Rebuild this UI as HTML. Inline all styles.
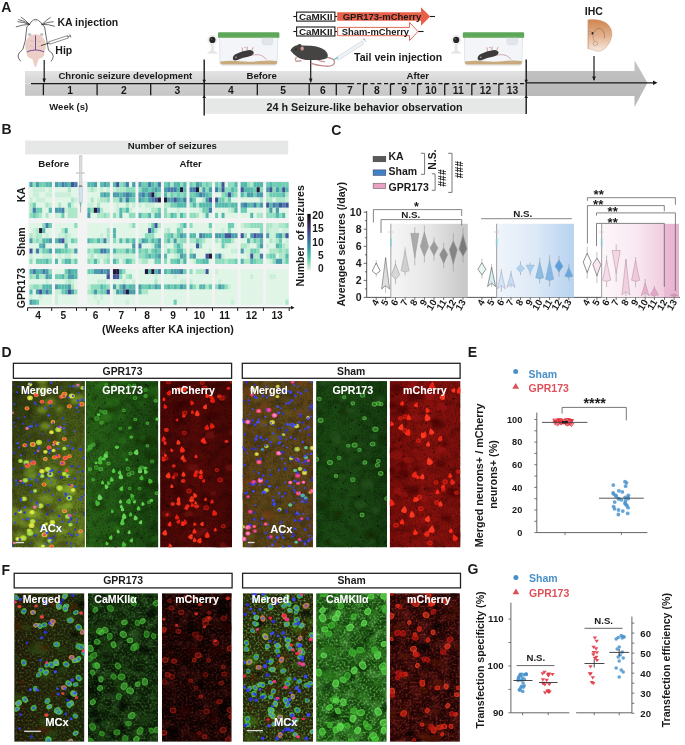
<!DOCTYPE html>
<html><head><meta charset="utf-8"><style>
html,body{margin:0;padding:0;background:#fff;width:685px;height:745px;overflow:hidden}
svg{display:block;will-change:transform}
text{font-family:"Liberation Sans",sans-serif;font-weight:bold}
</style></head><body>
<svg width="685" height="745" viewBox="0 0 685 745">
<rect width="685" height="745" fill="#fff"/>
<defs>
<filter id="bl0" x="-50%" y="-50%" width="200%" height="200%"><feGaussianBlur stdDeviation="0.3"/></filter>
<filter id="bl1" x="-50%" y="-50%" width="200%" height="200%"><feGaussianBlur stdDeviation="0.55"/></filter>
<filter id="bl15" x="-50%" y="-50%" width="200%" height="200%"><feGaussianBlur stdDeviation="0.7"/></filter>
<filter id="bl2" x="-50%" y="-50%" width="200%" height="200%"><feGaussianBlur stdDeviation="1.6"/></filter>
<filter id="tsh" x="-20%" y="-30%" width="140%" height="160%"><feGaussianBlur in="SourceAlpha" stdDeviation="0.6" result="b"/><feOffset dx="0.3" dy="0.4"/><feComponentTransfer><feFuncA type="linear" slope="0.6"/></feComponentTransfer><feMerge><feMergeNode/><feMergeNode in="SourceGraphic"/></feMerge></filter>
<filter id="nzk" x="0" y="0" width="100%" height="100%"><feTurbulence type="fractalNoise" baseFrequency="0.6" numOctaves="2" seed="3"/><feColorMatrix type="matrix" values="0 0 0 0 0  0 0 0 0 0  0 0 0 0 0  2.2 0 0 0 -1.0"/></filter><filter id="nzkb" x="0" y="0" width="100%" height="100%"><feTurbulence type="fractalNoise" baseFrequency="0.12" numOctaves="2" seed="5"/><feColorMatrix type="matrix" values="0 0 0 0 0  0 0 0 0 0  0 0 0 0 0  2.5 0 0 0 -1.1"/></filter><filter id="nzg" x="0" y="0" width="100%" height="100%"><feTurbulence type="fractalNoise" baseFrequency="0.5" numOctaves="2" seed="7"/><feColorMatrix type="matrix" values="0 0 0 0 0.2  0 0 0 0 0.8  0 0 0 0 0.15  2.6 0 0 0 -1.15"/></filter><filter id="nzgb" x="0" y="0" width="100%" height="100%"><feTurbulence type="fractalNoise" baseFrequency="0.1" numOctaves="2" seed="13"/><feColorMatrix type="matrix" values="0 0 0 0 0.2  0 0 0 0 0.75  0 0 0 0 0.15  2.4 0 0 0 -1.0"/></filter><filter id="nzr" x="0" y="0" width="100%" height="100%"><feTurbulence type="fractalNoise" baseFrequency="0.5" numOctaves="2" seed="11"/><feColorMatrix type="matrix" values="0 0 0 0 0.9  0 0 0 0 0.08  0 0 0 0 0.05  2.6 0 0 0 -1.15"/></filter><filter id="nzrb" x="0" y="0" width="100%" height="100%"><feTurbulence type="fractalNoise" baseFrequency="0.1" numOctaves="2" seed="17"/><feColorMatrix type="matrix" values="0 0 0 0 0.85  0 0 0 0 0.07  0 0 0 0 0.05  2.4 0 0 0 -1.0"/></filter></defs>
<text x="1.2" y="11.8" font-size="14" text-anchor="start" fill="#1a1a1a" >A</text>
<defs>
<linearGradient id="barTop" x1="0" y1="0" x2="0" y2="1"><stop offset="0" stop-color="#e4e4e4"/><stop offset="1" stop-color="#d2d2d2"/></linearGradient>
<linearGradient id="barBot" x1="0" y1="0" x2="0" y2="1"><stop offset="0" stop-color="#cfcfcf"/><stop offset="1" stop-color="#c6c6c6"/></linearGradient>
<linearGradient id="barR" x1="0" y1="0" x2="0" y2="1"><stop offset="0" stop-color="#c4c4c4"/><stop offset="1" stop-color="#b6b6b6"/></linearGradient>
<linearGradient id="brainG" x1="0" y1="0" x2="0" y2="1"><stop offset="0" stop-color="#cf8650"/><stop offset="0.5" stop-color="#e2b08c"/><stop offset="1" stop-color="#f8ebe2"/></linearGradient>
</defs>
<rect x="25" y="71" width="501" height="12.6" fill="url(#barTop)"/>
<rect x="25" y="83.6" width="501" height="12.2" fill="url(#barBot)"/>
<path d="M526,71 L634.5,71 L634.5,60.2 L647.5,82.8 L634.5,107 L634.5,96 L526,96 Z" fill="url(#barR)"/>
<rect x="205.4" y="98.4" width="320.6" height="15.4" fill="#e6e7e7"/>
<line x1="31" y1="83.6" x2="350" y2="83.6" stroke="#1a1a1a" stroke-width="1.4"/>
<line x1="350" y1="83.6" x2="526" y2="83.6" stroke="#1a1a1a" stroke-width="1.3" stroke-dasharray="4.2,2.6"/>
<line x1="526" y1="82.8" x2="654" y2="82.8" stroke="#1a1a1a" stroke-width="1.2"/>
<path d="M653,80.6 L657.5,82.8 L653,85 Z" fill="#1a1a1a"/>
<line x1="43.4" y1="83.6" x2="43.4" y2="95.2" stroke="#1a1a1a" stroke-width="1.3"/>
<line x1="97.1" y1="83.6" x2="97.1" y2="95.2" stroke="#1a1a1a" stroke-width="1.3"/>
<line x1="150.7" y1="83.6" x2="150.7" y2="95.2" stroke="#1a1a1a" stroke-width="1.3"/>
<line x1="257.3" y1="83.6" x2="257.3" y2="95.2" stroke="#1a1a1a" stroke-width="1.3"/>
<line x1="309.2" y1="83.6" x2="309.2" y2="95.2" stroke="#1a1a1a" stroke-width="1.3"/>
<line x1="336.3" y1="83.6" x2="336.3" y2="95.2" stroke="#1a1a1a" stroke-width="1.3"/>
<line x1="363.4" y1="83.6" x2="363.4" y2="95.2" stroke="#1a1a1a" stroke-width="1.3"/>
<line x1="363.4" y1="84" x2="366.9" y2="84" stroke="#1a1a1a" stroke-width="1.2"/>
<line x1="390.5" y1="83.6" x2="390.5" y2="95.2" stroke="#1a1a1a" stroke-width="1.3"/>
<line x1="390.5" y1="84" x2="394.0" y2="84" stroke="#1a1a1a" stroke-width="1.2"/>
<line x1="417.6" y1="83.6" x2="417.6" y2="95.2" stroke="#1a1a1a" stroke-width="1.3"/>
<line x1="417.6" y1="84" x2="421.1" y2="84" stroke="#1a1a1a" stroke-width="1.2"/>
<line x1="444.7" y1="83.6" x2="444.7" y2="95.2" stroke="#1a1a1a" stroke-width="1.3"/>
<line x1="444.7" y1="84" x2="448.2" y2="84" stroke="#1a1a1a" stroke-width="1.2"/>
<line x1="471.8" y1="83.6" x2="471.8" y2="95.2" stroke="#1a1a1a" stroke-width="1.3"/>
<line x1="471.8" y1="84" x2="475.3" y2="84" stroke="#1a1a1a" stroke-width="1.2"/>
<line x1="498.9" y1="83.6" x2="498.9" y2="95.2" stroke="#1a1a1a" stroke-width="1.3"/>
<line x1="498.9" y1="84" x2="502.4" y2="84" stroke="#1a1a1a" stroke-width="1.2"/>
<text x="70.2" y="93.9" font-size="10.3" text-anchor="middle" fill="#1a1a1a" >1</text>
<text x="123.9" y="93.9" font-size="10.3" text-anchor="middle" fill="#1a1a1a" >2</text>
<text x="177.4" y="93.9" font-size="10.3" text-anchor="middle" fill="#1a1a1a" >3</text>
<text x="230.8" y="93.9" font-size="10.3" text-anchor="middle" fill="#1a1a1a" >4</text>
<text x="283.2" y="93.9" font-size="10.3" text-anchor="middle" fill="#1a1a1a" >5</text>
<text x="322.8" y="93.9" font-size="10.3" text-anchor="middle" fill="#1a1a1a" >6</text>
<text x="349.9" y="93.9" font-size="10.3" text-anchor="middle" fill="#1a1a1a" >7</text>
<text x="376.9" y="93.9" font-size="10.3" text-anchor="middle" fill="#1a1a1a" >8</text>
<text x="404.1" y="93.9" font-size="10.3" text-anchor="middle" fill="#1a1a1a" >9</text>
<text x="431.1" y="93.9" font-size="10.3" text-anchor="middle" fill="#1a1a1a" >10</text>
<text x="458.2" y="93.9" font-size="10.3" text-anchor="middle" fill="#1a1a1a" >11</text>
<text x="485.4" y="93.9" font-size="10.3" text-anchor="middle" fill="#1a1a1a" >12</text>
<text x="512.5" y="93.9" font-size="10.3" text-anchor="middle" fill="#1a1a1a" >13</text>
<line x1="204.2" y1="59.5" x2="204.2" y2="115.5" stroke="#1a1a1a" stroke-width="1.4"/>
<line x1="526.2" y1="59.5" x2="526.2" y2="114" stroke="#1a1a1a" stroke-width="1.4"/>
<path d="M202.39999999999998,79.8 L206.0,79.8 L204.2,83 Z" fill="#1a1a1a"/>
<path d="M202.39999999999998,98 L206.0,98 L204.2,95 Z" fill="#1a1a1a"/>
<path d="M524.4000000000001,79.8 L528.0,79.8 L526.2,83 Z" fill="#1a1a1a"/>
<path d="M524.4000000000001,98 L528.0,98 L526.2,95 Z" fill="#1a1a1a"/>
<text x="125.3" y="79.3" font-size="9.6" text-anchor="middle" fill="#1a1a1a" >Chronic seizure development</text>
<text x="261.7" y="79.3" font-size="9.6" text-anchor="middle" fill="#1a1a1a" >Before</text>
<text x="417.8" y="79.3" font-size="9.6" text-anchor="middle" fill="#1a1a1a" >After</text>
<text x="364.6" y="110.9" font-size="10.75" text-anchor="middle" fill="#1a1a1a" >24 h Seizure-like behavior observation</text>
<text x="49.3" y="109.5" font-size="9.5" text-anchor="start" fill="#1a1a1a" >Week (s)</text>
<line x1="44.2" y1="60" x2="44.2" y2="82" stroke="#1a1a1a" stroke-width="1.2"/>
<path d="M42.4,78.6 L46,78.6 L44.2,83 Z" fill="#1a1a1a"/>
<line x1="310.7" y1="58" x2="310.7" y2="82" stroke="#1a1a1a" stroke-width="1.2"/>
<path d="M308.9,78.6 L312.5,78.6 L310.7,83 Z" fill="#1a1a1a"/>
<line x1="594" y1="56" x2="594" y2="80" stroke="#1a1a1a" stroke-width="1.2"/>
<path d="M592.2,76.6 L595.8,76.6 L594,81 Z" fill="#1a1a1a"/>
<text x="57.4" y="26.4" font-size="10.5" text-anchor="start" fill="#1a1a1a" >KA injection</text>
<text x="55.3" y="53.5" font-size="10.5" text-anchor="start" fill="#1a1a1a" >Hip</text>
<text x="354" y="60.6" font-size="10.6" text-anchor="start" fill="#1a1a1a" >Tail vein injection</text>
<text x="593.8" y="15.4" font-size="10.5" text-anchor="middle" fill="#1a1a1a" >IHC</text>
<g fill="none" stroke="#2a2a2a" stroke-width="0.7" stroke-linecap="round">
<path d="M29.6,24.4 Q25,19.5 21.1,17.2"/>
<path d="M29.6,24.4 Q23,21.8 17.9,21.7"/>
<path d="M29.6,24.4 Q22,24.6 16.2,26.8"/>
<path d="M29.6,24.4 Q24,20.6 18.8,19.6"/>
<path d="M42.1,24.4 Q46.5,19.8 50.3,17.5"/>
<path d="M42.1,24.4 Q48,21.8 53.2,21.7"/>
<path d="M42.1,24.4 Q49,24.2 54.5,26.2"/>
<path d="M29.6,24.4 Q31,21.2 32.2,21.1 Q33.2,19.4 35.6,19.4 Q38,19.4 38.9,21.1 Q40.4,21.2 42.1,24.4"/>
<path d="M29.6,24.4 Q27.6,25.6 26.8,27 L25.3,40.6 L22.8,49.4 Q18,53 18,56 Q18.5,59 20.5,61"/>
<path d="M42.1,24.4 Q44,25.6 44.6,27 L46.8,40.6 L48.5,50.3 Q53.3,53 53.3,56.4 Q52.8,59.5 51.2,61.2"/>
</g>
<ellipse cx="35.6" cy="20.6" rx="1.9" ry="0.9" fill="#d0d0d0"/>
<ellipse cx="29.6" cy="34.6" rx="1.4" ry="1.1" fill="#c8c8c8" stroke="#888" stroke-width="0.4"/>
<ellipse cx="41.7" cy="34.6" rx="1.4" ry="1.1" fill="#c8c8c8" stroke="#888" stroke-width="0.4"/>
<path d="M35.5,34.5 Q43,35 45,42 Q46.3,48 44,52 Q45,56 41,58 L38.5,58.5 Q37,63 36,66.5 L35,66.5 Q34,63 32.5,58.5 L30,58 Q26,56 27,52 Q24.7,48 26,42 Q28,35 35.5,34.5 Z" fill="#ecd0c8" stroke="#e0b8b0" stroke-width="0.4"/>
<path d="M35.5,35.5 L35.5,50 M27,51.8 Q31,50 35.5,50 Q40,50 44,51.8" fill="none" stroke="#6b3d8f" stroke-width="0.9"/>
<path d="M30,40 Q32,42 34,41 M37,41 Q39,43 41,41 M29,46 Q31,45 33,47 M38,47 Q40,45 42,46" fill="none" stroke="#b89aa8" stroke-width="0.4"/>
<line x1="41" y1="45.6" x2="49" y2="43" stroke="#222" stroke-width="0.8"/>
<path d="M48.8,41.8 L67.6,35.6 L68.4,38 L49.6,44.2 Z" fill="#fff" stroke="#444" stroke-width="0.6"/>
<line x1="67.4" y1="36.8" x2="70.5" y2="35.8" stroke="#444" stroke-width="0.7"/>
<line x1="69.8" y1="34.4" x2="70.9" y2="37.4" stroke="#444" stroke-width="0.7"/>
<g stroke="#1a1a1a" stroke-width="1.1" fill="none">
<line x1="293.3" y1="16.5" x2="296.6" y2="16.5"/><line x1="334.9" y1="16.5" x2="337.2" y2="16.5"/><line x1="430" y1="16.5" x2="435" y2="16.5"/>
<line x1="293.3" y1="31.5" x2="296.6" y2="31.5"/><line x1="334.9" y1="31.5" x2="337.2" y2="31.5"/><line x1="418" y1="31.5" x2="423.6" y2="31.5"/>
<rect x="296.6" y="12.1" width="38.3" height="9" fill="#fff"/>
<rect x="296.6" y="27" width="38.3" height="9" fill="#fff"/>
</g>
<path d="M337.2,12.3 L421,12.3 L421,7.3 L430.2,16.5 L421,25.7 L421,20.8 L337.2,20.8 Z" fill="#e8604a"/>
<path d="M337.6,27.4 L409.5,27.4 L409.5,22.4 L418,31.5 L409.5,40.6 L409.5,35.7 L337.6,35.7 Z" fill="#fff" stroke="#e05a48" stroke-width="0.9"/>
<text x="315.7" y="20.0" font-size="9.9" text-anchor="middle" fill="#1a1a1a" >CaMKII</text>
<text x="315.7" y="35.0" font-size="9.9" text-anchor="middle" fill="#1a1a1a" >CaMKII</text>
<text x="382" y="20.0" font-size="9.5" text-anchor="middle" fill="#1a1a1a" >GPR173-mCherry</text>
<text x="375.4" y="35.0" font-size="9.4" text-anchor="middle" fill="#1a1a1a" >Sham-mCherry</text>
<path d="M219.6,37.5 L277.79999999999995,37.5 L277.2,63 Q277.0,65.3 274.4,65.3 L222.5,65.3 Q220.0,65.3 219.9,63 Z" fill="#f3f5f9" stroke="#d4d8de" stroke-width="0.6"/>
<path d="M220.2,61.4 Q230.0,60.2 240.0,61.2 T260.0,61 T277.0,61 L277.0,63.2 Q276.4,64.4 274.4,64.4 L222.5,64.4 Q220.5,64.4 220.2,63 Z" fill="#c9aa7c"/>
<rect x="218.0" y="32.2" width="61.4" height="5.8" rx="1.3" fill="#5ea65a"/>
<rect x="218.5" y="36.8" width="60.4" height="1.2" fill="#7cb878"/>
<path d="M262.09999999999997,38 L272.7,38 L272.7,42.5 Q272.4,44.9 269.9,44.9 L264.9,44.9 Q262.4,44.9 262.09999999999997,42.5 Z" fill="#e2e6ec" stroke="#d0d4da" stroke-width="0.4"/>
<path d="M250.0,55.5 Q260.0,53.2 264.0,57.2 L266.5,59.4" stroke="#c08c8c" stroke-width="0.7" fill="none"/>
<path d="M243.0,51.6 L242.0,47.4 M247.0,50.6 L247.4,46.6 M252.0,50.2 L253.2,47.2 M244.4,47.4 L246.0,47.8" stroke="#c89494" stroke-width="0.9" fill="none"/>
<path d="M233.0,59.6 Q232.0,56 236.0,54 Q242.0,50.6 248.0,50.2 Q253.0,49.6 253.8,52.6 Q253.5,55.6 248.0,56.8 Q242.0,58 238.0,59.8 Q234.5,61.2 233.0,59.6 Z" fill="#3c3a3a"/>
<circle cx="236.0" cy="57.4" r="0.8" fill="#c89494"/>
<path d="M211.3,44 L211.3,50.8 L207.4,53.2 L217.4,53.2 L213.5,50.8 L213.5,44 Z" fill="#e8e8e8" stroke="#d6d6d6" stroke-width="0.4"/>
<circle cx="212.4" cy="39.9" r="4.6" fill="#f4f4f4" stroke="#dcdcdc" stroke-width="0.5"/>
<circle cx="212.4" cy="39.9" r="3.1" fill="#262626"/>
<circle cx="211.5" cy="39" r="0.8" fill="#666"/>
<path d="M464.40000000000003,37.5 L522.6,37.5 L522.0,63 Q521.8000000000001,65.3 519.2,65.3 L467.3,65.3 Q464.8,65.3 464.7,63 Z" fill="#f3f5f9" stroke="#d4d8de" stroke-width="0.6"/>
<path d="M465.0,61.4 Q474.8,60.2 484.8,61.2 T504.8,61 T521.8000000000001,61 L521.8000000000001,63.2 Q521.2,64.4 519.2,64.4 L467.3,64.4 Q465.3,64.4 465.0,63 Z" fill="#c9aa7c"/>
<rect x="462.8" y="32.2" width="61.4" height="5.8" rx="1.3" fill="#5ea65a"/>
<rect x="463.3" y="36.8" width="60.4" height="1.2" fill="#7cb878"/>
<path d="M506.90000000000003,38 L517.5,38 L517.5,42.5 Q517.2,44.9 514.7,44.9 L509.70000000000005,44.9 Q507.20000000000005,44.9 506.90000000000003,42.5 Z" fill="#e2e6ec" stroke="#d0d4da" stroke-width="0.4"/>
<path d="M494.8,55.5 Q504.8,53.2 508.8,57.2 L511.3,59.4" stroke="#c08c8c" stroke-width="0.7" fill="none"/>
<path d="M487.8,51.6 L486.8,47.4 M491.8,50.6 L492.2,46.6 M496.8,50.2 L498.0,47.2 M489.2,47.4 L490.8,47.8" stroke="#c89494" stroke-width="0.9" fill="none"/>
<path d="M477.8,59.6 Q476.8,56 480.8,54 Q486.8,50.6 492.8,50.2 Q497.8,49.6 498.6,52.6 Q498.3,55.6 492.8,56.8 Q486.8,58 482.8,59.8 Q479.3,61.2 477.8,59.6 Z" fill="#3c3a3a"/>
<circle cx="480.8" cy="57.4" r="0.8" fill="#c89494"/>
<path d="M455.09999999999997,44 L455.09999999999997,50.8 L451.2,53.2 L461.2,53.2 L457.3,50.8 L457.3,44 Z" fill="#e8e8e8" stroke="#d6d6d6" stroke-width="0.4"/>
<circle cx="456.2" cy="39.9" r="4.6" fill="#f4f4f4" stroke="#dcdcdc" stroke-width="0.5"/>
<circle cx="456.2" cy="39.9" r="3.1" fill="#262626"/>
<circle cx="455.3" cy="39" r="0.8" fill="#666"/>
<path d="M326,57.3 Q334,57.8 334.6,62 Q334.2,66.6 326,66.2 Q316,65.4 310.8,63.2" stroke="#c48a8a" stroke-width="1.3" fill="none"/>
<path d="M296.5,57 Q294.5,60 296.2,61.2 L301.5,60.8 M317,59.3 Q320.5,62 325,61.6" stroke="#c99a98" stroke-width="1.4" fill="none"/>
<path d="M290.4,50.6 Q292,46.6 297,45.3 L299.3,44.1 Q301,43.8 301.6,45.4 Q306,45.4 311,45.7 Q320,46.4 324.6,50 Q328.6,53.6 327.6,57 Q326,59.6 320,59.9 L306,59.9 Q301,59.6 298,57.6 Q293,54.2 290.4,50.6 Z" fill="#464442"/>
<ellipse cx="302.2" cy="48.6" rx="1.7" ry="2.1" fill="#c99a98"/>
<circle cx="296" cy="49.3" r="0.7" fill="#111"/>
<path d="M336,57.5 L362,41 L364,43.8 L338,60.3 Z" fill="#eef3f7" stroke="#b8c4cc" stroke-width="0.5"/>
<path d="M333.5,59.8 L338,57.5" stroke="#5fb8c0" stroke-width="1.2"/>
<path d="M362.5,40 L365.5,39 M363.5,38.3 L366,42" stroke="#aab" stroke-width="0.7"/>
<path d="M588.1,19.8 Q600,18.6 607,23.6 Q612.6,28.8 611.9,35.5 Q611,43 604.5,48.8 Q600.5,52 596.5,51.2 Q592,49 588.1,48.8 Z" fill="url(#brainG)" stroke="#c08a68" stroke-width="0.4"/>
<path d="M588.1,20 L588.1,48.8" stroke="#c08a68" stroke-width="0.5"/>
<path d="M593.5,33 Q596,27.5 600.5,28.5 Q605,30.5 604.6,38.5" stroke="#806050" stroke-width="0.5" fill="none"/>
<path d="M593.2,33.5 Q592.6,38 594.2,41" stroke="#806050" stroke-width="0.4" fill="none"/>
<ellipse cx="595.4" cy="43.5" rx="2.3" ry="2" fill="none" stroke="#907060" stroke-width="0.4"/>
<ellipse cx="592.5" cy="33.3" rx="0.9" ry="1.2" fill="#222"/>
<path d="M588.1,31.6 L591.5,31.6 M588.1,34.5 L591,34.5" stroke="#a08070" stroke-width="0.4"/>
<text x="1.5" y="134.4" font-size="14" text-anchor="start" fill="#1a1a1a" >B</text>
<rect x="25.2" y="140.6" width="263" height="13.8" fill="#e6e7e7"/>
<text x="172.3" y="149.4" font-size="9.6" text-anchor="middle" fill="#1a1a1a" >Number of seizures</text>
<text x="53.7" y="167.3" font-size="9.7" text-anchor="middle" fill="#1a1a1a" >Before</text>
<text x="190.6" y="167.4" font-size="9.6" text-anchor="middle" fill="#1a1a1a" >After</text>
<rect x="28" y="181" width="261" height="125.5" fill="#f3f3f3"/>
<rect x="29.50" y="182.10" width="3.25" height="5.18" fill="#4a9cab"/>
<rect x="32.70" y="182.10" width="3.25" height="5.18" fill="#8cdcbe"/>
<rect x="35.90" y="182.10" width="3.25" height="5.18" fill="#4a9cab"/>
<rect x="39.10" y="182.10" width="3.25" height="5.18" fill="#6ccdb3"/>
<rect x="42.30" y="182.10" width="3.25" height="5.18" fill="#6ccdb3"/>
<rect x="45.50" y="182.10" width="3.25" height="5.18" fill="#55b8ad"/>
<rect x="48.70" y="182.10" width="3.25" height="5.18" fill="#55b8ad"/>
<rect x="29.50" y="187.23" width="3.25" height="5.18" fill="#dff5e6"/>
<rect x="32.70" y="187.23" width="3.25" height="5.18" fill="#c8efd8"/>
<rect x="35.90" y="187.23" width="3.25" height="5.18" fill="#c8efd8"/>
<rect x="39.10" y="187.23" width="3.25" height="5.18" fill="#c8efd8"/>
<rect x="42.30" y="187.23" width="3.25" height="5.18" fill="#c8efd8"/>
<rect x="45.50" y="187.23" width="3.25" height="5.18" fill="#dff5e6"/>
<rect x="48.70" y="187.23" width="3.25" height="5.18" fill="#c8efd8"/>
<rect x="29.50" y="192.36" width="3.25" height="5.18" fill="#dff5e6"/>
<rect x="32.70" y="192.36" width="3.25" height="5.18" fill="#c8efd8"/>
<rect x="35.90" y="192.36" width="3.25" height="5.18" fill="#c8efd8"/>
<rect x="39.10" y="192.36" width="3.25" height="5.18" fill="#dff5e6"/>
<rect x="42.30" y="192.36" width="3.25" height="5.18" fill="#dff5e6"/>
<rect x="45.50" y="192.36" width="3.25" height="5.18" fill="#c8efd8"/>
<rect x="48.70" y="192.36" width="3.25" height="5.18" fill="#c8efd8"/>
<rect x="29.50" y="197.49" width="3.25" height="5.18" fill="#c8efd8"/>
<rect x="32.70" y="197.49" width="3.25" height="5.18" fill="#dff5e6"/>
<rect x="35.90" y="197.49" width="3.25" height="5.18" fill="#c8efd8"/>
<rect x="39.10" y="197.49" width="3.25" height="5.18" fill="#c8efd8"/>
<rect x="42.30" y="197.49" width="3.25" height="5.18" fill="#c8efd8"/>
<rect x="45.50" y="197.49" width="3.25" height="5.18" fill="#dff5e6"/>
<rect x="48.70" y="197.49" width="3.25" height="5.18" fill="#dff5e6"/>
<rect x="29.50" y="202.62" width="3.25" height="5.18" fill="#ace7c8"/>
<rect x="32.70" y="202.62" width="3.25" height="5.18" fill="#6ccdb3"/>
<rect x="35.90" y="202.62" width="3.25" height="5.18" fill="#dff5e6"/>
<rect x="39.10" y="202.62" width="3.25" height="5.18" fill="#dff5e6"/>
<rect x="42.30" y="202.62" width="3.25" height="5.18" fill="#dff5e6"/>
<rect x="45.50" y="202.62" width="3.25" height="5.18" fill="#ace7c8"/>
<rect x="48.70" y="202.62" width="3.25" height="5.18" fill="#c8efd8"/>
<rect x="29.50" y="207.75" width="3.25" height="5.18" fill="#ace7c8"/>
<rect x="32.70" y="207.75" width="3.25" height="5.18" fill="#437caa"/>
<rect x="35.90" y="207.75" width="3.25" height="5.18" fill="#6ccdb3"/>
<rect x="39.10" y="207.75" width="3.25" height="5.18" fill="#6ccdb3"/>
<rect x="42.30" y="207.75" width="3.25" height="5.18" fill="#dff5e6"/>
<rect x="45.50" y="207.75" width="3.25" height="5.18" fill="#dff5e6"/>
<rect x="48.70" y="207.75" width="3.25" height="5.18" fill="#55b8ad"/>
<rect x="29.50" y="212.88" width="3.25" height="5.18" fill="#8cdcbe"/>
<rect x="32.70" y="212.88" width="3.25" height="5.18" fill="#6ccdb3"/>
<rect x="35.90" y="212.88" width="3.25" height="5.18" fill="#8cdcbe"/>
<rect x="39.10" y="212.88" width="3.25" height="5.18" fill="#ace7c8"/>
<rect x="42.30" y="212.88" width="3.25" height="5.18" fill="#dff5e6"/>
<rect x="45.50" y="212.88" width="3.25" height="5.18" fill="#ace7c8"/>
<rect x="48.70" y="212.88" width="3.25" height="5.18" fill="#dff5e6"/>
<rect x="55.00" y="182.10" width="3.25" height="5.18" fill="#4a9cab"/>
<rect x="58.20" y="182.10" width="3.25" height="5.18" fill="#55b8ad"/>
<rect x="61.40" y="182.10" width="3.25" height="5.18" fill="#437caa"/>
<rect x="64.60" y="182.10" width="3.25" height="5.18" fill="#4a9cab"/>
<rect x="67.80" y="182.10" width="3.25" height="5.18" fill="#55b8ad"/>
<rect x="71.00" y="182.10" width="3.25" height="5.18" fill="#41549a"/>
<rect x="74.20" y="182.10" width="3.25" height="5.18" fill="#437caa"/>
<rect x="55.00" y="187.23" width="3.25" height="5.18" fill="#dff5e6"/>
<rect x="58.20" y="187.23" width="3.25" height="5.18" fill="#dff5e6"/>
<rect x="61.40" y="187.23" width="3.25" height="5.18" fill="#dff5e6"/>
<rect x="64.60" y="187.23" width="3.25" height="5.18" fill="#dff5e6"/>
<rect x="67.80" y="187.23" width="3.25" height="5.18" fill="#ace7c8"/>
<rect x="71.00" y="187.23" width="3.25" height="5.18" fill="#dff5e6"/>
<rect x="74.20" y="187.23" width="3.25" height="5.18" fill="#dff5e6"/>
<rect x="55.00" y="192.36" width="3.25" height="5.18" fill="#c8efd8"/>
<rect x="58.20" y="192.36" width="3.25" height="5.18" fill="#c8efd8"/>
<rect x="61.40" y="192.36" width="3.25" height="5.18" fill="#c8efd8"/>
<rect x="64.60" y="192.36" width="3.25" height="5.18" fill="#c8efd8"/>
<rect x="67.80" y="192.36" width="3.25" height="5.18" fill="#c8efd8"/>
<rect x="71.00" y="192.36" width="3.25" height="5.18" fill="#dff5e6"/>
<rect x="74.20" y="192.36" width="3.25" height="5.18" fill="#dff5e6"/>
<rect x="55.00" y="197.49" width="3.25" height="5.18" fill="#dff5e6"/>
<rect x="58.20" y="197.49" width="3.25" height="5.18" fill="#dff5e6"/>
<rect x="61.40" y="197.49" width="3.25" height="5.18" fill="#dff5e6"/>
<rect x="64.60" y="197.49" width="3.25" height="5.18" fill="#dff5e6"/>
<rect x="67.80" y="197.49" width="3.25" height="5.18" fill="#dff5e6"/>
<rect x="71.00" y="197.49" width="3.25" height="5.18" fill="#ace7c8"/>
<rect x="74.20" y="197.49" width="3.25" height="5.18" fill="#c8efd8"/>
<rect x="55.00" y="202.62" width="3.25" height="5.18" fill="#dff5e6"/>
<rect x="58.20" y="202.62" width="3.25" height="5.18" fill="#ace7c8"/>
<rect x="61.40" y="202.62" width="3.25" height="5.18" fill="#dff5e6"/>
<rect x="64.60" y="202.62" width="3.25" height="5.18" fill="#dff5e6"/>
<rect x="67.80" y="202.62" width="3.25" height="5.18" fill="#6ccdb3"/>
<rect x="71.00" y="202.62" width="3.25" height="5.18" fill="#c8efd8"/>
<rect x="74.20" y="202.62" width="3.25" height="5.18" fill="#dff5e6"/>
<rect x="55.00" y="207.75" width="3.25" height="5.18" fill="#4a9cab"/>
<rect x="58.20" y="207.75" width="3.25" height="5.18" fill="#4a9cab"/>
<rect x="61.40" y="207.75" width="3.25" height="5.18" fill="#437caa"/>
<rect x="64.60" y="207.75" width="3.25" height="5.18" fill="#c8efd8"/>
<rect x="67.80" y="207.75" width="3.25" height="5.18" fill="#ace7c8"/>
<rect x="71.00" y="207.75" width="3.25" height="5.18" fill="#ace7c8"/>
<rect x="74.20" y="207.75" width="3.25" height="5.18" fill="#ace7c8"/>
<rect x="55.00" y="212.88" width="3.25" height="5.18" fill="#c8efd8"/>
<rect x="58.20" y="212.88" width="3.25" height="5.18" fill="#c8efd8"/>
<rect x="61.40" y="212.88" width="3.25" height="5.18" fill="#6ccdb3"/>
<rect x="64.60" y="212.88" width="3.25" height="5.18" fill="#dff5e6"/>
<rect x="67.80" y="212.88" width="3.25" height="5.18" fill="#ace7c8"/>
<rect x="71.00" y="212.88" width="3.25" height="5.18" fill="#ace7c8"/>
<rect x="74.20" y="212.88" width="3.25" height="5.18" fill="#ace7c8"/>
<rect x="87.40" y="182.10" width="3.25" height="5.18" fill="#55b8ad"/>
<rect x="90.60" y="182.10" width="3.25" height="5.18" fill="#55b8ad"/>
<rect x="93.80" y="182.10" width="3.25" height="5.18" fill="#4a9cab"/>
<rect x="97.00" y="182.10" width="3.25" height="5.18" fill="#dff5e6"/>
<rect x="100.20" y="182.10" width="3.25" height="5.18" fill="#55b8ad"/>
<rect x="103.40" y="182.10" width="3.25" height="5.18" fill="#4a9cab"/>
<rect x="106.60" y="182.10" width="3.25" height="5.18" fill="#55b8ad"/>
<rect x="87.40" y="187.23" width="3.25" height="5.18" fill="#c8efd8"/>
<rect x="90.60" y="187.23" width="3.25" height="5.18" fill="#ace7c8"/>
<rect x="93.80" y="187.23" width="3.25" height="5.18" fill="#c8efd8"/>
<rect x="97.00" y="187.23" width="3.25" height="5.18" fill="#dff5e6"/>
<rect x="100.20" y="187.23" width="3.25" height="5.18" fill="#c8efd8"/>
<rect x="103.40" y="187.23" width="3.25" height="5.18" fill="#dff5e6"/>
<rect x="106.60" y="187.23" width="3.25" height="5.18" fill="#c8efd8"/>
<rect x="87.40" y="192.36" width="3.25" height="5.18" fill="#dff5e6"/>
<rect x="90.60" y="192.36" width="3.25" height="5.18" fill="#dff5e6"/>
<rect x="93.80" y="192.36" width="3.25" height="5.18" fill="#dff5e6"/>
<rect x="97.00" y="192.36" width="3.25" height="5.18" fill="#dff5e6"/>
<rect x="100.20" y="192.36" width="3.25" height="5.18" fill="#55b8ad"/>
<rect x="103.40" y="192.36" width="3.25" height="5.18" fill="#4a9cab"/>
<rect x="106.60" y="192.36" width="3.25" height="5.18" fill="#55b8ad"/>
<rect x="87.40" y="197.49" width="3.25" height="5.18" fill="#dff5e6"/>
<rect x="90.60" y="197.49" width="3.25" height="5.18" fill="#ace7c8"/>
<rect x="93.80" y="197.49" width="3.25" height="5.18" fill="#dff5e6"/>
<rect x="97.00" y="197.49" width="3.25" height="5.18" fill="#c8efd8"/>
<rect x="100.20" y="197.49" width="3.25" height="5.18" fill="#ace7c8"/>
<rect x="103.40" y="197.49" width="3.25" height="5.18" fill="#ace7c8"/>
<rect x="106.60" y="197.49" width="3.25" height="5.18" fill="#8cdcbe"/>
<rect x="87.40" y="202.62" width="3.25" height="5.18" fill="#c8efd8"/>
<rect x="90.60" y="202.62" width="3.25" height="5.18" fill="#c8efd8"/>
<rect x="93.80" y="202.62" width="3.25" height="5.18" fill="#dff5e6"/>
<rect x="97.00" y="202.62" width="3.25" height="5.18" fill="#ace7c8"/>
<rect x="100.20" y="202.62" width="3.25" height="5.18" fill="#dff5e6"/>
<rect x="103.40" y="202.62" width="3.25" height="5.18" fill="#dff5e6"/>
<rect x="106.60" y="202.62" width="3.25" height="5.18" fill="#dff5e6"/>
<rect x="87.40" y="207.75" width="3.25" height="5.18" fill="#55b8ad"/>
<rect x="90.60" y="207.75" width="3.25" height="5.18" fill="#8cdcbe"/>
<rect x="93.80" y="207.75" width="3.25" height="5.18" fill="#22193a"/>
<rect x="97.00" y="207.75" width="3.25" height="5.18" fill="#437caa"/>
<rect x="100.20" y="207.75" width="3.25" height="5.18" fill="#ace7c8"/>
<rect x="103.40" y="207.75" width="3.25" height="5.18" fill="#dff5e6"/>
<rect x="106.60" y="207.75" width="3.25" height="5.18" fill="#dff5e6"/>
<rect x="87.40" y="212.88" width="3.25" height="5.18" fill="#4a9cab"/>
<rect x="90.60" y="212.88" width="3.25" height="5.18" fill="#dff5e6"/>
<rect x="93.80" y="212.88" width="3.25" height="5.18" fill="#dff5e6"/>
<rect x="97.00" y="212.88" width="3.25" height="5.18" fill="#ace7c8"/>
<rect x="100.20" y="212.88" width="3.25" height="5.18" fill="#ace7c8"/>
<rect x="103.40" y="212.88" width="3.25" height="5.18" fill="#8cdcbe"/>
<rect x="106.60" y="212.88" width="3.25" height="5.18" fill="#ace7c8"/>
<rect x="112.94" y="182.10" width="3.25" height="5.18" fill="#55b8ad"/>
<rect x="116.14" y="182.10" width="3.25" height="5.18" fill="#41549a"/>
<rect x="119.34" y="182.10" width="3.25" height="5.18" fill="#8cdcbe"/>
<rect x="122.54" y="182.10" width="3.25" height="5.18" fill="#6ccdb3"/>
<rect x="125.74" y="182.10" width="3.25" height="5.18" fill="#437caa"/>
<rect x="128.94" y="182.10" width="3.25" height="5.18" fill="#dff5e6"/>
<rect x="132.14" y="182.10" width="3.25" height="5.18" fill="#4a9cab"/>
<rect x="112.94" y="187.23" width="3.25" height="5.18" fill="#c8efd8"/>
<rect x="116.14" y="187.23" width="3.25" height="5.18" fill="#ace7c8"/>
<rect x="119.34" y="187.23" width="3.25" height="5.18" fill="#ace7c8"/>
<rect x="122.54" y="187.23" width="3.25" height="5.18" fill="#ace7c8"/>
<rect x="125.74" y="187.23" width="3.25" height="5.18" fill="#8cdcbe"/>
<rect x="128.94" y="187.23" width="3.25" height="5.18" fill="#8cdcbe"/>
<rect x="132.14" y="187.23" width="3.25" height="5.18" fill="#8cdcbe"/>
<rect x="112.94" y="192.36" width="3.25" height="5.18" fill="#4a9cab"/>
<rect x="116.14" y="192.36" width="3.25" height="5.18" fill="#4a9cab"/>
<rect x="119.34" y="192.36" width="3.25" height="5.18" fill="#55b8ad"/>
<rect x="122.54" y="192.36" width="3.25" height="5.18" fill="#4a9cab"/>
<rect x="125.74" y="192.36" width="3.25" height="5.18" fill="#437caa"/>
<rect x="128.94" y="192.36" width="3.25" height="5.18" fill="#4a9cab"/>
<rect x="132.14" y="192.36" width="3.25" height="5.18" fill="#55b8ad"/>
<rect x="112.94" y="197.49" width="3.25" height="5.18" fill="#ace7c8"/>
<rect x="116.14" y="197.49" width="3.25" height="5.18" fill="#ace7c8"/>
<rect x="119.34" y="197.49" width="3.25" height="5.18" fill="#4a9cab"/>
<rect x="122.54" y="197.49" width="3.25" height="5.18" fill="#8cdcbe"/>
<rect x="125.74" y="197.49" width="3.25" height="5.18" fill="#437caa"/>
<rect x="128.94" y="197.49" width="3.25" height="5.18" fill="#6ccdb3"/>
<rect x="132.14" y="197.49" width="3.25" height="5.18" fill="#6ccdb3"/>
<rect x="112.94" y="202.62" width="3.25" height="5.18" fill="#dff5e6"/>
<rect x="116.14" y="202.62" width="3.25" height="5.18" fill="#c8efd8"/>
<rect x="119.34" y="202.62" width="3.25" height="5.18" fill="#dff5e6"/>
<rect x="122.54" y="202.62" width="3.25" height="5.18" fill="#dff5e6"/>
<rect x="125.74" y="202.62" width="3.25" height="5.18" fill="#ace7c8"/>
<rect x="128.94" y="202.62" width="3.25" height="5.18" fill="#dff5e6"/>
<rect x="132.14" y="202.62" width="3.25" height="5.18" fill="#c8efd8"/>
<rect x="112.94" y="207.75" width="3.25" height="5.18" fill="#dff5e6"/>
<rect x="116.14" y="207.75" width="3.25" height="5.18" fill="#c8efd8"/>
<rect x="119.34" y="207.75" width="3.25" height="5.18" fill="#55b8ad"/>
<rect x="122.54" y="207.75" width="3.25" height="5.18" fill="#8cdcbe"/>
<rect x="125.74" y="207.75" width="3.25" height="5.18" fill="#55b8ad"/>
<rect x="128.94" y="207.75" width="3.25" height="5.18" fill="#c8efd8"/>
<rect x="132.14" y="207.75" width="3.25" height="5.18" fill="#dff5e6"/>
<rect x="112.94" y="212.88" width="3.25" height="5.18" fill="#8cdcbe"/>
<rect x="116.14" y="212.88" width="3.25" height="5.18" fill="#c8efd8"/>
<rect x="119.34" y="212.88" width="3.25" height="5.18" fill="#55b8ad"/>
<rect x="122.54" y="212.88" width="3.25" height="5.18" fill="#dff5e6"/>
<rect x="125.74" y="212.88" width="3.25" height="5.18" fill="#dff5e6"/>
<rect x="128.94" y="212.88" width="3.25" height="5.18" fill="#8cdcbe"/>
<rect x="132.14" y="212.88" width="3.25" height="5.18" fill="#8cdcbe"/>
<rect x="138.48" y="182.10" width="3.25" height="5.18" fill="#4a9cab"/>
<rect x="141.68" y="182.10" width="3.25" height="5.18" fill="#6ccdb3"/>
<rect x="144.88" y="182.10" width="3.25" height="5.18" fill="#6ccdb3"/>
<rect x="148.08" y="182.10" width="3.25" height="5.18" fill="#437caa"/>
<rect x="151.28" y="182.10" width="3.25" height="5.18" fill="#55b8ad"/>
<rect x="154.48" y="182.10" width="3.25" height="5.18" fill="#6ccdb3"/>
<rect x="157.68" y="182.10" width="3.25" height="5.18" fill="#437caa"/>
<rect x="138.48" y="187.23" width="3.25" height="5.18" fill="#8cdcbe"/>
<rect x="141.68" y="187.23" width="3.25" height="5.18" fill="#55b8ad"/>
<rect x="144.88" y="187.23" width="3.25" height="5.18" fill="#55b8ad"/>
<rect x="148.08" y="187.23" width="3.25" height="5.18" fill="#6ccdb3"/>
<rect x="151.28" y="187.23" width="3.25" height="5.18" fill="#55b8ad"/>
<rect x="154.48" y="187.23" width="3.25" height="5.18" fill="#4a9cab"/>
<rect x="157.68" y="187.23" width="3.25" height="5.18" fill="#55b8ad"/>
<rect x="138.48" y="192.36" width="3.25" height="5.18" fill="#4a9cab"/>
<rect x="141.68" y="192.36" width="3.25" height="5.18" fill="#437caa"/>
<rect x="144.88" y="192.36" width="3.25" height="5.18" fill="#55b8ad"/>
<rect x="148.08" y="192.36" width="3.25" height="5.18" fill="#437caa"/>
<rect x="151.28" y="192.36" width="3.25" height="5.18" fill="#22193a"/>
<rect x="154.48" y="192.36" width="3.25" height="5.18" fill="#6ccdb3"/>
<rect x="157.68" y="192.36" width="3.25" height="5.18" fill="#8cdcbe"/>
<rect x="138.48" y="197.49" width="3.25" height="5.18" fill="#4a9cab"/>
<rect x="141.68" y="197.49" width="3.25" height="5.18" fill="#55b8ad"/>
<rect x="144.88" y="197.49" width="3.25" height="5.18" fill="#6ccdb3"/>
<rect x="148.08" y="197.49" width="3.25" height="5.18" fill="#4a9cab"/>
<rect x="151.28" y="197.49" width="3.25" height="5.18" fill="#437caa"/>
<rect x="154.48" y="197.49" width="3.25" height="5.18" fill="#41549a"/>
<rect x="157.68" y="197.49" width="3.25" height="5.18" fill="#22193a"/>
<rect x="138.48" y="202.62" width="3.25" height="5.18" fill="#c8efd8"/>
<rect x="141.68" y="202.62" width="3.25" height="5.18" fill="#dff5e6"/>
<rect x="144.88" y="202.62" width="3.25" height="5.18" fill="#c8efd8"/>
<rect x="148.08" y="202.62" width="3.25" height="5.18" fill="#c8efd8"/>
<rect x="151.28" y="202.62" width="3.25" height="5.18" fill="#c8efd8"/>
<rect x="154.48" y="202.62" width="3.25" height="5.18" fill="#dff5e6"/>
<rect x="157.68" y="202.62" width="3.25" height="5.18" fill="#dff5e6"/>
<rect x="138.48" y="207.75" width="3.25" height="5.18" fill="#dff5e6"/>
<rect x="141.68" y="207.75" width="3.25" height="5.18" fill="#dff5e6"/>
<rect x="144.88" y="207.75" width="3.25" height="5.18" fill="#dff5e6"/>
<rect x="148.08" y="207.75" width="3.25" height="5.18" fill="#dff5e6"/>
<rect x="151.28" y="207.75" width="3.25" height="5.18" fill="#ace7c8"/>
<rect x="154.48" y="207.75" width="3.25" height="5.18" fill="#ace7c8"/>
<rect x="157.68" y="207.75" width="3.25" height="5.18" fill="#6ccdb3"/>
<rect x="138.48" y="212.88" width="3.25" height="5.18" fill="#55b8ad"/>
<rect x="141.68" y="212.88" width="3.25" height="5.18" fill="#8cdcbe"/>
<rect x="144.88" y="212.88" width="3.25" height="5.18" fill="#8cdcbe"/>
<rect x="148.08" y="212.88" width="3.25" height="5.18" fill="#55b8ad"/>
<rect x="151.28" y="212.88" width="3.25" height="5.18" fill="#c8efd8"/>
<rect x="154.48" y="212.88" width="3.25" height="5.18" fill="#55b8ad"/>
<rect x="157.68" y="212.88" width="3.25" height="5.18" fill="#55b8ad"/>
<rect x="164.02" y="182.10" width="3.25" height="5.18" fill="#6ccdb3"/>
<rect x="167.22" y="182.10" width="3.25" height="5.18" fill="#55b8ad"/>
<rect x="170.42" y="182.10" width="3.25" height="5.18" fill="#ace7c8"/>
<rect x="173.62" y="182.10" width="3.25" height="5.18" fill="#55b8ad"/>
<rect x="176.82" y="182.10" width="3.25" height="5.18" fill="#55b8ad"/>
<rect x="180.02" y="182.10" width="3.25" height="5.18" fill="#8cdcbe"/>
<rect x="183.22" y="182.10" width="3.25" height="5.18" fill="#55b8ad"/>
<rect x="164.02" y="187.23" width="3.25" height="5.18" fill="#4a9cab"/>
<rect x="167.22" y="187.23" width="3.25" height="5.18" fill="#437caa"/>
<rect x="170.42" y="187.23" width="3.25" height="5.18" fill="#437caa"/>
<rect x="173.62" y="187.23" width="3.25" height="5.18" fill="#437caa"/>
<rect x="176.82" y="187.23" width="3.25" height="5.18" fill="#55b8ad"/>
<rect x="180.02" y="187.23" width="3.25" height="5.18" fill="#22193a"/>
<rect x="183.22" y="187.23" width="3.25" height="5.18" fill="#55b8ad"/>
<rect x="164.02" y="192.36" width="3.25" height="5.18" fill="#55b8ad"/>
<rect x="167.22" y="192.36" width="3.25" height="5.18" fill="#ace7c8"/>
<rect x="170.42" y="192.36" width="3.25" height="5.18" fill="#6ccdb3"/>
<rect x="173.62" y="192.36" width="3.25" height="5.18" fill="#8cdcbe"/>
<rect x="176.82" y="192.36" width="3.25" height="5.18" fill="#6ccdb3"/>
<rect x="180.02" y="192.36" width="3.25" height="5.18" fill="#8cdcbe"/>
<rect x="183.22" y="192.36" width="3.25" height="5.18" fill="#6ccdb3"/>
<rect x="164.02" y="197.49" width="3.25" height="5.18" fill="#22193a"/>
<rect x="167.22" y="197.49" width="3.25" height="5.18" fill="#4a9cab"/>
<rect x="170.42" y="197.49" width="3.25" height="5.18" fill="#4a9cab"/>
<rect x="173.62" y="197.49" width="3.25" height="5.18" fill="#41549a"/>
<rect x="176.82" y="197.49" width="3.25" height="5.18" fill="#4a9cab"/>
<rect x="180.02" y="197.49" width="3.25" height="5.18" fill="#55b8ad"/>
<rect x="183.22" y="197.49" width="3.25" height="5.18" fill="#437caa"/>
<rect x="164.02" y="202.62" width="3.25" height="5.18" fill="#ace7c8"/>
<rect x="167.22" y="202.62" width="3.25" height="5.18" fill="#ace7c8"/>
<rect x="170.42" y="202.62" width="3.25" height="5.18" fill="#6ccdb3"/>
<rect x="173.62" y="202.62" width="3.25" height="5.18" fill="#6ccdb3"/>
<rect x="176.82" y="202.62" width="3.25" height="5.18" fill="#55b8ad"/>
<rect x="180.02" y="202.62" width="3.25" height="5.18" fill="#55b8ad"/>
<rect x="183.22" y="202.62" width="3.25" height="5.18" fill="#55b8ad"/>
<rect x="164.02" y="207.75" width="3.25" height="5.18" fill="#8cdcbe"/>
<rect x="167.22" y="207.75" width="3.25" height="5.18" fill="#dff5e6"/>
<rect x="170.42" y="207.75" width="3.25" height="5.18" fill="#dff5e6"/>
<rect x="173.62" y="207.75" width="3.25" height="5.18" fill="#dff5e6"/>
<rect x="176.82" y="207.75" width="3.25" height="5.18" fill="#c8efd8"/>
<rect x="180.02" y="207.75" width="3.25" height="5.18" fill="#dff5e6"/>
<rect x="183.22" y="207.75" width="3.25" height="5.18" fill="#dff5e6"/>
<rect x="164.02" y="212.88" width="3.25" height="5.18" fill="#8cdcbe"/>
<rect x="167.22" y="212.88" width="3.25" height="5.18" fill="#ace7c8"/>
<rect x="170.42" y="212.88" width="3.25" height="5.18" fill="#55b8ad"/>
<rect x="173.62" y="212.88" width="3.25" height="5.18" fill="#6ccdb3"/>
<rect x="176.82" y="212.88" width="3.25" height="5.18" fill="#c8efd8"/>
<rect x="180.02" y="212.88" width="3.25" height="5.18" fill="#55b8ad"/>
<rect x="183.22" y="212.88" width="3.25" height="5.18" fill="#8cdcbe"/>
<rect x="189.56" y="182.10" width="3.25" height="5.18" fill="#6ccdb3"/>
<rect x="192.76" y="182.10" width="3.25" height="5.18" fill="#8cdcbe"/>
<rect x="195.96" y="182.10" width="3.25" height="5.18" fill="#4a9cab"/>
<rect x="199.16" y="182.10" width="3.25" height="5.18" fill="#55b8ad"/>
<rect x="202.36" y="182.10" width="3.25" height="5.18" fill="#8cdcbe"/>
<rect x="205.56" y="182.10" width="3.25" height="5.18" fill="#6ccdb3"/>
<rect x="208.76" y="182.10" width="3.25" height="5.18" fill="#8cdcbe"/>
<rect x="189.56" y="187.23" width="3.25" height="5.18" fill="#437caa"/>
<rect x="192.76" y="187.23" width="3.25" height="5.18" fill="#437caa"/>
<rect x="195.96" y="187.23" width="3.25" height="5.18" fill="#22193a"/>
<rect x="199.16" y="187.23" width="3.25" height="5.18" fill="#ace7c8"/>
<rect x="202.36" y="187.23" width="3.25" height="5.18" fill="#4a9cab"/>
<rect x="205.56" y="187.23" width="3.25" height="5.18" fill="#8cdcbe"/>
<rect x="208.76" y="187.23" width="3.25" height="5.18" fill="#4a9cab"/>
<rect x="189.56" y="192.36" width="3.25" height="5.18" fill="#6ccdb3"/>
<rect x="192.76" y="192.36" width="3.25" height="5.18" fill="#6ccdb3"/>
<rect x="195.96" y="192.36" width="3.25" height="5.18" fill="#55b8ad"/>
<rect x="199.16" y="192.36" width="3.25" height="5.18" fill="#437caa"/>
<rect x="202.36" y="192.36" width="3.25" height="5.18" fill="#4a9cab"/>
<rect x="205.56" y="192.36" width="3.25" height="5.18" fill="#55b8ad"/>
<rect x="208.76" y="192.36" width="3.25" height="5.18" fill="#6ccdb3"/>
<rect x="189.56" y="197.49" width="3.25" height="5.18" fill="#4a9cab"/>
<rect x="192.76" y="197.49" width="3.25" height="5.18" fill="#6ccdb3"/>
<rect x="195.96" y="197.49" width="3.25" height="5.18" fill="#dff5e6"/>
<rect x="199.16" y="197.49" width="3.25" height="5.18" fill="#dff5e6"/>
<rect x="202.36" y="197.49" width="3.25" height="5.18" fill="#ace7c8"/>
<rect x="205.56" y="197.49" width="3.25" height="5.18" fill="#4a9cab"/>
<rect x="208.76" y="197.49" width="3.25" height="5.18" fill="#41549a"/>
<rect x="189.56" y="202.62" width="3.25" height="5.18" fill="#8cdcbe"/>
<rect x="192.76" y="202.62" width="3.25" height="5.18" fill="#55b8ad"/>
<rect x="195.96" y="202.62" width="3.25" height="5.18" fill="#ace7c8"/>
<rect x="199.16" y="202.62" width="3.25" height="5.18" fill="#55b8ad"/>
<rect x="202.36" y="202.62" width="3.25" height="5.18" fill="#55b8ad"/>
<rect x="205.56" y="202.62" width="3.25" height="5.18" fill="#55b8ad"/>
<rect x="208.76" y="202.62" width="3.25" height="5.18" fill="#55b8ad"/>
<rect x="189.56" y="207.75" width="3.25" height="5.18" fill="#dff5e6"/>
<rect x="192.76" y="207.75" width="3.25" height="5.18" fill="#dff5e6"/>
<rect x="195.96" y="207.75" width="3.25" height="5.18" fill="#dff5e6"/>
<rect x="199.16" y="207.75" width="3.25" height="5.18" fill="#c8efd8"/>
<rect x="202.36" y="207.75" width="3.25" height="5.18" fill="#6ccdb3"/>
<rect x="205.56" y="207.75" width="3.25" height="5.18" fill="#6ccdb3"/>
<rect x="208.76" y="207.75" width="3.25" height="5.18" fill="#437caa"/>
<rect x="189.56" y="212.88" width="3.25" height="5.18" fill="#8cdcbe"/>
<rect x="192.76" y="212.88" width="3.25" height="5.18" fill="#8cdcbe"/>
<rect x="195.96" y="212.88" width="3.25" height="5.18" fill="#ace7c8"/>
<rect x="199.16" y="212.88" width="3.25" height="5.18" fill="#dff5e6"/>
<rect x="202.36" y="212.88" width="3.25" height="5.18" fill="#c8efd8"/>
<rect x="205.56" y="212.88" width="3.25" height="5.18" fill="#55b8ad"/>
<rect x="208.76" y="212.88" width="3.25" height="5.18" fill="#dff5e6"/>
<rect x="215.10" y="182.10" width="3.25" height="5.18" fill="#6ccdb3"/>
<rect x="218.30" y="182.10" width="3.25" height="5.18" fill="#8cdcbe"/>
<rect x="221.50" y="182.10" width="3.25" height="5.18" fill="#41549a"/>
<rect x="224.70" y="182.10" width="3.25" height="5.18" fill="#dff5e6"/>
<rect x="227.90" y="182.10" width="3.25" height="5.18" fill="#8cdcbe"/>
<rect x="231.10" y="182.10" width="3.25" height="5.18" fill="#8cdcbe"/>
<rect x="234.30" y="182.10" width="3.25" height="5.18" fill="#55b8ad"/>
<rect x="215.10" y="187.23" width="3.25" height="5.18" fill="#437caa"/>
<rect x="218.30" y="187.23" width="3.25" height="5.18" fill="#6ccdb3"/>
<rect x="221.50" y="187.23" width="3.25" height="5.18" fill="#41549a"/>
<rect x="224.70" y="187.23" width="3.25" height="5.18" fill="#8cdcbe"/>
<rect x="227.90" y="187.23" width="3.25" height="5.18" fill="#8cdcbe"/>
<rect x="231.10" y="187.23" width="3.25" height="5.18" fill="#55b8ad"/>
<rect x="234.30" y="187.23" width="3.25" height="5.18" fill="#6ccdb3"/>
<rect x="215.10" y="192.36" width="3.25" height="5.18" fill="#dff5e6"/>
<rect x="218.30" y="192.36" width="3.25" height="5.18" fill="#dff5e6"/>
<rect x="221.50" y="192.36" width="3.25" height="5.18" fill="#8cdcbe"/>
<rect x="224.70" y="192.36" width="3.25" height="5.18" fill="#6ccdb3"/>
<rect x="227.90" y="192.36" width="3.25" height="5.18" fill="#41549a"/>
<rect x="231.10" y="192.36" width="3.25" height="5.18" fill="#6ccdb3"/>
<rect x="234.30" y="192.36" width="3.25" height="5.18" fill="#8cdcbe"/>
<rect x="215.10" y="197.49" width="3.25" height="5.18" fill="#41549a"/>
<rect x="218.30" y="197.49" width="3.25" height="5.18" fill="#6ccdb3"/>
<rect x="221.50" y="197.49" width="3.25" height="5.18" fill="#6ccdb3"/>
<rect x="224.70" y="197.49" width="3.25" height="5.18" fill="#ace7c8"/>
<rect x="227.90" y="197.49" width="3.25" height="5.18" fill="#6ccdb3"/>
<rect x="231.10" y="197.49" width="3.25" height="5.18" fill="#dff5e6"/>
<rect x="234.30" y="197.49" width="3.25" height="5.18" fill="#dff5e6"/>
<rect x="215.10" y="202.62" width="3.25" height="5.18" fill="#55b8ad"/>
<rect x="218.30" y="202.62" width="3.25" height="5.18" fill="#55b8ad"/>
<rect x="221.50" y="202.62" width="3.25" height="5.18" fill="#55b8ad"/>
<rect x="224.70" y="202.62" width="3.25" height="5.18" fill="#55b8ad"/>
<rect x="227.90" y="202.62" width="3.25" height="5.18" fill="#6ccdb3"/>
<rect x="231.10" y="202.62" width="3.25" height="5.18" fill="#55b8ad"/>
<rect x="234.30" y="202.62" width="3.25" height="5.18" fill="#55b8ad"/>
<rect x="215.10" y="207.75" width="3.25" height="5.18" fill="#dff5e6"/>
<rect x="218.30" y="207.75" width="3.25" height="5.18" fill="#dff5e6"/>
<rect x="221.50" y="207.75" width="3.25" height="5.18" fill="#dff5e6"/>
<rect x="224.70" y="207.75" width="3.25" height="5.18" fill="#dff5e6"/>
<rect x="227.90" y="207.75" width="3.25" height="5.18" fill="#c8efd8"/>
<rect x="231.10" y="207.75" width="3.25" height="5.18" fill="#ace7c8"/>
<rect x="234.30" y="207.75" width="3.25" height="5.18" fill="#55b8ad"/>
<rect x="215.10" y="212.88" width="3.25" height="5.18" fill="#6ccdb3"/>
<rect x="218.30" y="212.88" width="3.25" height="5.18" fill="#dff5e6"/>
<rect x="221.50" y="212.88" width="3.25" height="5.18" fill="#55b8ad"/>
<rect x="224.70" y="212.88" width="3.25" height="5.18" fill="#dff5e6"/>
<rect x="227.90" y="212.88" width="3.25" height="5.18" fill="#dff5e6"/>
<rect x="231.10" y="212.88" width="3.25" height="5.18" fill="#dff5e6"/>
<rect x="234.30" y="212.88" width="3.25" height="5.18" fill="#dff5e6"/>
<rect x="240.64" y="182.10" width="3.25" height="5.18" fill="#55b8ad"/>
<rect x="243.84" y="182.10" width="3.25" height="5.18" fill="#55b8ad"/>
<rect x="247.04" y="182.10" width="3.25" height="5.18" fill="#8cdcbe"/>
<rect x="250.24" y="182.10" width="3.25" height="5.18" fill="#ace7c8"/>
<rect x="253.44" y="182.10" width="3.25" height="5.18" fill="#55b8ad"/>
<rect x="256.64" y="182.10" width="3.25" height="5.18" fill="#55b8ad"/>
<rect x="259.84" y="182.10" width="3.25" height="5.18" fill="#55b8ad"/>
<rect x="240.64" y="187.23" width="3.25" height="5.18" fill="#41549a"/>
<rect x="243.84" y="187.23" width="3.25" height="5.18" fill="#55b8ad"/>
<rect x="247.04" y="187.23" width="3.25" height="5.18" fill="#55b8ad"/>
<rect x="250.24" y="187.23" width="3.25" height="5.18" fill="#55b8ad"/>
<rect x="253.44" y="187.23" width="3.25" height="5.18" fill="#6ccdb3"/>
<rect x="256.64" y="187.23" width="3.25" height="5.18" fill="#22193a"/>
<rect x="259.84" y="187.23" width="3.25" height="5.18" fill="#8cdcbe"/>
<rect x="240.64" y="192.36" width="3.25" height="5.18" fill="#55b8ad"/>
<rect x="243.84" y="192.36" width="3.25" height="5.18" fill="#8cdcbe"/>
<rect x="247.04" y="192.36" width="3.25" height="5.18" fill="#4a9cab"/>
<rect x="250.24" y="192.36" width="3.25" height="5.18" fill="#4a9cab"/>
<rect x="253.44" y="192.36" width="3.25" height="5.18" fill="#6ccdb3"/>
<rect x="256.64" y="192.36" width="3.25" height="5.18" fill="#4a9cab"/>
<rect x="259.84" y="192.36" width="3.25" height="5.18" fill="#4a9cab"/>
<rect x="240.64" y="197.49" width="3.25" height="5.18" fill="#dff5e6"/>
<rect x="243.84" y="197.49" width="3.25" height="5.18" fill="#dff5e6"/>
<rect x="247.04" y="197.49" width="3.25" height="5.18" fill="#dff5e6"/>
<rect x="250.24" y="197.49" width="3.25" height="5.18" fill="#dff5e6"/>
<rect x="253.44" y="197.49" width="3.25" height="5.18" fill="#dff5e6"/>
<rect x="256.64" y="197.49" width="3.25" height="5.18" fill="#dff5e6"/>
<rect x="259.84" y="197.49" width="3.25" height="5.18" fill="#ace7c8"/>
<rect x="240.64" y="202.62" width="3.25" height="5.18" fill="#4a9cab"/>
<rect x="243.84" y="202.62" width="3.25" height="5.18" fill="#437caa"/>
<rect x="247.04" y="202.62" width="3.25" height="5.18" fill="#55b8ad"/>
<rect x="250.24" y="202.62" width="3.25" height="5.18" fill="#55b8ad"/>
<rect x="253.44" y="202.62" width="3.25" height="5.18" fill="#437caa"/>
<rect x="256.64" y="202.62" width="3.25" height="5.18" fill="#6ccdb3"/>
<rect x="259.84" y="202.62" width="3.25" height="5.18" fill="#4a9cab"/>
<rect x="240.64" y="207.75" width="3.25" height="5.18" fill="#6ccdb3"/>
<rect x="243.84" y="207.75" width="3.25" height="5.18" fill="#6ccdb3"/>
<rect x="247.04" y="207.75" width="3.25" height="5.18" fill="#dff5e6"/>
<rect x="250.24" y="207.75" width="3.25" height="5.18" fill="#dff5e6"/>
<rect x="253.44" y="207.75" width="3.25" height="5.18" fill="#dff5e6"/>
<rect x="256.64" y="207.75" width="3.25" height="5.18" fill="#dff5e6"/>
<rect x="259.84" y="207.75" width="3.25" height="5.18" fill="#dff5e6"/>
<rect x="240.64" y="212.88" width="3.25" height="5.18" fill="#dff5e6"/>
<rect x="243.84" y="212.88" width="3.25" height="5.18" fill="#dff5e6"/>
<rect x="247.04" y="212.88" width="3.25" height="5.18" fill="#dff5e6"/>
<rect x="250.24" y="212.88" width="3.25" height="5.18" fill="#55b8ad"/>
<rect x="253.44" y="212.88" width="3.25" height="5.18" fill="#dff5e6"/>
<rect x="256.64" y="212.88" width="3.25" height="5.18" fill="#ace7c8"/>
<rect x="259.84" y="212.88" width="3.25" height="5.18" fill="#ace7c8"/>
<rect x="266.18" y="182.10" width="3.25" height="5.18" fill="#6ccdb3"/>
<rect x="269.38" y="182.10" width="3.25" height="5.18" fill="#55b8ad"/>
<rect x="272.58" y="182.10" width="3.25" height="5.18" fill="#6ccdb3"/>
<rect x="275.78" y="182.10" width="3.25" height="5.18" fill="#6ccdb3"/>
<rect x="278.98" y="182.10" width="3.25" height="5.18" fill="#6ccdb3"/>
<rect x="282.18" y="182.10" width="3.25" height="5.18" fill="#6ccdb3"/>
<rect x="285.38" y="182.10" width="3.25" height="5.18" fill="#6ccdb3"/>
<rect x="266.18" y="187.23" width="3.25" height="5.18" fill="#4a9cab"/>
<rect x="269.38" y="187.23" width="3.25" height="5.18" fill="#41549a"/>
<rect x="272.58" y="187.23" width="3.25" height="5.18" fill="#8cdcbe"/>
<rect x="275.78" y="187.23" width="3.25" height="5.18" fill="#4a9cab"/>
<rect x="278.98" y="187.23" width="3.25" height="5.18" fill="#6ccdb3"/>
<rect x="282.18" y="187.23" width="3.25" height="5.18" fill="#41549a"/>
<rect x="285.38" y="187.23" width="3.25" height="5.18" fill="#55b8ad"/>
<rect x="266.18" y="192.36" width="3.25" height="5.18" fill="#ace7c8"/>
<rect x="269.38" y="192.36" width="3.25" height="5.18" fill="#6ccdb3"/>
<rect x="272.58" y="192.36" width="3.25" height="5.18" fill="#6ccdb3"/>
<rect x="275.78" y="192.36" width="3.25" height="5.18" fill="#6ccdb3"/>
<rect x="278.98" y="192.36" width="3.25" height="5.18" fill="#6ccdb3"/>
<rect x="282.18" y="192.36" width="3.25" height="5.18" fill="#55b8ad"/>
<rect x="285.38" y="192.36" width="3.25" height="5.18" fill="#ace7c8"/>
<rect x="266.18" y="197.49" width="3.25" height="5.18" fill="#ace7c8"/>
<rect x="269.38" y="197.49" width="3.25" height="5.18" fill="#ace7c8"/>
<rect x="272.58" y="197.49" width="3.25" height="5.18" fill="#dff5e6"/>
<rect x="275.78" y="197.49" width="3.25" height="5.18" fill="#ace7c8"/>
<rect x="278.98" y="197.49" width="3.25" height="5.18" fill="#ace7c8"/>
<rect x="282.18" y="197.49" width="3.25" height="5.18" fill="#ace7c8"/>
<rect x="285.38" y="197.49" width="3.25" height="5.18" fill="#c8efd8"/>
<rect x="266.18" y="202.62" width="3.25" height="5.18" fill="#41549a"/>
<rect x="269.38" y="202.62" width="3.25" height="5.18" fill="#55b8ad"/>
<rect x="272.58" y="202.62" width="3.25" height="5.18" fill="#437caa"/>
<rect x="275.78" y="202.62" width="3.25" height="5.18" fill="#4a9cab"/>
<rect x="278.98" y="202.62" width="3.25" height="5.18" fill="#41549a"/>
<rect x="282.18" y="202.62" width="3.25" height="5.18" fill="#437caa"/>
<rect x="285.38" y="202.62" width="3.25" height="5.18" fill="#41549a"/>
<rect x="266.18" y="207.75" width="3.25" height="5.18" fill="#ace7c8"/>
<rect x="269.38" y="207.75" width="3.25" height="5.18" fill="#4a9cab"/>
<rect x="272.58" y="207.75" width="3.25" height="5.18" fill="#c8efd8"/>
<rect x="275.78" y="207.75" width="3.25" height="5.18" fill="#4a9cab"/>
<rect x="278.98" y="207.75" width="3.25" height="5.18" fill="#dff5e6"/>
<rect x="282.18" y="207.75" width="3.25" height="5.18" fill="#dff5e6"/>
<rect x="285.38" y="207.75" width="3.25" height="5.18" fill="#dff5e6"/>
<rect x="266.18" y="212.88" width="3.25" height="5.18" fill="#8cdcbe"/>
<rect x="269.38" y="212.88" width="3.25" height="5.18" fill="#8cdcbe"/>
<rect x="272.58" y="212.88" width="3.25" height="5.18" fill="#8cdcbe"/>
<rect x="275.78" y="212.88" width="3.25" height="5.18" fill="#55b8ad"/>
<rect x="278.98" y="212.88" width="3.25" height="5.18" fill="#8cdcbe"/>
<rect x="282.18" y="212.88" width="3.25" height="5.18" fill="#55b8ad"/>
<rect x="285.38" y="212.88" width="3.25" height="5.18" fill="#dff5e6"/>
<rect x="29.50" y="223.00" width="3.25" height="5.16" fill="#dff5e6"/>
<rect x="32.70" y="223.00" width="3.25" height="5.16" fill="#dff5e6"/>
<rect x="35.90" y="223.00" width="3.25" height="5.16" fill="#dff5e6"/>
<rect x="39.10" y="223.00" width="3.25" height="5.16" fill="#dff5e6"/>
<rect x="42.30" y="223.00" width="3.25" height="5.16" fill="#8cdcbe"/>
<rect x="45.50" y="223.00" width="3.25" height="5.16" fill="#437caa"/>
<rect x="48.70" y="223.00" width="3.25" height="5.16" fill="#6ccdb3"/>
<rect x="29.50" y="228.11" width="3.25" height="5.16" fill="#dff5e6"/>
<rect x="32.70" y="228.11" width="3.25" height="5.16" fill="#c8efd8"/>
<rect x="35.90" y="228.11" width="3.25" height="5.16" fill="#ace7c8"/>
<rect x="39.10" y="228.11" width="3.25" height="5.16" fill="#22193a"/>
<rect x="42.30" y="228.11" width="3.25" height="5.16" fill="#55b8ad"/>
<rect x="45.50" y="228.11" width="3.25" height="5.16" fill="#dff5e6"/>
<rect x="48.70" y="228.11" width="3.25" height="5.16" fill="#dff5e6"/>
<rect x="29.50" y="233.22" width="3.25" height="5.16" fill="#ace7c8"/>
<rect x="32.70" y="233.22" width="3.25" height="5.16" fill="#c8efd8"/>
<rect x="35.90" y="233.22" width="3.25" height="5.16" fill="#ace7c8"/>
<rect x="39.10" y="233.22" width="3.25" height="5.16" fill="#ace7c8"/>
<rect x="42.30" y="233.22" width="3.25" height="5.16" fill="#dff5e6"/>
<rect x="45.50" y="233.22" width="3.25" height="5.16" fill="#c8efd8"/>
<rect x="48.70" y="233.22" width="3.25" height="5.16" fill="#dff5e6"/>
<rect x="29.50" y="238.33" width="3.25" height="5.16" fill="#4a9cab"/>
<rect x="32.70" y="238.33" width="3.25" height="5.16" fill="#ace7c8"/>
<rect x="35.90" y="238.33" width="3.25" height="5.16" fill="#8cdcbe"/>
<rect x="39.10" y="238.33" width="3.25" height="5.16" fill="#ace7c8"/>
<rect x="42.30" y="238.33" width="3.25" height="5.16" fill="#55b8ad"/>
<rect x="45.50" y="238.33" width="3.25" height="5.16" fill="#55b8ad"/>
<rect x="48.70" y="238.33" width="3.25" height="5.16" fill="#4a9cab"/>
<rect x="29.50" y="243.44" width="3.25" height="5.16" fill="#dff5e6"/>
<rect x="32.70" y="243.44" width="3.25" height="5.16" fill="#dff5e6"/>
<rect x="35.90" y="243.44" width="3.25" height="5.16" fill="#dff5e6"/>
<rect x="39.10" y="243.44" width="3.25" height="5.16" fill="#55b8ad"/>
<rect x="42.30" y="243.44" width="3.25" height="5.16" fill="#4a9cab"/>
<rect x="45.50" y="243.44" width="3.25" height="5.16" fill="#dff5e6"/>
<rect x="48.70" y="243.44" width="3.25" height="5.16" fill="#dff5e6"/>
<rect x="29.50" y="248.55" width="3.25" height="5.16" fill="#41549a"/>
<rect x="32.70" y="248.55" width="3.25" height="5.16" fill="#c8efd8"/>
<rect x="35.90" y="248.55" width="3.25" height="5.16" fill="#437caa"/>
<rect x="39.10" y="248.55" width="3.25" height="5.16" fill="#ace7c8"/>
<rect x="42.30" y="248.55" width="3.25" height="5.16" fill="#6ccdb3"/>
<rect x="45.50" y="248.55" width="3.25" height="5.16" fill="#6ccdb3"/>
<rect x="48.70" y="248.55" width="3.25" height="5.16" fill="#4a9cab"/>
<rect x="29.50" y="253.66" width="3.25" height="5.16" fill="#c8efd8"/>
<rect x="32.70" y="253.66" width="3.25" height="5.16" fill="#dff5e6"/>
<rect x="35.90" y="253.66" width="3.25" height="5.16" fill="#dff5e6"/>
<rect x="39.10" y="253.66" width="3.25" height="5.16" fill="#dff5e6"/>
<rect x="42.30" y="253.66" width="3.25" height="5.16" fill="#c8efd8"/>
<rect x="45.50" y="253.66" width="3.25" height="5.16" fill="#c8efd8"/>
<rect x="48.70" y="253.66" width="3.25" height="5.16" fill="#c8efd8"/>
<rect x="29.50" y="258.77" width="3.25" height="5.16" fill="#8cdcbe"/>
<rect x="32.70" y="258.77" width="3.25" height="5.16" fill="#dff5e6"/>
<rect x="35.90" y="258.77" width="3.25" height="5.16" fill="#6ccdb3"/>
<rect x="39.10" y="258.77" width="3.25" height="5.16" fill="#6ccdb3"/>
<rect x="42.30" y="258.77" width="3.25" height="5.16" fill="#6ccdb3"/>
<rect x="45.50" y="258.77" width="3.25" height="5.16" fill="#55b8ad"/>
<rect x="48.70" y="258.77" width="3.25" height="5.16" fill="#8cdcbe"/>
<rect x="55.00" y="223.00" width="3.25" height="5.16" fill="#dff5e6"/>
<rect x="58.20" y="223.00" width="3.25" height="5.16" fill="#dff5e6"/>
<rect x="61.40" y="223.00" width="3.25" height="5.16" fill="#dff5e6"/>
<rect x="64.60" y="223.00" width="3.25" height="5.16" fill="#dff5e6"/>
<rect x="67.80" y="223.00" width="3.25" height="5.16" fill="#dff5e6"/>
<rect x="71.00" y="223.00" width="3.25" height="5.16" fill="#dff5e6"/>
<rect x="74.20" y="223.00" width="3.25" height="5.16" fill="#8cdcbe"/>
<rect x="55.00" y="228.11" width="3.25" height="5.16" fill="#dff5e6"/>
<rect x="58.20" y="228.11" width="3.25" height="5.16" fill="#dff5e6"/>
<rect x="61.40" y="228.11" width="3.25" height="5.16" fill="#ace7c8"/>
<rect x="64.60" y="228.11" width="3.25" height="5.16" fill="#55b8ad"/>
<rect x="67.80" y="228.11" width="3.25" height="5.16" fill="#dff5e6"/>
<rect x="71.00" y="228.11" width="3.25" height="5.16" fill="#dff5e6"/>
<rect x="74.20" y="228.11" width="3.25" height="5.16" fill="#dff5e6"/>
<rect x="55.00" y="233.22" width="3.25" height="5.16" fill="#dff5e6"/>
<rect x="58.20" y="233.22" width="3.25" height="5.16" fill="#c8efd8"/>
<rect x="61.40" y="233.22" width="3.25" height="5.16" fill="#c8efd8"/>
<rect x="64.60" y="233.22" width="3.25" height="5.16" fill="#ace7c8"/>
<rect x="67.80" y="233.22" width="3.25" height="5.16" fill="#c8efd8"/>
<rect x="71.00" y="233.22" width="3.25" height="5.16" fill="#dff5e6"/>
<rect x="74.20" y="233.22" width="3.25" height="5.16" fill="#dff5e6"/>
<rect x="55.00" y="238.33" width="3.25" height="5.16" fill="#55b8ad"/>
<rect x="58.20" y="238.33" width="3.25" height="5.16" fill="#437caa"/>
<rect x="61.40" y="238.33" width="3.25" height="5.16" fill="#41549a"/>
<rect x="64.60" y="238.33" width="3.25" height="5.16" fill="#ace7c8"/>
<rect x="67.80" y="238.33" width="3.25" height="5.16" fill="#c8efd8"/>
<rect x="71.00" y="238.33" width="3.25" height="5.16" fill="#6ccdb3"/>
<rect x="74.20" y="238.33" width="3.25" height="5.16" fill="#8cdcbe"/>
<rect x="55.00" y="243.44" width="3.25" height="5.16" fill="#dff5e6"/>
<rect x="58.20" y="243.44" width="3.25" height="5.16" fill="#dff5e6"/>
<rect x="61.40" y="243.44" width="3.25" height="5.16" fill="#dff5e6"/>
<rect x="64.60" y="243.44" width="3.25" height="5.16" fill="#55b8ad"/>
<rect x="67.80" y="243.44" width="3.25" height="5.16" fill="#dff5e6"/>
<rect x="71.00" y="243.44" width="3.25" height="5.16" fill="#dff5e6"/>
<rect x="74.20" y="243.44" width="3.25" height="5.16" fill="#dff5e6"/>
<rect x="55.00" y="248.55" width="3.25" height="5.16" fill="#55b8ad"/>
<rect x="58.20" y="248.55" width="3.25" height="5.16" fill="#55b8ad"/>
<rect x="61.40" y="248.55" width="3.25" height="5.16" fill="#6ccdb3"/>
<rect x="64.60" y="248.55" width="3.25" height="5.16" fill="#6ccdb3"/>
<rect x="67.80" y="248.55" width="3.25" height="5.16" fill="#8cdcbe"/>
<rect x="71.00" y="248.55" width="3.25" height="5.16" fill="#ace7c8"/>
<rect x="74.20" y="248.55" width="3.25" height="5.16" fill="#4a9cab"/>
<rect x="55.00" y="253.66" width="3.25" height="5.16" fill="#dff5e6"/>
<rect x="58.20" y="253.66" width="3.25" height="5.16" fill="#c8efd8"/>
<rect x="61.40" y="253.66" width="3.25" height="5.16" fill="#dff5e6"/>
<rect x="64.60" y="253.66" width="3.25" height="5.16" fill="#c8efd8"/>
<rect x="67.80" y="253.66" width="3.25" height="5.16" fill="#c8efd8"/>
<rect x="71.00" y="253.66" width="3.25" height="5.16" fill="#dff5e6"/>
<rect x="74.20" y="253.66" width="3.25" height="5.16" fill="#dff5e6"/>
<rect x="55.00" y="258.77" width="3.25" height="5.16" fill="#55b8ad"/>
<rect x="58.20" y="258.77" width="3.25" height="5.16" fill="#dff5e6"/>
<rect x="61.40" y="258.77" width="3.25" height="5.16" fill="#8cdcbe"/>
<rect x="64.60" y="258.77" width="3.25" height="5.16" fill="#55b8ad"/>
<rect x="67.80" y="258.77" width="3.25" height="5.16" fill="#55b8ad"/>
<rect x="71.00" y="258.77" width="3.25" height="5.16" fill="#ace7c8"/>
<rect x="74.20" y="258.77" width="3.25" height="5.16" fill="#6ccdb3"/>
<rect x="87.40" y="223.00" width="3.25" height="5.16" fill="#dff5e6"/>
<rect x="90.60" y="223.00" width="3.25" height="5.16" fill="#dff5e6"/>
<rect x="93.80" y="223.00" width="3.25" height="5.16" fill="#dff5e6"/>
<rect x="97.00" y="223.00" width="3.25" height="5.16" fill="#dff5e6"/>
<rect x="100.20" y="223.00" width="3.25" height="5.16" fill="#dff5e6"/>
<rect x="103.40" y="223.00" width="3.25" height="5.16" fill="#dff5e6"/>
<rect x="106.60" y="223.00" width="3.25" height="5.16" fill="#dff5e6"/>
<rect x="87.40" y="228.11" width="3.25" height="5.16" fill="#dff5e6"/>
<rect x="90.60" y="228.11" width="3.25" height="5.16" fill="#dff5e6"/>
<rect x="93.80" y="228.11" width="3.25" height="5.16" fill="#dff5e6"/>
<rect x="97.00" y="228.11" width="3.25" height="5.16" fill="#dff5e6"/>
<rect x="100.20" y="228.11" width="3.25" height="5.16" fill="#dff5e6"/>
<rect x="103.40" y="228.11" width="3.25" height="5.16" fill="#dff5e6"/>
<rect x="106.60" y="228.11" width="3.25" height="5.16" fill="#ace7c8"/>
<rect x="87.40" y="233.22" width="3.25" height="5.16" fill="#dff5e6"/>
<rect x="90.60" y="233.22" width="3.25" height="5.16" fill="#dff5e6"/>
<rect x="93.80" y="233.22" width="3.25" height="5.16" fill="#dff5e6"/>
<rect x="97.00" y="233.22" width="3.25" height="5.16" fill="#dff5e6"/>
<rect x="100.20" y="233.22" width="3.25" height="5.16" fill="#c8efd8"/>
<rect x="103.40" y="233.22" width="3.25" height="5.16" fill="#dff5e6"/>
<rect x="106.60" y="233.22" width="3.25" height="5.16" fill="#ace7c8"/>
<rect x="87.40" y="238.33" width="3.25" height="5.16" fill="#55b8ad"/>
<rect x="90.60" y="238.33" width="3.25" height="5.16" fill="#6ccdb3"/>
<rect x="93.80" y="238.33" width="3.25" height="5.16" fill="#8cdcbe"/>
<rect x="97.00" y="238.33" width="3.25" height="5.16" fill="#55b8ad"/>
<rect x="100.20" y="238.33" width="3.25" height="5.16" fill="#8cdcbe"/>
<rect x="103.40" y="238.33" width="3.25" height="5.16" fill="#437caa"/>
<rect x="106.60" y="238.33" width="3.25" height="5.16" fill="#ace7c8"/>
<rect x="87.40" y="243.44" width="3.25" height="5.16" fill="#dff5e6"/>
<rect x="90.60" y="243.44" width="3.25" height="5.16" fill="#dff5e6"/>
<rect x="93.80" y="243.44" width="3.25" height="5.16" fill="#dff5e6"/>
<rect x="97.00" y="243.44" width="3.25" height="5.16" fill="#dff5e6"/>
<rect x="100.20" y="243.44" width="3.25" height="5.16" fill="#dff5e6"/>
<rect x="103.40" y="243.44" width="3.25" height="5.16" fill="#dff5e6"/>
<rect x="106.60" y="243.44" width="3.25" height="5.16" fill="#dff5e6"/>
<rect x="87.40" y="248.55" width="3.25" height="5.16" fill="#8cdcbe"/>
<rect x="90.60" y="248.55" width="3.25" height="5.16" fill="#ace7c8"/>
<rect x="93.80" y="248.55" width="3.25" height="5.16" fill="#6ccdb3"/>
<rect x="97.00" y="248.55" width="3.25" height="5.16" fill="#6ccdb3"/>
<rect x="100.20" y="248.55" width="3.25" height="5.16" fill="#437caa"/>
<rect x="103.40" y="248.55" width="3.25" height="5.16" fill="#437caa"/>
<rect x="106.60" y="248.55" width="3.25" height="5.16" fill="#55b8ad"/>
<rect x="87.40" y="253.66" width="3.25" height="5.16" fill="#c8efd8"/>
<rect x="90.60" y="253.66" width="3.25" height="5.16" fill="#ace7c8"/>
<rect x="93.80" y="253.66" width="3.25" height="5.16" fill="#dff5e6"/>
<rect x="97.00" y="253.66" width="3.25" height="5.16" fill="#c8efd8"/>
<rect x="100.20" y="253.66" width="3.25" height="5.16" fill="#c8efd8"/>
<rect x="103.40" y="253.66" width="3.25" height="5.16" fill="#c8efd8"/>
<rect x="106.60" y="253.66" width="3.25" height="5.16" fill="#ace7c8"/>
<rect x="87.40" y="258.77" width="3.25" height="5.16" fill="#8cdcbe"/>
<rect x="90.60" y="258.77" width="3.25" height="5.16" fill="#ace7c8"/>
<rect x="93.80" y="258.77" width="3.25" height="5.16" fill="#55b8ad"/>
<rect x="97.00" y="258.77" width="3.25" height="5.16" fill="#ace7c8"/>
<rect x="100.20" y="258.77" width="3.25" height="5.16" fill="#dff5e6"/>
<rect x="103.40" y="258.77" width="3.25" height="5.16" fill="#ace7c8"/>
<rect x="106.60" y="258.77" width="3.25" height="5.16" fill="#8cdcbe"/>
<rect x="112.94" y="223.00" width="3.25" height="5.16" fill="#dff5e6"/>
<rect x="116.14" y="223.00" width="3.25" height="5.16" fill="#dff5e6"/>
<rect x="119.34" y="223.00" width="3.25" height="5.16" fill="#dff5e6"/>
<rect x="122.54" y="223.00" width="3.25" height="5.16" fill="#dff5e6"/>
<rect x="125.74" y="223.00" width="3.25" height="5.16" fill="#dff5e6"/>
<rect x="128.94" y="223.00" width="3.25" height="5.16" fill="#c8efd8"/>
<rect x="132.14" y="223.00" width="3.25" height="5.16" fill="#8cdcbe"/>
<rect x="112.94" y="228.11" width="3.25" height="5.16" fill="#55b8ad"/>
<rect x="116.14" y="228.11" width="3.25" height="5.16" fill="#dff5e6"/>
<rect x="119.34" y="228.11" width="3.25" height="5.16" fill="#dff5e6"/>
<rect x="122.54" y="228.11" width="3.25" height="5.16" fill="#dff5e6"/>
<rect x="125.74" y="228.11" width="3.25" height="5.16" fill="#dff5e6"/>
<rect x="128.94" y="228.11" width="3.25" height="5.16" fill="#dff5e6"/>
<rect x="132.14" y="228.11" width="3.25" height="5.16" fill="#dff5e6"/>
<rect x="112.94" y="233.22" width="3.25" height="5.16" fill="#55b8ad"/>
<rect x="116.14" y="233.22" width="3.25" height="5.16" fill="#dff5e6"/>
<rect x="119.34" y="233.22" width="3.25" height="5.16" fill="#dff5e6"/>
<rect x="122.54" y="233.22" width="3.25" height="5.16" fill="#dff5e6"/>
<rect x="125.74" y="233.22" width="3.25" height="5.16" fill="#dff5e6"/>
<rect x="128.94" y="233.22" width="3.25" height="5.16" fill="#dff5e6"/>
<rect x="132.14" y="233.22" width="3.25" height="5.16" fill="#dff5e6"/>
<rect x="112.94" y="238.33" width="3.25" height="5.16" fill="#8cdcbe"/>
<rect x="116.14" y="238.33" width="3.25" height="5.16" fill="#c8efd8"/>
<rect x="119.34" y="238.33" width="3.25" height="5.16" fill="#55b8ad"/>
<rect x="122.54" y="238.33" width="3.25" height="5.16" fill="#ace7c8"/>
<rect x="125.74" y="238.33" width="3.25" height="5.16" fill="#55b8ad"/>
<rect x="128.94" y="238.33" width="3.25" height="5.16" fill="#8cdcbe"/>
<rect x="132.14" y="238.33" width="3.25" height="5.16" fill="#55b8ad"/>
<rect x="112.94" y="243.44" width="3.25" height="5.16" fill="#dff5e6"/>
<rect x="116.14" y="243.44" width="3.25" height="5.16" fill="#dff5e6"/>
<rect x="119.34" y="243.44" width="3.25" height="5.16" fill="#dff5e6"/>
<rect x="122.54" y="243.44" width="3.25" height="5.16" fill="#dff5e6"/>
<rect x="125.74" y="243.44" width="3.25" height="5.16" fill="#dff5e6"/>
<rect x="128.94" y="243.44" width="3.25" height="5.16" fill="#dff5e6"/>
<rect x="132.14" y="243.44" width="3.25" height="5.16" fill="#4a9cab"/>
<rect x="112.94" y="248.55" width="3.25" height="5.16" fill="#55b8ad"/>
<rect x="116.14" y="248.55" width="3.25" height="5.16" fill="#8cdcbe"/>
<rect x="119.34" y="248.55" width="3.25" height="5.16" fill="#8cdcbe"/>
<rect x="122.54" y="248.55" width="3.25" height="5.16" fill="#8cdcbe"/>
<rect x="125.74" y="248.55" width="3.25" height="5.16" fill="#55b8ad"/>
<rect x="128.94" y="248.55" width="3.25" height="5.16" fill="#8cdcbe"/>
<rect x="132.14" y="248.55" width="3.25" height="5.16" fill="#55b8ad"/>
<rect x="112.94" y="253.66" width="3.25" height="5.16" fill="#c8efd8"/>
<rect x="116.14" y="253.66" width="3.25" height="5.16" fill="#c8efd8"/>
<rect x="119.34" y="253.66" width="3.25" height="5.16" fill="#c8efd8"/>
<rect x="122.54" y="253.66" width="3.25" height="5.16" fill="#c8efd8"/>
<rect x="125.74" y="253.66" width="3.25" height="5.16" fill="#c8efd8"/>
<rect x="128.94" y="253.66" width="3.25" height="5.16" fill="#c8efd8"/>
<rect x="132.14" y="253.66" width="3.25" height="5.16" fill="#c8efd8"/>
<rect x="112.94" y="258.77" width="3.25" height="5.16" fill="#55b8ad"/>
<rect x="116.14" y="258.77" width="3.25" height="5.16" fill="#8cdcbe"/>
<rect x="119.34" y="258.77" width="3.25" height="5.16" fill="#dff5e6"/>
<rect x="122.54" y="258.77" width="3.25" height="5.16" fill="#ace7c8"/>
<rect x="125.74" y="258.77" width="3.25" height="5.16" fill="#55b8ad"/>
<rect x="128.94" y="258.77" width="3.25" height="5.16" fill="#6ccdb3"/>
<rect x="132.14" y="258.77" width="3.25" height="5.16" fill="#ace7c8"/>
<rect x="138.48" y="223.00" width="3.25" height="5.16" fill="#dff5e6"/>
<rect x="141.68" y="223.00" width="3.25" height="5.16" fill="#dff5e6"/>
<rect x="144.88" y="223.00" width="3.25" height="5.16" fill="#dff5e6"/>
<rect x="148.08" y="223.00" width="3.25" height="5.16" fill="#c8efd8"/>
<rect x="151.28" y="223.00" width="3.25" height="5.16" fill="#6ccdb3"/>
<rect x="154.48" y="223.00" width="3.25" height="5.16" fill="#41549a"/>
<rect x="157.68" y="223.00" width="3.25" height="5.16" fill="#ace7c8"/>
<rect x="138.48" y="228.11" width="3.25" height="5.16" fill="#dff5e6"/>
<rect x="141.68" y="228.11" width="3.25" height="5.16" fill="#dff5e6"/>
<rect x="144.88" y="228.11" width="3.25" height="5.16" fill="#dff5e6"/>
<rect x="148.08" y="228.11" width="3.25" height="5.16" fill="#41549a"/>
<rect x="151.28" y="228.11" width="3.25" height="5.16" fill="#55b8ad"/>
<rect x="154.48" y="228.11" width="3.25" height="5.16" fill="#ace7c8"/>
<rect x="157.68" y="228.11" width="3.25" height="5.16" fill="#dff5e6"/>
<rect x="138.48" y="233.22" width="3.25" height="5.16" fill="#dff5e6"/>
<rect x="141.68" y="233.22" width="3.25" height="5.16" fill="#dff5e6"/>
<rect x="144.88" y="233.22" width="3.25" height="5.16" fill="#8cdcbe"/>
<rect x="148.08" y="233.22" width="3.25" height="5.16" fill="#8cdcbe"/>
<rect x="151.28" y="233.22" width="3.25" height="5.16" fill="#8cdcbe"/>
<rect x="154.48" y="233.22" width="3.25" height="5.16" fill="#dff5e6"/>
<rect x="157.68" y="233.22" width="3.25" height="5.16" fill="#dff5e6"/>
<rect x="138.48" y="238.33" width="3.25" height="5.16" fill="#8cdcbe"/>
<rect x="141.68" y="238.33" width="3.25" height="5.16" fill="#4a9cab"/>
<rect x="144.88" y="238.33" width="3.25" height="5.16" fill="#55b8ad"/>
<rect x="148.08" y="238.33" width="3.25" height="5.16" fill="#8cdcbe"/>
<rect x="151.28" y="238.33" width="3.25" height="5.16" fill="#55b8ad"/>
<rect x="154.48" y="238.33" width="3.25" height="5.16" fill="#6ccdb3"/>
<rect x="157.68" y="238.33" width="3.25" height="5.16" fill="#4a9cab"/>
<rect x="138.48" y="243.44" width="3.25" height="5.16" fill="#437caa"/>
<rect x="141.68" y="243.44" width="3.25" height="5.16" fill="#dff5e6"/>
<rect x="144.88" y="243.44" width="3.25" height="5.16" fill="#dff5e6"/>
<rect x="148.08" y="243.44" width="3.25" height="5.16" fill="#dff5e6"/>
<rect x="151.28" y="243.44" width="3.25" height="5.16" fill="#c8efd8"/>
<rect x="154.48" y="243.44" width="3.25" height="5.16" fill="#55b8ad"/>
<rect x="157.68" y="243.44" width="3.25" height="5.16" fill="#4a9cab"/>
<rect x="138.48" y="248.55" width="3.25" height="5.16" fill="#6ccdb3"/>
<rect x="141.68" y="248.55" width="3.25" height="5.16" fill="#8cdcbe"/>
<rect x="144.88" y="248.55" width="3.25" height="5.16" fill="#6ccdb3"/>
<rect x="148.08" y="248.55" width="3.25" height="5.16" fill="#ace7c8"/>
<rect x="151.28" y="248.55" width="3.25" height="5.16" fill="#6ccdb3"/>
<rect x="154.48" y="248.55" width="3.25" height="5.16" fill="#55b8ad"/>
<rect x="157.68" y="248.55" width="3.25" height="5.16" fill="#6ccdb3"/>
<rect x="138.48" y="253.66" width="3.25" height="5.16" fill="#8cdcbe"/>
<rect x="141.68" y="253.66" width="3.25" height="5.16" fill="#8cdcbe"/>
<rect x="144.88" y="253.66" width="3.25" height="5.16" fill="#6ccdb3"/>
<rect x="148.08" y="253.66" width="3.25" height="5.16" fill="#55b8ad"/>
<rect x="151.28" y="253.66" width="3.25" height="5.16" fill="#6ccdb3"/>
<rect x="154.48" y="253.66" width="3.25" height="5.16" fill="#55b8ad"/>
<rect x="157.68" y="253.66" width="3.25" height="5.16" fill="#4a9cab"/>
<rect x="138.48" y="258.77" width="3.25" height="5.16" fill="#c8efd8"/>
<rect x="141.68" y="258.77" width="3.25" height="5.16" fill="#ace7c8"/>
<rect x="144.88" y="258.77" width="3.25" height="5.16" fill="#ace7c8"/>
<rect x="148.08" y="258.77" width="3.25" height="5.16" fill="#dff5e6"/>
<rect x="151.28" y="258.77" width="3.25" height="5.16" fill="#dff5e6"/>
<rect x="154.48" y="258.77" width="3.25" height="5.16" fill="#6ccdb3"/>
<rect x="157.68" y="258.77" width="3.25" height="5.16" fill="#6ccdb3"/>
<rect x="164.02" y="223.00" width="3.25" height="5.16" fill="#dff5e6"/>
<rect x="167.22" y="223.00" width="3.25" height="5.16" fill="#dff5e6"/>
<rect x="170.42" y="223.00" width="3.25" height="5.16" fill="#dff5e6"/>
<rect x="173.62" y="223.00" width="3.25" height="5.16" fill="#dff5e6"/>
<rect x="176.82" y="223.00" width="3.25" height="5.16" fill="#c8efd8"/>
<rect x="180.02" y="223.00" width="3.25" height="5.16" fill="#8cdcbe"/>
<rect x="183.22" y="223.00" width="3.25" height="5.16" fill="#55b8ad"/>
<rect x="164.02" y="228.11" width="3.25" height="5.16" fill="#c8efd8"/>
<rect x="167.22" y="228.11" width="3.25" height="5.16" fill="#ace7c8"/>
<rect x="170.42" y="228.11" width="3.25" height="5.16" fill="#dff5e6"/>
<rect x="173.62" y="228.11" width="3.25" height="5.16" fill="#dff5e6"/>
<rect x="176.82" y="228.11" width="3.25" height="5.16" fill="#6ccdb3"/>
<rect x="180.02" y="228.11" width="3.25" height="5.16" fill="#8cdcbe"/>
<rect x="183.22" y="228.11" width="3.25" height="5.16" fill="#dff5e6"/>
<rect x="164.02" y="233.22" width="3.25" height="5.16" fill="#8cdcbe"/>
<rect x="167.22" y="233.22" width="3.25" height="5.16" fill="#6ccdb3"/>
<rect x="170.42" y="233.22" width="3.25" height="5.16" fill="#55b8ad"/>
<rect x="173.62" y="233.22" width="3.25" height="5.16" fill="#ace7c8"/>
<rect x="176.82" y="233.22" width="3.25" height="5.16" fill="#6ccdb3"/>
<rect x="180.02" y="233.22" width="3.25" height="5.16" fill="#4a9cab"/>
<rect x="183.22" y="233.22" width="3.25" height="5.16" fill="#55b8ad"/>
<rect x="164.02" y="238.33" width="3.25" height="5.16" fill="#8cdcbe"/>
<rect x="167.22" y="238.33" width="3.25" height="5.16" fill="#55b8ad"/>
<rect x="170.42" y="238.33" width="3.25" height="5.16" fill="#ace7c8"/>
<rect x="173.62" y="238.33" width="3.25" height="5.16" fill="#4a9cab"/>
<rect x="176.82" y="238.33" width="3.25" height="5.16" fill="#ace7c8"/>
<rect x="180.02" y="238.33" width="3.25" height="5.16" fill="#8cdcbe"/>
<rect x="183.22" y="238.33" width="3.25" height="5.16" fill="#8cdcbe"/>
<rect x="164.02" y="243.44" width="3.25" height="5.16" fill="#c8efd8"/>
<rect x="167.22" y="243.44" width="3.25" height="5.16" fill="#dff5e6"/>
<rect x="170.42" y="243.44" width="3.25" height="5.16" fill="#dff5e6"/>
<rect x="173.62" y="243.44" width="3.25" height="5.16" fill="#8cdcbe"/>
<rect x="176.82" y="243.44" width="3.25" height="5.16" fill="#55b8ad"/>
<rect x="180.02" y="243.44" width="3.25" height="5.16" fill="#8cdcbe"/>
<rect x="183.22" y="243.44" width="3.25" height="5.16" fill="#dff5e6"/>
<rect x="164.02" y="248.55" width="3.25" height="5.16" fill="#c8efd8"/>
<rect x="167.22" y="248.55" width="3.25" height="5.16" fill="#6ccdb3"/>
<rect x="170.42" y="248.55" width="3.25" height="5.16" fill="#ace7c8"/>
<rect x="173.62" y="248.55" width="3.25" height="5.16" fill="#8cdcbe"/>
<rect x="176.82" y="248.55" width="3.25" height="5.16" fill="#55b8ad"/>
<rect x="180.02" y="248.55" width="3.25" height="5.16" fill="#55b8ad"/>
<rect x="183.22" y="248.55" width="3.25" height="5.16" fill="#ace7c8"/>
<rect x="164.02" y="253.66" width="3.25" height="5.16" fill="#55b8ad"/>
<rect x="167.22" y="253.66" width="3.25" height="5.16" fill="#dff5e6"/>
<rect x="170.42" y="253.66" width="3.25" height="5.16" fill="#dff5e6"/>
<rect x="173.62" y="253.66" width="3.25" height="5.16" fill="#c8efd8"/>
<rect x="176.82" y="253.66" width="3.25" height="5.16" fill="#ace7c8"/>
<rect x="180.02" y="253.66" width="3.25" height="5.16" fill="#4a9cab"/>
<rect x="183.22" y="253.66" width="3.25" height="5.16" fill="#55b8ad"/>
<rect x="164.02" y="258.77" width="3.25" height="5.16" fill="#8cdcbe"/>
<rect x="167.22" y="258.77" width="3.25" height="5.16" fill="#dff5e6"/>
<rect x="170.42" y="258.77" width="3.25" height="5.16" fill="#6ccdb3"/>
<rect x="173.62" y="258.77" width="3.25" height="5.16" fill="#6ccdb3"/>
<rect x="176.82" y="258.77" width="3.25" height="5.16" fill="#55b8ad"/>
<rect x="180.02" y="258.77" width="3.25" height="5.16" fill="#ace7c8"/>
<rect x="183.22" y="258.77" width="3.25" height="5.16" fill="#55b8ad"/>
<rect x="189.56" y="223.00" width="3.25" height="5.16" fill="#8cdcbe"/>
<rect x="192.76" y="223.00" width="3.25" height="5.16" fill="#dff5e6"/>
<rect x="195.96" y="223.00" width="3.25" height="5.16" fill="#dff5e6"/>
<rect x="199.16" y="223.00" width="3.25" height="5.16" fill="#dff5e6"/>
<rect x="202.36" y="223.00" width="3.25" height="5.16" fill="#dff5e6"/>
<rect x="205.56" y="223.00" width="3.25" height="5.16" fill="#dff5e6"/>
<rect x="208.76" y="223.00" width="3.25" height="5.16" fill="#6ccdb3"/>
<rect x="189.56" y="228.11" width="3.25" height="5.16" fill="#dff5e6"/>
<rect x="192.76" y="228.11" width="3.25" height="5.16" fill="#dff5e6"/>
<rect x="195.96" y="228.11" width="3.25" height="5.16" fill="#dff5e6"/>
<rect x="199.16" y="228.11" width="3.25" height="5.16" fill="#dff5e6"/>
<rect x="202.36" y="228.11" width="3.25" height="5.16" fill="#dff5e6"/>
<rect x="205.56" y="228.11" width="3.25" height="5.16" fill="#dff5e6"/>
<rect x="208.76" y="228.11" width="3.25" height="5.16" fill="#c8efd8"/>
<rect x="189.56" y="233.22" width="3.25" height="5.16" fill="#55b8ad"/>
<rect x="192.76" y="233.22" width="3.25" height="5.16" fill="#55b8ad"/>
<rect x="195.96" y="233.22" width="3.25" height="5.16" fill="#dff5e6"/>
<rect x="199.16" y="233.22" width="3.25" height="5.16" fill="#437caa"/>
<rect x="202.36" y="233.22" width="3.25" height="5.16" fill="#4a9cab"/>
<rect x="205.56" y="233.22" width="3.25" height="5.16" fill="#55b8ad"/>
<rect x="208.76" y="233.22" width="3.25" height="5.16" fill="#55b8ad"/>
<rect x="189.56" y="238.33" width="3.25" height="5.16" fill="#ace7c8"/>
<rect x="192.76" y="238.33" width="3.25" height="5.16" fill="#ace7c8"/>
<rect x="195.96" y="238.33" width="3.25" height="5.16" fill="#6ccdb3"/>
<rect x="199.16" y="238.33" width="3.25" height="5.16" fill="#8cdcbe"/>
<rect x="202.36" y="238.33" width="3.25" height="5.16" fill="#ace7c8"/>
<rect x="205.56" y="238.33" width="3.25" height="5.16" fill="#dff5e6"/>
<rect x="208.76" y="238.33" width="3.25" height="5.16" fill="#dff5e6"/>
<rect x="189.56" y="243.44" width="3.25" height="5.16" fill="#dff5e6"/>
<rect x="192.76" y="243.44" width="3.25" height="5.16" fill="#dff5e6"/>
<rect x="195.96" y="243.44" width="3.25" height="5.16" fill="#41549a"/>
<rect x="199.16" y="243.44" width="3.25" height="5.16" fill="#8cdcbe"/>
<rect x="202.36" y="243.44" width="3.25" height="5.16" fill="#dff5e6"/>
<rect x="205.56" y="243.44" width="3.25" height="5.16" fill="#dff5e6"/>
<rect x="208.76" y="243.44" width="3.25" height="5.16" fill="#dff5e6"/>
<rect x="189.56" y="248.55" width="3.25" height="5.16" fill="#ace7c8"/>
<rect x="192.76" y="248.55" width="3.25" height="5.16" fill="#dff5e6"/>
<rect x="195.96" y="248.55" width="3.25" height="5.16" fill="#dff5e6"/>
<rect x="199.16" y="248.55" width="3.25" height="5.16" fill="#dff5e6"/>
<rect x="202.36" y="248.55" width="3.25" height="5.16" fill="#dff5e6"/>
<rect x="205.56" y="248.55" width="3.25" height="5.16" fill="#dff5e6"/>
<rect x="208.76" y="248.55" width="3.25" height="5.16" fill="#c8efd8"/>
<rect x="189.56" y="253.66" width="3.25" height="5.16" fill="#55b8ad"/>
<rect x="192.76" y="253.66" width="3.25" height="5.16" fill="#4a9cab"/>
<rect x="195.96" y="253.66" width="3.25" height="5.16" fill="#dff5e6"/>
<rect x="199.16" y="253.66" width="3.25" height="5.16" fill="#dff5e6"/>
<rect x="202.36" y="253.66" width="3.25" height="5.16" fill="#dff5e6"/>
<rect x="205.56" y="253.66" width="3.25" height="5.16" fill="#41549a"/>
<rect x="208.76" y="253.66" width="3.25" height="5.16" fill="#22193a"/>
<rect x="189.56" y="258.77" width="3.25" height="5.16" fill="#dff5e6"/>
<rect x="192.76" y="258.77" width="3.25" height="5.16" fill="#c8efd8"/>
<rect x="195.96" y="258.77" width="3.25" height="5.16" fill="#6ccdb3"/>
<rect x="199.16" y="258.77" width="3.25" height="5.16" fill="#6ccdb3"/>
<rect x="202.36" y="258.77" width="3.25" height="5.16" fill="#55b8ad"/>
<rect x="205.56" y="258.77" width="3.25" height="5.16" fill="#55b8ad"/>
<rect x="208.76" y="258.77" width="3.25" height="5.16" fill="#dff5e6"/>
<rect x="215.10" y="223.00" width="3.25" height="5.16" fill="#dff5e6"/>
<rect x="218.30" y="223.00" width="3.25" height="5.16" fill="#dff5e6"/>
<rect x="221.50" y="223.00" width="3.25" height="5.16" fill="#dff5e6"/>
<rect x="224.70" y="223.00" width="3.25" height="5.16" fill="#dff5e6"/>
<rect x="227.90" y="223.00" width="3.25" height="5.16" fill="#6ccdb3"/>
<rect x="231.10" y="223.00" width="3.25" height="5.16" fill="#6ccdb3"/>
<rect x="234.30" y="223.00" width="3.25" height="5.16" fill="#dff5e6"/>
<rect x="215.10" y="228.11" width="3.25" height="5.16" fill="#dff5e6"/>
<rect x="218.30" y="228.11" width="3.25" height="5.16" fill="#dff5e6"/>
<rect x="221.50" y="228.11" width="3.25" height="5.16" fill="#c8efd8"/>
<rect x="224.70" y="228.11" width="3.25" height="5.16" fill="#dff5e6"/>
<rect x="227.90" y="228.11" width="3.25" height="5.16" fill="#8cdcbe"/>
<rect x="231.10" y="228.11" width="3.25" height="5.16" fill="#dff5e6"/>
<rect x="234.30" y="228.11" width="3.25" height="5.16" fill="#dff5e6"/>
<rect x="215.10" y="233.22" width="3.25" height="5.16" fill="#4a9cab"/>
<rect x="218.30" y="233.22" width="3.25" height="5.16" fill="#4a9cab"/>
<rect x="221.50" y="233.22" width="3.25" height="5.16" fill="#55b8ad"/>
<rect x="224.70" y="233.22" width="3.25" height="5.16" fill="#41549a"/>
<rect x="227.90" y="233.22" width="3.25" height="5.16" fill="#41549a"/>
<rect x="231.10" y="233.22" width="3.25" height="5.16" fill="#4a9cab"/>
<rect x="234.30" y="233.22" width="3.25" height="5.16" fill="#4a9cab"/>
<rect x="215.10" y="238.33" width="3.25" height="5.16" fill="#ace7c8"/>
<rect x="218.30" y="238.33" width="3.25" height="5.16" fill="#c8efd8"/>
<rect x="221.50" y="238.33" width="3.25" height="5.16" fill="#6ccdb3"/>
<rect x="224.70" y="238.33" width="3.25" height="5.16" fill="#6ccdb3"/>
<rect x="227.90" y="238.33" width="3.25" height="5.16" fill="#6ccdb3"/>
<rect x="231.10" y="238.33" width="3.25" height="5.16" fill="#ace7c8"/>
<rect x="234.30" y="238.33" width="3.25" height="5.16" fill="#dff5e6"/>
<rect x="215.10" y="243.44" width="3.25" height="5.16" fill="#dff5e6"/>
<rect x="218.30" y="243.44" width="3.25" height="5.16" fill="#dff5e6"/>
<rect x="221.50" y="243.44" width="3.25" height="5.16" fill="#6ccdb3"/>
<rect x="224.70" y="243.44" width="3.25" height="5.16" fill="#c8efd8"/>
<rect x="227.90" y="243.44" width="3.25" height="5.16" fill="#dff5e6"/>
<rect x="231.10" y="243.44" width="3.25" height="5.16" fill="#dff5e6"/>
<rect x="234.30" y="243.44" width="3.25" height="5.16" fill="#dff5e6"/>
<rect x="215.10" y="248.55" width="3.25" height="5.16" fill="#dff5e6"/>
<rect x="218.30" y="248.55" width="3.25" height="5.16" fill="#dff5e6"/>
<rect x="221.50" y="248.55" width="3.25" height="5.16" fill="#dff5e6"/>
<rect x="224.70" y="248.55" width="3.25" height="5.16" fill="#dff5e6"/>
<rect x="227.90" y="248.55" width="3.25" height="5.16" fill="#dff5e6"/>
<rect x="231.10" y="248.55" width="3.25" height="5.16" fill="#c8efd8"/>
<rect x="234.30" y="248.55" width="3.25" height="5.16" fill="#c8efd8"/>
<rect x="215.10" y="253.66" width="3.25" height="5.16" fill="#55b8ad"/>
<rect x="218.30" y="253.66" width="3.25" height="5.16" fill="#437caa"/>
<rect x="221.50" y="253.66" width="3.25" height="5.16" fill="#c8efd8"/>
<rect x="224.70" y="253.66" width="3.25" height="5.16" fill="#dff5e6"/>
<rect x="227.90" y="253.66" width="3.25" height="5.16" fill="#dff5e6"/>
<rect x="231.10" y="253.66" width="3.25" height="5.16" fill="#dff5e6"/>
<rect x="234.30" y="253.66" width="3.25" height="5.16" fill="#dff5e6"/>
<rect x="215.10" y="258.77" width="3.25" height="5.16" fill="#8cdcbe"/>
<rect x="218.30" y="258.77" width="3.25" height="5.16" fill="#8cdcbe"/>
<rect x="221.50" y="258.77" width="3.25" height="5.16" fill="#8cdcbe"/>
<rect x="224.70" y="258.77" width="3.25" height="5.16" fill="#ace7c8"/>
<rect x="227.90" y="258.77" width="3.25" height="5.16" fill="#8cdcbe"/>
<rect x="231.10" y="258.77" width="3.25" height="5.16" fill="#8cdcbe"/>
<rect x="234.30" y="258.77" width="3.25" height="5.16" fill="#6ccdb3"/>
<rect x="240.64" y="223.00" width="3.25" height="5.16" fill="#c8efd8"/>
<rect x="243.84" y="223.00" width="3.25" height="5.16" fill="#ace7c8"/>
<rect x="247.04" y="223.00" width="3.25" height="5.16" fill="#ace7c8"/>
<rect x="250.24" y="223.00" width="3.25" height="5.16" fill="#8cdcbe"/>
<rect x="253.44" y="223.00" width="3.25" height="5.16" fill="#8cdcbe"/>
<rect x="256.64" y="223.00" width="3.25" height="5.16" fill="#8cdcbe"/>
<rect x="259.84" y="223.00" width="3.25" height="5.16" fill="#8cdcbe"/>
<rect x="240.64" y="228.11" width="3.25" height="5.16" fill="#dff5e6"/>
<rect x="243.84" y="228.11" width="3.25" height="5.16" fill="#dff5e6"/>
<rect x="247.04" y="228.11" width="3.25" height="5.16" fill="#dff5e6"/>
<rect x="250.24" y="228.11" width="3.25" height="5.16" fill="#dff5e6"/>
<rect x="253.44" y="228.11" width="3.25" height="5.16" fill="#dff5e6"/>
<rect x="256.64" y="228.11" width="3.25" height="5.16" fill="#dff5e6"/>
<rect x="259.84" y="228.11" width="3.25" height="5.16" fill="#8cdcbe"/>
<rect x="240.64" y="233.22" width="3.25" height="5.16" fill="#41549a"/>
<rect x="243.84" y="233.22" width="3.25" height="5.16" fill="#8cdcbe"/>
<rect x="247.04" y="233.22" width="3.25" height="5.16" fill="#dff5e6"/>
<rect x="250.24" y="233.22" width="3.25" height="5.16" fill="#4a9cab"/>
<rect x="253.44" y="233.22" width="3.25" height="5.16" fill="#41549a"/>
<rect x="256.64" y="233.22" width="3.25" height="5.16" fill="#437caa"/>
<rect x="259.84" y="233.22" width="3.25" height="5.16" fill="#437caa"/>
<rect x="240.64" y="238.33" width="3.25" height="5.16" fill="#dff5e6"/>
<rect x="243.84" y="238.33" width="3.25" height="5.16" fill="#dff5e6"/>
<rect x="247.04" y="238.33" width="3.25" height="5.16" fill="#55b8ad"/>
<rect x="250.24" y="238.33" width="3.25" height="5.16" fill="#ace7c8"/>
<rect x="253.44" y="238.33" width="3.25" height="5.16" fill="#6ccdb3"/>
<rect x="256.64" y="238.33" width="3.25" height="5.16" fill="#8cdcbe"/>
<rect x="259.84" y="238.33" width="3.25" height="5.16" fill="#55b8ad"/>
<rect x="240.64" y="243.44" width="3.25" height="5.16" fill="#ace7c8"/>
<rect x="243.84" y="243.44" width="3.25" height="5.16" fill="#ace7c8"/>
<rect x="247.04" y="243.44" width="3.25" height="5.16" fill="#c8efd8"/>
<rect x="250.24" y="243.44" width="3.25" height="5.16" fill="#dff5e6"/>
<rect x="253.44" y="243.44" width="3.25" height="5.16" fill="#dff5e6"/>
<rect x="256.64" y="243.44" width="3.25" height="5.16" fill="#8cdcbe"/>
<rect x="259.84" y="243.44" width="3.25" height="5.16" fill="#4a9cab"/>
<rect x="240.64" y="248.55" width="3.25" height="5.16" fill="#4a9cab"/>
<rect x="243.84" y="248.55" width="3.25" height="5.16" fill="#c8efd8"/>
<rect x="247.04" y="248.55" width="3.25" height="5.16" fill="#c8efd8"/>
<rect x="250.24" y="248.55" width="3.25" height="5.16" fill="#6ccdb3"/>
<rect x="253.44" y="248.55" width="3.25" height="5.16" fill="#6ccdb3"/>
<rect x="256.64" y="248.55" width="3.25" height="5.16" fill="#8cdcbe"/>
<rect x="259.84" y="248.55" width="3.25" height="5.16" fill="#dff5e6"/>
<rect x="240.64" y="253.66" width="3.25" height="5.16" fill="#dff5e6"/>
<rect x="243.84" y="253.66" width="3.25" height="5.16" fill="#dff5e6"/>
<rect x="247.04" y="253.66" width="3.25" height="5.16" fill="#c8efd8"/>
<rect x="250.24" y="253.66" width="3.25" height="5.16" fill="#41549a"/>
<rect x="253.44" y="253.66" width="3.25" height="5.16" fill="#ace7c8"/>
<rect x="256.64" y="253.66" width="3.25" height="5.16" fill="#ace7c8"/>
<rect x="259.84" y="253.66" width="3.25" height="5.16" fill="#437caa"/>
<rect x="240.64" y="258.77" width="3.25" height="5.16" fill="#55b8ad"/>
<rect x="243.84" y="258.77" width="3.25" height="5.16" fill="#ace7c8"/>
<rect x="247.04" y="258.77" width="3.25" height="5.16" fill="#ace7c8"/>
<rect x="250.24" y="258.77" width="3.25" height="5.16" fill="#55b8ad"/>
<rect x="253.44" y="258.77" width="3.25" height="5.16" fill="#6ccdb3"/>
<rect x="256.64" y="258.77" width="3.25" height="5.16" fill="#8cdcbe"/>
<rect x="259.84" y="258.77" width="3.25" height="5.16" fill="#8cdcbe"/>
<rect x="266.18" y="223.00" width="3.25" height="5.16" fill="#ace7c8"/>
<rect x="269.38" y="223.00" width="3.25" height="5.16" fill="#ace7c8"/>
<rect x="272.58" y="223.00" width="3.25" height="5.16" fill="#c8efd8"/>
<rect x="275.78" y="223.00" width="3.25" height="5.16" fill="#c8efd8"/>
<rect x="278.98" y="223.00" width="3.25" height="5.16" fill="#ace7c8"/>
<rect x="282.18" y="223.00" width="3.25" height="5.16" fill="#ace7c8"/>
<rect x="285.38" y="223.00" width="3.25" height="5.16" fill="#8cdcbe"/>
<rect x="266.18" y="228.11" width="3.25" height="5.16" fill="#ace7c8"/>
<rect x="269.38" y="228.11" width="3.25" height="5.16" fill="#c8efd8"/>
<rect x="272.58" y="228.11" width="3.25" height="5.16" fill="#c8efd8"/>
<rect x="275.78" y="228.11" width="3.25" height="5.16" fill="#c8efd8"/>
<rect x="278.98" y="228.11" width="3.25" height="5.16" fill="#dff5e6"/>
<rect x="282.18" y="228.11" width="3.25" height="5.16" fill="#c8efd8"/>
<rect x="285.38" y="228.11" width="3.25" height="5.16" fill="#c8efd8"/>
<rect x="266.18" y="233.22" width="3.25" height="5.16" fill="#4a9cab"/>
<rect x="269.38" y="233.22" width="3.25" height="5.16" fill="#c8efd8"/>
<rect x="272.58" y="233.22" width="3.25" height="5.16" fill="#c8efd8"/>
<rect x="275.78" y="233.22" width="3.25" height="5.16" fill="#55b8ad"/>
<rect x="278.98" y="233.22" width="3.25" height="5.16" fill="#4a9cab"/>
<rect x="282.18" y="233.22" width="3.25" height="5.16" fill="#8cdcbe"/>
<rect x="285.38" y="233.22" width="3.25" height="5.16" fill="#41549a"/>
<rect x="266.18" y="238.33" width="3.25" height="5.16" fill="#dff5e6"/>
<rect x="269.38" y="238.33" width="3.25" height="5.16" fill="#ace7c8"/>
<rect x="272.58" y="238.33" width="3.25" height="5.16" fill="#c8efd8"/>
<rect x="275.78" y="238.33" width="3.25" height="5.16" fill="#ace7c8"/>
<rect x="278.98" y="238.33" width="3.25" height="5.16" fill="#6ccdb3"/>
<rect x="282.18" y="238.33" width="3.25" height="5.16" fill="#dff5e6"/>
<rect x="285.38" y="238.33" width="3.25" height="5.16" fill="#c8efd8"/>
<rect x="266.18" y="243.44" width="3.25" height="5.16" fill="#c8efd8"/>
<rect x="269.38" y="243.44" width="3.25" height="5.16" fill="#dff5e6"/>
<rect x="272.58" y="243.44" width="3.25" height="5.16" fill="#dff5e6"/>
<rect x="275.78" y="243.44" width="3.25" height="5.16" fill="#55b8ad"/>
<rect x="278.98" y="243.44" width="3.25" height="5.16" fill="#6ccdb3"/>
<rect x="282.18" y="243.44" width="3.25" height="5.16" fill="#ace7c8"/>
<rect x="285.38" y="243.44" width="3.25" height="5.16" fill="#c8efd8"/>
<rect x="266.18" y="248.55" width="3.25" height="5.16" fill="#dff5e6"/>
<rect x="269.38" y="248.55" width="3.25" height="5.16" fill="#ace7c8"/>
<rect x="272.58" y="248.55" width="3.25" height="5.16" fill="#ace7c8"/>
<rect x="275.78" y="248.55" width="3.25" height="5.16" fill="#ace7c8"/>
<rect x="278.98" y="248.55" width="3.25" height="5.16" fill="#8cdcbe"/>
<rect x="282.18" y="248.55" width="3.25" height="5.16" fill="#ace7c8"/>
<rect x="285.38" y="248.55" width="3.25" height="5.16" fill="#8cdcbe"/>
<rect x="266.18" y="253.66" width="3.25" height="5.16" fill="#8cdcbe"/>
<rect x="269.38" y="253.66" width="3.25" height="5.16" fill="#6ccdb3"/>
<rect x="272.58" y="253.66" width="3.25" height="5.16" fill="#6ccdb3"/>
<rect x="275.78" y="253.66" width="3.25" height="5.16" fill="#dff5e6"/>
<rect x="278.98" y="253.66" width="3.25" height="5.16" fill="#ace7c8"/>
<rect x="282.18" y="253.66" width="3.25" height="5.16" fill="#ace7c8"/>
<rect x="285.38" y="253.66" width="3.25" height="5.16" fill="#55b8ad"/>
<rect x="266.18" y="258.77" width="3.25" height="5.16" fill="#dff5e6"/>
<rect x="269.38" y="258.77" width="3.25" height="5.16" fill="#c8efd8"/>
<rect x="272.58" y="258.77" width="3.25" height="5.16" fill="#8cdcbe"/>
<rect x="275.78" y="258.77" width="3.25" height="5.16" fill="#4a9cab"/>
<rect x="278.98" y="258.77" width="3.25" height="5.16" fill="#4a9cab"/>
<rect x="282.18" y="258.77" width="3.25" height="5.16" fill="#ace7c8"/>
<rect x="285.38" y="258.77" width="3.25" height="5.16" fill="#6ccdb3"/>
<rect x="29.50" y="269.10" width="3.25" height="5.14" fill="#55b8ad"/>
<rect x="32.70" y="269.10" width="3.25" height="5.14" fill="#437caa"/>
<rect x="35.90" y="269.10" width="3.25" height="5.14" fill="#55b8ad"/>
<rect x="39.10" y="269.10" width="3.25" height="5.14" fill="#55b8ad"/>
<rect x="42.30" y="269.10" width="3.25" height="5.14" fill="#437caa"/>
<rect x="45.50" y="269.10" width="3.25" height="5.14" fill="#4a9cab"/>
<rect x="48.70" y="269.10" width="3.25" height="5.14" fill="#8cdcbe"/>
<rect x="29.50" y="274.19" width="3.25" height="5.14" fill="#8cdcbe"/>
<rect x="32.70" y="274.19" width="3.25" height="5.14" fill="#ace7c8"/>
<rect x="35.90" y="274.19" width="3.25" height="5.14" fill="#55b8ad"/>
<rect x="39.10" y="274.19" width="3.25" height="5.14" fill="#ace7c8"/>
<rect x="42.30" y="274.19" width="3.25" height="5.14" fill="#ace7c8"/>
<rect x="45.50" y="274.19" width="3.25" height="5.14" fill="#4a9cab"/>
<rect x="48.70" y="274.19" width="3.25" height="5.14" fill="#55b8ad"/>
<rect x="29.50" y="279.28" width="3.25" height="5.14" fill="#dff5e6"/>
<rect x="32.70" y="279.28" width="3.25" height="5.14" fill="#dff5e6"/>
<rect x="35.90" y="279.28" width="3.25" height="5.14" fill="#dff5e6"/>
<rect x="39.10" y="279.28" width="3.25" height="5.14" fill="#dff5e6"/>
<rect x="42.30" y="279.28" width="3.25" height="5.14" fill="#dff5e6"/>
<rect x="45.50" y="279.28" width="3.25" height="5.14" fill="#c8efd8"/>
<rect x="48.70" y="279.28" width="3.25" height="5.14" fill="#dff5e6"/>
<rect x="29.50" y="284.37" width="3.25" height="5.14" fill="#ace7c8"/>
<rect x="32.70" y="284.37" width="3.25" height="5.14" fill="#8cdcbe"/>
<rect x="35.90" y="284.37" width="3.25" height="5.14" fill="#8cdcbe"/>
<rect x="39.10" y="284.37" width="3.25" height="5.14" fill="#ace7c8"/>
<rect x="42.30" y="284.37" width="3.25" height="5.14" fill="#55b8ad"/>
<rect x="45.50" y="284.37" width="3.25" height="5.14" fill="#55b8ad"/>
<rect x="48.70" y="284.37" width="3.25" height="5.14" fill="#55b8ad"/>
<rect x="29.50" y="289.46" width="3.25" height="5.14" fill="#55b8ad"/>
<rect x="32.70" y="289.46" width="3.25" height="5.14" fill="#dff5e6"/>
<rect x="35.90" y="289.46" width="3.25" height="5.14" fill="#4a9cab"/>
<rect x="39.10" y="289.46" width="3.25" height="5.14" fill="#41549a"/>
<rect x="42.30" y="289.46" width="3.25" height="5.14" fill="#55b8ad"/>
<rect x="45.50" y="289.46" width="3.25" height="5.14" fill="#437caa"/>
<rect x="48.70" y="289.46" width="3.25" height="5.14" fill="#55b8ad"/>
<rect x="29.50" y="294.55" width="3.25" height="5.14" fill="#c8efd8"/>
<rect x="32.70" y="294.55" width="3.25" height="5.14" fill="#dff5e6"/>
<rect x="35.90" y="294.55" width="3.25" height="5.14" fill="#dff5e6"/>
<rect x="39.10" y="294.55" width="3.25" height="5.14" fill="#c8efd8"/>
<rect x="42.30" y="294.55" width="3.25" height="5.14" fill="#dff5e6"/>
<rect x="45.50" y="294.55" width="3.25" height="5.14" fill="#dff5e6"/>
<rect x="48.70" y="294.55" width="3.25" height="5.14" fill="#dff5e6"/>
<rect x="29.50" y="299.64" width="3.25" height="5.14" fill="#4a9cab"/>
<rect x="32.70" y="299.64" width="3.25" height="5.14" fill="#55b8ad"/>
<rect x="35.90" y="299.64" width="3.25" height="5.14" fill="#6ccdb3"/>
<rect x="39.10" y="299.64" width="3.25" height="5.14" fill="#dff5e6"/>
<rect x="42.30" y="299.64" width="3.25" height="5.14" fill="#dff5e6"/>
<rect x="45.50" y="299.64" width="3.25" height="5.14" fill="#dff5e6"/>
<rect x="48.70" y="299.64" width="3.25" height="5.14" fill="#dff5e6"/>
<rect x="55.00" y="269.10" width="3.25" height="5.14" fill="#dff5e6"/>
<rect x="58.20" y="269.10" width="3.25" height="5.14" fill="#dff5e6"/>
<rect x="61.40" y="269.10" width="3.25" height="5.14" fill="#dff5e6"/>
<rect x="64.60" y="269.10" width="3.25" height="5.14" fill="#6ccdb3"/>
<rect x="67.80" y="269.10" width="3.25" height="5.14" fill="#4a9cab"/>
<rect x="71.00" y="269.10" width="3.25" height="5.14" fill="#55b8ad"/>
<rect x="74.20" y="269.10" width="3.25" height="5.14" fill="#55b8ad"/>
<rect x="55.00" y="274.19" width="3.25" height="5.14" fill="#6ccdb3"/>
<rect x="58.20" y="274.19" width="3.25" height="5.14" fill="#6ccdb3"/>
<rect x="61.40" y="274.19" width="3.25" height="5.14" fill="#55b8ad"/>
<rect x="64.60" y="274.19" width="3.25" height="5.14" fill="#8cdcbe"/>
<rect x="67.80" y="274.19" width="3.25" height="5.14" fill="#4a9cab"/>
<rect x="71.00" y="274.19" width="3.25" height="5.14" fill="#4a9cab"/>
<rect x="74.20" y="274.19" width="3.25" height="5.14" fill="#55b8ad"/>
<rect x="55.00" y="279.28" width="3.25" height="5.14" fill="#dff5e6"/>
<rect x="58.20" y="279.28" width="3.25" height="5.14" fill="#dff5e6"/>
<rect x="61.40" y="279.28" width="3.25" height="5.14" fill="#dff5e6"/>
<rect x="64.60" y="279.28" width="3.25" height="5.14" fill="#c8efd8"/>
<rect x="67.80" y="279.28" width="3.25" height="5.14" fill="#ace7c8"/>
<rect x="71.00" y="279.28" width="3.25" height="5.14" fill="#c8efd8"/>
<rect x="74.20" y="279.28" width="3.25" height="5.14" fill="#dff5e6"/>
<rect x="55.00" y="284.37" width="3.25" height="5.14" fill="#4a9cab"/>
<rect x="58.20" y="284.37" width="3.25" height="5.14" fill="#55b8ad"/>
<rect x="61.40" y="284.37" width="3.25" height="5.14" fill="#55b8ad"/>
<rect x="64.60" y="284.37" width="3.25" height="5.14" fill="#55b8ad"/>
<rect x="67.80" y="284.37" width="3.25" height="5.14" fill="#4a9cab"/>
<rect x="71.00" y="284.37" width="3.25" height="5.14" fill="#ace7c8"/>
<rect x="74.20" y="284.37" width="3.25" height="5.14" fill="#dff5e6"/>
<rect x="55.00" y="289.46" width="3.25" height="5.14" fill="#c8efd8"/>
<rect x="58.20" y="289.46" width="3.25" height="5.14" fill="#c8efd8"/>
<rect x="61.40" y="289.46" width="3.25" height="5.14" fill="#6ccdb3"/>
<rect x="64.60" y="289.46" width="3.25" height="5.14" fill="#55b8ad"/>
<rect x="67.80" y="289.46" width="3.25" height="5.14" fill="#41549a"/>
<rect x="71.00" y="289.46" width="3.25" height="5.14" fill="#4a9cab"/>
<rect x="74.20" y="289.46" width="3.25" height="5.14" fill="#8cdcbe"/>
<rect x="55.00" y="294.55" width="3.25" height="5.14" fill="#c8efd8"/>
<rect x="58.20" y="294.55" width="3.25" height="5.14" fill="#dff5e6"/>
<rect x="61.40" y="294.55" width="3.25" height="5.14" fill="#dff5e6"/>
<rect x="64.60" y="294.55" width="3.25" height="5.14" fill="#dff5e6"/>
<rect x="67.80" y="294.55" width="3.25" height="5.14" fill="#dff5e6"/>
<rect x="71.00" y="294.55" width="3.25" height="5.14" fill="#dff5e6"/>
<rect x="74.20" y="294.55" width="3.25" height="5.14" fill="#dff5e6"/>
<rect x="55.00" y="299.64" width="3.25" height="5.14" fill="#c8efd8"/>
<rect x="58.20" y="299.64" width="3.25" height="5.14" fill="#dff5e6"/>
<rect x="61.40" y="299.64" width="3.25" height="5.14" fill="#dff5e6"/>
<rect x="64.60" y="299.64" width="3.25" height="5.14" fill="#dff5e6"/>
<rect x="67.80" y="299.64" width="3.25" height="5.14" fill="#dff5e6"/>
<rect x="71.00" y="299.64" width="3.25" height="5.14" fill="#dff5e6"/>
<rect x="74.20" y="299.64" width="3.25" height="5.14" fill="#dff5e6"/>
<rect x="87.40" y="269.10" width="3.25" height="5.14" fill="#6ccdb3"/>
<rect x="90.60" y="269.10" width="3.25" height="5.14" fill="#6ccdb3"/>
<rect x="93.80" y="269.10" width="3.25" height="5.14" fill="#4a9cab"/>
<rect x="97.00" y="269.10" width="3.25" height="5.14" fill="#4a9cab"/>
<rect x="100.20" y="269.10" width="3.25" height="5.14" fill="#437caa"/>
<rect x="103.40" y="269.10" width="3.25" height="5.14" fill="#4a9cab"/>
<rect x="106.60" y="269.10" width="3.25" height="5.14" fill="#437caa"/>
<rect x="87.40" y="274.19" width="3.25" height="5.14" fill="#dff5e6"/>
<rect x="90.60" y="274.19" width="3.25" height="5.14" fill="#dff5e6"/>
<rect x="93.80" y="274.19" width="3.25" height="5.14" fill="#dff5e6"/>
<rect x="97.00" y="274.19" width="3.25" height="5.14" fill="#dff5e6"/>
<rect x="100.20" y="274.19" width="3.25" height="5.14" fill="#dff5e6"/>
<rect x="103.40" y="274.19" width="3.25" height="5.14" fill="#dff5e6"/>
<rect x="106.60" y="274.19" width="3.25" height="5.14" fill="#41549a"/>
<rect x="87.40" y="279.28" width="3.25" height="5.14" fill="#dff5e6"/>
<rect x="90.60" y="279.28" width="3.25" height="5.14" fill="#dff5e6"/>
<rect x="93.80" y="279.28" width="3.25" height="5.14" fill="#dff5e6"/>
<rect x="97.00" y="279.28" width="3.25" height="5.14" fill="#c8efd8"/>
<rect x="100.20" y="279.28" width="3.25" height="5.14" fill="#c8efd8"/>
<rect x="103.40" y="279.28" width="3.25" height="5.14" fill="#c8efd8"/>
<rect x="106.60" y="279.28" width="3.25" height="5.14" fill="#dff5e6"/>
<rect x="87.40" y="284.37" width="3.25" height="5.14" fill="#c8efd8"/>
<rect x="90.60" y="284.37" width="3.25" height="5.14" fill="#8cdcbe"/>
<rect x="93.80" y="284.37" width="3.25" height="5.14" fill="#8cdcbe"/>
<rect x="97.00" y="284.37" width="3.25" height="5.14" fill="#8cdcbe"/>
<rect x="100.20" y="284.37" width="3.25" height="5.14" fill="#55b8ad"/>
<rect x="103.40" y="284.37" width="3.25" height="5.14" fill="#6ccdb3"/>
<rect x="106.60" y="284.37" width="3.25" height="5.14" fill="#8cdcbe"/>
<rect x="87.40" y="289.46" width="3.25" height="5.14" fill="#ace7c8"/>
<rect x="90.60" y="289.46" width="3.25" height="5.14" fill="#8cdcbe"/>
<rect x="93.80" y="289.46" width="3.25" height="5.14" fill="#4a9cab"/>
<rect x="97.00" y="289.46" width="3.25" height="5.14" fill="#8cdcbe"/>
<rect x="100.20" y="289.46" width="3.25" height="5.14" fill="#6ccdb3"/>
<rect x="103.40" y="289.46" width="3.25" height="5.14" fill="#6ccdb3"/>
<rect x="106.60" y="289.46" width="3.25" height="5.14" fill="#41549a"/>
<rect x="87.40" y="294.55" width="3.25" height="5.14" fill="#dff5e6"/>
<rect x="90.60" y="294.55" width="3.25" height="5.14" fill="#dff5e6"/>
<rect x="93.80" y="294.55" width="3.25" height="5.14" fill="#c8efd8"/>
<rect x="97.00" y="294.55" width="3.25" height="5.14" fill="#dff5e6"/>
<rect x="100.20" y="294.55" width="3.25" height="5.14" fill="#c8efd8"/>
<rect x="103.40" y="294.55" width="3.25" height="5.14" fill="#dff5e6"/>
<rect x="106.60" y="294.55" width="3.25" height="5.14" fill="#dff5e6"/>
<rect x="87.40" y="299.64" width="3.25" height="5.14" fill="#dff5e6"/>
<rect x="90.60" y="299.64" width="3.25" height="5.14" fill="#dff5e6"/>
<rect x="93.80" y="299.64" width="3.25" height="5.14" fill="#dff5e6"/>
<rect x="97.00" y="299.64" width="3.25" height="5.14" fill="#c8efd8"/>
<rect x="100.20" y="299.64" width="3.25" height="5.14" fill="#dff5e6"/>
<rect x="103.40" y="299.64" width="3.25" height="5.14" fill="#dff5e6"/>
<rect x="106.60" y="299.64" width="3.25" height="5.14" fill="#dff5e6"/>
<rect x="112.94" y="269.10" width="3.25" height="5.14" fill="#22193a"/>
<rect x="116.14" y="269.10" width="3.25" height="5.14" fill="#22193a"/>
<rect x="119.34" y="269.10" width="3.25" height="5.14" fill="#55b8ad"/>
<rect x="122.54" y="269.10" width="3.25" height="5.14" fill="#8cdcbe"/>
<rect x="125.74" y="269.10" width="3.25" height="5.14" fill="#dff5e6"/>
<rect x="128.94" y="269.10" width="3.25" height="5.14" fill="#dff5e6"/>
<rect x="132.14" y="269.10" width="3.25" height="5.14" fill="#dff5e6"/>
<rect x="112.94" y="274.19" width="3.25" height="5.14" fill="#41549a"/>
<rect x="116.14" y="274.19" width="3.25" height="5.14" fill="#41549a"/>
<rect x="119.34" y="274.19" width="3.25" height="5.14" fill="#8cdcbe"/>
<rect x="122.54" y="274.19" width="3.25" height="5.14" fill="#dff5e6"/>
<rect x="125.74" y="274.19" width="3.25" height="5.14" fill="#ace7c8"/>
<rect x="128.94" y="274.19" width="3.25" height="5.14" fill="#8cdcbe"/>
<rect x="132.14" y="274.19" width="3.25" height="5.14" fill="#dff5e6"/>
<rect x="112.94" y="279.28" width="3.25" height="5.14" fill="#dff5e6"/>
<rect x="116.14" y="279.28" width="3.25" height="5.14" fill="#dff5e6"/>
<rect x="119.34" y="279.28" width="3.25" height="5.14" fill="#dff5e6"/>
<rect x="122.54" y="279.28" width="3.25" height="5.14" fill="#c8efd8"/>
<rect x="125.74" y="279.28" width="3.25" height="5.14" fill="#dff5e6"/>
<rect x="128.94" y="279.28" width="3.25" height="5.14" fill="#dff5e6"/>
<rect x="132.14" y="279.28" width="3.25" height="5.14" fill="#c8efd8"/>
<rect x="112.94" y="284.37" width="3.25" height="5.14" fill="#4a9cab"/>
<rect x="116.14" y="284.37" width="3.25" height="5.14" fill="#ace7c8"/>
<rect x="119.34" y="284.37" width="3.25" height="5.14" fill="#55b8ad"/>
<rect x="122.54" y="284.37" width="3.25" height="5.14" fill="#437caa"/>
<rect x="125.74" y="284.37" width="3.25" height="5.14" fill="#6ccdb3"/>
<rect x="128.94" y="284.37" width="3.25" height="5.14" fill="#55b8ad"/>
<rect x="132.14" y="284.37" width="3.25" height="5.14" fill="#55b8ad"/>
<rect x="112.94" y="289.46" width="3.25" height="5.14" fill="#c8efd8"/>
<rect x="116.14" y="289.46" width="3.25" height="5.14" fill="#4a9cab"/>
<rect x="119.34" y="289.46" width="3.25" height="5.14" fill="#55b8ad"/>
<rect x="122.54" y="289.46" width="3.25" height="5.14" fill="#437caa"/>
<rect x="125.74" y="289.46" width="3.25" height="5.14" fill="#22193a"/>
<rect x="128.94" y="289.46" width="3.25" height="5.14" fill="#4a9cab"/>
<rect x="132.14" y="289.46" width="3.25" height="5.14" fill="#4a9cab"/>
<rect x="112.94" y="294.55" width="3.25" height="5.14" fill="#dff5e6"/>
<rect x="116.14" y="294.55" width="3.25" height="5.14" fill="#dff5e6"/>
<rect x="119.34" y="294.55" width="3.25" height="5.14" fill="#dff5e6"/>
<rect x="122.54" y="294.55" width="3.25" height="5.14" fill="#dff5e6"/>
<rect x="125.74" y="294.55" width="3.25" height="5.14" fill="#dff5e6"/>
<rect x="128.94" y="294.55" width="3.25" height="5.14" fill="#dff5e6"/>
<rect x="132.14" y="294.55" width="3.25" height="5.14" fill="#dff5e6"/>
<rect x="112.94" y="299.64" width="3.25" height="5.14" fill="#dff5e6"/>
<rect x="116.14" y="299.64" width="3.25" height="5.14" fill="#dff5e6"/>
<rect x="119.34" y="299.64" width="3.25" height="5.14" fill="#dff5e6"/>
<rect x="122.54" y="299.64" width="3.25" height="5.14" fill="#dff5e6"/>
<rect x="125.74" y="299.64" width="3.25" height="5.14" fill="#c8efd8"/>
<rect x="128.94" y="299.64" width="3.25" height="5.14" fill="#dff5e6"/>
<rect x="132.14" y="299.64" width="3.25" height="5.14" fill="#dff5e6"/>
<rect x="138.48" y="269.10" width="3.25" height="5.14" fill="#dff5e6"/>
<rect x="141.68" y="269.10" width="3.25" height="5.14" fill="#dff5e6"/>
<rect x="144.88" y="269.10" width="3.25" height="5.14" fill="#22193a"/>
<rect x="148.08" y="269.10" width="3.25" height="5.14" fill="#55b8ad"/>
<rect x="151.28" y="269.10" width="3.25" height="5.14" fill="#22193a"/>
<rect x="154.48" y="269.10" width="3.25" height="5.14" fill="#55b8ad"/>
<rect x="157.68" y="269.10" width="3.25" height="5.14" fill="#437caa"/>
<rect x="138.48" y="274.19" width="3.25" height="5.14" fill="#dff5e6"/>
<rect x="141.68" y="274.19" width="3.25" height="5.14" fill="#dff5e6"/>
<rect x="144.88" y="274.19" width="3.25" height="5.14" fill="#dff5e6"/>
<rect x="148.08" y="274.19" width="3.25" height="5.14" fill="#dff5e6"/>
<rect x="151.28" y="274.19" width="3.25" height="5.14" fill="#dff5e6"/>
<rect x="154.48" y="274.19" width="3.25" height="5.14" fill="#c8efd8"/>
<rect x="157.68" y="274.19" width="3.25" height="5.14" fill="#dff5e6"/>
<rect x="138.48" y="279.28" width="3.25" height="5.14" fill="#dff5e6"/>
<rect x="141.68" y="279.28" width="3.25" height="5.14" fill="#dff5e6"/>
<rect x="144.88" y="279.28" width="3.25" height="5.14" fill="#dff5e6"/>
<rect x="148.08" y="279.28" width="3.25" height="5.14" fill="#dff5e6"/>
<rect x="151.28" y="279.28" width="3.25" height="5.14" fill="#dff5e6"/>
<rect x="154.48" y="279.28" width="3.25" height="5.14" fill="#ace7c8"/>
<rect x="157.68" y="279.28" width="3.25" height="5.14" fill="#dff5e6"/>
<rect x="138.48" y="284.37" width="3.25" height="5.14" fill="#4a9cab"/>
<rect x="141.68" y="284.37" width="3.25" height="5.14" fill="#6ccdb3"/>
<rect x="144.88" y="284.37" width="3.25" height="5.14" fill="#6ccdb3"/>
<rect x="148.08" y="284.37" width="3.25" height="5.14" fill="#55b8ad"/>
<rect x="151.28" y="284.37" width="3.25" height="5.14" fill="#6ccdb3"/>
<rect x="154.48" y="284.37" width="3.25" height="5.14" fill="#4a9cab"/>
<rect x="157.68" y="284.37" width="3.25" height="5.14" fill="#55b8ad"/>
<rect x="138.48" y="289.46" width="3.25" height="5.14" fill="#55b8ad"/>
<rect x="141.68" y="289.46" width="3.25" height="5.14" fill="#ace7c8"/>
<rect x="144.88" y="289.46" width="3.25" height="5.14" fill="#ace7c8"/>
<rect x="148.08" y="289.46" width="3.25" height="5.14" fill="#dff5e6"/>
<rect x="151.28" y="289.46" width="3.25" height="5.14" fill="#dff5e6"/>
<rect x="154.48" y="289.46" width="3.25" height="5.14" fill="#dff5e6"/>
<rect x="157.68" y="289.46" width="3.25" height="5.14" fill="#dff5e6"/>
<rect x="138.48" y="294.55" width="3.25" height="5.14" fill="#dff5e6"/>
<rect x="141.68" y="294.55" width="3.25" height="5.14" fill="#dff5e6"/>
<rect x="144.88" y="294.55" width="3.25" height="5.14" fill="#dff5e6"/>
<rect x="148.08" y="294.55" width="3.25" height="5.14" fill="#dff5e6"/>
<rect x="151.28" y="294.55" width="3.25" height="5.14" fill="#dff5e6"/>
<rect x="154.48" y="294.55" width="3.25" height="5.14" fill="#dff5e6"/>
<rect x="157.68" y="294.55" width="3.25" height="5.14" fill="#dff5e6"/>
<rect x="138.48" y="299.64" width="3.25" height="5.14" fill="#dff5e6"/>
<rect x="141.68" y="299.64" width="3.25" height="5.14" fill="#dff5e6"/>
<rect x="144.88" y="299.64" width="3.25" height="5.14" fill="#dff5e6"/>
<rect x="148.08" y="299.64" width="3.25" height="5.14" fill="#dff5e6"/>
<rect x="151.28" y="299.64" width="3.25" height="5.14" fill="#dff5e6"/>
<rect x="154.48" y="299.64" width="3.25" height="5.14" fill="#dff5e6"/>
<rect x="157.68" y="299.64" width="3.25" height="5.14" fill="#dff5e6"/>
<rect x="164.02" y="269.10" width="3.25" height="5.14" fill="#55b8ad"/>
<rect x="167.22" y="269.10" width="3.25" height="5.14" fill="#6ccdb3"/>
<rect x="170.42" y="269.10" width="3.25" height="5.14" fill="#4a9cab"/>
<rect x="173.62" y="269.10" width="3.25" height="5.14" fill="#4a9cab"/>
<rect x="176.82" y="269.10" width="3.25" height="5.14" fill="#4a9cab"/>
<rect x="180.02" y="269.10" width="3.25" height="5.14" fill="#437caa"/>
<rect x="183.22" y="269.10" width="3.25" height="5.14" fill="#6ccdb3"/>
<rect x="164.02" y="274.19" width="3.25" height="5.14" fill="#dff5e6"/>
<rect x="167.22" y="274.19" width="3.25" height="5.14" fill="#dff5e6"/>
<rect x="170.42" y="274.19" width="3.25" height="5.14" fill="#dff5e6"/>
<rect x="173.62" y="274.19" width="3.25" height="5.14" fill="#c8efd8"/>
<rect x="176.82" y="274.19" width="3.25" height="5.14" fill="#dff5e6"/>
<rect x="180.02" y="274.19" width="3.25" height="5.14" fill="#dff5e6"/>
<rect x="183.22" y="274.19" width="3.25" height="5.14" fill="#dff5e6"/>
<rect x="164.02" y="279.28" width="3.25" height="5.14" fill="#dff5e6"/>
<rect x="167.22" y="279.28" width="3.25" height="5.14" fill="#dff5e6"/>
<rect x="170.42" y="279.28" width="3.25" height="5.14" fill="#dff5e6"/>
<rect x="173.62" y="279.28" width="3.25" height="5.14" fill="#dff5e6"/>
<rect x="176.82" y="279.28" width="3.25" height="5.14" fill="#dff5e6"/>
<rect x="180.02" y="279.28" width="3.25" height="5.14" fill="#c8efd8"/>
<rect x="183.22" y="279.28" width="3.25" height="5.14" fill="#c8efd8"/>
<rect x="164.02" y="284.37" width="3.25" height="5.14" fill="#6ccdb3"/>
<rect x="167.22" y="284.37" width="3.25" height="5.14" fill="#55b8ad"/>
<rect x="170.42" y="284.37" width="3.25" height="5.14" fill="#6ccdb3"/>
<rect x="173.62" y="284.37" width="3.25" height="5.14" fill="#55b8ad"/>
<rect x="176.82" y="284.37" width="3.25" height="5.14" fill="#6ccdb3"/>
<rect x="180.02" y="284.37" width="3.25" height="5.14" fill="#4a9cab"/>
<rect x="183.22" y="284.37" width="3.25" height="5.14" fill="#55b8ad"/>
<rect x="164.02" y="289.46" width="3.25" height="5.14" fill="#dff5e6"/>
<rect x="167.22" y="289.46" width="3.25" height="5.14" fill="#dff5e6"/>
<rect x="170.42" y="289.46" width="3.25" height="5.14" fill="#dff5e6"/>
<rect x="173.62" y="289.46" width="3.25" height="5.14" fill="#dff5e6"/>
<rect x="176.82" y="289.46" width="3.25" height="5.14" fill="#dff5e6"/>
<rect x="180.02" y="289.46" width="3.25" height="5.14" fill="#dff5e6"/>
<rect x="183.22" y="289.46" width="3.25" height="5.14" fill="#dff5e6"/>
<rect x="164.02" y="294.55" width="3.25" height="5.14" fill="#dff5e6"/>
<rect x="167.22" y="294.55" width="3.25" height="5.14" fill="#dff5e6"/>
<rect x="170.42" y="294.55" width="3.25" height="5.14" fill="#dff5e6"/>
<rect x="173.62" y="294.55" width="3.25" height="5.14" fill="#dff5e6"/>
<rect x="176.82" y="294.55" width="3.25" height="5.14" fill="#dff5e6"/>
<rect x="180.02" y="294.55" width="3.25" height="5.14" fill="#dff5e6"/>
<rect x="183.22" y="294.55" width="3.25" height="5.14" fill="#dff5e6"/>
<rect x="164.02" y="299.64" width="3.25" height="5.14" fill="#dff5e6"/>
<rect x="167.22" y="299.64" width="3.25" height="5.14" fill="#dff5e6"/>
<rect x="170.42" y="299.64" width="3.25" height="5.14" fill="#dff5e6"/>
<rect x="173.62" y="299.64" width="3.25" height="5.14" fill="#6ccdb3"/>
<rect x="176.82" y="299.64" width="3.25" height="5.14" fill="#dff5e6"/>
<rect x="180.02" y="299.64" width="3.25" height="5.14" fill="#dff5e6"/>
<rect x="183.22" y="299.64" width="3.25" height="5.14" fill="#dff5e6"/>
<rect x="189.56" y="269.10" width="3.25" height="5.14" fill="#8cdcbe"/>
<rect x="192.76" y="269.10" width="3.25" height="5.14" fill="#dff5e6"/>
<rect x="195.96" y="269.10" width="3.25" height="5.14" fill="#ace7c8"/>
<rect x="199.16" y="269.10" width="3.25" height="5.14" fill="#ace7c8"/>
<rect x="202.36" y="269.10" width="3.25" height="5.14" fill="#ace7c8"/>
<rect x="205.56" y="269.10" width="3.25" height="5.14" fill="#41549a"/>
<rect x="208.76" y="269.10" width="3.25" height="5.14" fill="#dff5e6"/>
<rect x="189.56" y="274.19" width="3.25" height="5.14" fill="#dff5e6"/>
<rect x="192.76" y="274.19" width="3.25" height="5.14" fill="#dff5e6"/>
<rect x="195.96" y="274.19" width="3.25" height="5.14" fill="#dff5e6"/>
<rect x="199.16" y="274.19" width="3.25" height="5.14" fill="#dff5e6"/>
<rect x="202.36" y="274.19" width="3.25" height="5.14" fill="#dff5e6"/>
<rect x="205.56" y="274.19" width="3.25" height="5.14" fill="#dff5e6"/>
<rect x="208.76" y="274.19" width="3.25" height="5.14" fill="#dff5e6"/>
<rect x="189.56" y="279.28" width="3.25" height="5.14" fill="#c8efd8"/>
<rect x="192.76" y="279.28" width="3.25" height="5.14" fill="#dff5e6"/>
<rect x="195.96" y="279.28" width="3.25" height="5.14" fill="#dff5e6"/>
<rect x="199.16" y="279.28" width="3.25" height="5.14" fill="#dff5e6"/>
<rect x="202.36" y="279.28" width="3.25" height="5.14" fill="#dff5e6"/>
<rect x="205.56" y="279.28" width="3.25" height="5.14" fill="#dff5e6"/>
<rect x="208.76" y="279.28" width="3.25" height="5.14" fill="#dff5e6"/>
<rect x="189.56" y="284.37" width="3.25" height="5.14" fill="#55b8ad"/>
<rect x="192.76" y="284.37" width="3.25" height="5.14" fill="#8cdcbe"/>
<rect x="195.96" y="284.37" width="3.25" height="5.14" fill="#c8efd8"/>
<rect x="199.16" y="284.37" width="3.25" height="5.14" fill="#55b8ad"/>
<rect x="202.36" y="284.37" width="3.25" height="5.14" fill="#55b8ad"/>
<rect x="205.56" y="284.37" width="3.25" height="5.14" fill="#ace7c8"/>
<rect x="208.76" y="284.37" width="3.25" height="5.14" fill="#6ccdb3"/>
<rect x="189.56" y="289.46" width="3.25" height="5.14" fill="#dff5e6"/>
<rect x="192.76" y="289.46" width="3.25" height="5.14" fill="#dff5e6"/>
<rect x="195.96" y="289.46" width="3.25" height="5.14" fill="#dff5e6"/>
<rect x="199.16" y="289.46" width="3.25" height="5.14" fill="#dff5e6"/>
<rect x="202.36" y="289.46" width="3.25" height="5.14" fill="#dff5e6"/>
<rect x="205.56" y="289.46" width="3.25" height="5.14" fill="#dff5e6"/>
<rect x="208.76" y="289.46" width="3.25" height="5.14" fill="#dff5e6"/>
<rect x="189.56" y="294.55" width="3.25" height="5.14" fill="#dff5e6"/>
<rect x="192.76" y="294.55" width="3.25" height="5.14" fill="#dff5e6"/>
<rect x="195.96" y="294.55" width="3.25" height="5.14" fill="#dff5e6"/>
<rect x="199.16" y="294.55" width="3.25" height="5.14" fill="#dff5e6"/>
<rect x="202.36" y="294.55" width="3.25" height="5.14" fill="#dff5e6"/>
<rect x="205.56" y="294.55" width="3.25" height="5.14" fill="#dff5e6"/>
<rect x="208.76" y="294.55" width="3.25" height="5.14" fill="#dff5e6"/>
<rect x="189.56" y="299.64" width="3.25" height="5.14" fill="#dff5e6"/>
<rect x="192.76" y="299.64" width="3.25" height="5.14" fill="#dff5e6"/>
<rect x="195.96" y="299.64" width="3.25" height="5.14" fill="#dff5e6"/>
<rect x="199.16" y="299.64" width="3.25" height="5.14" fill="#dff5e6"/>
<rect x="202.36" y="299.64" width="3.25" height="5.14" fill="#dff5e6"/>
<rect x="205.56" y="299.64" width="3.25" height="5.14" fill="#dff5e6"/>
<rect x="208.76" y="299.64" width="3.25" height="5.14" fill="#dff5e6"/>
<rect x="215.10" y="269.10" width="3.25" height="5.14" fill="#c8efd8"/>
<rect x="218.30" y="269.10" width="3.25" height="5.14" fill="#dff5e6"/>
<rect x="221.50" y="269.10" width="3.25" height="5.14" fill="#dff5e6"/>
<rect x="224.70" y="269.10" width="3.25" height="5.14" fill="#dff5e6"/>
<rect x="227.90" y="269.10" width="3.25" height="5.14" fill="#dff5e6"/>
<rect x="231.10" y="269.10" width="3.25" height="5.14" fill="#dff5e6"/>
<rect x="234.30" y="269.10" width="3.25" height="5.14" fill="#dff5e6"/>
<rect x="215.10" y="274.19" width="3.25" height="5.14" fill="#dff5e6"/>
<rect x="218.30" y="274.19" width="3.25" height="5.14" fill="#dff5e6"/>
<rect x="221.50" y="274.19" width="3.25" height="5.14" fill="#dff5e6"/>
<rect x="224.70" y="274.19" width="3.25" height="5.14" fill="#dff5e6"/>
<rect x="227.90" y="274.19" width="3.25" height="5.14" fill="#dff5e6"/>
<rect x="231.10" y="274.19" width="3.25" height="5.14" fill="#dff5e6"/>
<rect x="234.30" y="274.19" width="3.25" height="5.14" fill="#dff5e6"/>
<rect x="215.10" y="279.28" width="3.25" height="5.14" fill="#dff5e6"/>
<rect x="218.30" y="279.28" width="3.25" height="5.14" fill="#c8efd8"/>
<rect x="221.50" y="279.28" width="3.25" height="5.14" fill="#dff5e6"/>
<rect x="224.70" y="279.28" width="3.25" height="5.14" fill="#dff5e6"/>
<rect x="227.90" y="279.28" width="3.25" height="5.14" fill="#dff5e6"/>
<rect x="231.10" y="279.28" width="3.25" height="5.14" fill="#dff5e6"/>
<rect x="234.30" y="279.28" width="3.25" height="5.14" fill="#dff5e6"/>
<rect x="215.10" y="284.37" width="3.25" height="5.14" fill="#8cdcbe"/>
<rect x="218.30" y="284.37" width="3.25" height="5.14" fill="#4a9cab"/>
<rect x="221.50" y="284.37" width="3.25" height="5.14" fill="#55b8ad"/>
<rect x="224.70" y="284.37" width="3.25" height="5.14" fill="#8cdcbe"/>
<rect x="227.90" y="284.37" width="3.25" height="5.14" fill="#c8efd8"/>
<rect x="231.10" y="284.37" width="3.25" height="5.14" fill="#dff5e6"/>
<rect x="234.30" y="284.37" width="3.25" height="5.14" fill="#dff5e6"/>
<rect x="215.10" y="289.46" width="3.25" height="5.14" fill="#dff5e6"/>
<rect x="218.30" y="289.46" width="3.25" height="5.14" fill="#dff5e6"/>
<rect x="221.50" y="289.46" width="3.25" height="5.14" fill="#dff5e6"/>
<rect x="224.70" y="289.46" width="3.25" height="5.14" fill="#dff5e6"/>
<rect x="227.90" y="289.46" width="3.25" height="5.14" fill="#dff5e6"/>
<rect x="231.10" y="289.46" width="3.25" height="5.14" fill="#dff5e6"/>
<rect x="234.30" y="289.46" width="3.25" height="5.14" fill="#dff5e6"/>
<rect x="215.10" y="294.55" width="3.25" height="5.14" fill="#dff5e6"/>
<rect x="218.30" y="294.55" width="3.25" height="5.14" fill="#dff5e6"/>
<rect x="221.50" y="294.55" width="3.25" height="5.14" fill="#dff5e6"/>
<rect x="224.70" y="294.55" width="3.25" height="5.14" fill="#dff5e6"/>
<rect x="227.90" y="294.55" width="3.25" height="5.14" fill="#dff5e6"/>
<rect x="231.10" y="294.55" width="3.25" height="5.14" fill="#dff5e6"/>
<rect x="234.30" y="294.55" width="3.25" height="5.14" fill="#dff5e6"/>
<rect x="215.10" y="299.64" width="3.25" height="5.14" fill="#dff5e6"/>
<rect x="218.30" y="299.64" width="3.25" height="5.14" fill="#dff5e6"/>
<rect x="221.50" y="299.64" width="3.25" height="5.14" fill="#dff5e6"/>
<rect x="224.70" y="299.64" width="3.25" height="5.14" fill="#dff5e6"/>
<rect x="227.90" y="299.64" width="3.25" height="5.14" fill="#dff5e6"/>
<rect x="231.10" y="299.64" width="3.25" height="5.14" fill="#c8efd8"/>
<rect x="234.30" y="299.64" width="3.25" height="5.14" fill="#dff5e6"/>
<rect x="240.64" y="269.10" width="3.25" height="5.14" fill="#dff5e6"/>
<rect x="243.84" y="269.10" width="3.25" height="5.14" fill="#dff5e6"/>
<rect x="247.04" y="269.10" width="3.25" height="5.14" fill="#dff5e6"/>
<rect x="250.24" y="269.10" width="3.25" height="5.14" fill="#dff5e6"/>
<rect x="253.44" y="269.10" width="3.25" height="5.14" fill="#dff5e6"/>
<rect x="256.64" y="269.10" width="3.25" height="5.14" fill="#dff5e6"/>
<rect x="259.84" y="269.10" width="3.25" height="5.14" fill="#dff5e6"/>
<rect x="240.64" y="274.19" width="3.25" height="5.14" fill="#dff5e6"/>
<rect x="243.84" y="274.19" width="3.25" height="5.14" fill="#dff5e6"/>
<rect x="247.04" y="274.19" width="3.25" height="5.14" fill="#dff5e6"/>
<rect x="250.24" y="274.19" width="3.25" height="5.14" fill="#c8efd8"/>
<rect x="253.44" y="274.19" width="3.25" height="5.14" fill="#dff5e6"/>
<rect x="256.64" y="274.19" width="3.25" height="5.14" fill="#dff5e6"/>
<rect x="259.84" y="274.19" width="3.25" height="5.14" fill="#dff5e6"/>
<rect x="240.64" y="279.28" width="3.25" height="5.14" fill="#dff5e6"/>
<rect x="243.84" y="279.28" width="3.25" height="5.14" fill="#dff5e6"/>
<rect x="247.04" y="279.28" width="3.25" height="5.14" fill="#dff5e6"/>
<rect x="250.24" y="279.28" width="3.25" height="5.14" fill="#dff5e6"/>
<rect x="253.44" y="279.28" width="3.25" height="5.14" fill="#dff5e6"/>
<rect x="256.64" y="279.28" width="3.25" height="5.14" fill="#dff5e6"/>
<rect x="259.84" y="279.28" width="3.25" height="5.14" fill="#dff5e6"/>
<rect x="240.64" y="284.37" width="3.25" height="5.14" fill="#dff5e6"/>
<rect x="243.84" y="284.37" width="3.25" height="5.14" fill="#dff5e6"/>
<rect x="247.04" y="284.37" width="3.25" height="5.14" fill="#dff5e6"/>
<rect x="250.24" y="284.37" width="3.25" height="5.14" fill="#dff5e6"/>
<rect x="253.44" y="284.37" width="3.25" height="5.14" fill="#dff5e6"/>
<rect x="256.64" y="284.37" width="3.25" height="5.14" fill="#dff5e6"/>
<rect x="259.84" y="284.37" width="3.25" height="5.14" fill="#dff5e6"/>
<rect x="240.64" y="289.46" width="3.25" height="5.14" fill="#dff5e6"/>
<rect x="243.84" y="289.46" width="3.25" height="5.14" fill="#dff5e6"/>
<rect x="247.04" y="289.46" width="3.25" height="5.14" fill="#dff5e6"/>
<rect x="250.24" y="289.46" width="3.25" height="5.14" fill="#dff5e6"/>
<rect x="253.44" y="289.46" width="3.25" height="5.14" fill="#dff5e6"/>
<rect x="256.64" y="289.46" width="3.25" height="5.14" fill="#dff5e6"/>
<rect x="259.84" y="289.46" width="3.25" height="5.14" fill="#dff5e6"/>
<rect x="240.64" y="294.55" width="3.25" height="5.14" fill="#dff5e6"/>
<rect x="243.84" y="294.55" width="3.25" height="5.14" fill="#dff5e6"/>
<rect x="247.04" y="294.55" width="3.25" height="5.14" fill="#dff5e6"/>
<rect x="250.24" y="294.55" width="3.25" height="5.14" fill="#dff5e6"/>
<rect x="253.44" y="294.55" width="3.25" height="5.14" fill="#dff5e6"/>
<rect x="256.64" y="294.55" width="3.25" height="5.14" fill="#dff5e6"/>
<rect x="259.84" y="294.55" width="3.25" height="5.14" fill="#dff5e6"/>
<rect x="240.64" y="299.64" width="3.25" height="5.14" fill="#dff5e6"/>
<rect x="243.84" y="299.64" width="3.25" height="5.14" fill="#dff5e6"/>
<rect x="247.04" y="299.64" width="3.25" height="5.14" fill="#dff5e6"/>
<rect x="250.24" y="299.64" width="3.25" height="5.14" fill="#dff5e6"/>
<rect x="253.44" y="299.64" width="3.25" height="5.14" fill="#dff5e6"/>
<rect x="256.64" y="299.64" width="3.25" height="5.14" fill="#dff5e6"/>
<rect x="259.84" y="299.64" width="3.25" height="5.14" fill="#dff5e6"/>
<rect x="266.18" y="269.10" width="3.25" height="5.14" fill="#dff5e6"/>
<rect x="269.38" y="269.10" width="3.25" height="5.14" fill="#dff5e6"/>
<rect x="272.58" y="269.10" width="3.25" height="5.14" fill="#dff5e6"/>
<rect x="275.78" y="269.10" width="3.25" height="5.14" fill="#dff5e6"/>
<rect x="278.98" y="269.10" width="3.25" height="5.14" fill="#dff5e6"/>
<rect x="282.18" y="269.10" width="3.25" height="5.14" fill="#dff5e6"/>
<rect x="285.38" y="269.10" width="3.25" height="5.14" fill="#dff5e6"/>
<rect x="266.18" y="274.19" width="3.25" height="5.14" fill="#dff5e6"/>
<rect x="269.38" y="274.19" width="3.25" height="5.14" fill="#c8efd8"/>
<rect x="272.58" y="274.19" width="3.25" height="5.14" fill="#c8efd8"/>
<rect x="275.78" y="274.19" width="3.25" height="5.14" fill="#dff5e6"/>
<rect x="278.98" y="274.19" width="3.25" height="5.14" fill="#dff5e6"/>
<rect x="282.18" y="274.19" width="3.25" height="5.14" fill="#dff5e6"/>
<rect x="285.38" y="274.19" width="3.25" height="5.14" fill="#dff5e6"/>
<rect x="266.18" y="279.28" width="3.25" height="5.14" fill="#dff5e6"/>
<rect x="269.38" y="279.28" width="3.25" height="5.14" fill="#dff5e6"/>
<rect x="272.58" y="279.28" width="3.25" height="5.14" fill="#dff5e6"/>
<rect x="275.78" y="279.28" width="3.25" height="5.14" fill="#dff5e6"/>
<rect x="278.98" y="279.28" width="3.25" height="5.14" fill="#dff5e6"/>
<rect x="282.18" y="279.28" width="3.25" height="5.14" fill="#dff5e6"/>
<rect x="285.38" y="279.28" width="3.25" height="5.14" fill="#dff5e6"/>
<rect x="266.18" y="284.37" width="3.25" height="5.14" fill="#dff5e6"/>
<rect x="269.38" y="284.37" width="3.25" height="5.14" fill="#dff5e6"/>
<rect x="272.58" y="284.37" width="3.25" height="5.14" fill="#dff5e6"/>
<rect x="275.78" y="284.37" width="3.25" height="5.14" fill="#dff5e6"/>
<rect x="278.98" y="284.37" width="3.25" height="5.14" fill="#dff5e6"/>
<rect x="282.18" y="284.37" width="3.25" height="5.14" fill="#dff5e6"/>
<rect x="285.38" y="284.37" width="3.25" height="5.14" fill="#dff5e6"/>
<rect x="266.18" y="289.46" width="3.25" height="5.14" fill="#dff5e6"/>
<rect x="269.38" y="289.46" width="3.25" height="5.14" fill="#dff5e6"/>
<rect x="272.58" y="289.46" width="3.25" height="5.14" fill="#dff5e6"/>
<rect x="275.78" y="289.46" width="3.25" height="5.14" fill="#dff5e6"/>
<rect x="278.98" y="289.46" width="3.25" height="5.14" fill="#dff5e6"/>
<rect x="282.18" y="289.46" width="3.25" height="5.14" fill="#dff5e6"/>
<rect x="285.38" y="289.46" width="3.25" height="5.14" fill="#dff5e6"/>
<rect x="266.18" y="294.55" width="3.25" height="5.14" fill="#dff5e6"/>
<rect x="269.38" y="294.55" width="3.25" height="5.14" fill="#dff5e6"/>
<rect x="272.58" y="294.55" width="3.25" height="5.14" fill="#dff5e6"/>
<rect x="275.78" y="294.55" width="3.25" height="5.14" fill="#dff5e6"/>
<rect x="278.98" y="294.55" width="3.25" height="5.14" fill="#dff5e6"/>
<rect x="282.18" y="294.55" width="3.25" height="5.14" fill="#dff5e6"/>
<rect x="285.38" y="294.55" width="3.25" height="5.14" fill="#dff5e6"/>
<rect x="266.18" y="299.64" width="3.25" height="5.14" fill="#dff5e6"/>
<rect x="269.38" y="299.64" width="3.25" height="5.14" fill="#dff5e6"/>
<rect x="272.58" y="299.64" width="3.25" height="5.14" fill="#dff5e6"/>
<rect x="275.78" y="299.64" width="3.25" height="5.14" fill="#dff5e6"/>
<rect x="278.98" y="299.64" width="3.25" height="5.14" fill="#dff5e6"/>
<rect x="282.18" y="299.64" width="3.25" height="5.14" fill="#dff5e6"/>
<rect x="285.38" y="299.64" width="3.25" height="5.14" fill="#ace7c8"/>
<rect x="79.2" y="156" width="2.8" height="30" fill="#dcdcdc" stroke="#b8b8b8" stroke-width="0.4"/>
<rect x="76" y="172.4" width="8.8" height="1.3" fill="#c8c8c8"/>
<ellipse cx="80.6" cy="156" rx="2" ry="0.8" fill="#cfcfcf"/>
<rect x="79" y="186" width="3.2" height="16.5" fill="#cfe2ee" stroke="#a8b8c4" stroke-width="0.4"/>
<rect x="79" y="185.6" width="3.2" height="1" fill="#555"/>
<path d="M79.3,202.5 L80.6,207 L81.9,202.5 Z" fill="#6cc0a8"/>
<line x1="80.6" y1="205" x2="80.6" y2="212.5" stroke="#888" stroke-width="0.6"/>
<text x="0" y="0" font-size="10.5" text-anchor="middle" fill="#1a1a1a" transform="translate(25.3,194.7) rotate(-90)">KA</text>
<text x="0" y="0" font-size="10.5" text-anchor="middle" fill="#1a1a1a" transform="translate(25.4,241.6) rotate(-90)">Sham</text>
<text x="0" y="0" font-size="10.5" text-anchor="middle" fill="#1a1a1a" transform="translate(25.3,288) rotate(-90)">GPR173</text>
<line x1="27.6" y1="307.7" x2="292" y2="307.7" stroke="#1a1a1a" stroke-width="1.1"/>
<path d="M291,305.8 L294.5,307.7 L291,309.6 Z" fill="#1a1a1a"/>
<line x1="27.6" y1="307.7" x2="27.6" y2="311" stroke="#1a1a1a" stroke-width="1"/>
<line x1="51.7" y1="307.7" x2="51.7" y2="311" stroke="#1a1a1a" stroke-width="1"/>
<line x1="76.5" y1="307.7" x2="76.5" y2="311" stroke="#1a1a1a" stroke-width="1"/>
<line x1="86.3" y1="307.7" x2="86.3" y2="311" stroke="#1a1a1a" stroke-width="1"/>
<line x1="109.3" y1="307.7" x2="109.3" y2="311" stroke="#1a1a1a" stroke-width="1"/>
<line x1="135.6" y1="307.7" x2="135.6" y2="311" stroke="#1a1a1a" stroke-width="1"/>
<line x1="160.8" y1="307.7" x2="160.8" y2="311" stroke="#1a1a1a" stroke-width="1"/>
<line x1="186.7" y1="307.7" x2="186.7" y2="311" stroke="#1a1a1a" stroke-width="1"/>
<line x1="212.5" y1="307.7" x2="212.5" y2="311" stroke="#1a1a1a" stroke-width="1"/>
<line x1="237.7" y1="307.7" x2="237.7" y2="311" stroke="#1a1a1a" stroke-width="1"/>
<line x1="263.4" y1="307.7" x2="263.4" y2="311" stroke="#1a1a1a" stroke-width="1"/>
<line x1="289.2" y1="307.7" x2="289.2" y2="311" stroke="#1a1a1a" stroke-width="1"/>
<text x="38.1" y="318.5" font-size="10.2" text-anchor="middle" fill="#1a1a1a" >4</text>
<text x="63.3" y="318.5" font-size="10.2" text-anchor="middle" fill="#1a1a1a" >5</text>
<text x="95.5" y="318.5" font-size="10.2" text-anchor="middle" fill="#1a1a1a" >6</text>
<text x="121.3" y="318.5" font-size="10.2" text-anchor="middle" fill="#1a1a1a" >7</text>
<text x="147" y="318.5" font-size="10.2" text-anchor="middle" fill="#1a1a1a" >8</text>
<text x="173.1" y="318.5" font-size="10.2" text-anchor="middle" fill="#1a1a1a" >9</text>
<text x="199.4" y="318.5" font-size="10.2" text-anchor="middle" fill="#1a1a1a" >10</text>
<text x="224.6" y="318.5" font-size="10.2" text-anchor="middle" fill="#1a1a1a" >11</text>
<text x="251.5" y="318.5" font-size="10.2" text-anchor="middle" fill="#1a1a1a" >12</text>
<text x="277.1" y="318.5" font-size="10.2" text-anchor="middle" fill="#1a1a1a" >13</text>
<text x="167.8" y="333.2" font-size="10.7" text-anchor="middle" fill="#1a1a1a" >(Weeks after KA injection)</text>
<defs><linearGradient id="cbar" x1="0" y1="1" x2="0" y2="0">
<stop offset="0.0" stop-color="#def4e4"/>
<stop offset="0.1" stop-color="#a8e1bd"/>
<stop offset="0.2" stop-color="#5fceac"/>
<stop offset="0.3" stop-color="#3db3ac"/>
<stop offset="0.4" stop-color="#3496a9"/>
<stop offset="0.5" stop-color="#3479a2"/>
<stop offset="0.6" stop-color="#395d9b"/>
<stop offset="0.7" stop-color="#403f80"/>
<stop offset="0.8" stop-color="#382a54"/>
<stop offset="0.9" stop-color="#241629"/>
<stop offset="1.0" stop-color="#0b0305"/>
</linearGradient></defs>
<rect x="307.3" y="213.9" width="3.4" height="56.4" fill="url(#cbar)"/>
<text x="323.6" y="218.7" font-size="10.2" text-anchor="end" fill="#1a1a1a" >20</text>
<text x="323.6" y="232.1" font-size="10.2" text-anchor="end" fill="#1a1a1a" >15</text>
<text x="323.6" y="245.5" font-size="10.2" text-anchor="end" fill="#1a1a1a" >10</text>
<text x="323.6" y="258.9" font-size="10.2" text-anchor="end" fill="#1a1a1a" >5</text>
<text x="323.6" y="272.3" font-size="10.2" text-anchor="end" fill="#1a1a1a" >0</text>
<text x="0" y="0" font-size="10.6" text-anchor="middle" fill="#1a1a1a" transform="translate(303.6,235.8) rotate(-90)">Number&#160; of seizures</text>
<text x="331.2" y="134.9" font-size="14" text-anchor="start" fill="#1a1a1a" >C</text>
<rect x="373.1" y="156.3" width="12.7" height="5.5" fill="#5a5a5a" stroke="#333" stroke-width="0.5"/>
<rect x="373.1" y="169.9" width="12.7" height="5.5" fill="#3f82c8" stroke="#335" stroke-width="0.5"/>
<rect x="373.1" y="183.2" width="12.7" height="5.5" fill="#e9a2c4" stroke="#555" stroke-width="0.5"/>
<text x="388.5" y="160.2" font-size="10.5" text-anchor="start" fill="#1a1a1a" >KA</text>
<text x="388.5" y="175.4" font-size="10.5" text-anchor="start" fill="#1a1a1a" >Sham</text>
<text x="388.5" y="191.2" font-size="10.5" text-anchor="start" fill="#1a1a1a" >GPR173</text>
<g fill="none" stroke="#555" stroke-width="0.8">
<path d="M420.9,153.3 L424.6,153.3 L424.6,174.3 L420.9,174.3"/>
<path d="M431.8,173.8 L435.1,173.8 L435.1,190.3 L431.8,190.3"/>
<path d="M448.2,153.3 L452,153.3 L452,192.4 L448.2,192.4"/>
</g>
<text x="0" y="0" font-size="10.4" text-anchor="middle" fill="#1a1a1a" transform="translate(436.1,159.6) rotate(-90)">N.S.</text>
<text x="0" y="0" font-size="10.4" text-anchor="middle" fill="#1a1a1a" transform="translate(446.2,178) rotate(-90)">###</text>
<text x="0" y="0" font-size="10.4" text-anchor="middle" fill="#1a1a1a" transform="translate(463.2,169.7) rotate(-90)">###</text>
<line x1="366.7" y1="211" x2="366.7" y2="297.4" stroke="#444" stroke-width="0.9"/>
<line x1="363.7" y1="297.4" x2="366.7" y2="297.4" stroke="#444" stroke-width="0.8"/>
<text x="361.6" y="301.1" font-size="10.6" text-anchor="end" fill="#1a1a1a" >0</text>
<line x1="364.9" y1="288.9" x2="366.7" y2="288.9" stroke="#444" stroke-width="0.8"/>
<line x1="363.7" y1="280.4" x2="366.7" y2="280.4" stroke="#444" stroke-width="0.8"/>
<text x="361.6" y="284.1" font-size="10.6" text-anchor="end" fill="#1a1a1a" >2</text>
<line x1="364.9" y1="271.8" x2="366.7" y2="271.8" stroke="#444" stroke-width="0.8"/>
<line x1="363.7" y1="263.3" x2="366.7" y2="263.3" stroke="#444" stroke-width="0.8"/>
<text x="361.6" y="267.0" font-size="10.6" text-anchor="end" fill="#1a1a1a" >4</text>
<line x1="364.9" y1="254.8" x2="366.7" y2="254.8" stroke="#444" stroke-width="0.8"/>
<line x1="363.7" y1="246.3" x2="366.7" y2="246.3" stroke="#444" stroke-width="0.8"/>
<text x="361.6" y="250.0" font-size="10.6" text-anchor="end" fill="#1a1a1a" >6</text>
<line x1="364.9" y1="237.8" x2="366.7" y2="237.8" stroke="#444" stroke-width="0.8"/>
<line x1="363.7" y1="229.2" x2="366.7" y2="229.2" stroke="#444" stroke-width="0.8"/>
<text x="361.6" y="232.9" font-size="10.6" text-anchor="end" fill="#1a1a1a" >8</text>
<line x1="364.9" y1="220.7" x2="366.7" y2="220.7" stroke="#444" stroke-width="0.8"/>
<line x1="363.7" y1="212.2" x2="366.7" y2="212.2" stroke="#444" stroke-width="0.8"/>
<text x="361.6" y="215.9" font-size="10.6" text-anchor="end" fill="#1a1a1a" >10</text>
<text x="0" y="0" font-size="10.6" text-anchor="middle" fill="#1a1a1a" transform="translate(344.9,244.2) rotate(-90)">Averaged seizures (/day)</text>
<line x1="366.7" y1="297.4" x2="680" y2="297.4" stroke="#444" stroke-width="0.9"/>
<defs>
<linearGradient id="gK" x1="0" x2="1"><stop offset="0" stop-color="#f6f6f6"/><stop offset="0.5" stop-color="#e6e6e6"/><stop offset="1" stop-color="#c6c6c6"/></linearGradient>
<linearGradient id="gS" x1="0" x2="1"><stop offset="0" stop-color="#f0f5fb"/><stop offset="0.5" stop-color="#dde9f7"/><stop offset="1" stop-color="#b7d2f0"/></linearGradient>
<linearGradient id="gP" x1="0" x2="1"><stop offset="0" stop-color="#fdf6fa"/><stop offset="0.45" stop-color="#f9e8f1"/><stop offset="0.8" stop-color="#f0cde0"/><stop offset="0.81" stop-color="#ebbcd6"/><stop offset="1" stop-color="#e7b0cf"/></linearGradient>
</defs>
<rect x="390.8" y="223.8" width="77" height="73.6" fill="url(#gK)"/>
<rect x="496.6" y="223.8" width="77.3" height="73.6" fill="url(#gS)"/>
<rect x="601.6" y="223.8" width="77.4" height="73.6" fill="url(#gP)"/>
<line x1="390.8" y1="223.8" x2="390.8" y2="297.4" stroke="#a8a8a8" stroke-width="1.1"/>
<rect x="390.0" y="238.5" width="1.6" height="8" fill="#8cc8d8"/>
<line x1="388.3" y1="232" x2="393.3" y2="232" stroke="#c8c8c8" stroke-width="0.8"/>
<line x1="496.6" y1="223.8" x2="496.6" y2="297.4" stroke="#a8a8a8" stroke-width="1.1"/>
<rect x="495.8" y="238.5" width="1.6" height="8" fill="#8cc8d8"/>
<line x1="494.1" y1="232" x2="499.1" y2="232" stroke="#c8c8c8" stroke-width="0.8"/>
<line x1="601.6" y1="223.8" x2="601.6" y2="297.4" stroke="#a8a8a8" stroke-width="1.1"/>
<rect x="600.8000000000001" y="238.5" width="1.6" height="8" fill="#8cc8d8"/>
<line x1="599.1" y1="232" x2="604.1" y2="232" stroke="#c8c8c8" stroke-width="0.8"/>
<line x1="376.2" y1="260.2" x2="376.2" y2="276.8" stroke="#999" stroke-width="0.6"/>
<path d="M376.2,263.0 L380.2,271.0 L376.2,274.2 L372.2,271.0 Z" fill="#ffffff" stroke="#444" stroke-width="0.6"/>
<line x1="385.6" y1="257.0" x2="385.6" y2="292.8" stroke="#999" stroke-width="0.6"/>
<path d="M385.6,257.8 L389.6,289.1 L385.6,285.6 L381.6,289.1 Z" fill="#dedede" stroke="#666" stroke-width="0.6"/>
<line x1="395.5" y1="260.2" x2="395.5" y2="284.3" stroke="#999" stroke-width="0.6"/>
<path d="M395.5,264.2 L399.5,274.7 L395.5,279.5 L391.5,274.7 Z" fill="#d8d8d8" stroke="#999" stroke-width="0.6"/>
<line x1="405.1" y1="247.4" x2="405.1" y2="275.5" stroke="#999" stroke-width="0.6"/>
<path d="M405.1,250.6 L409.1,270.8 L405.1,272.0 L401.1,270.8 Z" fill="#cfcfcf" stroke="#aaa" stroke-width="0.6"/>
<line x1="414.8" y1="227.3" x2="414.8" y2="265.5" stroke="#999" stroke-width="0.6"/>
<path d="M410.8,233.4 L418.8,233.4 L414.8,257.8 Z" fill="#ababab" stroke="#999" stroke-width="0.6"/>
<line x1="424.4" y1="225.4" x2="424.4" y2="262.3" stroke="#999" stroke-width="0.6"/>
<path d="M424.4,232.1 L428.4,246.6 L424.4,256.2 L420.4,246.6 Z" fill="#a2a2a2" stroke="#999" stroke-width="0.6"/>
<line x1="434.0" y1="237.3" x2="434.0" y2="260.7" stroke="#999" stroke-width="0.6"/>
<path d="M434.0,241.4 L438.0,247.9 L434.0,255.4 L430.0,247.9 Z" fill="#9a9a9a" stroke="#999" stroke-width="0.6"/>
<line x1="443.7" y1="243.0" x2="443.7" y2="268.3" stroke="#999" stroke-width="0.6"/>
<path d="M443.7,247.9 L447.7,254.6 L443.7,263.4 L439.7,254.6 Z" fill="#8e8e8e" stroke="#999" stroke-width="0.6"/>
<line x1="453.3" y1="232.9" x2="453.3" y2="271.5" stroke="#999" stroke-width="0.6"/>
<path d="M453.3,241.0 L457.3,249.8 L453.3,264.2 L449.3,249.8 Z" fill="#858585" stroke="#999" stroke-width="0.6"/>
<line x1="463.0" y1="228.1" x2="463.0" y2="262.6" stroke="#999" stroke-width="0.6"/>
<path d="M463.0,234.5 L467.0,249.0 L463.0,256.2 L459.0,249.0 Z" fill="#7a7a7a" stroke="#999" stroke-width="0.6"/>
<line x1="481.9" y1="258.7" x2="481.9" y2="278.5" stroke="#999" stroke-width="0.6"/>
<path d="M481.9,262.8 L485.9,269.3 L481.9,274.8 L477.9,269.3 Z" fill="#e8f6f4" stroke="#555" stroke-width="0.6"/>
<line x1="491.6" y1="264.0" x2="491.6" y2="287.0" stroke="#999" stroke-width="0.6"/>
<path d="M491.6,267.4 L495.6,286.6 L491.6,283.1 L487.6,286.6 Z" fill="#d6eef2" stroke="#555" stroke-width="0.6"/>
<line x1="501.4" y1="269.0" x2="501.4" y2="291.7" stroke="#999" stroke-width="0.6"/>
<path d="M501.4,272.0 L505.4,288.9 L501.4,285.4 L497.4,288.9 Z" fill="#d4e7f6" stroke="#aac" stroke-width="0.6"/>
<line x1="511.0" y1="270.8" x2="511.0" y2="287.4" stroke="#999" stroke-width="0.6"/>
<path d="M511.0,273.6 L515.0,287.4 L511.0,283.9 L507.0,287.4 Z" fill="#c8def4" stroke="#aac" stroke-width="0.6"/>
<line x1="520.5" y1="261.3" x2="520.5" y2="275.1" stroke="#999" stroke-width="0.6"/>
<path d="M520.5,264.4 L524.5,268.7 L520.5,272.3 L516.5,268.7 Z" fill="#b2d2ef" stroke="#9bc" stroke-width="0.6"/>
<line x1="530.2" y1="262.5" x2="530.2" y2="275.4" stroke="#999" stroke-width="0.6"/>
<path d="M526.2,265.1 L534.2,265.1 L530.2,272.8 Z" fill="#a8cced" stroke="#9bc" stroke-width="0.6"/>
<line x1="539.7" y1="257.9" x2="539.7" y2="283.5" stroke="#999" stroke-width="0.6"/>
<path d="M539.7,262.1 L543.7,277.7 L539.7,278.9 L535.7,277.7 Z" fill="#8cbce8" stroke="#8ab" stroke-width="0.6"/>
<line x1="549.6" y1="255.2" x2="549.6" y2="286.6" stroke="#999" stroke-width="0.6"/>
<path d="M549.6,260.5 L553.6,279.3 L549.6,280.5 L545.6,279.3 Z" fill="#82b6e6" stroke="#8ab" stroke-width="0.6"/>
<line x1="559.0" y1="256.0" x2="559.0" y2="276.6" stroke="#999" stroke-width="0.6"/>
<path d="M559.0,259.8 L563.0,266.2 L559.0,272.0 L555.0,266.2 Z" fill="#5c9edc" stroke="#8ab" stroke-width="0.6"/>
<line x1="568.8" y1="264.0" x2="568.8" y2="280.5" stroke="#999" stroke-width="0.6"/>
<path d="M568.8,267.4 L572.8,276.2 L568.8,277.4 L564.8,276.2 Z" fill="#6aa6e0" stroke="#8ab" stroke-width="0.6"/>
<line x1="587.2" y1="246.8" x2="587.2" y2="278.6" stroke="#999" stroke-width="0.6"/>
<path d="M587.2,253.3 L591.2,262.1 L587.2,272.6 L583.2,262.1 Z" fill="#ffffff" stroke="#444" stroke-width="0.6"/>
<line x1="596.9" y1="252.1" x2="596.9" y2="283.0" stroke="#999" stroke-width="0.6"/>
<path d="M596.9,258.1 L600.9,264.5 L596.9,275.8 L592.9,264.5 Z" fill="#f9e6ef" stroke="#555" stroke-width="0.6"/>
<line x1="606.6" y1="255.4" x2="606.6" y2="287.1" stroke="#999" stroke-width="0.6"/>
<path d="M606.6,260.5 L610.6,280.2 L606.6,281.4 L602.6,280.2 Z" fill="#f5dce9" stroke="#b9a" stroke-width="0.6"/>
<line x1="616.2" y1="244.4" x2="616.2" y2="281.8" stroke="#999" stroke-width="0.6"/>
<path d="M612.2,250.5 L620.2,250.5 L616.2,273.4 Z" fill="#f4d6e5" stroke="#b9a" stroke-width="0.6"/>
<line x1="625.9" y1="258.9" x2="625.9" y2="296.0" stroke="#999" stroke-width="0.6"/>
<path d="M625.9,259.7 L629.9,295.1 L625.9,291.6 L621.9,295.1 Z" fill="#f0d0e0" stroke="#b9a" stroke-width="0.6"/>
<line x1="635.6" y1="257.0" x2="635.6" y2="287.1" stroke="#999" stroke-width="0.6"/>
<path d="M635.6,260.5 L639.6,280.2 L635.6,281.4 L631.6,280.2 Z" fill="#efc8dc" stroke="#b9a" stroke-width="0.6"/>
<line x1="645.2" y1="279.0" x2="645.2" y2="297.0" stroke="#999" stroke-width="0.6"/>
<path d="M645.2,283.0 L649.2,296.0 L645.2,292.5 L641.2,296.0 Z" fill="#e8b0cc" stroke="#b9a" stroke-width="0.6"/>
<line x1="654.4" y1="286.0" x2="654.4" y2="297.0" stroke="#999" stroke-width="0.6"/>
<path d="M654.4,287.6 L658.4,294.8 L654.4,296.0 L650.4,294.8 Z" fill="#e4a6c6" stroke="#b9a" stroke-width="0.6"/>
<line x1="674.2" y1="293.5" x2="674.2" y2="297.0" stroke="#999" stroke-width="0.6"/>
<path d="M674.2,294.0 L678.2,295.3 L674.2,296.5 L670.2,295.3 Z" fill="#d890b8" stroke="#b9a" stroke-width="0.6"/>
<line x1="376.2" y1="297.4" x2="376.2" y2="299.9" stroke="#444" stroke-width="0.8"/>
<text x="0" y="0" font-size="9.6" text-anchor="end" fill="#1a1a1a" transform="translate(379.4,301.9) rotate(-60)">4</text>
<line x1="385.6" y1="297.4" x2="385.6" y2="299.9" stroke="#444" stroke-width="0.8"/>
<text x="0" y="0" font-size="9.6" text-anchor="end" fill="#1a1a1a" transform="translate(388.8,301.9) rotate(-60)">5</text>
<line x1="395.5" y1="297.4" x2="395.5" y2="299.9" stroke="#444" stroke-width="0.8"/>
<text x="0" y="0" font-size="9.6" text-anchor="end" fill="#1a1a1a" transform="translate(398.7,301.9) rotate(-60)">6</text>
<line x1="405.1" y1="297.4" x2="405.1" y2="299.9" stroke="#444" stroke-width="0.8"/>
<text x="0" y="0" font-size="9.6" text-anchor="end" fill="#1a1a1a" transform="translate(408.3,301.9) rotate(-60)">7</text>
<line x1="414.8" y1="297.4" x2="414.8" y2="299.9" stroke="#444" stroke-width="0.8"/>
<text x="0" y="0" font-size="9.6" text-anchor="end" fill="#1a1a1a" transform="translate(418.0,301.9) rotate(-60)">8</text>
<line x1="424.4" y1="297.4" x2="424.4" y2="299.9" stroke="#444" stroke-width="0.8"/>
<text x="0" y="0" font-size="9.6" text-anchor="end" fill="#1a1a1a" transform="translate(427.6,301.9) rotate(-60)">9</text>
<line x1="434.0" y1="297.4" x2="434.0" y2="299.9" stroke="#444" stroke-width="0.8"/>
<text x="0" y="0" font-size="9.6" text-anchor="end" fill="#1a1a1a" transform="translate(437.2,301.9) rotate(-60)">10</text>
<line x1="443.7" y1="297.4" x2="443.7" y2="299.9" stroke="#444" stroke-width="0.8"/>
<text x="0" y="0" font-size="9.6" text-anchor="end" fill="#1a1a1a" transform="translate(446.9,301.9) rotate(-60)">11</text>
<line x1="453.3" y1="297.4" x2="453.3" y2="299.9" stroke="#444" stroke-width="0.8"/>
<text x="0" y="0" font-size="9.6" text-anchor="end" fill="#1a1a1a" transform="translate(456.5,301.9) rotate(-60)">12</text>
<line x1="463.0" y1="297.4" x2="463.0" y2="299.9" stroke="#444" stroke-width="0.8"/>
<text x="0" y="0" font-size="9.6" text-anchor="end" fill="#1a1a1a" transform="translate(466.2,301.9) rotate(-60)">13</text>
<line x1="481.9" y1="297.4" x2="481.9" y2="299.9" stroke="#444" stroke-width="0.8"/>
<text x="0" y="0" font-size="9.6" text-anchor="end" fill="#1a1a1a" transform="translate(485.1,301.9) rotate(-60)">4</text>
<line x1="491.6" y1="297.4" x2="491.6" y2="299.9" stroke="#444" stroke-width="0.8"/>
<text x="0" y="0" font-size="9.6" text-anchor="end" fill="#1a1a1a" transform="translate(494.8,301.9) rotate(-60)">5</text>
<line x1="501.4" y1="297.4" x2="501.4" y2="299.9" stroke="#444" stroke-width="0.8"/>
<text x="0" y="0" font-size="9.6" text-anchor="end" fill="#1a1a1a" transform="translate(504.6,301.9) rotate(-60)">6</text>
<line x1="511.0" y1="297.4" x2="511.0" y2="299.9" stroke="#444" stroke-width="0.8"/>
<text x="0" y="0" font-size="9.6" text-anchor="end" fill="#1a1a1a" transform="translate(514.2,301.9) rotate(-60)">7</text>
<line x1="520.5" y1="297.4" x2="520.5" y2="299.9" stroke="#444" stroke-width="0.8"/>
<text x="0" y="0" font-size="9.6" text-anchor="end" fill="#1a1a1a" transform="translate(523.7,301.9) rotate(-60)">8</text>
<line x1="530.2" y1="297.4" x2="530.2" y2="299.9" stroke="#444" stroke-width="0.8"/>
<text x="0" y="0" font-size="9.6" text-anchor="end" fill="#1a1a1a" transform="translate(533.4,301.9) rotate(-60)">9</text>
<line x1="539.7" y1="297.4" x2="539.7" y2="299.9" stroke="#444" stroke-width="0.8"/>
<text x="0" y="0" font-size="9.6" text-anchor="end" fill="#1a1a1a" transform="translate(542.9,301.9) rotate(-60)">10</text>
<line x1="549.6" y1="297.4" x2="549.6" y2="299.9" stroke="#444" stroke-width="0.8"/>
<text x="0" y="0" font-size="9.6" text-anchor="end" fill="#1a1a1a" transform="translate(552.8,301.9) rotate(-60)">11</text>
<line x1="559.0" y1="297.4" x2="559.0" y2="299.9" stroke="#444" stroke-width="0.8"/>
<text x="0" y="0" font-size="9.6" text-anchor="end" fill="#1a1a1a" transform="translate(562.2,301.9) rotate(-60)">12</text>
<line x1="568.8" y1="297.4" x2="568.8" y2="299.9" stroke="#444" stroke-width="0.8"/>
<text x="0" y="0" font-size="9.6" text-anchor="end" fill="#1a1a1a" transform="translate(572.0,301.9) rotate(-60)">13</text>
<line x1="587.2" y1="297.4" x2="587.2" y2="299.9" stroke="#444" stroke-width="0.8"/>
<text x="0" y="0" font-size="9.6" text-anchor="end" fill="#1a1a1a" transform="translate(590.4,301.9) rotate(-60)">4</text>
<line x1="596.9" y1="297.4" x2="596.9" y2="299.9" stroke="#444" stroke-width="0.8"/>
<text x="0" y="0" font-size="9.6" text-anchor="end" fill="#1a1a1a" transform="translate(600.1,301.9) rotate(-60)">5</text>
<line x1="606.6" y1="297.4" x2="606.6" y2="299.9" stroke="#444" stroke-width="0.8"/>
<text x="0" y="0" font-size="9.6" text-anchor="end" fill="#1a1a1a" transform="translate(609.8,301.9) rotate(-60)">6</text>
<line x1="616.2" y1="297.4" x2="616.2" y2="299.9" stroke="#444" stroke-width="0.8"/>
<text x="0" y="0" font-size="9.6" text-anchor="end" fill="#1a1a1a" transform="translate(619.4,301.9) rotate(-60)">7</text>
<line x1="625.9" y1="297.4" x2="625.9" y2="299.9" stroke="#444" stroke-width="0.8"/>
<text x="0" y="0" font-size="9.6" text-anchor="end" fill="#1a1a1a" transform="translate(629.1,301.9) rotate(-60)">8</text>
<line x1="635.6" y1="297.4" x2="635.6" y2="299.9" stroke="#444" stroke-width="0.8"/>
<text x="0" y="0" font-size="9.6" text-anchor="end" fill="#1a1a1a" transform="translate(638.8,301.9) rotate(-60)">9</text>
<line x1="645.2" y1="297.4" x2="645.2" y2="299.9" stroke="#444" stroke-width="0.8"/>
<text x="0" y="0" font-size="9.6" text-anchor="end" fill="#1a1a1a" transform="translate(648.4,301.9) rotate(-60)">10</text>
<line x1="654.4" y1="297.4" x2="654.4" y2="299.9" stroke="#444" stroke-width="0.8"/>
<text x="0" y="0" font-size="9.6" text-anchor="end" fill="#1a1a1a" transform="translate(657.6,301.9) rotate(-60)">11</text>
<line x1="664.5" y1="297.4" x2="664.5" y2="299.9" stroke="#444" stroke-width="0.8"/>
<text x="0" y="0" font-size="9.6" text-anchor="end" fill="#1a1a1a" transform="translate(667.7,301.9) rotate(-60)">12</text>
<line x1="674.2" y1="297.4" x2="674.2" y2="299.9" stroke="#444" stroke-width="0.8"/>
<text x="0" y="0" font-size="9.6" text-anchor="end" fill="#1a1a1a" transform="translate(677.4,301.9) rotate(-60)">13</text>
<g fill="none" stroke="#666" stroke-width="0.8">
<path d="M373.4,222.5 L373.4,209.6 L461.7,209.6 L461.7,216"/>
<path d="M381,232.9 L381,219.6 L461.7,219.6 L461.7,225.4"/>
<path d="M481.1,218.7 L571.9,218.7"/>
<path d="M587.4,200.8 L587.4,197.7 L675.4,197.7 L675.4,204.8"/>
<path d="M587.4,243.6 L587.4,205.6 L664.3,205.6 L664.3,211.3"/>
<path d="M596.5,215.6 L596.5,212.9 L675.4,212.9 L675.4,290.8"/>
<path d="M596.5,246 L596.5,223.4 L664.3,223.4 L664.3,286.9"/>
</g>
<text x="416.4" y="211.4" font-size="12.5" text-anchor="middle" fill="#1a1a1a" >*</text>
<text x="410.8" y="218" font-size="9.8" text-anchor="middle" fill="#1a1a1a" >N.S.</text>
<text x="522.8" y="216.9" font-size="9.8" text-anchor="middle" fill="#1a1a1a" >N.S.</text>
<text x="593.6" y="199.1" font-size="13.2" text-anchor="start" fill="#1a1a1a" >**</text>
<text x="593.1" y="209.1" font-size="13.2" text-anchor="start" fill="#1a1a1a" >**</text>
<text x="607.6" y="216.4" font-size="13.2" text-anchor="start" fill="#1a1a1a" >**</text>
<text x="607.6" y="226.5" font-size="13.2" text-anchor="start" fill="#1a1a1a" >**</text>
<text x="1.5" y="356.8" font-size="14" text-anchor="start" fill="#1a1a1a">D</text>
<rect x="13.4" y="363.3" width="218.2" height="15" fill="#fff" stroke="#222" stroke-width="1.3"/>
<rect x="242.3" y="363.3" width="217.8" height="15" fill="#fff" stroke="#222" stroke-width="1.3"/>
<text x="122.5" y="374.6" font-size="10.4" text-anchor="middle" fill="#1a1a1a">GPR173</text>
<text x="351.2" y="374.6" font-size="10.4" text-anchor="middle" fill="#1a1a1a">Sham</text>
<defs><linearGradient id="bg1" x1="0" x2="1" y1="0" y2="0"><stop offset="0" stop-color="#3e4a14"/><stop offset="0.35" stop-color="#50601c"/><stop offset="0.7" stop-color="#5a701e"/><stop offset="1" stop-color="#566c1e"/></linearGradient>
<linearGradient id="vbg1" x1="0" x2="0" y1="0" y2="1"><stop offset="0" stop-color="#000000" stop-opacity="0.3"/><stop offset="0.45" stop-color="#000000" stop-opacity="0.05"/><stop offset="0.7" stop-color="#a0c030" stop-opacity="0.1"/><stop offset="1" stop-color="#a0c030" stop-opacity="0.2"/></linearGradient>
<clipPath id="cp1"><rect x="12.1" y="381.1" width="72.8" height="166.3"/></clipPath></defs>
<g clip-path="url(#cp1)">
<rect x="12.1" y="381.1" width="72.8" height="166.3" fill="url(#bg1)"/>
<rect x="12.1" y="381.1" width="72.8" height="166.3" fill="url(#vbg1)"/>
<rect x="12.1" y="381.1" width="72.8" height="166.3" filter="url(#nzk)" opacity="0.35"/>
<rect x="12.1" y="381.1" width="72.8" height="166.3" filter="url(#nzkb)" opacity="0.25"/>
<g filter="url(#bl2)">
<ellipse cx="21.9" cy="522.0" rx="6.06" ry="4.24" fill="#3a3a10" opacity="0.6"/>
<ellipse cx="20.7" cy="507.6" rx="4.89" ry="3.42" fill="#3a3a10" opacity="0.6"/>
<ellipse cx="69.5" cy="396.7" rx="3.11" ry="2.18" fill="#3a3a10" opacity="0.6"/>
<ellipse cx="43.6" cy="507.9" rx="3.01" ry="2.11" fill="#3a3a10" opacity="0.6"/>
<ellipse cx="31.5" cy="514.4" rx="5.36" ry="3.76" fill="#7a9a20" opacity="0.6"/>
<ellipse cx="77.7" cy="386.2" rx="3.10" ry="2.17" fill="#8aa828" opacity="0.6"/>
<ellipse cx="12.8" cy="527.6" rx="5.75" ry="4.02" fill="#3a3a10" opacity="0.6"/>
<ellipse cx="64.9" cy="468.8" rx="6.05" ry="4.24" fill="#3a3a10" opacity="0.6"/>
<ellipse cx="52.3" cy="438.6" rx="5.71" ry="4.00" fill="#3a3a10" opacity="0.6"/>
<ellipse cx="81.4" cy="535.2" rx="4.66" ry="3.27" fill="#8aa828" opacity="0.6"/>
<ellipse cx="79.2" cy="397.7" rx="5.52" ry="3.86" fill="#8aa828" opacity="0.6"/>
<ellipse cx="74.7" cy="401.2" rx="4.33" ry="3.03" fill="#8aa828" opacity="0.6"/>
<ellipse cx="83.0" cy="464.4" rx="6.87" ry="4.81" fill="#8aa828" opacity="0.6"/>
<ellipse cx="72.5" cy="492.6" rx="4.21" ry="2.95" fill="#8aa828" opacity="0.6"/>
<ellipse cx="83.0" cy="464.1" rx="6.76" ry="4.73" fill="#3a3a10" opacity="0.6"/>
<ellipse cx="55.0" cy="386.8" rx="3.97" ry="2.78" fill="#3a3a10" opacity="0.6"/>
<ellipse cx="42.3" cy="409.9" rx="5.20" ry="3.64" fill="#8aa828" opacity="0.6"/>
<ellipse cx="68.6" cy="503.9" rx="3.35" ry="2.34" fill="#8aa828" opacity="0.6"/>
<ellipse cx="49.1" cy="510.6" rx="5.08" ry="3.56" fill="#3a3a10" opacity="0.6"/>
<ellipse cx="39.1" cy="503.0" rx="4.88" ry="3.41" fill="#3a3a10" opacity="0.6"/>
<ellipse cx="63.3" cy="544.6" rx="5.37" ry="3.76" fill="#3a3a10" opacity="0.6"/>
<ellipse cx="59.2" cy="409.1" rx="3.91" ry="2.74" fill="#7a9a20" opacity="0.6"/>
<ellipse cx="68.2" cy="470.8" rx="6.44" ry="4.51" fill="#7a9a20" opacity="0.6"/>
<ellipse cx="41.5" cy="438.3" rx="6.39" ry="4.47" fill="#3a3a10" opacity="0.6"/>
<ellipse cx="45.5" cy="425.9" rx="5.19" ry="3.63" fill="#8aa828" opacity="0.6"/>
<ellipse cx="12.5" cy="511.4" rx="6.28" ry="4.40" fill="#8aa828" opacity="0.6"/>
<ellipse cx="49.4" cy="402.6" rx="6.11" ry="4.28" fill="#7a9a20" opacity="0.6"/>
<ellipse cx="43.1" cy="390.4" rx="6.48" ry="4.54" fill="#8aa828" opacity="0.6"/>
<ellipse cx="52.5" cy="537.6" rx="4.65" ry="3.26" fill="#3a3a10" opacity="0.6"/>
<ellipse cx="42.3" cy="381.4" rx="5.16" ry="3.61" fill="#8aa828" opacity="0.6"/>
</g>
<g filter="url(#bl2)">
<ellipse cx="35.0" cy="514.1" rx="7.22" ry="5.05" fill="#98c030" opacity="0.4"/>
<ellipse cx="26.1" cy="512.8" rx="7.44" ry="5.21" fill="#98c030" opacity="0.4"/>
<ellipse cx="62.2" cy="532.1" rx="5.02" ry="3.51" fill="#98c030" opacity="0.4"/>
<ellipse cx="19.8" cy="536.4" rx="5.81" ry="4.07" fill="#90c030" opacity="0.4"/>
<ellipse cx="30.3" cy="473.4" rx="6.50" ry="4.55" fill="#90c030" opacity="0.4"/>
<ellipse cx="32.6" cy="478.2" rx="5.02" ry="3.51" fill="#7cb028" opacity="0.4"/>
<ellipse cx="54.0" cy="518.1" rx="5.18" ry="3.62" fill="#98c030" opacity="0.4"/>
<ellipse cx="34.5" cy="503.6" rx="4.09" ry="2.87" fill="#90c030" opacity="0.4"/>
<ellipse cx="35.7" cy="530.5" rx="5.03" ry="3.52" fill="#90c030" opacity="0.4"/>
<ellipse cx="68.1" cy="506.7" rx="4.84" ry="3.39" fill="#98c030" opacity="0.4"/>
<ellipse cx="40.9" cy="545.4" rx="4.90" ry="3.43" fill="#90c030" opacity="0.4"/>
<ellipse cx="24.3" cy="524.0" rx="4.64" ry="3.25" fill="#98c030" opacity="0.4"/>
<ellipse cx="45.2" cy="499.7" rx="7.33" ry="5.13" fill="#98c030" opacity="0.4"/>
<ellipse cx="62.2" cy="507.2" rx="4.89" ry="3.42" fill="#98c030" opacity="0.4"/>
<ellipse cx="17.5" cy="520.4" rx="7.21" ry="5.05" fill="#98c030" opacity="0.4"/>
<ellipse cx="52.5" cy="469.1" rx="5.19" ry="3.64" fill="#7cb028" opacity="0.4"/>
<ellipse cx="66.7" cy="489.7" rx="7.43" ry="5.20" fill="#90c030" opacity="0.4"/>
<ellipse cx="69.2" cy="489.0" rx="4.63" ry="3.24" fill="#98c030" opacity="0.4"/>
<ellipse cx="30.4" cy="465.0" rx="7.51" ry="5.26" fill="#7cb028" opacity="0.4"/>
<ellipse cx="50.1" cy="482.3" rx="7.60" ry="5.32" fill="#90c030" opacity="0.4"/>
</g>
<g filter="url(#bl1)">
<ellipse cx="30.0" cy="533.1" rx="3.36" ry="2.86" fill="#90d040" opacity="0.95"/>
<circle cx="30.0" cy="533.1" r="1.85" fill="#b0e050" opacity="0.95"/>
<ellipse cx="57.9" cy="443.4" rx="2.28" ry="1.94" fill="#c8d838" opacity="0.95"/>
<circle cx="57.9" cy="443.4" r="1.25" fill="#e8e850" opacity="0.95"/>
<ellipse cx="32.1" cy="512.2" rx="2.61" ry="2.22" fill="#c8d838" opacity="0.95"/>
<circle cx="32.1" cy="512.2" r="1.43" fill="#e8e850" opacity="0.95"/>
<ellipse cx="49.8" cy="540.7" rx="2.55" ry="2.16" fill="#90d040" opacity="0.95"/>
<circle cx="49.8" cy="540.7" r="1.40" fill="#b0e050" opacity="0.95"/>
<ellipse cx="50.3" cy="474.5" rx="3.22" ry="2.74" fill="#a8d030" opacity="0.95"/>
<circle cx="50.3" cy="474.5" r="1.77" fill="#c8e048" opacity="0.95"/>
<ellipse cx="20.5" cy="461.0" rx="2.46" ry="2.09" fill="#90d040" opacity="0.95"/>
<circle cx="20.5" cy="461.0" r="1.35" fill="#b0e050" opacity="0.95"/>
<ellipse cx="67.8" cy="476.0" rx="2.30" ry="1.95" fill="#90d040" opacity="0.95"/>
<circle cx="67.8" cy="476.0" r="1.26" fill="#b0e050" opacity="0.95"/>
<ellipse cx="25.3" cy="480.3" rx="2.77" ry="2.35" fill="#90d040" opacity="0.95"/>
<circle cx="25.3" cy="480.3" r="1.52" fill="#b0e050" opacity="0.95"/>
<ellipse cx="52.4" cy="522.3" rx="2.75" ry="2.33" fill="#c8d838" opacity="0.95"/>
<circle cx="52.4" cy="522.3" r="1.51" fill="#e8e850" opacity="0.95"/>
<ellipse cx="64.3" cy="448.5" rx="2.24" ry="1.90" fill="#90d040" opacity="0.95"/>
<circle cx="64.3" cy="448.5" r="1.23" fill="#b0e050" opacity="0.95"/>
<ellipse cx="32.6" cy="521.4" rx="2.84" ry="2.41" fill="#a8d030" opacity="0.95"/>
<circle cx="32.6" cy="521.4" r="1.56" fill="#c8e048" opacity="0.95"/>
<ellipse cx="42.2" cy="476.1" rx="2.41" ry="2.05" fill="#90d040" opacity="0.95"/>
<circle cx="42.2" cy="476.1" r="1.32" fill="#b0e050" opacity="0.95"/>
<ellipse cx="67.6" cy="516.6" rx="2.68" ry="2.28" fill="#90d040" opacity="0.95"/>
<circle cx="67.6" cy="516.6" r="1.48" fill="#b0e050" opacity="0.95"/>
<ellipse cx="53.5" cy="450.6" rx="2.05" ry="1.75" fill="#c8d838" opacity="0.95"/>
<circle cx="53.5" cy="450.6" r="1.13" fill="#e8e850" opacity="0.95"/>
<ellipse cx="42.9" cy="546.5" rx="2.21" ry="1.88" fill="#c8d838" opacity="0.95"/>
<circle cx="42.9" cy="546.5" r="1.21" fill="#e8e850" opacity="0.95"/>
<ellipse cx="40.5" cy="505.8" rx="3.09" ry="2.63" fill="#a8d030" opacity="0.95"/>
<circle cx="40.5" cy="505.8" r="1.70" fill="#c8e048" opacity="0.95"/>
<ellipse cx="24.1" cy="498.8" rx="2.79" ry="2.37" fill="#a8d030" opacity="0.95"/>
<circle cx="24.1" cy="498.8" r="1.54" fill="#c8e048" opacity="0.95"/>
<ellipse cx="42.0" cy="471.3" rx="2.75" ry="2.34" fill="#c8d838" opacity="0.95"/>
<circle cx="42.0" cy="471.3" r="1.51" fill="#e8e850" opacity="0.95"/>
<ellipse cx="47.7" cy="469.3" rx="3.10" ry="2.64" fill="#a8d030" opacity="0.95"/>
<circle cx="47.7" cy="469.3" r="1.71" fill="#c8e048" opacity="0.95"/>
<ellipse cx="20.1" cy="511.8" rx="2.13" ry="1.81" fill="#c8d838" opacity="0.95"/>
<circle cx="20.1" cy="511.8" r="1.17" fill="#e8e850" opacity="0.95"/>
<ellipse cx="70.5" cy="524.7" rx="2.26" ry="1.92" fill="#90d040" opacity="0.95"/>
<circle cx="70.5" cy="524.7" r="1.24" fill="#b0e050" opacity="0.95"/>
<ellipse cx="45.4" cy="451.8" rx="2.23" ry="1.90" fill="#c8d838" opacity="0.95"/>
<circle cx="45.4" cy="451.8" r="1.23" fill="#e8e850" opacity="0.95"/>
<ellipse cx="29.2" cy="530.6" rx="2.61" ry="2.22" fill="#a8d030" opacity="0.95"/>
<circle cx="29.2" cy="530.6" r="1.44" fill="#c8e048" opacity="0.95"/>
<ellipse cx="69.3" cy="498.0" rx="3.15" ry="2.67" fill="#90d040" opacity="0.95"/>
<circle cx="69.3" cy="498.0" r="1.73" fill="#b0e050" opacity="0.95"/>
<ellipse cx="35.1" cy="490.9" rx="2.14" ry="1.82" fill="#90d040" opacity="0.95"/>
<circle cx="35.1" cy="490.9" r="1.18" fill="#b0e050" opacity="0.95"/>
<ellipse cx="39.0" cy="442.3" rx="3.10" ry="2.64" fill="#a8d030" opacity="0.95"/>
<circle cx="39.0" cy="442.3" r="1.71" fill="#c8e048" opacity="0.95"/>
<ellipse cx="64.3" cy="473.9" rx="2.55" ry="2.17" fill="#a8d030" opacity="0.95"/>
<circle cx="64.3" cy="473.9" r="1.40" fill="#c8e048" opacity="0.95"/>
<ellipse cx="23.3" cy="538.0" rx="3.36" ry="2.85" fill="#a8d030" opacity="0.95"/>
<circle cx="23.3" cy="538.0" r="1.85" fill="#c8e048" opacity="0.95"/>
<ellipse cx="26.3" cy="462.6" rx="2.86" ry="2.44" fill="#90d040" opacity="0.95"/>
<circle cx="26.3" cy="462.6" r="1.58" fill="#b0e050" opacity="0.95"/>
<ellipse cx="73.1" cy="490.0" rx="2.50" ry="2.12" fill="#c8d838" opacity="0.95"/>
<circle cx="73.1" cy="490.0" r="1.37" fill="#e8e850" opacity="0.95"/>
</g>
<g filter="url(#bl1)">
<ellipse cx="51.5" cy="432.2" rx="2.34" ry="1.99" fill="#c8d838" opacity="0.95"/>
<circle cx="51.5" cy="432.2" r="1.29" fill="#e8e850" opacity="0.95"/>
<ellipse cx="71.8" cy="396.0" rx="3.05" ry="2.60" fill="#c8d838" opacity="0.95"/>
<circle cx="71.8" cy="396.0" r="1.68" fill="#e8e850" opacity="0.95"/>
<ellipse cx="59.6" cy="488.1" rx="3.32" ry="2.82" fill="#a8d030" opacity="0.95"/>
<circle cx="59.6" cy="488.1" r="1.82" fill="#c8e048" opacity="0.95"/>
<ellipse cx="82.5" cy="387.9" rx="2.26" ry="1.92" fill="#a8d030" opacity="0.95"/>
<circle cx="82.5" cy="387.9" r="1.24" fill="#c8e048" opacity="0.95"/>
<ellipse cx="30.0" cy="397.9" rx="2.86" ry="2.43" fill="#c8d838" opacity="0.95"/>
<circle cx="30.0" cy="397.9" r="1.57" fill="#e8e850" opacity="0.95"/>
<ellipse cx="29.9" cy="384.5" rx="2.34" ry="1.99" fill="#c8d838" opacity="0.95"/>
<circle cx="29.9" cy="384.5" r="1.29" fill="#e8e850" opacity="0.95"/>
<ellipse cx="31.6" cy="525.4" rx="3.02" ry="2.57" fill="#c8d838" opacity="0.95"/>
<circle cx="31.6" cy="525.4" r="1.66" fill="#e8e850" opacity="0.95"/>
<ellipse cx="58.4" cy="429.5" rx="3.11" ry="2.64" fill="#a8d030" opacity="0.95"/>
<circle cx="58.4" cy="429.5" r="1.71" fill="#c8e048" opacity="0.95"/>
<ellipse cx="46.2" cy="524.0" rx="2.14" ry="1.82" fill="#a8d030" opacity="0.95"/>
<circle cx="46.2" cy="524.0" r="1.18" fill="#c8e048" opacity="0.95"/>
<ellipse cx="17.7" cy="539.0" rx="2.24" ry="1.91" fill="#c8d838" opacity="0.95"/>
<circle cx="17.7" cy="539.0" r="1.23" fill="#e8e850" opacity="0.95"/>
</g>
<g filter="url(#bl1)">
<ellipse cx="69.5" cy="456.2" rx="2.18" ry="1.86" fill="#e8a030" opacity="0.95"/>
<circle cx="69.5" cy="456.2" r="1.20" fill="#f04838" opacity="0.95"/>
<ellipse cx="54.5" cy="457.4" rx="2.52" ry="2.14" fill="#e8a030" opacity="0.95"/>
<circle cx="54.5" cy="457.4" r="1.39" fill="#f04838" opacity="0.95"/>
<ellipse cx="64.5" cy="394.1" rx="2.89" ry="2.46" fill="#e8a030" opacity="0.95"/>
<circle cx="64.5" cy="394.1" r="1.59" fill="#f04838" opacity="0.95"/>
<ellipse cx="58.3" cy="456.2" rx="2.55" ry="2.17" fill="#f07040" opacity="0.95"/>
<circle cx="58.3" cy="456.2" r="1.40" fill="#ff4040" opacity="0.95"/>
<ellipse cx="65.3" cy="458.0" rx="2.70" ry="2.29" fill="#f07040" opacity="0.95"/>
<circle cx="65.3" cy="458.0" r="1.48" fill="#ff4040" opacity="0.95"/>
<ellipse cx="27.0" cy="408.4" rx="2.44" ry="2.08" fill="#e8a030" opacity="0.95"/>
<circle cx="27.0" cy="408.4" r="1.34" fill="#f04838" opacity="0.95"/>
<ellipse cx="54.8" cy="442.2" rx="2.10" ry="1.79" fill="#e8a030" opacity="0.95"/>
<circle cx="54.8" cy="442.2" r="1.16" fill="#f04838" opacity="0.95"/>
<ellipse cx="53.0" cy="422.0" rx="2.32" ry="1.97" fill="#e0c040" opacity="0.95"/>
<circle cx="53.0" cy="422.0" r="1.27" fill="#e85040" opacity="0.95"/>
<ellipse cx="45.3" cy="459.0" rx="2.34" ry="1.99" fill="#e0c040" opacity="0.95"/>
<circle cx="45.3" cy="459.0" r="1.29" fill="#e85040" opacity="0.95"/>
<ellipse cx="61.4" cy="396.8" rx="2.38" ry="2.03" fill="#f07040" opacity="0.95"/>
<circle cx="61.4" cy="396.8" r="1.31" fill="#ff4040" opacity="0.95"/>
<ellipse cx="66.7" cy="470.4" rx="1.82" ry="1.55" fill="#f07040" opacity="0.95"/>
<circle cx="66.7" cy="470.4" r="1.00" fill="#ff4040" opacity="0.95"/>
<ellipse cx="35.1" cy="393.7" rx="1.95" ry="1.66" fill="#e0c040" opacity="0.95"/>
<circle cx="35.1" cy="393.7" r="1.07" fill="#e85040" opacity="0.95"/>
<ellipse cx="69.4" cy="406.4" rx="2.48" ry="2.11" fill="#e8a030" opacity="0.95"/>
<circle cx="69.4" cy="406.4" r="1.36" fill="#f04838" opacity="0.95"/>
<ellipse cx="49.2" cy="402.5" rx="1.81" ry="1.54" fill="#f07040" opacity="0.95"/>
<circle cx="49.2" cy="402.5" r="0.99" fill="#ff4040" opacity="0.95"/>
<ellipse cx="33.1" cy="462.8" rx="2.90" ry="2.47" fill="#f07040" opacity="0.95"/>
<circle cx="33.1" cy="462.8" r="1.60" fill="#ff4040" opacity="0.95"/>
<ellipse cx="50.6" cy="401.7" rx="2.18" ry="1.85" fill="#f07040" opacity="0.95"/>
<circle cx="50.6" cy="401.7" r="1.20" fill="#ff4040" opacity="0.95"/>
<ellipse cx="41.9" cy="401.7" rx="2.29" ry="1.95" fill="#f07040" opacity="0.95"/>
<circle cx="41.9" cy="401.7" r="1.26" fill="#ff4040" opacity="0.95"/>
<ellipse cx="49.1" cy="447.7" rx="2.58" ry="2.20" fill="#f07040" opacity="0.95"/>
<circle cx="49.1" cy="447.7" r="1.42" fill="#ff4040" opacity="0.95"/>
<ellipse cx="27.7" cy="465.4" rx="2.72" ry="2.31" fill="#f07040" opacity="0.95"/>
<circle cx="27.7" cy="465.4" r="1.49" fill="#ff4040" opacity="0.95"/>
<ellipse cx="63.6" cy="395.7" rx="2.72" ry="2.31" fill="#e8a030" opacity="0.95"/>
<circle cx="63.6" cy="395.7" r="1.50" fill="#f04838" opacity="0.95"/>
<ellipse cx="32.8" cy="444.4" rx="2.82" ry="2.40" fill="#e0c040" opacity="0.95"/>
<circle cx="32.8" cy="444.4" r="1.55" fill="#e85040" opacity="0.95"/>
<ellipse cx="24.8" cy="445.2" rx="2.36" ry="2.00" fill="#e8a030" opacity="0.95"/>
<circle cx="24.8" cy="445.2" r="1.30" fill="#f04838" opacity="0.95"/>
<ellipse cx="62.5" cy="463.1" rx="2.95" ry="2.51" fill="#f07040" opacity="0.95"/>
<circle cx="62.5" cy="463.1" r="1.62" fill="#ff4040" opacity="0.95"/>
<ellipse cx="36.3" cy="395.3" rx="2.31" ry="1.97" fill="#f07040" opacity="0.95"/>
<circle cx="36.3" cy="395.3" r="1.27" fill="#ff4040" opacity="0.95"/>
</g>
<g filter="url(#bl1)">
<ellipse cx="64.5" cy="511.2" rx="2.39" ry="2.03" fill="#e0c040" opacity="0.95"/>
<circle cx="64.5" cy="511.2" r="1.32" fill="#e85040" opacity="0.95"/>
<ellipse cx="64.3" cy="439.0" rx="2.42" ry="2.06" fill="#e8a030" opacity="0.95"/>
<circle cx="64.3" cy="439.0" r="1.33" fill="#f04838" opacity="0.95"/>
<ellipse cx="51.7" cy="546.5" rx="2.43" ry="2.06" fill="#e8a030" opacity="0.95"/>
<circle cx="51.7" cy="546.5" r="1.34" fill="#f04838" opacity="0.95"/>
<ellipse cx="70.9" cy="485.6" rx="2.12" ry="1.80" fill="#e8a030" opacity="0.95"/>
<circle cx="70.9" cy="485.6" r="1.17" fill="#f04838" opacity="0.95"/>
<ellipse cx="81.9" cy="404.2" rx="2.73" ry="2.32" fill="#e8a030" opacity="0.95"/>
<circle cx="81.9" cy="404.2" r="1.50" fill="#f04838" opacity="0.95"/>
<ellipse cx="44.5" cy="534.8" rx="2.97" ry="2.52" fill="#e0c040" opacity="0.95"/>
<circle cx="44.5" cy="534.8" r="1.63" fill="#e85040" opacity="0.95"/>
<ellipse cx="80.5" cy="531.3" rx="2.28" ry="1.94" fill="#e0c040" opacity="0.95"/>
<circle cx="80.5" cy="531.3" r="1.25" fill="#e85040" opacity="0.95"/>
<ellipse cx="44.0" cy="484.6" rx="2.39" ry="2.03" fill="#e8a030" opacity="0.95"/>
<circle cx="44.0" cy="484.6" r="1.31" fill="#f04838" opacity="0.95"/>
</g>
<g filter="url(#bl1)">
<ellipse cx="20.8" cy="481.0" rx="1.53" ry="1.30" fill="#f06aa0" opacity="0.95"/>
<ellipse cx="60.2" cy="427.3" rx="1.50" ry="1.28" fill="#e050c0" opacity="0.95"/>
<ellipse cx="12.4" cy="412.7" rx="1.55" ry="1.32" fill="#f06aa0" opacity="0.95"/>
<ellipse cx="14.3" cy="542.9" rx="1.39" ry="1.18" fill="#ff70b0" opacity="0.95"/>
<ellipse cx="27.1" cy="428.5" rx="1.63" ry="1.39" fill="#ff70b0" opacity="0.95"/>
<ellipse cx="34.8" cy="507.1" rx="1.87" ry="1.59" fill="#ff70b0" opacity="0.95"/>
<ellipse cx="69.7" cy="515.6" rx="1.98" ry="1.68" fill="#e050c0" opacity="0.95"/>
<ellipse cx="38.1" cy="450.9" rx="1.30" ry="1.10" fill="#f06aa0" opacity="0.95"/>
<ellipse cx="53.6" cy="444.8" rx="1.43" ry="1.21" fill="#f06aa0" opacity="0.95"/>
<ellipse cx="77.9" cy="385.1" rx="1.66" ry="1.41" fill="#f06aa0" opacity="0.95"/>
</g>
<g filter="url(#bl0)">
<circle cx="51.8" cy="541.6" r="1.21" fill="#3a48ff" opacity="0.95"/>
<circle cx="17.6" cy="443.3" r="1.23" fill="#4050ff" opacity="0.95"/>
<circle cx="48.7" cy="440.4" r="1.07" fill="#2f3cf0" opacity="0.95"/>
<circle cx="21.1" cy="500.5" r="0.96" fill="#4050ff" opacity="0.95"/>
<circle cx="36.8" cy="502.7" r="1.09" fill="#2f3cf0" opacity="0.95"/>
<circle cx="59.3" cy="443.9" r="0.87" fill="#2f3cf0" opacity="0.95"/>
<circle cx="84.5" cy="486.8" r="1.18" fill="#3a48ff" opacity="0.95"/>
<circle cx="84.0" cy="457.9" r="1.25" fill="#4050ff" opacity="0.95"/>
<circle cx="80.3" cy="499.5" r="1.34" fill="#3a48ff" opacity="0.95"/>
<circle cx="44.8" cy="492.3" r="0.87" fill="#2f3cf0" opacity="0.95"/>
<circle cx="61.5" cy="477.4" r="1.33" fill="#2830d8" opacity="0.95"/>
<circle cx="74.8" cy="478.3" r="1.19" fill="#2f3cf0" opacity="0.95"/>
<circle cx="48.0" cy="505.1" r="1.13" fill="#2830d8" opacity="0.95"/>
<circle cx="57.9" cy="448.8" r="1.13" fill="#4050ff" opacity="0.95"/>
<circle cx="69.1" cy="521.8" r="1.21" fill="#2f3cf0" opacity="0.95"/>
<circle cx="37.5" cy="425.1" r="1.17" fill="#2830d8" opacity="0.95"/>
<circle cx="23.2" cy="519.6" r="1.04" fill="#4050ff" opacity="0.95"/>
<circle cx="49.3" cy="426.1" r="0.81" fill="#4050ff" opacity="0.95"/>
<circle cx="17.2" cy="392.2" r="1.02" fill="#3a48ff" opacity="0.95"/>
<circle cx="49.0" cy="538.4" r="1.16" fill="#4050ff" opacity="0.95"/>
<circle cx="58.4" cy="427.0" r="0.93" fill="#3a48ff" opacity="0.95"/>
<circle cx="29.4" cy="436.6" r="0.79" fill="#2830d8" opacity="0.95"/>
<circle cx="46.2" cy="473.8" r="0.78" fill="#2830d8" opacity="0.95"/>
<circle cx="59.6" cy="499.7" r="1.24" fill="#2830d8" opacity="0.95"/>
<circle cx="38.0" cy="504.1" r="0.99" fill="#4050ff" opacity="0.95"/>
<circle cx="24.6" cy="512.4" r="1.27" fill="#2830d8" opacity="0.95"/>
<circle cx="64.2" cy="424.1" r="1.12" fill="#3a48ff" opacity="0.95"/>
<circle cx="73.5" cy="386.2" r="1.29" fill="#4050ff" opacity="0.95"/>
<circle cx="35.1" cy="452.9" r="1.21" fill="#2830d8" opacity="0.95"/>
<circle cx="25.9" cy="485.2" r="0.85" fill="#4050ff" opacity="0.95"/>
<circle cx="54.4" cy="536.2" r="0.84" fill="#2830d8" opacity="0.95"/>
<circle cx="45.5" cy="408.1" r="1.22" fill="#4050ff" opacity="0.95"/>
<circle cx="38.4" cy="506.1" r="0.89" fill="#3a48ff" opacity="0.95"/>
<circle cx="64.4" cy="431.9" r="0.81" fill="#4050ff" opacity="0.95"/>
<circle cx="35.5" cy="535.5" r="1.32" fill="#2f3cf0" opacity="0.95"/>
<circle cx="16.1" cy="480.5" r="1.28" fill="#3a48ff" opacity="0.95"/>
<circle cx="61.8" cy="463.3" r="1.07" fill="#4050ff" opacity="0.95"/>
<circle cx="37.0" cy="520.4" r="0.82" fill="#3a48ff" opacity="0.95"/>
<circle cx="19.0" cy="447.6" r="1.05" fill="#4050ff" opacity="0.95"/>
<circle cx="66.7" cy="543.0" r="0.89" fill="#2830d8" opacity="0.95"/>
<circle cx="45.8" cy="477.5" r="0.88" fill="#2830d8" opacity="0.95"/>
<circle cx="36.1" cy="479.8" r="1.30" fill="#2f3cf0" opacity="0.95"/>
<circle cx="15.5" cy="513.7" r="1.26" fill="#2830d8" opacity="0.95"/>
<circle cx="76.8" cy="522.1" r="0.92" fill="#3a48ff" opacity="0.95"/>
<circle cx="41.2" cy="527.4" r="1.21" fill="#3a48ff" opacity="0.95"/>
<circle cx="69.9" cy="386.2" r="0.98" fill="#2f3cf0" opacity="0.95"/>
<circle cx="53.2" cy="423.4" r="0.80" fill="#2830d8" opacity="0.95"/>
<circle cx="78.1" cy="387.0" r="0.79" fill="#3a48ff" opacity="0.95"/>
<circle cx="15.2" cy="426.6" r="0.82" fill="#2f3cf0" opacity="0.95"/>
<circle cx="25.9" cy="464.2" r="0.83" fill="#2830d8" opacity="0.95"/>
<circle cx="62.1" cy="521.7" r="1.15" fill="#4050ff" opacity="0.95"/>
<circle cx="36.1" cy="425.7" r="0.91" fill="#3a48ff" opacity="0.95"/>
<circle cx="30.0" cy="478.9" r="1.22" fill="#3a48ff" opacity="0.95"/>
<circle cx="37.6" cy="481.8" r="1.09" fill="#2f3cf0" opacity="0.95"/>
<circle cx="78.0" cy="472.1" r="1.07" fill="#4050ff" opacity="0.95"/>
<circle cx="79.1" cy="392.8" r="0.91" fill="#2f3cf0" opacity="0.95"/>
<circle cx="30.4" cy="543.5" r="0.84" fill="#3a48ff" opacity="0.95"/>
<circle cx="74.3" cy="522.8" r="0.78" fill="#2f3cf0" opacity="0.95"/>
<circle cx="78.5" cy="466.4" r="1.05" fill="#2f3cf0" opacity="0.95"/>
<circle cx="83.8" cy="387.8" r="1.07" fill="#4050ff" opacity="0.95"/>
<circle cx="60.5" cy="530.0" r="1.21" fill="#4050ff" opacity="0.95"/>
<circle cx="13.9" cy="468.3" r="0.80" fill="#2830d8" opacity="0.95"/>
<circle cx="18.3" cy="386.8" r="0.98" fill="#2830d8" opacity="0.95"/>
<circle cx="34.9" cy="402.7" r="1.23" fill="#2f3cf0" opacity="0.95"/>
<circle cx="74.4" cy="431.6" r="1.00" fill="#3a48ff" opacity="0.95"/>
<circle cx="48.7" cy="415.3" r="1.30" fill="#4050ff" opacity="0.95"/>
<circle cx="81.7" cy="478.2" r="0.81" fill="#4050ff" opacity="0.95"/>
<circle cx="50.2" cy="474.0" r="1.26" fill="#2f3cf0" opacity="0.95"/>
<circle cx="77.4" cy="519.4" r="0.92" fill="#3a48ff" opacity="0.95"/>
<circle cx="26.7" cy="445.8" r="0.94" fill="#4050ff" opacity="0.95"/>
<circle cx="37.2" cy="476.7" r="0.78" fill="#2830d8" opacity="0.95"/>
<circle cx="42.5" cy="434.1" r="0.91" fill="#2f3cf0" opacity="0.95"/>
<circle cx="50.4" cy="405.8" r="1.30" fill="#2830d8" opacity="0.95"/>
<circle cx="69.2" cy="476.4" r="1.02" fill="#2830d8" opacity="0.95"/>
<circle cx="47.0" cy="532.9" r="1.31" fill="#4050ff" opacity="0.95"/>
<circle cx="71.5" cy="535.0" r="1.30" fill="#2f3cf0" opacity="0.95"/>
<circle cx="21.9" cy="468.2" r="1.10" fill="#2830d8" opacity="0.95"/>
<circle cx="69.2" cy="498.0" r="1.20" fill="#2830d8" opacity="0.95"/>
<circle cx="84.2" cy="513.6" r="0.97" fill="#2830d8" opacity="0.95"/>
<circle cx="45.9" cy="544.0" r="1.07" fill="#3a48ff" opacity="0.95"/>
<circle cx="14.2" cy="422.7" r="0.88" fill="#3a48ff" opacity="0.95"/>
<circle cx="78.1" cy="411.8" r="1.00" fill="#2f3cf0" opacity="0.95"/>
<circle cx="71.2" cy="543.8" r="1.16" fill="#2f3cf0" opacity="0.95"/>
<circle cx="27.0" cy="392.2" r="1.09" fill="#2f3cf0" opacity="0.95"/>
<circle cx="74.4" cy="513.2" r="0.88" fill="#3a48ff" opacity="0.95"/>
<circle cx="49.3" cy="453.0" r="1.10" fill="#4050ff" opacity="0.95"/>
<circle cx="63.8" cy="428.3" r="1.28" fill="#4050ff" opacity="0.95"/>
<circle cx="75.1" cy="529.6" r="1.01" fill="#2830d8" opacity="0.95"/>
<circle cx="51.7" cy="538.2" r="1.23" fill="#2f3cf0" opacity="0.95"/>
<circle cx="71.4" cy="547.1" r="0.90" fill="#3a48ff" opacity="0.95"/>
<circle cx="12.7" cy="469.6" r="0.98" fill="#4050ff" opacity="0.95"/>
<circle cx="17.7" cy="483.5" r="1.06" fill="#4050ff" opacity="0.95"/>
<circle cx="15.0" cy="522.6" r="1.03" fill="#3a48ff" opacity="0.95"/>
<circle cx="82.0" cy="496.8" r="1.14" fill="#2f3cf0" opacity="0.95"/>
<circle cx="71.9" cy="466.3" r="1.35" fill="#2830d8" opacity="0.95"/>
<circle cx="82.8" cy="471.4" r="1.09" fill="#2830d8" opacity="0.95"/>
<circle cx="50.4" cy="471.2" r="1.24" fill="#4050ff" opacity="0.95"/>
<circle cx="56.0" cy="477.7" r="1.02" fill="#3a48ff" opacity="0.95"/>
<circle cx="49.0" cy="478.6" r="1.08" fill="#3a48ff" opacity="0.95"/>
<circle cx="30.5" cy="382.7" r="1.00" fill="#2f3cf0" opacity="0.95"/>
<circle cx="38.9" cy="448.0" r="1.31" fill="#2f3cf0" opacity="0.95"/>
<circle cx="77.5" cy="535.0" r="1.26" fill="#4050ff" opacity="0.95"/>
<circle cx="31.7" cy="426.3" r="1.22" fill="#4050ff" opacity="0.95"/>
<circle cx="68.1" cy="445.7" r="1.23" fill="#4050ff" opacity="0.95"/>
<circle cx="37.9" cy="450.1" r="0.76" fill="#3a48ff" opacity="0.95"/>
<circle cx="71.4" cy="442.3" r="0.83" fill="#2830d8" opacity="0.95"/>
<circle cx="81.2" cy="449.8" r="1.31" fill="#2830d8" opacity="0.95"/>
<circle cx="65.9" cy="496.1" r="1.01" fill="#4050ff" opacity="0.95"/>
<circle cx="27.8" cy="519.1" r="1.32" fill="#4050ff" opacity="0.95"/>
<circle cx="64.2" cy="396.3" r="0.83" fill="#3a48ff" opacity="0.95"/>
<circle cx="28.8" cy="385.4" r="0.90" fill="#4050ff" opacity="0.95"/>
<circle cx="68.5" cy="397.6" r="1.14" fill="#3a48ff" opacity="0.95"/>
<circle cx="72.8" cy="395.9" r="1.12" fill="#2f3cf0" opacity="0.95"/>
<circle cx="52.1" cy="470.0" r="0.96" fill="#2f3cf0" opacity="0.95"/>
<circle cx="65.6" cy="494.0" r="1.25" fill="#2f3cf0" opacity="0.95"/>
<circle cx="84.5" cy="494.9" r="0.86" fill="#2f3cf0" opacity="0.95"/>
<circle cx="69.4" cy="493.7" r="0.80" fill="#4050ff" opacity="0.95"/>
<circle cx="21.1" cy="455.5" r="1.16" fill="#4050ff" opacity="0.95"/>
<circle cx="78.0" cy="400.4" r="1.26" fill="#2f3cf0" opacity="0.95"/>
<circle cx="23.0" cy="483.1" r="1.17" fill="#3a48ff" opacity="0.95"/>
<circle cx="50.0" cy="450.4" r="1.28" fill="#2830d8" opacity="0.95"/>
<circle cx="75.4" cy="486.5" r="1.24" fill="#3a48ff" opacity="0.95"/>
<circle cx="69.5" cy="484.8" r="1.27" fill="#2f3cf0" opacity="0.95"/>
<circle cx="12.7" cy="545.6" r="1.14" fill="#2830d8" opacity="0.95"/>
<circle cx="16.2" cy="485.1" r="0.93" fill="#2f3cf0" opacity="0.95"/>
<circle cx="28.7" cy="426.8" r="1.17" fill="#4050ff" opacity="0.95"/>
<circle cx="22.9" cy="423.7" r="0.99" fill="#2f3cf0" opacity="0.95"/>
<circle cx="50.9" cy="482.4" r="0.84" fill="#4050ff" opacity="0.95"/>
<circle cx="31.8" cy="460.9" r="0.93" fill="#4050ff" opacity="0.95"/>
<circle cx="27.7" cy="442.2" r="1.03" fill="#2830d8" opacity="0.95"/>
<circle cx="24.9" cy="507.3" r="1.19" fill="#4050ff" opacity="0.95"/>
<circle cx="51.0" cy="390.8" r="0.95" fill="#3a48ff" opacity="0.95"/>
<circle cx="59.1" cy="516.1" r="1.28" fill="#2830d8" opacity="0.95"/>
<circle cx="57.4" cy="461.0" r="0.82" fill="#3a48ff" opacity="0.95"/>
<circle cx="62.9" cy="418.5" r="1.13" fill="#2f3cf0" opacity="0.95"/>
<circle cx="53.1" cy="495.0" r="0.89" fill="#3a48ff" opacity="0.95"/>
<circle cx="48.7" cy="490.8" r="0.93" fill="#2830d8" opacity="0.95"/>
<circle cx="12.4" cy="384.4" r="0.93" fill="#3a48ff" opacity="0.95"/>
<circle cx="18.3" cy="418.4" r="1.16" fill="#2830d8" opacity="0.95"/>
<circle cx="31.7" cy="500.6" r="0.98" fill="#2f3cf0" opacity="0.95"/>
<circle cx="36.1" cy="404.3" r="0.90" fill="#3a48ff" opacity="0.95"/>
<circle cx="61.7" cy="387.9" r="0.80" fill="#2f3cf0" opacity="0.95"/>
<circle cx="33.9" cy="422.5" r="1.07" fill="#2830d8" opacity="0.95"/>
<circle cx="14.4" cy="404.2" r="0.99" fill="#3a48ff" opacity="0.95"/>
<circle cx="18.9" cy="435.8" r="0.75" fill="#2830d8" opacity="0.95"/>
<circle cx="81.9" cy="399.8" r="1.30" fill="#3a48ff" opacity="0.95"/>
<circle cx="56.2" cy="525.8" r="0.99" fill="#4050ff" opacity="0.95"/>
<circle cx="53.2" cy="470.2" r="0.99" fill="#3a48ff" opacity="0.95"/>
<circle cx="58.2" cy="472.4" r="0.78" fill="#2f3cf0" opacity="0.95"/>
<circle cx="24.9" cy="416.9" r="1.01" fill="#2f3cf0" opacity="0.95"/>
<circle cx="30.3" cy="426.2" r="1.07" fill="#4050ff" opacity="0.95"/>
<circle cx="21.3" cy="499.0" r="1.20" fill="#2f3cf0" opacity="0.95"/>
<circle cx="59.7" cy="471.6" r="1.08" fill="#2f3cf0" opacity="0.95"/>
<circle cx="57.2" cy="455.2" r="0.83" fill="#2f3cf0" opacity="0.95"/>
<circle cx="78.6" cy="404.7" r="1.28" fill="#3a48ff" opacity="0.95"/>
<circle cx="47.3" cy="514.3" r="1.21" fill="#2830d8" opacity="0.95"/>
<circle cx="76.8" cy="407.7" r="1.26" fill="#4050ff" opacity="0.95"/>
<circle cx="72.8" cy="448.6" r="1.34" fill="#3a48ff" opacity="0.95"/>
<circle cx="31.7" cy="492.0" r="1.23" fill="#2f3cf0" opacity="0.95"/>
<circle cx="51.2" cy="382.7" r="1.24" fill="#3a48ff" opacity="0.95"/>
<circle cx="39.7" cy="474.5" r="1.28" fill="#4050ff" opacity="0.95"/>
<circle cx="14.3" cy="452.9" r="1.16" fill="#2830d8" opacity="0.95"/>
<circle cx="80.1" cy="449.0" r="1.11" fill="#2f3cf0" opacity="0.95"/>
<circle cx="19.3" cy="510.7" r="1.14" fill="#2f3cf0" opacity="0.95"/>
<circle cx="71.2" cy="519.4" r="1.10" fill="#2830d8" opacity="0.95"/>
<circle cx="52.2" cy="511.3" r="1.09" fill="#2830d8" opacity="0.95"/>
<circle cx="70.5" cy="517.4" r="0.90" fill="#3a48ff" opacity="0.95"/>
<circle cx="19.8" cy="539.4" r="1.27" fill="#2f3cf0" opacity="0.95"/>
<circle cx="68.7" cy="533.5" r="0.94" fill="#2830d8" opacity="0.95"/>
<circle cx="30.6" cy="485.2" r="1.29" fill="#2f3cf0" opacity="0.95"/>
</g>
</g>
<text x="39.8" y="394.3" font-size="10.6" text-anchor="middle" fill="#fff" filter="url(#tsh)">Merged</text>
<text x="50.9" y="532.2" font-size="11.2" text-anchor="middle" fill="#fff" filter="url(#tsh)">ACx</text>
<line x1="15.5" y1="542.6" x2="24.0" y2="542.6" stroke="#ddd" stroke-width="1.3"/>
<defs><linearGradient id="bg2" x1="0" x2="1" y1="0" y2="0"><stop offset="0" stop-color="#2a6418"/><stop offset="0.4" stop-color="#235a16"/><stop offset="1" stop-color="#1a4610"/></linearGradient>
<clipPath id="cp2"><rect x="86.0" y="381.1" width="72.3" height="166.3"/></clipPath></defs>
<g clip-path="url(#cp2)">
<rect x="86.0" y="381.1" width="72.3" height="166.3" fill="url(#bg2)"/>
<rect x="86.0" y="381.1" width="72.3" height="166.3" filter="url(#nzk)" opacity="0.35"/>
<rect x="86.0" y="381.1" width="72.3" height="166.3" filter="url(#nzkb)" opacity="0.25"/>
<g filter="url(#bl2)">
<ellipse cx="155.1" cy="538.7" rx="3.23" ry="2.26" fill="#2e7a1a" opacity="0.5"/>
<ellipse cx="112.1" cy="409.2" rx="6.24" ry="4.37" fill="#0e2a08" opacity="0.5"/>
<ellipse cx="104.2" cy="416.4" rx="3.14" ry="2.20" fill="#2e7a1a" opacity="0.5"/>
<ellipse cx="158.3" cy="487.3" rx="6.21" ry="4.35" fill="#0e2a08" opacity="0.5"/>
<ellipse cx="125.3" cy="455.1" rx="4.07" ry="2.85" fill="#2e7a1a" opacity="0.5"/>
<ellipse cx="149.0" cy="441.6" rx="6.73" ry="4.71" fill="#0e2a08" opacity="0.5"/>
<ellipse cx="116.6" cy="528.1" rx="3.66" ry="2.56" fill="#2e7a1a" opacity="0.5"/>
<ellipse cx="103.1" cy="385.1" rx="4.30" ry="3.01" fill="#2e7a1a" opacity="0.5"/>
<ellipse cx="122.9" cy="440.9" rx="5.05" ry="3.54" fill="#2e7a1a" opacity="0.5"/>
<ellipse cx="158.0" cy="455.2" rx="4.66" ry="3.26" fill="#0e2a08" opacity="0.5"/>
<ellipse cx="143.1" cy="439.9" rx="6.92" ry="4.85" fill="#0e2a08" opacity="0.5"/>
<ellipse cx="97.7" cy="506.5" rx="5.86" ry="4.10" fill="#0e2a08" opacity="0.5"/>
<ellipse cx="133.4" cy="422.7" rx="4.12" ry="2.88" fill="#0e2a08" opacity="0.5"/>
<ellipse cx="122.2" cy="519.4" rx="4.42" ry="3.09" fill="#0e2a08" opacity="0.5"/>
<ellipse cx="151.0" cy="457.8" rx="5.27" ry="3.69" fill="#0e2a08" opacity="0.5"/>
<ellipse cx="121.2" cy="418.0" rx="4.30" ry="3.01" fill="#2e7a1a" opacity="0.5"/>
<ellipse cx="149.4" cy="483.6" rx="6.09" ry="4.26" fill="#0e2a08" opacity="0.5"/>
<ellipse cx="108.4" cy="540.3" rx="5.82" ry="4.08" fill="#0e2a08" opacity="0.5"/>
<ellipse cx="108.5" cy="415.7" rx="5.05" ry="3.53" fill="#2e7a1a" opacity="0.5"/>
<ellipse cx="142.7" cy="437.9" rx="3.03" ry="2.12" fill="#2e7a1a" opacity="0.5"/>
<ellipse cx="158.1" cy="398.8" rx="5.30" ry="3.71" fill="#2e7a1a" opacity="0.5"/>
<ellipse cx="105.7" cy="418.8" rx="6.50" ry="4.55" fill="#2e7a1a" opacity="0.5"/>
<ellipse cx="140.5" cy="403.8" rx="4.06" ry="2.84" fill="#2e7a1a" opacity="0.5"/>
<ellipse cx="154.2" cy="391.1" rx="6.59" ry="4.61" fill="#2e7a1a" opacity="0.5"/>
<ellipse cx="90.1" cy="441.0" rx="4.00" ry="2.80" fill="#2e7a1a" opacity="0.5"/>
<ellipse cx="92.0" cy="539.8" rx="3.10" ry="2.17" fill="#2e7a1a" opacity="0.5"/>
<ellipse cx="113.0" cy="402.4" rx="6.74" ry="4.72" fill="#2e7a1a" opacity="0.5"/>
<ellipse cx="123.8" cy="381.4" rx="5.36" ry="3.75" fill="#2e7a1a" opacity="0.5"/>
<ellipse cx="96.9" cy="387.1" rx="4.38" ry="3.06" fill="#2e7a1a" opacity="0.5"/>
<ellipse cx="106.7" cy="462.4" rx="4.23" ry="2.96" fill="#2e7a1a" opacity="0.5"/>
</g>
<g filter="url(#bl0)">
<rect x="151.2" y="506.8" width="1.2" height="1.2" fill="#0a0a04" opacity="0.8"/>
<rect x="120.2" y="418.6" width="1.1" height="1.1" fill="#000000" opacity="0.8"/>
<rect x="146.6" y="385.1" width="1.2" height="1.2" fill="#0a0a04" opacity="0.8"/>
<rect x="123.5" y="511.0" width="1.0" height="1.0" fill="#000000" opacity="0.8"/>
<rect x="96.4" y="540.7" width="0.9" height="0.9" fill="#000000" opacity="0.8"/>
<rect x="133.2" y="497.4" width="1.3" height="1.3" fill="#0a0a04" opacity="0.8"/>
<rect x="104.3" y="403.0" width="0.9" height="0.9" fill="#000000" opacity="0.8"/>
<rect x="131.9" y="465.6" width="1.3" height="1.3" fill="#0a0a04" opacity="0.8"/>
<rect x="157.9" y="419.8" width="1.0" height="1.0" fill="#000000" opacity="0.8"/>
<rect x="91.8" y="419.1" width="1.2" height="1.2" fill="#000000" opacity="0.8"/>
<rect x="104.6" y="451.4" width="1.1" height="1.1" fill="#0a0a04" opacity="0.8"/>
<rect x="96.9" y="445.1" width="0.9" height="0.9" fill="#0a0a04" opacity="0.8"/>
<rect x="103.4" y="397.7" width="0.9" height="0.9" fill="#0a0a04" opacity="0.8"/>
<rect x="93.6" y="385.2" width="1.1" height="1.1" fill="#000000" opacity="0.8"/>
<rect x="108.4" y="487.8" width="0.9" height="0.9" fill="#0a0a04" opacity="0.8"/>
<rect x="138.7" y="453.2" width="1.1" height="1.1" fill="#0a0a04" opacity="0.8"/>
<rect x="149.7" y="535.6" width="1.1" height="1.1" fill="#0a0a04" opacity="0.8"/>
<rect x="134.0" y="460.9" width="0.8" height="0.8" fill="#0a0a04" opacity="0.8"/>
<rect x="130.1" y="429.3" width="1.3" height="1.3" fill="#000000" opacity="0.8"/>
<rect x="108.3" y="526.5" width="1.0" height="1.0" fill="#0a0a04" opacity="0.8"/>
<rect x="108.1" y="520.9" width="1.1" height="1.1" fill="#0a0a04" opacity="0.8"/>
<rect x="144.7" y="391.1" width="1.1" height="1.1" fill="#000000" opacity="0.8"/>
<rect x="101.1" y="479.0" width="0.8" height="0.8" fill="#000000" opacity="0.8"/>
<rect x="87.7" y="432.0" width="1.2" height="1.2" fill="#0a0a04" opacity="0.8"/>
<rect x="140.6" y="413.1" width="1.1" height="1.1" fill="#000000" opacity="0.8"/>
<rect x="137.8" y="404.3" width="1.0" height="1.0" fill="#0a0a04" opacity="0.8"/>
<rect x="104.4" y="401.5" width="1.1" height="1.1" fill="#000000" opacity="0.8"/>
<rect x="132.3" y="540.7" width="1.1" height="1.1" fill="#0a0a04" opacity="0.8"/>
<rect x="130.7" y="459.3" width="0.8" height="0.8" fill="#000000" opacity="0.8"/>
<rect x="107.0" y="540.7" width="0.9" height="0.9" fill="#000000" opacity="0.8"/>
<rect x="105.4" y="468.6" width="1.0" height="1.0" fill="#000000" opacity="0.8"/>
<rect x="153.4" y="520.1" width="0.9" height="0.9" fill="#0a0a04" opacity="0.8"/>
<rect x="97.3" y="480.3" width="1.1" height="1.1" fill="#0a0a04" opacity="0.8"/>
<rect x="128.4" y="517.1" width="0.8" height="0.8" fill="#000000" opacity="0.8"/>
<rect x="98.7" y="471.8" width="1.2" height="1.2" fill="#0a0a04" opacity="0.8"/>
<rect x="143.7" y="532.7" width="1.1" height="1.1" fill="#0a0a04" opacity="0.8"/>
<rect x="95.3" y="430.4" width="0.9" height="0.9" fill="#000000" opacity="0.8"/>
<rect x="117.7" y="468.2" width="0.9" height="0.9" fill="#000000" opacity="0.8"/>
<rect x="93.0" y="467.0" width="1.2" height="1.2" fill="#000000" opacity="0.8"/>
<rect x="98.3" y="407.3" width="1.3" height="1.3" fill="#0a0a04" opacity="0.8"/>
<rect x="115.2" y="546.6" width="1.2" height="1.2" fill="#0a0a04" opacity="0.8"/>
<rect x="119.7" y="500.6" width="1.2" height="1.2" fill="#000000" opacity="0.8"/>
<rect x="149.8" y="411.1" width="1.1" height="1.1" fill="#000000" opacity="0.8"/>
<rect x="105.8" y="423.3" width="1.2" height="1.2" fill="#000000" opacity="0.8"/>
<rect x="137.0" y="459.7" width="1.3" height="1.3" fill="#000000" opacity="0.8"/>
<rect x="137.6" y="532.8" width="0.8" height="0.8" fill="#0a0a04" opacity="0.8"/>
<rect x="124.5" y="412.3" width="1.2" height="1.2" fill="#000000" opacity="0.8"/>
<rect x="156.7" y="486.7" width="0.8" height="0.8" fill="#000000" opacity="0.8"/>
<rect x="123.9" y="531.9" width="1.0" height="1.0" fill="#0a0a04" opacity="0.8"/>
<rect x="145.0" y="383.9" width="1.3" height="1.3" fill="#000000" opacity="0.8"/>
<rect x="151.5" y="528.2" width="0.9" height="0.9" fill="#0a0a04" opacity="0.8"/>
<rect x="105.8" y="534.3" width="1.1" height="1.1" fill="#000000" opacity="0.8"/>
<rect x="144.1" y="404.0" width="1.1" height="1.1" fill="#000000" opacity="0.8"/>
<rect x="120.9" y="466.5" width="0.9" height="0.9" fill="#0a0a04" opacity="0.8"/>
<rect x="156.3" y="507.5" width="1.0" height="1.0" fill="#000000" opacity="0.8"/>
<rect x="124.5" y="492.4" width="0.8" height="0.8" fill="#000000" opacity="0.8"/>
<rect x="152.9" y="534.5" width="1.0" height="1.0" fill="#000000" opacity="0.8"/>
<rect x="88.0" y="394.4" width="1.2" height="1.2" fill="#0a0a04" opacity="0.8"/>
<rect x="140.9" y="537.2" width="1.3" height="1.3" fill="#000000" opacity="0.8"/>
<rect x="134.8" y="512.0" width="1.2" height="1.2" fill="#0a0a04" opacity="0.8"/>
</g>
<g filter="url(#bl15)">
<path d="M97.3,498.2 Q97.3,500.2 99.8,500.1 Q102.3,500.2 102.3,498.2 Q101.8,496.0 99.8,493.8 Q97.8,496.0 97.3,498.2 Z" fill="#70e060" opacity="0.9" transform="rotate(-12 99.8 497.5)"/>
<path d="M94.9,504.0 Q94.9,506.0 97.4,505.8 Q99.9,506.0 99.9,504.0 Q99.4,501.8 97.4,499.7 Q95.4,501.8 94.9,504.0 Z" fill="#48c03a" opacity="0.9" transform="rotate(-28 97.4 503.2)"/>
<path d="M141.2,504.4 Q141.2,505.8 142.9,505.7 Q144.6,505.8 144.6,504.4 Q144.3,502.9 142.9,501.5 Q141.6,502.9 141.2,504.4 Z" fill="#70e060" opacity="0.9" transform="rotate(-11 142.9 503.9)"/>
<path d="M130.0,496.5 Q130.0,498.1 132.0,498.0 Q134.1,498.1 134.1,496.5 Q133.7,494.7 132.0,492.9 Q130.4,494.7 130.0,496.5 Z" fill="#48c03a" opacity="0.9" transform="rotate(-25 132.0 495.9)"/>
<path d="M139.4,478.6 Q139.4,480.3 141.5,480.2 Q143.7,480.3 143.7,478.6 Q143.3,476.7 141.5,474.9 Q139.8,476.7 139.4,478.6 Z" fill="#48c03a" opacity="0.9" transform="rotate(9 141.5 478.0)"/>
<path d="M116.6,532.0 Q116.6,533.3 118.2,533.2 Q119.7,533.3 119.7,532.0 Q119.4,530.5 118.2,529.2 Q116.9,530.5 116.6,532.0 Z" fill="#70e060" opacity="0.9" transform="rotate(-17 118.2 531.5)"/>
<path d="M127.5,532.7 Q127.5,534.1 129.2,534.0 Q130.8,534.1 130.8,532.7 Q130.5,531.3 129.2,529.9 Q127.9,531.3 127.5,532.7 Z" fill="#70e060" opacity="0.9" transform="rotate(8 129.2 532.2)"/>
<path d="M111.6,471.4 Q111.6,473.0 113.6,472.9 Q115.5,473.0 115.5,471.4 Q115.1,469.7 113.6,468.0 Q112.0,469.7 111.6,471.4 Z" fill="#58d848" opacity="0.9" transform="rotate(1 113.6 470.9)"/>
<path d="M98.0,459.4 Q98.0,461.2 100.2,461.1 Q102.3,461.2 102.3,459.4 Q101.9,457.5 100.2,455.6 Q98.4,457.5 98.0,459.4 Z" fill="#48c03a" opacity="0.9" transform="rotate(21 100.2 458.8)"/>
<path d="M106.6,483.7 Q106.6,485.2 108.4,485.1 Q110.3,485.2 110.3,483.7 Q109.9,482.0 108.4,480.5 Q107.0,482.0 106.6,483.7 Z" fill="#48c03a" opacity="0.9" transform="rotate(-20 108.4 483.1)"/>
<path d="M118.4,477.5 Q118.4,479.4 120.8,479.3 Q123.2,479.4 123.2,477.5 Q122.7,475.3 120.8,473.3 Q118.9,475.3 118.4,477.5 Z" fill="#70e060" opacity="0.9" transform="rotate(-3 120.8 476.8)"/>
<path d="M129.7,540.9 Q129.7,542.4 131.5,542.3 Q133.4,542.4 133.4,540.9 Q133.0,539.3 131.5,537.7 Q130.1,539.3 129.7,540.9 Z" fill="#58d848" opacity="0.9" transform="rotate(23 131.5 540.4)"/>
<path d="M119.9,523.4 Q119.9,525.3 122.3,525.2 Q124.6,525.3 124.6,523.4 Q124.1,521.3 122.3,519.3 Q120.4,521.3 119.9,523.4 Z" fill="#58d848" opacity="0.9" transform="rotate(-9 122.3 522.7)"/>
<path d="M137.7,471.6 Q137.7,473.4 140.0,473.3 Q142.3,473.4 142.3,471.6 Q141.8,469.5 140.0,467.5 Q138.1,469.5 137.7,471.6 Z" fill="#70e060" opacity="0.9" transform="rotate(-7 140.0 470.9)"/>
<path d="M138.9,522.9 Q138.9,524.4 140.7,524.3 Q142.5,524.4 142.5,522.9 Q142.1,521.3 140.7,519.8 Q139.3,521.3 138.9,522.9 Z" fill="#70e060" opacity="0.9" transform="rotate(26 140.7 522.4)"/>
<path d="M121.7,517.2 Q121.7,519.2 124.1,519.0 Q126.5,519.2 126.5,517.2 Q126.1,515.0 124.1,512.9 Q122.1,515.0 121.7,517.2 Z" fill="#70e060" opacity="0.9" transform="rotate(-6 124.1 516.5)"/>
<path d="M133.4,518.6 Q133.4,520.3 135.6,520.2 Q137.7,520.3 137.7,518.6 Q137.3,516.6 135.6,514.8 Q133.8,516.6 133.4,518.6 Z" fill="#70e060" opacity="0.9" transform="rotate(-13 135.6 517.9)"/>
<path d="M128.7,515.1 Q128.7,516.6 130.6,516.5 Q132.5,516.6 132.5,515.1 Q132.1,513.4 130.6,511.8 Q129.1,513.4 128.7,515.1 Z" fill="#48c03a" opacity="0.9" transform="rotate(-1 130.6 514.5)"/>
<path d="M108.9,538.1 Q108.9,539.7 110.8,539.6 Q112.8,539.7 112.8,538.1 Q112.4,536.4 110.8,534.7 Q109.3,536.4 108.9,538.1 Z" fill="#58d848" opacity="0.9" transform="rotate(24 110.8 537.6)"/>
<path d="M105.3,544.0 Q105.3,545.3 107.0,545.2 Q108.6,545.3 108.6,544.0 Q108.3,542.5 107.0,541.1 Q105.7,542.5 105.3,544.0 Z" fill="#58d848" opacity="0.9" transform="rotate(-24 107.0 543.5)"/>
<path d="M103.5,456.0 Q103.5,457.9 105.9,457.8 Q108.3,457.9 108.3,456.0 Q107.8,453.9 105.9,451.9 Q104.0,453.9 103.5,456.0 Z" fill="#70e060" opacity="0.9" transform="rotate(16 105.9 455.3)"/>
<path d="M118.8,502.3 Q118.8,503.7 120.5,503.6 Q122.2,503.7 122.2,502.3 Q121.9,500.7 120.5,499.3 Q119.1,500.7 118.8,502.3 Z" fill="#70e060" opacity="0.9" transform="rotate(-7 120.5 501.8)"/>
<path d="M110.6,511.8 Q110.6,513.1 112.3,513.0 Q113.9,513.1 113.9,511.8 Q113.6,510.3 112.3,508.9 Q111.0,510.3 110.6,511.8 Z" fill="#48c03a" opacity="0.9" transform="rotate(-18 112.3 511.3)"/>
<path d="M121.6,545.2 Q121.6,547.0 123.9,546.9 Q126.2,547.0 126.2,545.2 Q125.7,543.1 123.9,541.2 Q122.0,543.1 121.6,545.2 Z" fill="#48c03a" opacity="0.9" transform="rotate(-15 123.9 544.5)"/>
<path d="M117.8,473.1 Q117.8,474.6 119.6,474.5 Q121.5,474.6 121.5,473.1 Q121.1,471.5 119.6,469.9 Q118.2,471.5 117.8,473.1 Z" fill="#58d848" opacity="0.9" transform="rotate(12 119.6 472.6)"/>
<path d="M133.9,453.0 Q133.9,455.0 136.3,454.9 Q138.8,455.0 138.8,453.0 Q138.3,450.8 136.3,448.8 Q134.4,450.8 133.9,453.0 Z" fill="#70e060" opacity="0.9" transform="rotate(16 136.3 452.3)"/>
<path d="M97.8,462.7 Q97.8,464.6 100.2,464.5 Q102.5,464.6 102.5,462.7 Q102.1,460.6 100.2,458.6 Q98.3,460.6 97.8,462.7 Z" fill="#48c03a" opacity="0.9" transform="rotate(-3 100.2 462.0)"/>
<path d="M109.5,480.3 Q109.5,481.9 111.6,481.8 Q113.7,481.9 113.7,480.3 Q113.3,478.4 111.6,476.6 Q109.9,478.4 109.5,480.3 Z" fill="#58d848" opacity="0.9" transform="rotate(-10 111.6 479.6)"/>
<path d="M136.6,509.1 Q136.6,510.6 138.5,510.5 Q140.4,510.6 140.4,509.1 Q140.0,507.4 138.5,505.8 Q137.0,507.4 136.6,509.1 Z" fill="#58d848" opacity="0.9" transform="rotate(-6 138.5 508.5)"/>
<path d="M120.7,510.0 Q120.7,511.4 122.5,511.3 Q124.4,511.4 124.4,510.0 Q124.0,508.3 122.5,506.8 Q121.1,508.3 120.7,510.0 Z" fill="#70e060" opacity="0.9" transform="rotate(6 122.5 509.4)"/>
<path d="M126.2,502.1 Q126.2,504.1 128.7,504.0 Q131.2,504.1 131.2,502.1 Q130.7,499.9 128.7,497.8 Q126.7,499.9 126.2,502.1 Z" fill="#48c03a" opacity="0.9" transform="rotate(20 128.7 501.4)"/>
<path d="M119.5,489.3 Q119.5,490.9 121.5,490.8 Q123.5,490.9 123.5,489.3 Q123.1,487.5 121.5,485.8 Q119.9,487.5 119.5,489.3 Z" fill="#58d848" opacity="0.9" transform="rotate(23 121.5 488.7)"/>
<path d="M119.7,507.1 Q119.7,508.4 121.3,508.3 Q122.9,508.4 122.9,507.1 Q122.6,505.7 121.3,504.3 Q120.0,505.7 119.7,507.1 Z" fill="#70e060" opacity="0.9" transform="rotate(0 121.3 506.6)"/>
<path d="M104.4,487.4 Q104.4,488.9 106.3,488.9 Q108.3,488.9 108.3,487.4 Q107.9,485.6 106.3,484.0 Q104.8,485.6 104.4,487.4 Z" fill="#70e060" opacity="0.9" transform="rotate(-29 106.3 486.8)"/>
<path d="M100.9,483.1 Q100.9,484.4 102.6,484.4 Q104.3,484.4 104.3,483.1 Q103.9,481.6 102.6,480.2 Q101.3,481.6 100.9,483.1 Z" fill="#58d848" opacity="0.9" transform="rotate(-4 102.6 482.6)"/>
<path d="M147.8,481.8 Q147.8,483.7 150.2,483.6 Q152.5,483.7 152.5,481.8 Q152.0,479.8 150.2,477.8 Q148.3,479.8 147.8,481.8 Z" fill="#48c03a" opacity="0.9" transform="rotate(-27 150.2 481.1)"/>
<path d="M143.6,472.3 Q143.6,473.9 145.6,473.8 Q147.6,473.9 147.6,472.3 Q147.2,470.5 145.6,468.8 Q144.0,470.5 143.6,472.3 Z" fill="#70e060" opacity="0.9" transform="rotate(-28 145.6 471.7)"/>
<path d="M133.0,502.2 Q133.0,503.4 134.6,503.3 Q136.1,503.4 136.1,502.2 Q135.8,500.8 134.6,499.5 Q133.3,500.8 133.0,502.2 Z" fill="#70e060" opacity="0.9" transform="rotate(25 134.6 501.7)"/>
</g>
<g filter="url(#bl1)">
<ellipse cx="145.4" cy="468.1" rx="1.95" ry="1.65" fill="#58d848" opacity="0.9"/>
<ellipse cx="96.1" cy="462.9" rx="1.51" ry="1.28" fill="#58d848" opacity="0.9"/>
<ellipse cx="103.8" cy="458.7" rx="2.04" ry="1.73" fill="#58d848" opacity="0.9"/>
<ellipse cx="131.3" cy="437.1" rx="1.92" ry="1.63" fill="#48c03a" opacity="0.9"/>
<ellipse cx="151.4" cy="500.4" rx="1.81" ry="1.53" fill="#58d848" opacity="0.9"/>
<ellipse cx="122.9" cy="519.7" rx="1.52" ry="1.29" fill="#58d848" opacity="0.9"/>
<ellipse cx="98.5" cy="414.7" rx="1.67" ry="1.42" fill="#58d848" opacity="0.9"/>
<ellipse cx="116.9" cy="447.3" rx="2.04" ry="1.73" fill="#58d848" opacity="0.9"/>
<ellipse cx="126.7" cy="459.7" rx="1.63" ry="1.38" fill="#48c03a" opacity="0.9"/>
<ellipse cx="157.4" cy="419.2" rx="1.96" ry="1.67" fill="#58d848" opacity="0.9"/>
</g>
<g filter="url(#bl1)">
<ellipse cx="88.2" cy="449.9" rx="1.46" ry="1.24" fill="#40a830" fill-opacity="0.38" stroke="#40a830" stroke-width="1.1" stroke-opacity="0.75"/>
<ellipse cx="114.3" cy="386.0" rx="1.41" ry="1.20" fill="#40a830" fill-opacity="0.38" stroke="#40a830" stroke-width="1.1" stroke-opacity="0.75"/>
<ellipse cx="139.7" cy="468.7" rx="1.68" ry="1.43" fill="#40a830" fill-opacity="0.38" stroke="#40a830" stroke-width="1.1" stroke-opacity="0.75"/>
<ellipse cx="139.3" cy="488.5" rx="1.48" ry="1.26" fill="#40a830" fill-opacity="0.38" stroke="#40a830" stroke-width="1.1" stroke-opacity="0.75"/>
<ellipse cx="129.2" cy="385.9" rx="1.46" ry="1.24" fill="#40a830" fill-opacity="0.38" stroke="#40a830" stroke-width="1.1" stroke-opacity="0.75"/>
<ellipse cx="96.2" cy="467.6" rx="2.03" ry="1.73" fill="#40a830" fill-opacity="0.38" stroke="#40a830" stroke-width="1.1" stroke-opacity="0.75"/>
<ellipse cx="156.7" cy="493.3" rx="1.67" ry="1.42" fill="#50b840" fill-opacity="0.38" stroke="#50b840" stroke-width="1.1" stroke-opacity="0.75"/>
<ellipse cx="155.6" cy="400.8" rx="1.56" ry="1.33" fill="#50b840" fill-opacity="0.38" stroke="#50b840" stroke-width="1.1" stroke-opacity="0.75"/>
<ellipse cx="147.4" cy="445.8" rx="1.35" ry="1.15" fill="#50b840" fill-opacity="0.38" stroke="#50b840" stroke-width="1.1" stroke-opacity="0.75"/>
<ellipse cx="134.3" cy="385.3" rx="1.54" ry="1.31" fill="#40a830" fill-opacity="0.38" stroke="#40a830" stroke-width="1.1" stroke-opacity="0.75"/>
<ellipse cx="132.0" cy="472.7" rx="2.06" ry="1.75" fill="#40a830" fill-opacity="0.38" stroke="#40a830" stroke-width="1.1" stroke-opacity="0.75"/>
<ellipse cx="101.5" cy="422.7" rx="1.73" ry="1.47" fill="#50b840" fill-opacity="0.38" stroke="#50b840" stroke-width="1.1" stroke-opacity="0.75"/>
<ellipse cx="128.9" cy="474.4" rx="2.01" ry="1.71" fill="#50b840" fill-opacity="0.38" stroke="#50b840" stroke-width="1.1" stroke-opacity="0.75"/>
<ellipse cx="141.8" cy="467.6" rx="1.93" ry="1.64" fill="#50b840" fill-opacity="0.38" stroke="#50b840" stroke-width="1.1" stroke-opacity="0.75"/>
<ellipse cx="149.0" cy="502.1" rx="1.61" ry="1.37" fill="#50b840" fill-opacity="0.38" stroke="#50b840" stroke-width="1.1" stroke-opacity="0.75"/>
<ellipse cx="130.5" cy="453.5" rx="1.66" ry="1.41" fill="#50b840" fill-opacity="0.38" stroke="#50b840" stroke-width="1.1" stroke-opacity="0.75"/>
<ellipse cx="147.5" cy="423.2" rx="1.36" ry="1.15" fill="#50b840" fill-opacity="0.38" stroke="#50b840" stroke-width="1.1" stroke-opacity="0.75"/>
<ellipse cx="129.7" cy="488.4" rx="1.48" ry="1.26" fill="#40a830" fill-opacity="0.38" stroke="#40a830" stroke-width="1.1" stroke-opacity="0.75"/>
<ellipse cx="135.3" cy="419.5" rx="1.47" ry="1.25" fill="#50b840" fill-opacity="0.38" stroke="#50b840" stroke-width="1.1" stroke-opacity="0.75"/>
<ellipse cx="93.1" cy="479.5" rx="1.32" ry="1.12" fill="#50b840" fill-opacity="0.38" stroke="#50b840" stroke-width="1.1" stroke-opacity="0.75"/>
<ellipse cx="90.2" cy="447.6" rx="1.93" ry="1.64" fill="#50b840" fill-opacity="0.38" stroke="#50b840" stroke-width="1.1" stroke-opacity="0.75"/>
<ellipse cx="145.5" cy="390.1" rx="1.68" ry="1.43" fill="#40a830" fill-opacity="0.38" stroke="#40a830" stroke-width="1.1" stroke-opacity="0.75"/>
<ellipse cx="106.4" cy="452.7" rx="1.47" ry="1.25" fill="#40a830" fill-opacity="0.38" stroke="#40a830" stroke-width="1.1" stroke-opacity="0.75"/>
<ellipse cx="129.9" cy="428.0" rx="1.35" ry="1.15" fill="#50b840" fill-opacity="0.38" stroke="#50b840" stroke-width="1.1" stroke-opacity="0.75"/>
<ellipse cx="152.1" cy="461.6" rx="1.70" ry="1.44" fill="#40a830" fill-opacity="0.38" stroke="#40a830" stroke-width="1.1" stroke-opacity="0.75"/>
<ellipse cx="96.9" cy="418.4" rx="2.07" ry="1.76" fill="#40a830" fill-opacity="0.38" stroke="#40a830" stroke-width="1.1" stroke-opacity="0.75"/>
<ellipse cx="100.7" cy="468.9" rx="2.00" ry="1.70" fill="#50b840" fill-opacity="0.38" stroke="#50b840" stroke-width="1.1" stroke-opacity="0.75"/>
<ellipse cx="123.9" cy="410.4" rx="1.47" ry="1.25" fill="#40a830" fill-opacity="0.38" stroke="#40a830" stroke-width="1.1" stroke-opacity="0.75"/>
<ellipse cx="104.9" cy="412.2" rx="2.05" ry="1.75" fill="#50b840" fill-opacity="0.38" stroke="#50b840" stroke-width="1.1" stroke-opacity="0.75"/>
<ellipse cx="145.6" cy="396.0" rx="1.66" ry="1.41" fill="#50b840" fill-opacity="0.38" stroke="#50b840" stroke-width="1.1" stroke-opacity="0.75"/>
<ellipse cx="120.3" cy="428.5" rx="1.47" ry="1.25" fill="#40a830" fill-opacity="0.38" stroke="#40a830" stroke-width="1.1" stroke-opacity="0.75"/>
<ellipse cx="90.0" cy="446.6" rx="2.01" ry="1.71" fill="#40a830" fill-opacity="0.38" stroke="#40a830" stroke-width="1.1" stroke-opacity="0.75"/>
<ellipse cx="89.9" cy="469.3" rx="1.62" ry="1.38" fill="#50b840" fill-opacity="0.38" stroke="#50b840" stroke-width="1.1" stroke-opacity="0.75"/>
<ellipse cx="93.3" cy="444.7" rx="1.72" ry="1.46" fill="#50b840" fill-opacity="0.38" stroke="#50b840" stroke-width="1.1" stroke-opacity="0.75"/>
<ellipse cx="128.0" cy="469.0" rx="1.89" ry="1.60" fill="#40a830" fill-opacity="0.38" stroke="#40a830" stroke-width="1.1" stroke-opacity="0.75"/>
<ellipse cx="106.2" cy="384.8" rx="1.33" ry="1.13" fill="#40a830" fill-opacity="0.38" stroke="#40a830" stroke-width="1.1" stroke-opacity="0.75"/>
<ellipse cx="100.9" cy="411.2" rx="1.34" ry="1.14" fill="#40a830" fill-opacity="0.38" stroke="#40a830" stroke-width="1.1" stroke-opacity="0.75"/>
<ellipse cx="132.7" cy="498.7" rx="1.38" ry="1.17" fill="#40a830" fill-opacity="0.38" stroke="#40a830" stroke-width="1.1" stroke-opacity="0.75"/>
<ellipse cx="135.0" cy="398.1" rx="1.87" ry="1.59" fill="#40a830" fill-opacity="0.38" stroke="#40a830" stroke-width="1.1" stroke-opacity="0.75"/>
<ellipse cx="108.5" cy="463.5" rx="1.68" ry="1.43" fill="#50b840" fill-opacity="0.38" stroke="#50b840" stroke-width="1.1" stroke-opacity="0.75"/>
</g>
</g>
<text x="122.6" y="394.3" font-size="10.6" text-anchor="middle" fill="#fff" filter="url(#tsh)">GPR173</text>
<defs><linearGradient id="bg3" x1="0" x2="1" y1="0" y2="0"><stop offset="0" stop-color="#4a0806"/><stop offset="0.5" stop-color="#560a08"/><stop offset="1" stop-color="#480806"/></linearGradient>
<clipPath id="cp3"><rect x="160.1" y="381.1" width="71.9" height="166.3"/></clipPath></defs>
<g clip-path="url(#cp3)">
<rect x="160.1" y="381.1" width="71.9" height="166.3" fill="url(#bg3)"/>
<rect x="160.1" y="381.1" width="71.9" height="166.3" filter="url(#nzk)" opacity="0.35"/>
<rect x="160.1" y="381.1" width="71.9" height="166.3" filter="url(#nzkb)" opacity="0.25"/>
<g filter="url(#bl2)">
<ellipse cx="177.2" cy="471.6" rx="4.48" ry="3.14" fill="#300404" opacity="0.6"/>
<ellipse cx="205.1" cy="392.0" rx="3.05" ry="2.14" fill="#300404" opacity="0.6"/>
<ellipse cx="178.7" cy="420.1" rx="6.98" ry="4.89" fill="#300404" opacity="0.6"/>
<ellipse cx="199.0" cy="472.5" rx="4.59" ry="3.21" fill="#7a1410" opacity="0.6"/>
<ellipse cx="176.8" cy="406.3" rx="6.70" ry="4.69" fill="#300404" opacity="0.6"/>
<ellipse cx="213.4" cy="492.8" rx="3.26" ry="2.28" fill="#7a1410" opacity="0.6"/>
<ellipse cx="181.8" cy="386.3" rx="6.46" ry="4.52" fill="#300404" opacity="0.6"/>
<ellipse cx="202.9" cy="534.1" rx="4.55" ry="3.19" fill="#300404" opacity="0.6"/>
<ellipse cx="188.5" cy="514.3" rx="4.78" ry="3.34" fill="#7a1410" opacity="0.6"/>
<ellipse cx="223.3" cy="397.3" rx="3.54" ry="2.48" fill="#7a1410" opacity="0.6"/>
<ellipse cx="178.6" cy="492.9" rx="6.12" ry="4.28" fill="#300404" opacity="0.6"/>
<ellipse cx="190.4" cy="519.7" rx="5.30" ry="3.71" fill="#300404" opacity="0.6"/>
<ellipse cx="202.1" cy="531.5" rx="5.73" ry="4.01" fill="#7a1410" opacity="0.6"/>
<ellipse cx="221.7" cy="545.9" rx="5.69" ry="3.98" fill="#7a1410" opacity="0.6"/>
<ellipse cx="210.3" cy="435.4" rx="5.17" ry="3.62" fill="#7a1410" opacity="0.6"/>
<ellipse cx="211.4" cy="416.2" rx="6.33" ry="4.43" fill="#300404" opacity="0.6"/>
<ellipse cx="180.6" cy="391.7" rx="6.42" ry="4.49" fill="#300404" opacity="0.6"/>
<ellipse cx="166.5" cy="514.2" rx="4.64" ry="3.25" fill="#7a1410" opacity="0.6"/>
<ellipse cx="161.5" cy="452.1" rx="4.66" ry="3.26" fill="#7a1410" opacity="0.6"/>
<ellipse cx="163.3" cy="483.3" rx="3.18" ry="2.23" fill="#300404" opacity="0.6"/>
<ellipse cx="199.7" cy="534.4" rx="4.12" ry="2.88" fill="#7a1410" opacity="0.6"/>
<ellipse cx="231.9" cy="432.6" rx="3.31" ry="2.32" fill="#7a1410" opacity="0.6"/>
<ellipse cx="228.3" cy="542.6" rx="4.17" ry="2.92" fill="#300404" opacity="0.6"/>
<ellipse cx="171.3" cy="388.2" rx="6.47" ry="4.53" fill="#300404" opacity="0.6"/>
<ellipse cx="186.0" cy="404.1" rx="6.45" ry="4.51" fill="#300404" opacity="0.6"/>
<ellipse cx="193.2" cy="467.6" rx="5.58" ry="3.90" fill="#7a1410" opacity="0.6"/>
<ellipse cx="204.7" cy="537.5" rx="5.03" ry="3.52" fill="#300404" opacity="0.6"/>
<ellipse cx="205.7" cy="500.1" rx="6.75" ry="4.72" fill="#300404" opacity="0.6"/>
<ellipse cx="230.4" cy="467.8" rx="5.19" ry="3.64" fill="#7a1410" opacity="0.6"/>
<ellipse cx="216.8" cy="545.3" rx="4.26" ry="2.98" fill="#300404" opacity="0.6"/>
</g>
<g filter="url(#bl0)">
<rect x="204.4" y="486.2" width="0.8" height="0.8" fill="#000000" opacity="0.8"/>
<rect x="193.6" y="494.1" width="1.0" height="1.0" fill="#000000" opacity="0.8"/>
<rect x="213.2" y="384.8" width="0.8" height="0.8" fill="#0a0a04" opacity="0.8"/>
<rect x="229.4" y="422.9" width="1.0" height="1.0" fill="#000000" opacity="0.8"/>
<rect x="172.9" y="411.9" width="1.2" height="1.2" fill="#000000" opacity="0.8"/>
<rect x="181.7" y="443.8" width="1.2" height="1.2" fill="#0a0a04" opacity="0.8"/>
<rect x="229.9" y="494.8" width="0.9" height="0.9" fill="#0a0a04" opacity="0.8"/>
<rect x="207.1" y="425.9" width="1.0" height="1.0" fill="#000000" opacity="0.8"/>
<rect x="206.8" y="397.2" width="1.1" height="1.1" fill="#000000" opacity="0.8"/>
<rect x="208.6" y="418.4" width="1.2" height="1.2" fill="#0a0a04" opacity="0.8"/>
<rect x="165.8" y="504.5" width="0.9" height="0.9" fill="#000000" opacity="0.8"/>
<rect x="179.6" y="512.0" width="0.8" height="0.8" fill="#0a0a04" opacity="0.8"/>
<rect x="182.8" y="520.2" width="1.1" height="1.1" fill="#000000" opacity="0.8"/>
<rect x="184.6" y="518.8" width="0.8" height="0.8" fill="#000000" opacity="0.8"/>
<rect x="202.5" y="451.2" width="1.1" height="1.1" fill="#000000" opacity="0.8"/>
<rect x="193.5" y="486.6" width="0.9" height="0.9" fill="#000000" opacity="0.8"/>
<rect x="162.7" y="449.8" width="0.9" height="0.9" fill="#000000" opacity="0.8"/>
<rect x="227.9" y="527.4" width="1.3" height="1.3" fill="#000000" opacity="0.8"/>
<rect x="200.3" y="545.0" width="1.2" height="1.2" fill="#0a0a04" opacity="0.8"/>
<rect x="213.7" y="520.2" width="1.1" height="1.1" fill="#000000" opacity="0.8"/>
<rect x="199.2" y="529.1" width="1.2" height="1.2" fill="#000000" opacity="0.8"/>
<rect x="168.7" y="421.8" width="0.8" height="0.8" fill="#0a0a04" opacity="0.8"/>
<rect x="224.6" y="530.7" width="1.1" height="1.1" fill="#0a0a04" opacity="0.8"/>
<rect x="194.7" y="401.2" width="1.1" height="1.1" fill="#0a0a04" opacity="0.8"/>
<rect x="207.8" y="468.4" width="1.0" height="1.0" fill="#0a0a04" opacity="0.8"/>
<rect x="184.6" y="423.1" width="1.2" height="1.2" fill="#000000" opacity="0.8"/>
<rect x="218.5" y="391.3" width="0.9" height="0.9" fill="#0a0a04" opacity="0.8"/>
<rect x="198.5" y="516.9" width="0.9" height="0.9" fill="#000000" opacity="0.8"/>
<rect x="226.4" y="515.1" width="1.2" height="1.2" fill="#0a0a04" opacity="0.8"/>
<rect x="195.2" y="476.0" width="1.0" height="1.0" fill="#000000" opacity="0.8"/>
<rect x="177.9" y="483.9" width="1.1" height="1.1" fill="#0a0a04" opacity="0.8"/>
<rect x="194.1" y="510.2" width="0.8" height="0.8" fill="#0a0a04" opacity="0.8"/>
<rect x="215.8" y="388.8" width="0.8" height="0.8" fill="#000000" opacity="0.8"/>
<rect x="230.2" y="523.2" width="0.8" height="0.8" fill="#000000" opacity="0.8"/>
<rect x="182.8" y="433.4" width="1.0" height="1.0" fill="#000000" opacity="0.8"/>
<rect x="202.3" y="441.1" width="0.9" height="0.9" fill="#000000" opacity="0.8"/>
<rect x="190.9" y="402.3" width="0.8" height="0.8" fill="#000000" opacity="0.8"/>
<rect x="217.3" y="475.3" width="0.8" height="0.8" fill="#000000" opacity="0.8"/>
<rect x="203.6" y="511.3" width="1.0" height="1.0" fill="#0a0a04" opacity="0.8"/>
<rect x="204.9" y="452.9" width="1.0" height="1.0" fill="#000000" opacity="0.8"/>
<rect x="214.7" y="433.5" width="1.3" height="1.3" fill="#000000" opacity="0.8"/>
<rect x="193.2" y="421.9" width="1.1" height="1.1" fill="#0a0a04" opacity="0.8"/>
<rect x="217.8" y="418.4" width="0.9" height="0.9" fill="#0a0a04" opacity="0.8"/>
<rect x="227.4" y="443.3" width="1.2" height="1.2" fill="#000000" opacity="0.8"/>
<rect x="168.8" y="495.9" width="1.3" height="1.3" fill="#000000" opacity="0.8"/>
<rect x="208.1" y="503.1" width="1.1" height="1.1" fill="#0a0a04" opacity="0.8"/>
<rect x="218.5" y="500.3" width="1.0" height="1.0" fill="#0a0a04" opacity="0.8"/>
<rect x="215.8" y="388.5" width="0.8" height="0.8" fill="#0a0a04" opacity="0.8"/>
<rect x="207.5" y="443.6" width="1.2" height="1.2" fill="#000000" opacity="0.8"/>
<rect x="220.6" y="401.3" width="1.2" height="1.2" fill="#000000" opacity="0.8"/>
<rect x="220.2" y="539.5" width="1.1" height="1.1" fill="#0a0a04" opacity="0.8"/>
<rect x="162.7" y="508.7" width="1.1" height="1.1" fill="#0a0a04" opacity="0.8"/>
<rect x="167.8" y="505.7" width="1.3" height="1.3" fill="#0a0a04" opacity="0.8"/>
<rect x="199.7" y="525.7" width="0.9" height="0.9" fill="#0a0a04" opacity="0.8"/>
<rect x="177.5" y="411.0" width="0.9" height="0.9" fill="#000000" opacity="0.8"/>
<rect x="178.3" y="480.8" width="1.3" height="1.3" fill="#000000" opacity="0.8"/>
<rect x="229.6" y="443.5" width="0.9" height="0.9" fill="#000000" opacity="0.8"/>
<rect x="220.8" y="541.9" width="1.0" height="1.0" fill="#000000" opacity="0.8"/>
<rect x="171.3" y="447.8" width="1.2" height="1.2" fill="#0a0a04" opacity="0.8"/>
<rect x="167.0" y="505.5" width="1.3" height="1.3" fill="#000000" opacity="0.8"/>
</g>
<g filter="url(#bl15)">
<path d="M193.2,524.7 Q193.2,526.0 194.7,525.9 Q196.3,526.0 196.3,524.7 Q196.0,523.3 194.7,522.0 Q193.5,523.3 193.2,524.7 Z" fill="#ff2a18" opacity="0.95" transform="rotate(-21 194.7 524.3)"/>
<path d="M188.4,537.5 Q188.4,539.4 190.8,539.3 Q193.2,539.4 193.2,537.5 Q192.7,535.3 190.8,533.3 Q188.9,535.3 188.4,537.5 Z" fill="#ff3a20" opacity="0.95" transform="rotate(27 190.8 536.8)"/>
<path d="M176.7,499.9 Q176.7,501.5 178.6,501.4 Q180.5,501.5 180.5,499.9 Q180.2,498.2 178.6,496.6 Q177.1,498.2 176.7,499.9 Z" fill="#ff3a20" opacity="0.95" transform="rotate(5 178.6 499.4)"/>
<path d="M175.6,420.3 Q175.6,421.5 177.0,421.4 Q178.5,421.5 178.5,420.3 Q178.2,419.0 177.0,417.8 Q175.9,419.0 175.6,420.3 Z" fill="#f02010" opacity="0.95" transform="rotate(18 177.0 419.9)"/>
<path d="M171.7,477.8 Q171.7,479.2 173.4,479.1 Q175.1,479.2 175.1,477.8 Q174.7,476.3 173.4,474.9 Q172.0,476.3 171.7,477.8 Z" fill="#f02010" opacity="0.95" transform="rotate(16 173.4 477.3)"/>
<path d="M168.2,546.6 Q168.2,548.1 170.2,548.0 Q172.2,548.1 172.2,546.6 Q171.8,544.8 170.2,543.1 Q168.6,544.8 168.2,546.6 Z" fill="#ff3a20" opacity="0.95" transform="rotate(-18 170.2 546.0)"/>
<path d="M192.2,532.0 Q192.2,533.8 194.4,533.7 Q196.6,533.8 196.6,532.0 Q196.1,530.1 194.4,528.2 Q192.6,530.1 192.2,532.0 Z" fill="#ff2a18" opacity="0.95" transform="rotate(-1 194.4 531.4)"/>
<path d="M200.3,524.6 Q200.3,526.1 202.2,526.0 Q204.0,526.1 204.0,524.6 Q203.7,522.9 202.2,521.3 Q200.7,522.9 200.3,524.6 Z" fill="#ff3a20" opacity="0.95" transform="rotate(23 202.2 524.0)"/>
<path d="M162.3,533.6 Q162.3,535.6 164.8,535.5 Q167.3,535.6 167.3,533.6 Q166.8,531.4 164.8,529.3 Q162.8,531.4 162.3,533.6 Z" fill="#ff3a20" opacity="0.95" transform="rotate(13 164.8 532.9)"/>
<path d="M197.2,541.4 Q197.2,543.3 199.6,543.2 Q202.1,543.3 202.1,541.4 Q201.6,539.2 199.6,537.2 Q197.7,539.2 197.2,541.4 Z" fill="#ff2a18" opacity="0.95" transform="rotate(23 199.6 540.7)"/>
<path d="M203.1,407.5 Q203.1,409.2 205.2,409.1 Q207.4,409.2 207.4,407.5 Q206.9,405.5 205.2,403.7 Q203.5,405.5 203.1,407.5 Z" fill="#ff3a20" opacity="0.95" transform="rotate(22 205.2 406.8)"/>
<path d="M209.6,426.7 Q209.6,428.7 212.1,428.5 Q214.5,428.7 214.5,426.7 Q214.0,424.5 212.1,422.5 Q210.1,424.5 209.6,426.7 Z" fill="#f02010" opacity="0.95" transform="rotate(-19 212.1 426.0)"/>
<path d="M165.8,515.1 Q165.8,516.3 167.3,516.2 Q168.8,516.3 168.8,515.1 Q168.5,513.7 167.3,512.4 Q166.1,513.7 165.8,515.1 Z" fill="#f02010" opacity="0.95" transform="rotate(20 167.3 514.6)"/>
<path d="M176.3,443.2 Q176.3,444.9 178.4,444.8 Q180.5,444.9 180.5,443.2 Q180.1,441.3 178.4,439.5 Q176.7,441.3 176.3,443.2 Z" fill="#ff3a20" opacity="0.95" transform="rotate(-10 178.4 442.6)"/>
<path d="M162.0,439.0 Q162.0,440.5 163.9,440.4 Q165.7,440.5 165.7,439.0 Q165.4,437.3 163.9,435.8 Q162.4,437.3 162.0,439.0 Z" fill="#ff2a18" opacity="0.95" transform="rotate(-17 163.9 438.4)"/>
<path d="M192.8,540.7 Q192.8,542.2 194.7,542.1 Q196.5,542.2 196.5,540.7 Q196.1,539.0 194.7,537.4 Q193.2,539.0 192.8,540.7 Z" fill="#ff3a20" opacity="0.95" transform="rotate(-11 194.7 540.1)"/>
<path d="M209.2,397.4 Q209.2,399.0 211.2,398.9 Q213.1,399.0 213.1,397.4 Q212.7,395.7 211.2,394.1 Q209.6,395.7 209.2,397.4 Z" fill="#f02010" opacity="0.95" transform="rotate(23 211.2 396.9)"/>
<path d="M210.0,401.0 Q210.0,403.0 212.6,402.9 Q215.1,403.0 215.1,401.0 Q214.6,398.7 212.6,396.6 Q210.5,398.7 210.0,401.0 Z" fill="#f02010" opacity="0.95" transform="rotate(11 212.6 400.2)"/>
<path d="M180.5,458.5 Q180.5,460.2 182.7,460.1 Q184.9,460.2 184.9,458.5 Q184.4,456.5 182.7,454.6 Q180.9,456.5 180.5,458.5 Z" fill="#ff3a20" opacity="0.95" transform="rotate(9 182.7 457.8)"/>
<path d="M204.6,428.4 Q204.6,430.2 206.9,430.1 Q209.2,430.2 209.2,428.4 Q208.7,426.3 206.9,424.4 Q205.0,426.3 204.6,428.4 Z" fill="#f02010" opacity="0.95" transform="rotate(10 206.9 427.7)"/>
<path d="M189.9,403.5 Q189.9,405.1 191.9,405.0 Q193.9,405.1 193.9,403.5 Q193.5,401.7 191.9,400.0 Q190.3,401.7 189.9,403.5 Z" fill="#f02010" opacity="0.95" transform="rotate(-26 191.9 402.9)"/>
<path d="M176.3,503.7 Q176.3,505.6 178.6,505.5 Q180.8,505.6 180.8,503.7 Q180.4,501.7 178.6,499.7 Q176.7,501.7 176.3,503.7 Z" fill="#ff3a20" opacity="0.95" transform="rotate(9 178.6 503.1)"/>
<path d="M194.7,414.4 Q194.7,416.3 197.2,416.2 Q199.7,416.3 199.7,414.4 Q199.2,412.1 197.2,410.0 Q195.2,412.1 194.7,414.4 Z" fill="#ff3a20" opacity="0.95" transform="rotate(-3 197.2 413.6)"/>
<path d="M165.7,476.4 Q165.7,478.4 168.2,478.3 Q170.8,478.4 170.8,476.4 Q170.3,474.2 168.2,472.0 Q166.2,474.2 165.7,476.4 Z" fill="#ff3a20" opacity="0.95" transform="rotate(13 168.2 475.7)"/>
<path d="M193.2,475.5 Q193.2,477.3 195.3,477.1 Q197.5,477.3 197.5,475.5 Q197.1,473.6 195.3,471.7 Q193.6,473.6 193.2,475.5 Z" fill="#f02010" opacity="0.95" transform="rotate(-1 195.3 474.9)"/>
<path d="M204.0,499.9 Q204.0,501.1 205.6,501.0 Q207.1,501.1 207.1,499.9 Q206.8,498.5 205.6,497.2 Q204.3,498.5 204.0,499.9 Z" fill="#ff2a18" opacity="0.95" transform="rotate(15 205.6 499.4)"/>
<path d="M190.5,505.5 Q190.5,507.0 192.3,506.9 Q194.2,507.0 194.2,505.5 Q193.8,503.9 192.3,502.3 Q190.9,503.9 190.5,505.5 Z" fill="#f02010" opacity="0.95" transform="rotate(-14 192.3 505.0)"/>
<path d="M163.2,407.3 Q163.2,408.8 165.2,408.7 Q167.2,408.8 167.2,407.3 Q166.8,405.5 165.2,403.8 Q163.6,405.5 163.2,407.3 Z" fill="#f02010" opacity="0.95" transform="rotate(-15 165.2 406.7)"/>
<path d="M203.0,442.7 Q203.0,444.1 204.8,444.0 Q206.6,444.1 206.6,442.7 Q206.3,441.1 204.8,439.5 Q203.4,441.1 203.0,442.7 Z" fill="#f02010" opacity="0.95" transform="rotate(-3 204.8 442.1)"/>
<path d="M205.1,396.3 Q205.1,397.9 207.1,397.8 Q209.1,397.9 209.1,396.3 Q208.7,394.5 207.1,392.8 Q205.5,394.5 205.1,396.3 Z" fill="#ff2a18" opacity="0.95" transform="rotate(-21 207.1 395.7)"/>
<path d="M192.9,496.1 Q192.9,497.8 194.9,497.7 Q197.0,497.8 197.0,496.1 Q196.6,494.2 194.9,492.5 Q193.3,494.2 192.9,496.1 Z" fill="#ff3a20" opacity="0.95" transform="rotate(-23 194.9 495.5)"/>
<path d="M198.7,477.5 Q198.7,479.3 200.9,479.2 Q203.1,479.3 203.1,477.5 Q202.7,475.5 200.9,473.7 Q199.1,475.5 198.7,477.5 Z" fill="#f02010" opacity="0.95" transform="rotate(19 200.9 476.8)"/>
<path d="M202.1,481.4 Q202.1,482.6 203.7,482.5 Q205.3,482.6 205.3,481.4 Q205.0,479.9 203.7,478.6 Q202.4,479.9 202.1,481.4 Z" fill="#f02010" opacity="0.95" transform="rotate(18 203.7 480.9)"/>
<path d="M190.8,412.7 Q190.8,414.0 192.4,413.9 Q194.0,414.0 194.0,412.7 Q193.7,411.2 192.4,409.8 Q191.1,411.2 190.8,412.7 Z" fill="#f02010" opacity="0.95" transform="rotate(-8 192.4 412.2)"/>
<path d="M176.5,522.3 Q176.5,523.8 178.5,523.7 Q180.4,523.8 180.4,522.3 Q180.0,520.5 178.5,518.9 Q176.9,520.5 176.5,522.3 Z" fill="#f02010" opacity="0.95" transform="rotate(27 178.5 521.7)"/>
<path d="M181.4,475.1 Q181.4,476.8 183.5,476.7 Q185.6,476.8 185.6,475.1 Q185.1,473.2 183.5,471.4 Q181.8,473.2 181.4,475.1 Z" fill="#ff3a20" opacity="0.95" transform="rotate(-0 183.5 474.5)"/>
<path d="M189.1,500.4 Q189.1,502.4 191.5,502.2 Q194.0,502.4 194.0,500.4 Q193.5,498.2 191.5,496.1 Q189.6,498.2 189.1,500.4 Z" fill="#ff3a20" opacity="0.95" transform="rotate(-1 191.5 499.6)"/>
<path d="M194.1,503.3 Q194.1,504.4 195.6,504.4 Q197.0,504.4 197.0,503.3 Q196.7,502.0 195.6,500.8 Q194.4,502.0 194.1,503.3 Z" fill="#ff3a20" opacity="0.95" transform="rotate(-16 195.6 502.9)"/>
<path d="M170.2,486.8 Q170.2,488.1 171.8,488.0 Q173.5,488.1 173.5,486.8 Q173.2,485.3 171.8,483.9 Q170.5,485.3 170.2,486.8 Z" fill="#ff3a20" opacity="0.95" transform="rotate(-17 171.8 486.3)"/>
<path d="M204.7,536.1 Q204.7,538.1 207.3,538.0 Q209.8,538.1 209.8,536.1 Q209.3,533.8 207.3,531.7 Q205.2,533.8 204.7,536.1 Z" fill="#ff2a18" opacity="0.95" transform="rotate(4 207.3 535.3)"/>
<path d="M213.8,530.3 Q213.8,531.5 215.4,531.4 Q216.9,531.5 216.9,530.3 Q216.6,528.9 215.4,527.5 Q214.1,528.9 213.8,530.3 Z" fill="#ff2a18" opacity="0.95" transform="rotate(7 215.4 529.8)"/>
<path d="M163.4,443.6 Q163.4,444.9 165.1,444.8 Q166.7,444.9 166.7,443.6 Q166.4,442.1 165.1,440.6 Q163.7,442.1 163.4,443.6 Z" fill="#ff2a18" opacity="0.95" transform="rotate(-0 165.1 443.1)"/>
<path d="M161.5,440.3 Q161.5,441.8 163.3,441.7 Q165.1,441.8 165.1,440.3 Q164.7,438.7 163.3,437.2 Q161.9,438.7 161.5,440.3 Z" fill="#f02010" opacity="0.95" transform="rotate(12 163.3 439.8)"/>
<path d="M167.6,524.9 Q167.6,526.6 169.7,526.5 Q171.8,526.6 171.8,524.9 Q171.4,523.0 169.7,521.2 Q168.0,523.0 167.6,524.9 Z" fill="#ff2a18" opacity="0.95" transform="rotate(13 169.7 524.3)"/>
<path d="M200.8,441.1 Q200.8,443.0 203.2,442.9 Q205.6,443.0 205.6,441.1 Q205.1,439.0 203.2,437.0 Q201.3,439.0 200.8,441.1 Z" fill="#ff2a18" opacity="0.95" transform="rotate(22 203.2 440.4)"/>
<path d="M184.5,508.4 Q184.5,510.0 186.5,509.9 Q188.4,510.0 188.4,508.4 Q188.0,506.6 186.5,504.9 Q184.9,506.6 184.5,508.4 Z" fill="#ff2a18" opacity="0.95" transform="rotate(17 186.5 507.8)"/>
<path d="M182.6,522.9 Q182.6,524.7 184.9,524.5 Q187.1,524.7 187.1,522.9 Q186.7,520.8 184.9,518.9 Q183.1,520.8 182.6,522.9 Z" fill="#f02010" opacity="0.95" transform="rotate(-0 184.9 522.2)"/>
<path d="M199.1,472.6 Q199.1,474.1 201.0,474.0 Q202.9,474.1 202.9,472.6 Q202.5,470.9 201.0,469.2 Q199.4,470.9 199.1,472.6 Z" fill="#ff3a20" opacity="0.95" transform="rotate(-1 201.0 472.0)"/>
<path d="M161.3,459.7 Q161.3,461.5 163.6,461.3 Q165.8,461.5 165.8,459.7 Q165.3,457.7 163.6,455.8 Q161.8,457.7 161.3,459.7 Z" fill="#f02010" opacity="0.95" transform="rotate(-19 163.6 459.0)"/>
<path d="M210.2,502.3 Q210.2,503.7 212.1,503.6 Q213.9,503.7 213.9,502.3 Q213.5,500.6 212.1,499.0 Q210.6,500.6 210.2,502.3 Z" fill="#f02010" opacity="0.95" transform="rotate(-3 212.1 501.7)"/>
<path d="M179.7,450.7 Q179.7,452.7 182.3,452.6 Q184.8,452.7 184.8,450.7 Q184.3,448.4 182.3,446.2 Q180.2,448.4 179.7,450.7 Z" fill="#ff2a18" opacity="0.95" transform="rotate(-14 182.3 449.9)"/>
<path d="M180.7,524.4 Q180.7,526.1 182.7,526.0 Q184.8,526.1 184.8,524.4 Q184.4,522.6 182.7,520.9 Q181.1,522.6 180.7,524.4 Z" fill="#ff2a18" opacity="0.95" transform="rotate(-17 182.7 523.8)"/>
<path d="M170.1,450.7 Q170.1,452.0 171.7,451.9 Q173.3,452.0 173.3,450.7 Q173.0,449.3 171.7,447.9 Q170.4,449.3 170.1,450.7 Z" fill="#ff2a18" opacity="0.95" transform="rotate(-22 171.7 450.2)"/>
<path d="M194.3,457.1 Q194.3,458.4 196.0,458.3 Q197.6,458.4 197.6,457.1 Q197.3,455.6 196.0,454.2 Q194.7,455.6 194.3,457.1 Z" fill="#ff2a18" opacity="0.95" transform="rotate(-6 196.0 456.6)"/>
<path d="M177.6,390.5 Q177.6,392.3 179.9,392.1 Q182.1,392.3 182.1,390.5 Q181.7,388.4 179.9,386.5 Q178.0,388.4 177.6,390.5 Z" fill="#ff2a18" opacity="0.95" transform="rotate(-6 179.9 389.8)"/>
<path d="M181.7,389.5 Q181.7,391.6 184.2,391.5 Q186.8,391.6 186.8,389.5 Q186.3,387.2 184.2,385.1 Q182.2,387.2 181.7,389.5 Z" fill="#ff2a18" opacity="0.95" transform="rotate(-16 184.2 388.8)"/>
<path d="M182.0,416.0 Q182.0,417.5 183.8,417.4 Q185.6,417.5 185.6,416.0 Q185.2,414.4 183.8,412.9 Q182.4,414.4 182.0,416.0 Z" fill="#ff2a18" opacity="0.95" transform="rotate(-9 183.8 415.5)"/>
<path d="M166.8,393.6 Q166.8,395.4 169.1,395.3 Q171.4,395.4 171.4,393.6 Q170.9,391.5 169.1,389.6 Q167.3,391.5 166.8,393.6 Z" fill="#f02010" opacity="0.95" transform="rotate(29 169.1 392.9)"/>
<path d="M211.9,513.8 Q211.9,515.9 214.4,515.7 Q217.0,515.9 217.0,513.8 Q216.5,511.5 214.4,509.4 Q212.4,511.5 211.9,513.8 Z" fill="#f02010" opacity="0.95" transform="rotate(-15 214.4 513.1)"/>
<path d="M174.8,517.8 Q174.8,519.6 177.0,519.5 Q179.1,519.6 179.1,517.8 Q178.7,515.9 177.0,514.1 Q175.2,515.9 174.8,517.8 Z" fill="#f02010" opacity="0.95" transform="rotate(-11 177.0 517.2)"/>
<path d="M163.9,455.8 Q163.9,457.0 165.4,457.0 Q166.9,457.0 166.9,455.8 Q166.6,454.5 165.4,453.2 Q164.2,454.5 163.9,455.8 Z" fill="#ff3a20" opacity="0.95" transform="rotate(-30 165.4 455.4)"/>
<path d="M162.3,399.7 Q162.3,400.9 163.9,400.9 Q165.5,400.9 165.5,399.7 Q165.2,398.2 163.9,396.9 Q162.7,398.2 162.3,399.7 Z" fill="#ff2a18" opacity="0.95" transform="rotate(-1 163.9 399.2)"/>
</g>
<g filter="url(#bl1)">
<ellipse cx="173.7" cy="465.9" rx="1.93" ry="1.64" fill="#e82818" opacity="0.9"/>
<ellipse cx="184.5" cy="460.7" rx="1.95" ry="1.66" fill="#e82818" opacity="0.9"/>
<ellipse cx="187.6" cy="506.1" rx="2.23" ry="1.90" fill="#e82818" opacity="0.9"/>
<ellipse cx="166.4" cy="429.9" rx="2.45" ry="2.08" fill="#e82818" opacity="0.9"/>
<ellipse cx="196.6" cy="472.1" rx="2.14" ry="1.82" fill="#e82818" opacity="0.9"/>
<ellipse cx="172.7" cy="504.1" rx="2.33" ry="1.98" fill="#e82818" opacity="0.9"/>
<ellipse cx="226.5" cy="441.4" rx="2.01" ry="1.71" fill="#e82818" opacity="0.9"/>
<ellipse cx="192.1" cy="498.0" rx="1.95" ry="1.65" fill="#e82818" opacity="0.9"/>
<ellipse cx="196.6" cy="506.3" rx="2.52" ry="2.14" fill="#e82818" opacity="0.9"/>
<ellipse cx="228.4" cy="388.2" rx="1.77" ry="1.51" fill="#e82818" opacity="0.9"/>
<ellipse cx="219.3" cy="396.4" rx="2.29" ry="1.95" fill="#e82818" opacity="0.9"/>
<ellipse cx="183.1" cy="481.0" rx="2.40" ry="2.04" fill="#e82818" opacity="0.9"/>
</g>
<g filter="url(#bl1)">
<ellipse cx="223.3" cy="526.2" rx="1.96" ry="1.67" fill="#c81810" fill-opacity="0.40" stroke="#c81810" stroke-width="1.1" stroke-opacity="0.8"/>
<ellipse cx="231.8" cy="381.4" rx="1.76" ry="1.49" fill="#c81810" fill-opacity="0.40" stroke="#c81810" stroke-width="1.1" stroke-opacity="0.8"/>
<ellipse cx="184.4" cy="432.9" rx="1.96" ry="1.67" fill="#c81810" fill-opacity="0.40" stroke="#c81810" stroke-width="1.1" stroke-opacity="0.8"/>
<ellipse cx="177.4" cy="389.2" rx="1.72" ry="1.46" fill="#c81810" fill-opacity="0.40" stroke="#c81810" stroke-width="1.1" stroke-opacity="0.8"/>
<ellipse cx="202.2" cy="383.0" rx="1.78" ry="1.52" fill="#c81810" fill-opacity="0.40" stroke="#c81810" stroke-width="1.1" stroke-opacity="0.8"/>
<ellipse cx="175.9" cy="474.6" rx="1.94" ry="1.65" fill="#c81810" fill-opacity="0.40" stroke="#c81810" stroke-width="1.1" stroke-opacity="0.8"/>
<ellipse cx="216.8" cy="470.1" rx="1.75" ry="1.49" fill="#c81810" fill-opacity="0.40" stroke="#c81810" stroke-width="1.1" stroke-opacity="0.8"/>
<ellipse cx="204.8" cy="388.0" rx="2.25" ry="1.91" fill="#c81810" fill-opacity="0.40" stroke="#c81810" stroke-width="1.1" stroke-opacity="0.8"/>
<ellipse cx="221.9" cy="398.0" rx="2.35" ry="2.00" fill="#c81810" fill-opacity="0.40" stroke="#c81810" stroke-width="1.1" stroke-opacity="0.8"/>
<ellipse cx="166.3" cy="458.5" rx="1.78" ry="1.51" fill="#c81810" fill-opacity="0.40" stroke="#c81810" stroke-width="1.1" stroke-opacity="0.8"/>
<ellipse cx="206.2" cy="507.7" rx="2.30" ry="1.95" fill="#c81810" fill-opacity="0.40" stroke="#c81810" stroke-width="1.1" stroke-opacity="0.8"/>
<ellipse cx="189.1" cy="491.0" rx="2.22" ry="1.89" fill="#c81810" fill-opacity="0.40" stroke="#c81810" stroke-width="1.1" stroke-opacity="0.8"/>
<ellipse cx="220.2" cy="479.9" rx="2.25" ry="1.91" fill="#c81810" fill-opacity="0.40" stroke="#c81810" stroke-width="1.1" stroke-opacity="0.8"/>
<ellipse cx="168.5" cy="382.4" rx="1.84" ry="1.56" fill="#c81810" fill-opacity="0.40" stroke="#c81810" stroke-width="1.1" stroke-opacity="0.8"/>
<ellipse cx="184.7" cy="413.0" rx="2.20" ry="1.87" fill="#c81810" fill-opacity="0.40" stroke="#c81810" stroke-width="1.1" stroke-opacity="0.8"/>
</g>
</g>
<text x="193.1" y="394.3" font-size="10.6" text-anchor="middle" fill="#fff" filter="url(#tsh)">mCherry</text>
<defs><linearGradient id="bg4" x1="0" x2="1" y1="0" y2="0"><stop offset="0" stop-color="#604418"/><stop offset="0.5" stop-color="#5c481a"/><stop offset="1" stop-color="#60461c"/></linearGradient>
<clipPath id="cp4"><rect x="242.5" y="381.1" width="70.6" height="166.3"/></clipPath></defs>
<g clip-path="url(#cp4)">
<rect x="242.5" y="381.1" width="70.6" height="166.3" fill="url(#bg4)"/>
<rect x="242.5" y="381.1" width="70.6" height="166.3" filter="url(#nzk)" opacity="0.35"/>
<rect x="242.5" y="381.1" width="70.6" height="166.3" filter="url(#nzkb)" opacity="0.25"/>
<g filter="url(#bl2)">
<ellipse cx="259.2" cy="398.3" rx="4.58" ry="3.21" fill="#6a5a20" opacity="0.6"/>
<ellipse cx="248.9" cy="384.4" rx="5.20" ry="3.64" fill="#3a3010" opacity="0.6"/>
<ellipse cx="299.0" cy="508.3" rx="3.89" ry="2.72" fill="#7a4018" opacity="0.6"/>
<ellipse cx="267.9" cy="510.8" rx="6.31" ry="4.42" fill="#3a3010" opacity="0.6"/>
<ellipse cx="257.6" cy="535.3" rx="6.32" ry="4.42" fill="#3a3010" opacity="0.6"/>
<ellipse cx="299.0" cy="413.3" rx="4.24" ry="2.97" fill="#7a4018" opacity="0.6"/>
<ellipse cx="303.7" cy="540.9" rx="6.39" ry="4.48" fill="#3a3010" opacity="0.6"/>
<ellipse cx="248.6" cy="481.9" rx="5.69" ry="3.98" fill="#7a4018" opacity="0.6"/>
<ellipse cx="260.1" cy="422.2" rx="4.12" ry="2.88" fill="#7a4018" opacity="0.6"/>
<ellipse cx="301.8" cy="382.3" rx="4.17" ry="2.92" fill="#7a4018" opacity="0.6"/>
<ellipse cx="304.8" cy="522.1" rx="5.03" ry="3.52" fill="#3a3010" opacity="0.6"/>
<ellipse cx="272.4" cy="429.0" rx="4.81" ry="3.36" fill="#6a5a20" opacity="0.6"/>
<ellipse cx="264.0" cy="516.2" rx="3.17" ry="2.22" fill="#6a5a20" opacity="0.6"/>
<ellipse cx="275.2" cy="547.0" rx="5.08" ry="3.55" fill="#7a4018" opacity="0.6"/>
<ellipse cx="275.8" cy="438.1" rx="6.99" ry="4.89" fill="#6a5a20" opacity="0.6"/>
<ellipse cx="247.2" cy="533.0" rx="5.54" ry="3.88" fill="#3a3010" opacity="0.6"/>
<ellipse cx="262.0" cy="440.3" rx="5.99" ry="4.19" fill="#3a3010" opacity="0.6"/>
<ellipse cx="287.3" cy="414.1" rx="4.29" ry="3.01" fill="#6a5a20" opacity="0.6"/>
<ellipse cx="292.5" cy="427.2" rx="5.33" ry="3.73" fill="#6a5a20" opacity="0.6"/>
<ellipse cx="251.1" cy="536.5" rx="4.16" ry="2.91" fill="#6a5a20" opacity="0.6"/>
<ellipse cx="245.5" cy="497.1" rx="6.58" ry="4.61" fill="#3a3010" opacity="0.6"/>
<ellipse cx="294.4" cy="540.7" rx="3.07" ry="2.15" fill="#3a3010" opacity="0.6"/>
<ellipse cx="265.2" cy="406.5" rx="5.61" ry="3.93" fill="#7a4018" opacity="0.6"/>
<ellipse cx="290.5" cy="394.0" rx="5.47" ry="3.83" fill="#3a3010" opacity="0.6"/>
<ellipse cx="263.1" cy="422.7" rx="5.40" ry="3.78" fill="#6a5a20" opacity="0.6"/>
<ellipse cx="265.9" cy="382.7" rx="3.18" ry="2.23" fill="#6a5a20" opacity="0.6"/>
<ellipse cx="268.3" cy="514.9" rx="6.99" ry="4.89" fill="#7a4018" opacity="0.6"/>
<ellipse cx="249.4" cy="544.4" rx="4.70" ry="3.29" fill="#6a5a20" opacity="0.6"/>
<ellipse cx="250.5" cy="391.4" rx="5.95" ry="4.16" fill="#7a4018" opacity="0.6"/>
<ellipse cx="290.3" cy="406.0" rx="3.16" ry="2.21" fill="#3a3010" opacity="0.6"/>
</g>
<g filter="url(#bl1)">
<ellipse cx="283.6" cy="434.6" rx="1.84" ry="1.56" fill="#a0c040" opacity="0.9"/>
<circle cx="283.6" cy="434.6" r="1.01" fill="#c0d050" opacity="0.9"/>
<ellipse cx="297.1" cy="449.2" rx="2.79" ry="2.37" fill="#a0c040" opacity="0.9"/>
<circle cx="297.1" cy="449.2" r="1.53" fill="#c0d050" opacity="0.9"/>
<ellipse cx="256.7" cy="454.1" rx="2.29" ry="1.95" fill="#c8c840" opacity="0.9"/>
<circle cx="256.7" cy="454.1" r="1.26" fill="#e0e060" opacity="0.9"/>
<ellipse cx="272.2" cy="422.4" rx="2.69" ry="2.29" fill="#c8c840" opacity="0.9"/>
<circle cx="272.2" cy="422.4" r="1.48" fill="#e0e060" opacity="0.9"/>
<ellipse cx="277.7" cy="386.4" rx="2.05" ry="1.75" fill="#c8c840" opacity="0.9"/>
<circle cx="277.7" cy="386.4" r="1.13" fill="#e0e060" opacity="0.9"/>
<ellipse cx="279.6" cy="509.5" rx="2.22" ry="1.88" fill="#a0c040" opacity="0.9"/>
<circle cx="279.6" cy="509.5" r="1.22" fill="#c0d050" opacity="0.9"/>
<ellipse cx="252.5" cy="389.6" rx="2.73" ry="2.32" fill="#c8c840" opacity="0.9"/>
<circle cx="252.5" cy="389.6" r="1.50" fill="#e0e060" opacity="0.9"/>
<ellipse cx="312.4" cy="448.1" rx="2.70" ry="2.30" fill="#c8c840" opacity="0.9"/>
<circle cx="312.4" cy="448.1" r="1.49" fill="#e0e060" opacity="0.9"/>
<ellipse cx="277.4" cy="396.6" rx="2.01" ry="1.71" fill="#c8c840" opacity="0.9"/>
<circle cx="277.4" cy="396.6" r="1.11" fill="#e0e060" opacity="0.9"/>
<ellipse cx="266.3" cy="490.3" rx="2.60" ry="2.21" fill="#a0c040" opacity="0.9"/>
<circle cx="266.3" cy="490.3" r="1.43" fill="#c0d050" opacity="0.9"/>
<ellipse cx="300.0" cy="468.9" rx="2.45" ry="2.09" fill="#a0c040" opacity="0.9"/>
<circle cx="300.0" cy="468.9" r="1.35" fill="#c0d050" opacity="0.9"/>
<ellipse cx="266.4" cy="446.3" rx="2.30" ry="1.95" fill="#a0c040" opacity="0.9"/>
<circle cx="266.4" cy="446.3" r="1.26" fill="#c0d050" opacity="0.9"/>
<ellipse cx="310.4" cy="492.2" rx="1.84" ry="1.57" fill="#c8c840" opacity="0.9"/>
<circle cx="310.4" cy="492.2" r="1.01" fill="#e0e060" opacity="0.9"/>
<ellipse cx="296.6" cy="425.9" rx="2.66" ry="2.26" fill="#c8c840" opacity="0.9"/>
<circle cx="296.6" cy="425.9" r="1.46" fill="#e0e060" opacity="0.9"/>
<ellipse cx="291.1" cy="458.4" rx="2.27" ry="1.93" fill="#a0c040" opacity="0.9"/>
<circle cx="291.1" cy="458.4" r="1.25" fill="#c0d050" opacity="0.9"/>
<ellipse cx="308.0" cy="417.4" rx="1.80" ry="1.53" fill="#c8c840" opacity="0.9"/>
<circle cx="308.0" cy="417.4" r="0.99" fill="#e0e060" opacity="0.9"/>
<ellipse cx="243.4" cy="526.8" rx="1.92" ry="1.63" fill="#a0c040" opacity="0.9"/>
<circle cx="243.4" cy="526.8" r="1.05" fill="#c0d050" opacity="0.9"/>
<ellipse cx="304.5" cy="472.7" rx="2.68" ry="2.28" fill="#c8c840" opacity="0.9"/>
<circle cx="304.5" cy="472.7" r="1.47" fill="#e0e060" opacity="0.9"/>
</g>
<g filter="url(#bl1)">
<ellipse cx="253.9" cy="482.3" rx="2.62" ry="2.23" fill="#e03080" opacity="0.95"/>
<circle cx="253.9" cy="482.3" r="1.44" fill="#f05090" opacity="0.95"/>
<ellipse cx="297.1" cy="459.5" rx="2.33" ry="1.98" fill="#f04060" opacity="0.95"/>
<circle cx="297.1" cy="459.5" r="1.28" fill="#ff70a0" opacity="0.95"/>
<ellipse cx="248.1" cy="496.7" rx="1.91" ry="1.63" fill="#e03080" opacity="0.95"/>
<circle cx="248.1" cy="496.7" r="1.05" fill="#f05090" opacity="0.95"/>
<ellipse cx="303.5" cy="482.2" rx="1.94" ry="1.65" fill="#ff50a0" opacity="0.95"/>
<circle cx="303.5" cy="482.2" r="1.07" fill="#ff90c0" opacity="0.95"/>
<ellipse cx="248.1" cy="527.3" rx="2.71" ry="2.30" fill="#ff50a0" opacity="0.95"/>
<circle cx="248.1" cy="527.3" r="1.49" fill="#ff90c0" opacity="0.95"/>
<ellipse cx="301.6" cy="518.7" rx="1.89" ry="1.60" fill="#e03080" opacity="0.95"/>
<circle cx="301.6" cy="518.7" r="1.04" fill="#f05090" opacity="0.95"/>
<ellipse cx="274.5" cy="415.3" rx="2.78" ry="2.36" fill="#ff50a0" opacity="0.95"/>
<circle cx="274.5" cy="415.3" r="1.53" fill="#ff90c0" opacity="0.95"/>
<ellipse cx="259.0" cy="462.0" rx="2.77" ry="2.35" fill="#f04060" opacity="0.95"/>
<circle cx="259.0" cy="462.0" r="1.52" fill="#ff70a0" opacity="0.95"/>
<ellipse cx="247.9" cy="533.4" rx="2.60" ry="2.21" fill="#ff50a0" opacity="0.95"/>
<circle cx="247.9" cy="533.4" r="1.43" fill="#ff90c0" opacity="0.95"/>
<ellipse cx="278.7" cy="453.3" rx="2.66" ry="2.26" fill="#ff50a0" opacity="0.95"/>
<circle cx="278.7" cy="453.3" r="1.46" fill="#ff90c0" opacity="0.95"/>
<ellipse cx="247.2" cy="527.7" rx="2.00" ry="1.70" fill="#ff50a0" opacity="0.95"/>
<circle cx="247.2" cy="527.7" r="1.10" fill="#ff90c0" opacity="0.95"/>
<ellipse cx="308.1" cy="460.7" rx="1.92" ry="1.63" fill="#e03080" opacity="0.95"/>
<circle cx="308.1" cy="460.7" r="1.05" fill="#f05090" opacity="0.95"/>
<ellipse cx="254.3" cy="526.5" rx="1.98" ry="1.68" fill="#f04060" opacity="0.95"/>
<circle cx="254.3" cy="526.5" r="1.09" fill="#ff70a0" opacity="0.95"/>
<ellipse cx="265.6" cy="524.1" rx="2.06" ry="1.75" fill="#f04060" opacity="0.95"/>
<circle cx="265.6" cy="524.1" r="1.13" fill="#ff70a0" opacity="0.95"/>
<ellipse cx="292.7" cy="382.0" rx="2.11" ry="1.80" fill="#e03080" opacity="0.95"/>
<circle cx="292.7" cy="382.0" r="1.16" fill="#f05090" opacity="0.95"/>
<ellipse cx="250.3" cy="511.8" rx="2.40" ry="2.04" fill="#e03080" opacity="0.95"/>
<circle cx="250.3" cy="511.8" r="1.32" fill="#f05090" opacity="0.95"/>
<ellipse cx="247.8" cy="421.9" rx="2.65" ry="2.25" fill="#ff50a0" opacity="0.95"/>
<circle cx="247.8" cy="421.9" r="1.46" fill="#ff90c0" opacity="0.95"/>
<ellipse cx="258.7" cy="411.1" rx="2.66" ry="2.26" fill="#f04060" opacity="0.95"/>
<circle cx="258.7" cy="411.1" r="1.47" fill="#ff70a0" opacity="0.95"/>
<ellipse cx="290.3" cy="482.5" rx="2.11" ry="1.80" fill="#ff50a0" opacity="0.95"/>
<circle cx="290.3" cy="482.5" r="1.16" fill="#ff90c0" opacity="0.95"/>
<ellipse cx="297.7" cy="475.6" rx="2.74" ry="2.33" fill="#e03080" opacity="0.95"/>
<circle cx="297.7" cy="475.6" r="1.51" fill="#f05090" opacity="0.95"/>
<ellipse cx="298.1" cy="483.0" rx="2.24" ry="1.91" fill="#f04060" opacity="0.95"/>
<circle cx="298.1" cy="483.0" r="1.23" fill="#ff70a0" opacity="0.95"/>
<ellipse cx="260.3" cy="480.4" rx="2.79" ry="2.37" fill="#ff50a0" opacity="0.95"/>
<circle cx="260.3" cy="480.4" r="1.53" fill="#ff90c0" opacity="0.95"/>
<ellipse cx="251.9" cy="394.8" rx="1.94" ry="1.65" fill="#e03080" opacity="0.95"/>
<circle cx="251.9" cy="394.8" r="1.07" fill="#f05090" opacity="0.95"/>
<ellipse cx="255.0" cy="531.1" rx="2.17" ry="1.85" fill="#e03080" opacity="0.95"/>
<circle cx="255.0" cy="531.1" r="1.19" fill="#f05090" opacity="0.95"/>
<ellipse cx="298.5" cy="493.3" rx="2.68" ry="2.28" fill="#f04060" opacity="0.95"/>
<circle cx="298.5" cy="493.3" r="1.48" fill="#ff70a0" opacity="0.95"/>
<ellipse cx="270.9" cy="536.8" rx="1.98" ry="1.68" fill="#e03080" opacity="0.95"/>
<circle cx="270.9" cy="536.8" r="1.09" fill="#f05090" opacity="0.95"/>
<ellipse cx="268.8" cy="410.1" rx="2.68" ry="2.28" fill="#e03080" opacity="0.95"/>
<circle cx="268.8" cy="410.1" r="1.48" fill="#f05090" opacity="0.95"/>
<ellipse cx="243.9" cy="539.0" rx="2.63" ry="2.24" fill="#ff50a0" opacity="0.95"/>
<circle cx="243.9" cy="539.0" r="1.45" fill="#ff90c0" opacity="0.95"/>
<ellipse cx="299.5" cy="539.6" rx="1.96" ry="1.66" fill="#e03080" opacity="0.95"/>
<circle cx="299.5" cy="539.6" r="1.08" fill="#f05090" opacity="0.95"/>
<ellipse cx="312.2" cy="491.0" rx="2.79" ry="2.37" fill="#f04060" opacity="0.95"/>
<circle cx="312.2" cy="491.0" r="1.54" fill="#ff70a0" opacity="0.95"/>
</g>
<g filter="url(#bl1)">
<ellipse cx="296.2" cy="542.2" rx="1.69" ry="1.44" fill="#60d0a0" opacity="0.9"/>
<ellipse cx="290.2" cy="505.0" rx="2.09" ry="1.78" fill="#60d0a0" opacity="0.9"/>
<ellipse cx="302.7" cy="495.5" rx="2.30" ry="1.96" fill="#40c0c0" opacity="0.9"/>
<ellipse cx="305.8" cy="498.1" rx="1.85" ry="1.57" fill="#40c0c0" opacity="0.9"/>
<ellipse cx="295.1" cy="470.4" rx="2.02" ry="1.72" fill="#60d0a0" opacity="0.9"/>
<ellipse cx="306.0" cy="447.7" rx="1.92" ry="1.63" fill="#60d0a0" opacity="0.9"/>
<ellipse cx="262.5" cy="449.5" rx="1.61" ry="1.37" fill="#40c0c0" opacity="0.9"/>
<ellipse cx="305.9" cy="457.4" rx="2.05" ry="1.74" fill="#60d0a0" opacity="0.9"/>
</g>
<g filter="url(#bl0)">
<circle cx="271.0" cy="445.7" r="0.82" fill="#2f3cf0" opacity="0.95"/>
<circle cx="274.8" cy="541.6" r="1.21" fill="#2830d8" opacity="0.95"/>
<circle cx="285.1" cy="433.0" r="0.86" fill="#2830d8" opacity="0.95"/>
<circle cx="276.6" cy="487.5" r="1.11" fill="#2f3cf0" opacity="0.95"/>
<circle cx="253.0" cy="420.7" r="0.99" fill="#2f3cf0" opacity="0.95"/>
<circle cx="254.0" cy="512.6" r="1.24" fill="#2830d8" opacity="0.95"/>
<circle cx="243.8" cy="421.9" r="1.29" fill="#3a48ff" opacity="0.95"/>
<circle cx="244.7" cy="433.7" r="0.88" fill="#2f3cf0" opacity="0.95"/>
<circle cx="304.5" cy="488.1" r="1.20" fill="#3a48ff" opacity="0.95"/>
<circle cx="294.1" cy="490.1" r="1.42" fill="#2f3cf0" opacity="0.95"/>
<circle cx="282.0" cy="496.5" r="1.27" fill="#3a48ff" opacity="0.95"/>
<circle cx="278.0" cy="406.7" r="1.35" fill="#4050ff" opacity="0.95"/>
<circle cx="278.3" cy="443.6" r="0.91" fill="#2830d8" opacity="0.95"/>
<circle cx="278.8" cy="470.5" r="1.00" fill="#4050ff" opacity="0.95"/>
<circle cx="265.7" cy="445.4" r="1.08" fill="#2f3cf0" opacity="0.95"/>
<circle cx="262.2" cy="493.6" r="1.00" fill="#3a48ff" opacity="0.95"/>
<circle cx="248.6" cy="400.4" r="1.20" fill="#2f3cf0" opacity="0.95"/>
<circle cx="258.9" cy="473.2" r="1.11" fill="#3a48ff" opacity="0.95"/>
<circle cx="305.0" cy="456.3" r="1.28" fill="#4050ff" opacity="0.95"/>
<circle cx="266.2" cy="409.8" r="1.14" fill="#3a48ff" opacity="0.95"/>
<circle cx="250.1" cy="484.1" r="1.39" fill="#2830d8" opacity="0.95"/>
<circle cx="308.2" cy="519.4" r="1.07" fill="#2f3cf0" opacity="0.95"/>
<circle cx="300.4" cy="416.4" r="1.18" fill="#2830d8" opacity="0.95"/>
<circle cx="297.9" cy="460.5" r="1.34" fill="#2f3cf0" opacity="0.95"/>
<circle cx="305.4" cy="529.6" r="1.37" fill="#2f3cf0" opacity="0.95"/>
<circle cx="285.2" cy="468.8" r="1.44" fill="#2830d8" opacity="0.95"/>
<circle cx="308.0" cy="410.6" r="0.83" fill="#3a48ff" opacity="0.95"/>
<circle cx="245.3" cy="493.5" r="1.02" fill="#3a48ff" opacity="0.95"/>
<circle cx="291.7" cy="400.5" r="1.44" fill="#2f3cf0" opacity="0.95"/>
<circle cx="247.5" cy="418.7" r="0.98" fill="#2f3cf0" opacity="0.95"/>
<circle cx="305.4" cy="543.0" r="0.81" fill="#3a48ff" opacity="0.95"/>
<circle cx="257.5" cy="422.5" r="1.28" fill="#2830d8" opacity="0.95"/>
<circle cx="300.1" cy="430.7" r="1.05" fill="#4050ff" opacity="0.95"/>
<circle cx="244.9" cy="449.7" r="1.43" fill="#2830d8" opacity="0.95"/>
<circle cx="282.0" cy="428.1" r="0.93" fill="#4050ff" opacity="0.95"/>
<circle cx="265.2" cy="416.8" r="1.11" fill="#4050ff" opacity="0.95"/>
<circle cx="308.3" cy="427.0" r="1.29" fill="#4050ff" opacity="0.95"/>
<circle cx="309.6" cy="535.4" r="1.07" fill="#3a48ff" opacity="0.95"/>
<circle cx="260.6" cy="466.1" r="0.82" fill="#2830d8" opacity="0.95"/>
<circle cx="285.5" cy="493.5" r="1.22" fill="#2830d8" opacity="0.95"/>
<circle cx="248.6" cy="545.1" r="0.91" fill="#2f3cf0" opacity="0.95"/>
<circle cx="292.0" cy="536.5" r="0.96" fill="#3a48ff" opacity="0.95"/>
<circle cx="305.4" cy="464.1" r="0.87" fill="#2830d8" opacity="0.95"/>
<circle cx="243.1" cy="475.9" r="0.93" fill="#2f3cf0" opacity="0.95"/>
<circle cx="259.7" cy="521.3" r="0.87" fill="#2830d8" opacity="0.95"/>
<circle cx="263.4" cy="475.4" r="1.23" fill="#2f3cf0" opacity="0.95"/>
<circle cx="289.2" cy="546.3" r="1.38" fill="#2f3cf0" opacity="0.95"/>
<circle cx="295.9" cy="514.3" r="1.24" fill="#2830d8" opacity="0.95"/>
<circle cx="245.0" cy="435.1" r="1.01" fill="#2830d8" opacity="0.95"/>
<circle cx="312.1" cy="408.1" r="1.29" fill="#2f3cf0" opacity="0.95"/>
<circle cx="310.0" cy="539.3" r="1.24" fill="#2f3cf0" opacity="0.95"/>
<circle cx="290.0" cy="424.7" r="1.40" fill="#4050ff" opacity="0.95"/>
<circle cx="249.9" cy="414.3" r="0.89" fill="#4050ff" opacity="0.95"/>
<circle cx="285.0" cy="463.6" r="1.01" fill="#4050ff" opacity="0.95"/>
<circle cx="295.0" cy="520.5" r="1.29" fill="#2f3cf0" opacity="0.95"/>
<circle cx="255.3" cy="440.7" r="0.99" fill="#2830d8" opacity="0.95"/>
<circle cx="283.0" cy="413.5" r="1.21" fill="#2830d8" opacity="0.95"/>
<circle cx="269.6" cy="470.2" r="0.87" fill="#3a48ff" opacity="0.95"/>
<circle cx="256.0" cy="439.0" r="1.44" fill="#3a48ff" opacity="0.95"/>
<circle cx="244.0" cy="400.7" r="0.99" fill="#2830d8" opacity="0.95"/>
<circle cx="308.8" cy="463.8" r="0.83" fill="#2830d8" opacity="0.95"/>
<circle cx="299.0" cy="514.5" r="0.91" fill="#4050ff" opacity="0.95"/>
<circle cx="286.1" cy="439.4" r="0.80" fill="#3a48ff" opacity="0.95"/>
<circle cx="274.1" cy="504.7" r="1.40" fill="#4050ff" opacity="0.95"/>
<circle cx="257.4" cy="436.1" r="1.19" fill="#2f3cf0" opacity="0.95"/>
<circle cx="305.7" cy="461.2" r="1.43" fill="#2f3cf0" opacity="0.95"/>
<circle cx="255.3" cy="483.4" r="1.19" fill="#2f3cf0" opacity="0.95"/>
<circle cx="293.7" cy="384.9" r="1.08" fill="#3a48ff" opacity="0.95"/>
<circle cx="286.4" cy="403.4" r="1.19" fill="#3a48ff" opacity="0.95"/>
<circle cx="273.2" cy="433.4" r="1.21" fill="#3a48ff" opacity="0.95"/>
<circle cx="294.0" cy="535.5" r="1.34" fill="#2830d8" opacity="0.95"/>
<circle cx="260.7" cy="436.8" r="1.15" fill="#3a48ff" opacity="0.95"/>
<circle cx="268.3" cy="524.6" r="0.93" fill="#4050ff" opacity="0.95"/>
<circle cx="301.0" cy="393.4" r="1.21" fill="#3a48ff" opacity="0.95"/>
<circle cx="312.2" cy="404.9" r="1.26" fill="#2f3cf0" opacity="0.95"/>
<circle cx="280.5" cy="438.7" r="1.41" fill="#2f3cf0" opacity="0.95"/>
<circle cx="297.9" cy="481.6" r="1.15" fill="#2830d8" opacity="0.95"/>
<circle cx="286.6" cy="430.2" r="1.37" fill="#2830d8" opacity="0.95"/>
<circle cx="257.3" cy="459.7" r="0.98" fill="#2f3cf0" opacity="0.95"/>
<circle cx="305.2" cy="429.0" r="1.07" fill="#2f3cf0" opacity="0.95"/>
<circle cx="267.0" cy="481.4" r="1.40" fill="#2830d8" opacity="0.95"/>
<circle cx="247.6" cy="453.2" r="0.85" fill="#4050ff" opacity="0.95"/>
<circle cx="298.2" cy="386.5" r="0.93" fill="#3a48ff" opacity="0.95"/>
<circle cx="300.3" cy="414.7" r="1.40" fill="#2f3cf0" opacity="0.95"/>
<circle cx="313.0" cy="382.9" r="0.80" fill="#2830d8" opacity="0.95"/>
<circle cx="279.2" cy="468.4" r="0.84" fill="#2830d8" opacity="0.95"/>
<circle cx="289.6" cy="485.9" r="1.13" fill="#2f3cf0" opacity="0.95"/>
<circle cx="291.2" cy="391.8" r="1.08" fill="#3a48ff" opacity="0.95"/>
<circle cx="305.4" cy="541.6" r="1.14" fill="#2830d8" opacity="0.95"/>
<circle cx="289.4" cy="403.2" r="1.18" fill="#2f3cf0" opacity="0.95"/>
<circle cx="285.0" cy="382.0" r="0.83" fill="#2830d8" opacity="0.95"/>
<circle cx="281.0" cy="451.8" r="1.00" fill="#2830d8" opacity="0.95"/>
<circle cx="310.5" cy="406.5" r="1.04" fill="#4050ff" opacity="0.95"/>
<circle cx="260.0" cy="485.0" r="0.91" fill="#4050ff" opacity="0.95"/>
<circle cx="313.0" cy="477.6" r="0.82" fill="#3a48ff" opacity="0.95"/>
<circle cx="261.0" cy="478.7" r="1.17" fill="#4050ff" opacity="0.95"/>
<circle cx="309.1" cy="408.0" r="0.90" fill="#2830d8" opacity="0.95"/>
<circle cx="302.5" cy="498.5" r="1.15" fill="#2830d8" opacity="0.95"/>
<circle cx="261.5" cy="524.2" r="0.91" fill="#2f3cf0" opacity="0.95"/>
<circle cx="303.5" cy="513.7" r="1.01" fill="#3a48ff" opacity="0.95"/>
<circle cx="255.0" cy="397.0" r="1.45" fill="#2f3cf0" opacity="0.95"/>
<circle cx="279.3" cy="388.8" r="1.41" fill="#3a48ff" opacity="0.95"/>
<circle cx="258.2" cy="421.9" r="1.43" fill="#4050ff" opacity="0.95"/>
<circle cx="269.8" cy="486.3" r="1.42" fill="#4050ff" opacity="0.95"/>
<circle cx="263.0" cy="395.9" r="1.31" fill="#2f3cf0" opacity="0.95"/>
<circle cx="255.5" cy="448.7" r="1.06" fill="#3a48ff" opacity="0.95"/>
<circle cx="273.2" cy="503.7" r="1.16" fill="#2830d8" opacity="0.95"/>
<circle cx="266.7" cy="439.2" r="1.24" fill="#2f3cf0" opacity="0.95"/>
<circle cx="267.0" cy="397.2" r="1.05" fill="#3a48ff" opacity="0.95"/>
<circle cx="277.1" cy="536.9" r="1.08" fill="#2f3cf0" opacity="0.95"/>
<circle cx="270.2" cy="395.5" r="1.05" fill="#3a48ff" opacity="0.95"/>
<circle cx="295.5" cy="396.4" r="0.87" fill="#3a48ff" opacity="0.95"/>
<circle cx="274.7" cy="503.8" r="1.29" fill="#4050ff" opacity="0.95"/>
<circle cx="264.9" cy="492.4" r="1.38" fill="#4050ff" opacity="0.95"/>
<circle cx="305.8" cy="502.2" r="1.32" fill="#2830d8" opacity="0.95"/>
<circle cx="304.7" cy="544.1" r="1.34" fill="#4050ff" opacity="0.95"/>
<circle cx="273.2" cy="500.4" r="1.37" fill="#3a48ff" opacity="0.95"/>
<circle cx="307.8" cy="428.4" r="1.02" fill="#2f3cf0" opacity="0.95"/>
<circle cx="279.2" cy="510.3" r="1.33" fill="#3a48ff" opacity="0.95"/>
<circle cx="285.9" cy="510.0" r="0.95" fill="#2830d8" opacity="0.95"/>
<circle cx="307.7" cy="454.2" r="1.15" fill="#2f3cf0" opacity="0.95"/>
<circle cx="277.4" cy="537.8" r="1.35" fill="#4050ff" opacity="0.95"/>
<circle cx="296.4" cy="459.2" r="1.28" fill="#2830d8" opacity="0.95"/>
<circle cx="256.4" cy="436.5" r="0.90" fill="#4050ff" opacity="0.95"/>
<circle cx="297.1" cy="512.7" r="1.43" fill="#4050ff" opacity="0.95"/>
<circle cx="294.9" cy="438.9" r="1.13" fill="#2f3cf0" opacity="0.95"/>
<circle cx="294.9" cy="492.3" r="0.97" fill="#3a48ff" opacity="0.95"/>
<circle cx="304.8" cy="470.2" r="1.35" fill="#4050ff" opacity="0.95"/>
<circle cx="310.0" cy="525.8" r="1.00" fill="#2f3cf0" opacity="0.95"/>
<circle cx="242.6" cy="419.8" r="1.02" fill="#2830d8" opacity="0.95"/>
<circle cx="300.2" cy="520.5" r="1.17" fill="#2830d8" opacity="0.95"/>
<circle cx="298.6" cy="492.2" r="0.82" fill="#2f3cf0" opacity="0.95"/>
<circle cx="293.4" cy="487.2" r="0.95" fill="#2f3cf0" opacity="0.95"/>
<circle cx="280.9" cy="408.2" r="0.93" fill="#3a48ff" opacity="0.95"/>
<circle cx="278.7" cy="412.8" r="1.42" fill="#4050ff" opacity="0.95"/>
<circle cx="265.6" cy="425.2" r="1.06" fill="#3a48ff" opacity="0.95"/>
<circle cx="292.5" cy="533.3" r="1.02" fill="#2f3cf0" opacity="0.95"/>
<circle cx="286.0" cy="425.0" r="0.84" fill="#2830d8" opacity="0.95"/>
<circle cx="306.1" cy="390.5" r="1.31" fill="#2f3cf0" opacity="0.95"/>
<circle cx="257.1" cy="422.4" r="1.12" fill="#4050ff" opacity="0.95"/>
<circle cx="268.4" cy="537.7" r="1.29" fill="#2f3cf0" opacity="0.95"/>
<circle cx="302.2" cy="501.7" r="1.34" fill="#4050ff" opacity="0.95"/>
<circle cx="278.7" cy="443.5" r="1.25" fill="#3a48ff" opacity="0.95"/>
<circle cx="252.7" cy="409.3" r="1.10" fill="#4050ff" opacity="0.95"/>
<circle cx="302.9" cy="442.0" r="1.17" fill="#3a48ff" opacity="0.95"/>
<circle cx="302.9" cy="422.7" r="1.17" fill="#2830d8" opacity="0.95"/>
<circle cx="270.6" cy="474.8" r="1.37" fill="#2830d8" opacity="0.95"/>
<circle cx="298.0" cy="498.3" r="0.88" fill="#3a48ff" opacity="0.95"/>
<circle cx="308.5" cy="541.1" r="1.25" fill="#4050ff" opacity="0.95"/>
<circle cx="289.2" cy="402.6" r="0.92" fill="#3a48ff" opacity="0.95"/>
<circle cx="282.2" cy="393.0" r="1.28" fill="#2830d8" opacity="0.95"/>
<circle cx="244.7" cy="465.2" r="1.24" fill="#2f3cf0" opacity="0.95"/>
<circle cx="262.2" cy="518.7" r="1.30" fill="#3a48ff" opacity="0.95"/>
<circle cx="250.7" cy="423.6" r="1.06" fill="#2830d8" opacity="0.95"/>
<circle cx="242.9" cy="447.4" r="1.19" fill="#3a48ff" opacity="0.95"/>
<circle cx="294.5" cy="481.1" r="1.27" fill="#3a48ff" opacity="0.95"/>
<circle cx="302.5" cy="462.7" r="0.96" fill="#3a48ff" opacity="0.95"/>
<circle cx="266.1" cy="386.4" r="0.94" fill="#4050ff" opacity="0.95"/>
<circle cx="309.0" cy="434.8" r="1.20" fill="#2830d8" opacity="0.95"/>
<circle cx="283.3" cy="452.6" r="1.28" fill="#2830d8" opacity="0.95"/>
<circle cx="265.7" cy="533.0" r="1.25" fill="#2f3cf0" opacity="0.95"/>
<circle cx="299.4" cy="461.7" r="0.97" fill="#2f3cf0" opacity="0.95"/>
<circle cx="292.6" cy="423.6" r="1.09" fill="#4050ff" opacity="0.95"/>
<circle cx="291.7" cy="457.1" r="0.97" fill="#2f3cf0" opacity="0.95"/>
<circle cx="285.0" cy="482.7" r="0.90" fill="#3a48ff" opacity="0.95"/>
<circle cx="290.2" cy="461.2" r="0.82" fill="#3a48ff" opacity="0.95"/>
<circle cx="286.8" cy="447.4" r="0.91" fill="#4050ff" opacity="0.95"/>
<circle cx="293.0" cy="457.3" r="1.05" fill="#2830d8" opacity="0.95"/>
<circle cx="273.3" cy="496.8" r="0.82" fill="#2f3cf0" opacity="0.95"/>
<circle cx="297.5" cy="472.9" r="1.29" fill="#2f3cf0" opacity="0.95"/>
<circle cx="280.0" cy="436.6" r="1.29" fill="#2f3cf0" opacity="0.95"/>
<circle cx="251.4" cy="389.7" r="1.27" fill="#4050ff" opacity="0.95"/>
<circle cx="299.0" cy="422.5" r="1.08" fill="#4050ff" opacity="0.95"/>
<circle cx="283.2" cy="445.7" r="0.88" fill="#4050ff" opacity="0.95"/>
<circle cx="271.2" cy="422.8" r="0.91" fill="#4050ff" opacity="0.95"/>
<circle cx="279.9" cy="442.2" r="1.17" fill="#3a48ff" opacity="0.95"/>
<circle cx="253.0" cy="484.8" r="1.13" fill="#3a48ff" opacity="0.95"/>
<circle cx="246.9" cy="492.8" r="1.34" fill="#2f3cf0" opacity="0.95"/>
<circle cx="306.4" cy="499.5" r="1.21" fill="#3a48ff" opacity="0.95"/>
<circle cx="311.6" cy="381.6" r="1.06" fill="#4050ff" opacity="0.95"/>
<circle cx="254.3" cy="519.4" r="1.41" fill="#2f3cf0" opacity="0.95"/>
<circle cx="252.1" cy="448.9" r="1.32" fill="#2830d8" opacity="0.95"/>
<circle cx="281.7" cy="534.3" r="1.33" fill="#2f3cf0" opacity="0.95"/>
<circle cx="287.3" cy="424.2" r="1.28" fill="#4050ff" opacity="0.95"/>
<circle cx="254.6" cy="384.8" r="1.02" fill="#2830d8" opacity="0.95"/>
<circle cx="260.9" cy="438.0" r="1.17" fill="#3a48ff" opacity="0.95"/>
<circle cx="272.7" cy="425.2" r="0.87" fill="#2f3cf0" opacity="0.95"/>
<circle cx="249.5" cy="524.2" r="0.98" fill="#2f3cf0" opacity="0.95"/>
<circle cx="311.2" cy="453.8" r="1.10" fill="#4050ff" opacity="0.95"/>
<circle cx="283.2" cy="537.5" r="1.24" fill="#4050ff" opacity="0.95"/>
<circle cx="278.8" cy="428.6" r="1.03" fill="#2830d8" opacity="0.95"/>
<circle cx="290.4" cy="392.8" r="1.25" fill="#3a48ff" opacity="0.95"/>
<circle cx="263.4" cy="491.8" r="1.25" fill="#4050ff" opacity="0.95"/>
<circle cx="260.9" cy="459.0" r="1.14" fill="#2f3cf0" opacity="0.95"/>
<circle cx="265.5" cy="484.4" r="1.04" fill="#2830d8" opacity="0.95"/>
<circle cx="252.5" cy="419.9" r="1.04" fill="#2f3cf0" opacity="0.95"/>
<circle cx="312.4" cy="537.8" r="1.07" fill="#4050ff" opacity="0.95"/>
<circle cx="262.9" cy="450.3" r="0.91" fill="#4050ff" opacity="0.95"/>
<circle cx="258.2" cy="446.1" r="0.98" fill="#2830d8" opacity="0.95"/>
<circle cx="295.4" cy="528.7" r="0.97" fill="#3a48ff" opacity="0.95"/>
<circle cx="256.7" cy="397.9" r="1.12" fill="#3a48ff" opacity="0.95"/>
<circle cx="246.9" cy="541.1" r="0.81" fill="#2830d8" opacity="0.95"/>
<circle cx="270.6" cy="442.1" r="1.41" fill="#2f3cf0" opacity="0.95"/>
<circle cx="284.5" cy="391.3" r="1.04" fill="#2830d8" opacity="0.95"/>
<circle cx="295.3" cy="395.4" r="1.13" fill="#2f3cf0" opacity="0.95"/>
<circle cx="281.8" cy="458.6" r="1.09" fill="#4050ff" opacity="0.95"/>
<circle cx="255.6" cy="505.3" r="1.01" fill="#3a48ff" opacity="0.95"/>
<circle cx="301.5" cy="541.0" r="1.10" fill="#3a48ff" opacity="0.95"/>
<circle cx="308.3" cy="418.7" r="1.45" fill="#4050ff" opacity="0.95"/>
<circle cx="255.9" cy="448.9" r="1.16" fill="#2830d8" opacity="0.95"/>
<circle cx="253.7" cy="471.4" r="0.96" fill="#2830d8" opacity="0.95"/>
<circle cx="253.4" cy="491.3" r="1.39" fill="#4050ff" opacity="0.95"/>
<circle cx="307.6" cy="518.1" r="1.36" fill="#2f3cf0" opacity="0.95"/>
<circle cx="266.8" cy="546.9" r="0.91" fill="#2f3cf0" opacity="0.95"/>
<circle cx="293.9" cy="502.7" r="0.93" fill="#3a48ff" opacity="0.95"/>
<circle cx="285.5" cy="469.4" r="1.25" fill="#2830d8" opacity="0.95"/>
<circle cx="249.0" cy="403.8" r="0.89" fill="#2f3cf0" opacity="0.95"/>
<circle cx="255.0" cy="424.9" r="1.38" fill="#2f3cf0" opacity="0.95"/>
<circle cx="290.7" cy="437.5" r="1.22" fill="#4050ff" opacity="0.95"/>
<circle cx="275.9" cy="504.4" r="0.87" fill="#2830d8" opacity="0.95"/>
<circle cx="311.8" cy="480.1" r="1.42" fill="#2830d8" opacity="0.95"/>
<circle cx="246.6" cy="381.9" r="1.44" fill="#2830d8" opacity="0.95"/>
<circle cx="298.4" cy="520.5" r="1.03" fill="#2830d8" opacity="0.95"/>
<circle cx="288.2" cy="391.1" r="1.15" fill="#4050ff" opacity="0.95"/>
<circle cx="298.0" cy="392.3" r="1.07" fill="#4050ff" opacity="0.95"/>
<circle cx="281.7" cy="521.8" r="1.12" fill="#2f3cf0" opacity="0.95"/>
<circle cx="279.1" cy="493.2" r="1.18" fill="#4050ff" opacity="0.95"/>
<circle cx="283.3" cy="546.8" r="1.19" fill="#4050ff" opacity="0.95"/>
<circle cx="292.8" cy="426.3" r="1.44" fill="#3a48ff" opacity="0.95"/>
<circle cx="280.5" cy="523.4" r="0.87" fill="#3a48ff" opacity="0.95"/>
<circle cx="294.2" cy="424.7" r="0.96" fill="#4050ff" opacity="0.95"/>
<circle cx="250.8" cy="524.9" r="1.24" fill="#2f3cf0" opacity="0.95"/>
<circle cx="294.0" cy="528.6" r="1.06" fill="#2f3cf0" opacity="0.95"/>
<circle cx="258.7" cy="419.4" r="1.16" fill="#3a48ff" opacity="0.95"/>
<circle cx="295.4" cy="409.3" r="0.84" fill="#3a48ff" opacity="0.95"/>
<circle cx="295.8" cy="425.0" r="0.99" fill="#2f3cf0" opacity="0.95"/>
<circle cx="272.5" cy="544.9" r="1.36" fill="#4050ff" opacity="0.95"/>
<circle cx="311.4" cy="416.5" r="1.05" fill="#4050ff" opacity="0.95"/>
<circle cx="286.9" cy="511.9" r="1.11" fill="#2830d8" opacity="0.95"/>
<circle cx="263.5" cy="440.2" r="0.93" fill="#3a48ff" opacity="0.95"/>
</g>
</g>
<text x="269.0" y="394.3" font-size="10.6" text-anchor="middle" fill="#fff" filter="url(#tsh)">Merged</text>
<text x="281.4" y="533" font-size="11.2" text-anchor="middle" fill="#fff" filter="url(#tsh)">ACx</text>
<line x1="248" y1="542.5" x2="254.6" y2="542.5" stroke="#ddd" stroke-width="1.3"/>
<defs><linearGradient id="bg5" x1="0" x2="1" y1="0" y2="0"><stop offset="0" stop-color="#1a4812"/><stop offset="0.5" stop-color="#1c4a14"/><stop offset="1" stop-color="#163c10"/></linearGradient>
<clipPath id="cp5"><rect x="316.1" y="381.1" width="71.0" height="166.3"/></clipPath></defs>
<g clip-path="url(#cp5)">
<rect x="316.1" y="381.1" width="71.0" height="166.3" fill="url(#bg5)"/>
<rect x="316.1" y="381.1" width="71.0" height="166.3" filter="url(#nzk)" opacity="0.35"/>
<rect x="316.1" y="381.1" width="71.0" height="166.3" filter="url(#nzkb)" opacity="0.25"/>
<g filter="url(#bl2)">
<ellipse cx="360.3" cy="504.5" rx="6.18" ry="4.33" fill="#24561a" opacity="0.6"/>
<ellipse cx="375.8" cy="510.1" rx="4.00" ry="2.80" fill="#24561a" opacity="0.6"/>
<ellipse cx="380.1" cy="399.9" rx="4.88" ry="3.41" fill="#24561a" opacity="0.6"/>
<ellipse cx="343.1" cy="398.1" rx="4.00" ry="2.80" fill="#24561a" opacity="0.6"/>
<ellipse cx="345.1" cy="411.4" rx="6.47" ry="4.53" fill="#0c2a08" opacity="0.6"/>
<ellipse cx="327.4" cy="513.7" rx="3.56" ry="2.49" fill="#0c2a08" opacity="0.6"/>
<ellipse cx="325.1" cy="381.4" rx="6.49" ry="4.54" fill="#24561a" opacity="0.6"/>
<ellipse cx="371.0" cy="540.8" rx="3.66" ry="2.56" fill="#24561a" opacity="0.6"/>
<ellipse cx="336.6" cy="541.0" rx="5.16" ry="3.61" fill="#24561a" opacity="0.6"/>
<ellipse cx="329.0" cy="542.2" rx="3.79" ry="2.65" fill="#0c2a08" opacity="0.6"/>
<ellipse cx="337.3" cy="441.2" rx="3.66" ry="2.56" fill="#24561a" opacity="0.6"/>
<ellipse cx="334.8" cy="436.3" rx="6.27" ry="4.39" fill="#24561a" opacity="0.6"/>
<ellipse cx="358.4" cy="498.8" rx="3.26" ry="2.28" fill="#0c2a08" opacity="0.6"/>
<ellipse cx="374.2" cy="461.0" rx="4.26" ry="2.98" fill="#0c2a08" opacity="0.6"/>
<ellipse cx="349.7" cy="410.4" rx="4.02" ry="2.82" fill="#24561a" opacity="0.6"/>
<ellipse cx="383.5" cy="440.6" rx="4.62" ry="3.23" fill="#0c2a08" opacity="0.6"/>
<ellipse cx="342.1" cy="477.3" rx="3.04" ry="2.13" fill="#24561a" opacity="0.6"/>
<ellipse cx="366.4" cy="484.8" rx="6.82" ry="4.77" fill="#24561a" opacity="0.6"/>
<ellipse cx="369.8" cy="535.7" rx="6.77" ry="4.74" fill="#0c2a08" opacity="0.6"/>
<ellipse cx="352.5" cy="529.6" rx="4.00" ry="2.80" fill="#0c2a08" opacity="0.6"/>
<ellipse cx="323.8" cy="505.6" rx="6.19" ry="4.33" fill="#0c2a08" opacity="0.6"/>
<ellipse cx="318.7" cy="538.4" rx="3.36" ry="2.36" fill="#0c2a08" opacity="0.6"/>
<ellipse cx="352.5" cy="441.4" rx="3.59" ry="2.51" fill="#0c2a08" opacity="0.6"/>
<ellipse cx="381.7" cy="471.8" rx="4.25" ry="2.97" fill="#0c2a08" opacity="0.6"/>
<ellipse cx="337.8" cy="513.9" rx="5.51" ry="3.86" fill="#0c2a08" opacity="0.6"/>
<ellipse cx="386.9" cy="408.0" rx="3.19" ry="2.24" fill="#0c2a08" opacity="0.6"/>
<ellipse cx="318.4" cy="504.3" rx="4.38" ry="3.06" fill="#0c2a08" opacity="0.6"/>
<ellipse cx="348.5" cy="451.2" rx="3.22" ry="2.26" fill="#24561a" opacity="0.6"/>
<ellipse cx="373.0" cy="436.7" rx="3.83" ry="2.68" fill="#24561a" opacity="0.6"/>
<ellipse cx="360.9" cy="512.1" rx="3.43" ry="2.40" fill="#0c2a08" opacity="0.6"/>
</g>
<g filter="url(#bl0)">
<rect x="342.6" y="390.9" width="1.0" height="1.0" fill="#0a0a04" opacity="0.8"/>
<rect x="348.3" y="547.3" width="1.2" height="1.2" fill="#000000" opacity="0.8"/>
<rect x="384.3" y="495.7" width="1.0" height="1.0" fill="#000000" opacity="0.8"/>
<rect x="336.8" y="448.3" width="0.9" height="0.9" fill="#000000" opacity="0.8"/>
<rect x="374.5" y="469.5" width="0.9" height="0.9" fill="#000000" opacity="0.8"/>
<rect x="377.7" y="411.1" width="1.0" height="1.0" fill="#000000" opacity="0.8"/>
<rect x="320.6" y="513.3" width="1.0" height="1.0" fill="#0a0a04" opacity="0.8"/>
<rect x="370.0" y="441.5" width="1.2" height="1.2" fill="#000000" opacity="0.8"/>
<rect x="375.4" y="425.1" width="1.3" height="1.3" fill="#000000" opacity="0.8"/>
<rect x="384.0" y="437.7" width="0.9" height="0.9" fill="#0a0a04" opacity="0.8"/>
<rect x="349.8" y="509.8" width="1.0" height="1.0" fill="#000000" opacity="0.8"/>
<rect x="349.0" y="516.9" width="1.1" height="1.1" fill="#000000" opacity="0.8"/>
<rect x="340.8" y="488.2" width="1.2" height="1.2" fill="#000000" opacity="0.8"/>
<rect x="341.0" y="521.3" width="1.2" height="1.2" fill="#000000" opacity="0.8"/>
<rect x="385.4" y="540.2" width="1.1" height="1.1" fill="#0a0a04" opacity="0.8"/>
<rect x="330.2" y="441.3" width="1.2" height="1.2" fill="#000000" opacity="0.8"/>
<rect x="365.2" y="500.8" width="1.2" height="1.2" fill="#0a0a04" opacity="0.8"/>
<rect x="359.9" y="536.8" width="1.1" height="1.1" fill="#000000" opacity="0.8"/>
<rect x="337.6" y="473.1" width="1.2" height="1.2" fill="#000000" opacity="0.8"/>
<rect x="367.2" y="385.7" width="0.9" height="0.9" fill="#000000" opacity="0.8"/>
<rect x="360.4" y="411.2" width="1.2" height="1.2" fill="#0a0a04" opacity="0.8"/>
<rect x="360.9" y="388.1" width="1.0" height="1.0" fill="#0a0a04" opacity="0.8"/>
<rect x="327.9" y="529.4" width="0.9" height="0.9" fill="#0a0a04" opacity="0.8"/>
<rect x="350.4" y="472.3" width="1.0" height="1.0" fill="#000000" opacity="0.8"/>
<rect x="343.1" y="482.8" width="1.1" height="1.1" fill="#0a0a04" opacity="0.8"/>
<rect x="367.1" y="443.3" width="1.0" height="1.0" fill="#000000" opacity="0.8"/>
<rect x="376.9" y="525.2" width="1.1" height="1.1" fill="#000000" opacity="0.8"/>
<rect x="384.6" y="472.6" width="1.0" height="1.0" fill="#000000" opacity="0.8"/>
<rect x="354.8" y="437.5" width="1.1" height="1.1" fill="#000000" opacity="0.8"/>
<rect x="374.2" y="450.8" width="1.2" height="1.2" fill="#000000" opacity="0.8"/>
<rect x="349.3" y="407.2" width="1.0" height="1.0" fill="#000000" opacity="0.8"/>
<rect x="384.1" y="542.1" width="1.1" height="1.1" fill="#000000" opacity="0.8"/>
<rect x="374.4" y="491.1" width="1.0" height="1.0" fill="#000000" opacity="0.8"/>
<rect x="356.3" y="483.4" width="0.9" height="0.9" fill="#000000" opacity="0.8"/>
<rect x="346.6" y="543.5" width="1.0" height="1.0" fill="#000000" opacity="0.8"/>
<rect x="385.1" y="444.3" width="1.3" height="1.3" fill="#0a0a04" opacity="0.8"/>
<rect x="358.4" y="424.3" width="1.3" height="1.3" fill="#000000" opacity="0.8"/>
<rect x="333.9" y="384.4" width="1.3" height="1.3" fill="#000000" opacity="0.8"/>
<rect x="351.0" y="428.7" width="1.0" height="1.0" fill="#0a0a04" opacity="0.8"/>
<rect x="363.0" y="540.9" width="0.9" height="0.9" fill="#0a0a04" opacity="0.8"/>
<rect x="371.6" y="518.6" width="0.8" height="0.8" fill="#000000" opacity="0.8"/>
<rect x="333.4" y="460.0" width="0.8" height="0.8" fill="#000000" opacity="0.8"/>
<rect x="335.1" y="406.8" width="1.3" height="1.3" fill="#000000" opacity="0.8"/>
<rect x="351.1" y="546.1" width="1.1" height="1.1" fill="#0a0a04" opacity="0.8"/>
<rect x="317.2" y="402.1" width="0.9" height="0.9" fill="#000000" opacity="0.8"/>
<rect x="359.7" y="502.7" width="0.8" height="0.8" fill="#000000" opacity="0.8"/>
<rect x="341.7" y="505.0" width="1.1" height="1.1" fill="#0a0a04" opacity="0.8"/>
<rect x="316.3" y="473.1" width="1.1" height="1.1" fill="#0a0a04" opacity="0.8"/>
<rect x="379.1" y="471.8" width="0.8" height="0.8" fill="#000000" opacity="0.8"/>
<rect x="358.3" y="495.7" width="1.3" height="1.3" fill="#000000" opacity="0.8"/>
<rect x="377.1" y="521.0" width="1.0" height="1.0" fill="#0a0a04" opacity="0.8"/>
<rect x="379.9" y="458.4" width="1.2" height="1.2" fill="#000000" opacity="0.8"/>
<rect x="375.5" y="496.6" width="1.0" height="1.0" fill="#000000" opacity="0.8"/>
<rect x="362.1" y="459.7" width="1.0" height="1.0" fill="#0a0a04" opacity="0.8"/>
<rect x="350.1" y="472.4" width="1.0" height="1.0" fill="#000000" opacity="0.8"/>
<rect x="354.3" y="451.9" width="1.1" height="1.1" fill="#0a0a04" opacity="0.8"/>
<rect x="321.0" y="419.4" width="1.2" height="1.2" fill="#0a0a04" opacity="0.8"/>
<rect x="363.2" y="385.3" width="1.2" height="1.2" fill="#0a0a04" opacity="0.8"/>
<rect x="387.0" y="497.7" width="0.8" height="0.8" fill="#0a0a04" opacity="0.8"/>
<rect x="331.7" y="488.5" width="1.3" height="1.3" fill="#0a0a04" opacity="0.8"/>
</g>
<g filter="url(#bl1)">
<ellipse cx="386.7" cy="498.5" rx="2.04" ry="1.73" fill="#48b040" fill-opacity="0.38" stroke="#48b040" stroke-width="1.1" stroke-opacity="0.75"/>
<ellipse cx="359.5" cy="449.9" rx="1.76" ry="1.50" fill="#48b040" fill-opacity="0.38" stroke="#48b040" stroke-width="1.1" stroke-opacity="0.75"/>
<ellipse cx="319.2" cy="399.1" rx="1.98" ry="1.68" fill="#48b040" fill-opacity="0.38" stroke="#48b040" stroke-width="1.1" stroke-opacity="0.75"/>
<ellipse cx="336.0" cy="476.1" rx="1.72" ry="1.46" fill="#58c048" fill-opacity="0.38" stroke="#58c048" stroke-width="1.1" stroke-opacity="0.75"/>
<ellipse cx="378.5" cy="403.4" rx="2.03" ry="1.73" fill="#58c048" fill-opacity="0.38" stroke="#58c048" stroke-width="1.1" stroke-opacity="0.75"/>
<ellipse cx="364.8" cy="462.5" rx="1.95" ry="1.66" fill="#58c048" fill-opacity="0.38" stroke="#58c048" stroke-width="1.1" stroke-opacity="0.75"/>
<ellipse cx="381.1" cy="404.1" rx="1.89" ry="1.61" fill="#58c048" fill-opacity="0.38" stroke="#58c048" stroke-width="1.1" stroke-opacity="0.75"/>
<ellipse cx="380.7" cy="473.4" rx="2.22" ry="1.89" fill="#58c048" fill-opacity="0.38" stroke="#58c048" stroke-width="1.1" stroke-opacity="0.75"/>
<ellipse cx="320.6" cy="420.3" rx="2.43" ry="2.07" fill="#58c048" fill-opacity="0.38" stroke="#58c048" stroke-width="1.1" stroke-opacity="0.75"/>
<ellipse cx="352.8" cy="403.3" rx="1.83" ry="1.56" fill="#58c048" fill-opacity="0.38" stroke="#58c048" stroke-width="1.1" stroke-opacity="0.75"/>
<ellipse cx="348.3" cy="445.8" rx="1.73" ry="1.47" fill="#48b040" fill-opacity="0.38" stroke="#48b040" stroke-width="1.1" stroke-opacity="0.75"/>
<ellipse cx="362.6" cy="395.3" rx="2.27" ry="1.93" fill="#48b040" fill-opacity="0.38" stroke="#48b040" stroke-width="1.1" stroke-opacity="0.75"/>
<ellipse cx="377.4" cy="465.3" rx="2.05" ry="1.75" fill="#58c048" fill-opacity="0.38" stroke="#58c048" stroke-width="1.1" stroke-opacity="0.75"/>
<ellipse cx="378.4" cy="461.0" rx="1.92" ry="1.63" fill="#48b040" fill-opacity="0.38" stroke="#48b040" stroke-width="1.1" stroke-opacity="0.75"/>
<ellipse cx="354.6" cy="445.1" rx="2.45" ry="2.08" fill="#58c048" fill-opacity="0.38" stroke="#58c048" stroke-width="1.1" stroke-opacity="0.75"/>
<ellipse cx="364.5" cy="418.2" rx="1.72" ry="1.46" fill="#58c048" fill-opacity="0.38" stroke="#58c048" stroke-width="1.1" stroke-opacity="0.75"/>
<ellipse cx="374.4" cy="404.3" rx="2.22" ry="1.89" fill="#58c048" fill-opacity="0.38" stroke="#58c048" stroke-width="1.1" stroke-opacity="0.75"/>
<ellipse cx="375.4" cy="429.3" rx="2.53" ry="2.15" fill="#58c048" fill-opacity="0.38" stroke="#58c048" stroke-width="1.1" stroke-opacity="0.75"/>
<ellipse cx="372.6" cy="444.0" rx="2.32" ry="1.97" fill="#58c048" fill-opacity="0.38" stroke="#58c048" stroke-width="1.1" stroke-opacity="0.75"/>
<ellipse cx="362.1" cy="514.9" rx="2.03" ry="1.73" fill="#58c048" fill-opacity="0.38" stroke="#58c048" stroke-width="1.1" stroke-opacity="0.75"/>
<ellipse cx="352.8" cy="479.7" rx="2.17" ry="1.85" fill="#48b040" fill-opacity="0.38" stroke="#48b040" stroke-width="1.1" stroke-opacity="0.75"/>
<ellipse cx="344.2" cy="397.2" rx="1.63" ry="1.39" fill="#48b040" fill-opacity="0.38" stroke="#48b040" stroke-width="1.1" stroke-opacity="0.75"/>
<ellipse cx="330.0" cy="462.6" rx="2.54" ry="2.16" fill="#58c048" fill-opacity="0.38" stroke="#58c048" stroke-width="1.1" stroke-opacity="0.75"/>
<ellipse cx="316.1" cy="459.3" rx="2.49" ry="2.12" fill="#58c048" fill-opacity="0.38" stroke="#58c048" stroke-width="1.1" stroke-opacity="0.75"/>
<ellipse cx="339.1" cy="457.9" rx="1.79" ry="1.52" fill="#48b040" fill-opacity="0.38" stroke="#48b040" stroke-width="1.1" stroke-opacity="0.75"/>
</g>
</g>
<text x="352.8" y="394.3" font-size="10.6" text-anchor="middle" fill="#fff" filter="url(#tsh)">GPR173</text>
<defs><linearGradient id="bg6" x1="0" x2="1" y1="0" y2="0"><stop offset="0" stop-color="#7a0e0a"/><stop offset="0.5" stop-color="#8a120e"/><stop offset="1" stop-color="#7e100c"/></linearGradient>
<clipPath id="cp6"><rect x="389.7" y="381.1" width="70.8" height="166.3"/></clipPath></defs>
<g clip-path="url(#cp6)">
<rect x="389.7" y="381.1" width="70.8" height="166.3" fill="url(#bg6)"/>
<rect x="389.7" y="381.1" width="70.8" height="166.3" filter="url(#nzk)" opacity="0.35"/>
<rect x="389.7" y="381.1" width="70.8" height="166.3" filter="url(#nzkb)" opacity="0.25"/>
<g filter="url(#bl2)">
<ellipse cx="445.9" cy="517.8" rx="4.94" ry="3.46" fill="#400604" opacity="0.6"/>
<ellipse cx="392.3" cy="405.3" rx="5.35" ry="3.74" fill="#400604" opacity="0.6"/>
<ellipse cx="412.3" cy="384.7" rx="4.96" ry="3.47" fill="#a01610" opacity="0.6"/>
<ellipse cx="441.4" cy="449.9" rx="5.15" ry="3.61" fill="#a01610" opacity="0.6"/>
<ellipse cx="403.4" cy="473.2" rx="6.22" ry="4.35" fill="#400604" opacity="0.6"/>
<ellipse cx="436.6" cy="482.6" rx="3.35" ry="2.35" fill="#400604" opacity="0.6"/>
<ellipse cx="413.5" cy="396.6" rx="6.20" ry="4.34" fill="#400604" opacity="0.6"/>
<ellipse cx="421.2" cy="396.7" rx="3.79" ry="2.65" fill="#400604" opacity="0.6"/>
<ellipse cx="396.6" cy="388.7" rx="6.61" ry="4.63" fill="#400604" opacity="0.6"/>
<ellipse cx="424.2" cy="519.6" rx="3.77" ry="2.64" fill="#a01610" opacity="0.6"/>
<ellipse cx="434.6" cy="421.8" rx="4.72" ry="3.30" fill="#400604" opacity="0.6"/>
<ellipse cx="431.4" cy="396.0" rx="6.52" ry="4.56" fill="#a01610" opacity="0.6"/>
<ellipse cx="398.0" cy="491.3" rx="4.25" ry="2.97" fill="#a01610" opacity="0.6"/>
<ellipse cx="416.6" cy="418.1" rx="5.39" ry="3.77" fill="#a01610" opacity="0.6"/>
<ellipse cx="403.1" cy="409.2" rx="5.59" ry="3.91" fill="#400604" opacity="0.6"/>
<ellipse cx="416.2" cy="468.8" rx="4.16" ry="2.91" fill="#400604" opacity="0.6"/>
<ellipse cx="393.5" cy="451.4" rx="5.99" ry="4.19" fill="#400604" opacity="0.6"/>
<ellipse cx="396.5" cy="454.5" rx="6.22" ry="4.36" fill="#a01610" opacity="0.6"/>
<ellipse cx="452.9" cy="492.6" rx="6.56" ry="4.59" fill="#400604" opacity="0.6"/>
<ellipse cx="445.2" cy="444.3" rx="3.31" ry="2.31" fill="#400604" opacity="0.6"/>
<ellipse cx="423.0" cy="498.5" rx="4.64" ry="3.25" fill="#a01610" opacity="0.6"/>
<ellipse cx="403.3" cy="494.2" rx="4.81" ry="3.36" fill="#a01610" opacity="0.6"/>
<ellipse cx="391.0" cy="470.6" rx="4.00" ry="2.80" fill="#400604" opacity="0.6"/>
<ellipse cx="403.0" cy="464.7" rx="4.32" ry="3.02" fill="#400604" opacity="0.6"/>
<ellipse cx="459.2" cy="535.2" rx="4.69" ry="3.28" fill="#400604" opacity="0.6"/>
<ellipse cx="408.7" cy="460.0" rx="4.91" ry="3.44" fill="#a01610" opacity="0.6"/>
<ellipse cx="440.8" cy="463.7" rx="5.54" ry="3.88" fill="#400604" opacity="0.6"/>
<ellipse cx="412.6" cy="490.7" rx="6.88" ry="4.82" fill="#400604" opacity="0.6"/>
<ellipse cx="438.9" cy="425.3" rx="5.58" ry="3.91" fill="#400604" opacity="0.6"/>
<ellipse cx="441.3" cy="407.4" rx="6.31" ry="4.42" fill="#a01610" opacity="0.6"/>
</g>
<g filter="url(#bl0)">
<rect x="433.9" y="541.5" width="0.9" height="0.9" fill="#1a0000" opacity="0.8"/>
<rect x="438.0" y="442.8" width="1.4" height="1.4" fill="#000000" opacity="0.8"/>
<rect x="450.1" y="391.5" width="0.9" height="0.9" fill="#000000" opacity="0.8"/>
<rect x="433.1" y="451.3" width="1.3" height="1.3" fill="#000000" opacity="0.8"/>
<rect x="395.1" y="419.7" width="1.0" height="1.0" fill="#1a0000" opacity="0.8"/>
<rect x="437.9" y="421.6" width="1.0" height="1.0" fill="#1a0000" opacity="0.8"/>
<rect x="434.2" y="397.3" width="0.9" height="0.9" fill="#000000" opacity="0.8"/>
<rect x="422.5" y="530.7" width="1.2" height="1.2" fill="#1a0000" opacity="0.8"/>
<rect x="433.4" y="534.8" width="0.9" height="0.9" fill="#000000" opacity="0.8"/>
<rect x="454.0" y="529.7" width="1.1" height="1.1" fill="#1a0000" opacity="0.8"/>
<rect x="445.7" y="403.9" width="1.4" height="1.4" fill="#000000" opacity="0.8"/>
<rect x="423.6" y="454.2" width="1.1" height="1.1" fill="#000000" opacity="0.8"/>
<rect x="440.1" y="391.7" width="1.3" height="1.3" fill="#000000" opacity="0.8"/>
<rect x="410.0" y="537.4" width="0.9" height="0.9" fill="#000000" opacity="0.8"/>
<rect x="409.5" y="541.8" width="1.1" height="1.1" fill="#000000" opacity="0.8"/>
<rect x="392.0" y="395.3" width="1.3" height="1.3" fill="#1a0000" opacity="0.8"/>
<rect x="427.6" y="386.5" width="0.9" height="0.9" fill="#000000" opacity="0.8"/>
<rect x="392.0" y="539.4" width="1.2" height="1.2" fill="#1a0000" opacity="0.8"/>
<rect x="439.3" y="438.2" width="0.8" height="0.8" fill="#1a0000" opacity="0.8"/>
<rect x="418.0" y="403.7" width="1.2" height="1.2" fill="#1a0000" opacity="0.8"/>
<rect x="398.8" y="439.4" width="1.4" height="1.4" fill="#1a0000" opacity="0.8"/>
<rect x="426.9" y="406.1" width="1.0" height="1.0" fill="#1a0000" opacity="0.8"/>
<rect x="425.6" y="522.5" width="1.3" height="1.3" fill="#1a0000" opacity="0.8"/>
<rect x="438.9" y="500.0" width="0.9" height="0.9" fill="#1a0000" opacity="0.8"/>
<rect x="443.3" y="546.3" width="1.1" height="1.1" fill="#1a0000" opacity="0.8"/>
<rect x="445.4" y="475.7" width="0.9" height="0.9" fill="#000000" opacity="0.8"/>
<rect x="450.2" y="468.6" width="0.8" height="0.8" fill="#1a0000" opacity="0.8"/>
<rect x="440.4" y="488.4" width="1.3" height="1.3" fill="#000000" opacity="0.8"/>
<rect x="409.0" y="411.9" width="0.9" height="0.9" fill="#1a0000" opacity="0.8"/>
<rect x="416.9" y="391.3" width="0.8" height="0.8" fill="#1a0000" opacity="0.8"/>
<rect x="397.8" y="499.3" width="0.9" height="0.9" fill="#000000" opacity="0.8"/>
<rect x="431.9" y="391.1" width="0.9" height="0.9" fill="#000000" opacity="0.8"/>
<rect x="405.7" y="475.1" width="1.4" height="1.4" fill="#000000" opacity="0.8"/>
<rect x="396.3" y="394.0" width="1.1" height="1.1" fill="#1a0000" opacity="0.8"/>
<rect x="401.6" y="491.1" width="0.9" height="0.9" fill="#1a0000" opacity="0.8"/>
<rect x="439.4" y="410.7" width="1.2" height="1.2" fill="#1a0000" opacity="0.8"/>
<rect x="442.8" y="493.5" width="1.2" height="1.2" fill="#000000" opacity="0.8"/>
<rect x="407.8" y="419.7" width="1.3" height="1.3" fill="#1a0000" opacity="0.8"/>
<rect x="409.4" y="383.3" width="1.1" height="1.1" fill="#000000" opacity="0.8"/>
<rect x="444.7" y="396.7" width="1.2" height="1.2" fill="#1a0000" opacity="0.8"/>
<rect x="415.3" y="496.1" width="0.9" height="0.9" fill="#1a0000" opacity="0.8"/>
<rect x="415.2" y="496.2" width="1.0" height="1.0" fill="#1a0000" opacity="0.8"/>
<rect x="414.1" y="386.2" width="1.0" height="1.0" fill="#000000" opacity="0.8"/>
<rect x="389.9" y="518.9" width="0.9" height="0.9" fill="#000000" opacity="0.8"/>
<rect x="406.0" y="402.0" width="1.1" height="1.1" fill="#1a0000" opacity="0.8"/>
<rect x="458.9" y="444.9" width="1.2" height="1.2" fill="#000000" opacity="0.8"/>
<rect x="455.4" y="423.2" width="1.0" height="1.0" fill="#1a0000" opacity="0.8"/>
<rect x="403.3" y="455.7" width="1.3" height="1.3" fill="#1a0000" opacity="0.8"/>
<rect x="456.8" y="515.7" width="1.1" height="1.1" fill="#1a0000" opacity="0.8"/>
<rect x="400.5" y="446.5" width="1.1" height="1.1" fill="#000000" opacity="0.8"/>
<rect x="404.9" y="488.2" width="1.0" height="1.0" fill="#000000" opacity="0.8"/>
<rect x="451.3" y="523.3" width="1.0" height="1.0" fill="#000000" opacity="0.8"/>
<rect x="412.3" y="428.6" width="1.2" height="1.2" fill="#000000" opacity="0.8"/>
<rect x="405.5" y="510.8" width="0.9" height="0.9" fill="#000000" opacity="0.8"/>
<rect x="433.8" y="508.9" width="1.4" height="1.4" fill="#1a0000" opacity="0.8"/>
<rect x="403.5" y="449.6" width="1.3" height="1.3" fill="#1a0000" opacity="0.8"/>
<rect x="426.5" y="539.8" width="1.1" height="1.1" fill="#000000" opacity="0.8"/>
<rect x="454.9" y="527.9" width="1.0" height="1.0" fill="#000000" opacity="0.8"/>
<rect x="451.1" y="489.1" width="1.3" height="1.3" fill="#1a0000" opacity="0.8"/>
<rect x="408.2" y="388.0" width="1.2" height="1.2" fill="#1a0000" opacity="0.8"/>
<rect x="447.8" y="465.3" width="1.3" height="1.3" fill="#1a0000" opacity="0.8"/>
<rect x="395.8" y="519.6" width="1.3" height="1.3" fill="#1a0000" opacity="0.8"/>
<rect x="414.6" y="407.4" width="1.2" height="1.2" fill="#1a0000" opacity="0.8"/>
<rect x="402.1" y="411.7" width="1.2" height="1.2" fill="#000000" opacity="0.8"/>
<rect x="442.0" y="457.2" width="0.9" height="0.9" fill="#1a0000" opacity="0.8"/>
<rect x="422.0" y="514.8" width="1.1" height="1.1" fill="#1a0000" opacity="0.8"/>
<rect x="458.5" y="485.2" width="1.3" height="1.3" fill="#000000" opacity="0.8"/>
<rect x="443.0" y="391.3" width="1.2" height="1.2" fill="#000000" opacity="0.8"/>
<rect x="460.0" y="456.9" width="0.8" height="0.8" fill="#000000" opacity="0.8"/>
<rect x="452.9" y="398.0" width="1.4" height="1.4" fill="#000000" opacity="0.8"/>
<rect x="396.9" y="520.1" width="1.0" height="1.0" fill="#1a0000" opacity="0.8"/>
<rect x="415.9" y="507.8" width="1.2" height="1.2" fill="#1a0000" opacity="0.8"/>
<rect x="456.7" y="528.9" width="0.9" height="0.9" fill="#000000" opacity="0.8"/>
<rect x="416.1" y="529.6" width="1.4" height="1.4" fill="#1a0000" opacity="0.8"/>
<rect x="437.7" y="460.9" width="0.8" height="0.8" fill="#1a0000" opacity="0.8"/>
<rect x="418.0" y="414.1" width="1.1" height="1.1" fill="#1a0000" opacity="0.8"/>
<rect x="420.7" y="423.6" width="1.1" height="1.1" fill="#000000" opacity="0.8"/>
<rect x="410.5" y="495.6" width="1.0" height="1.0" fill="#1a0000" opacity="0.8"/>
<rect x="425.1" y="422.6" width="1.4" height="1.4" fill="#1a0000" opacity="0.8"/>
<rect x="427.0" y="517.0" width="1.1" height="1.1" fill="#000000" opacity="0.8"/>
<rect x="401.8" y="387.0" width="0.8" height="0.8" fill="#1a0000" opacity="0.8"/>
<rect x="430.1" y="412.8" width="1.0" height="1.0" fill="#000000" opacity="0.8"/>
<rect x="441.2" y="497.9" width="1.3" height="1.3" fill="#1a0000" opacity="0.8"/>
<rect x="439.8" y="409.6" width="0.8" height="0.8" fill="#000000" opacity="0.8"/>
<rect x="430.6" y="439.3" width="1.1" height="1.1" fill="#1a0000" opacity="0.8"/>
<rect x="423.4" y="529.1" width="1.2" height="1.2" fill="#1a0000" opacity="0.8"/>
<rect x="436.1" y="395.7" width="1.1" height="1.1" fill="#1a0000" opacity="0.8"/>
<rect x="432.8" y="425.9" width="1.2" height="1.2" fill="#1a0000" opacity="0.8"/>
<rect x="423.9" y="488.2" width="1.3" height="1.3" fill="#000000" opacity="0.8"/>
<rect x="426.6" y="487.6" width="1.0" height="1.0" fill="#000000" opacity="0.8"/>
</g>
<g filter="url(#bl15)">
<path d="M439.9,397.7 Q439.9,400.0 442.7,399.8 Q445.6,400.0 445.6,397.7 Q445.0,395.1 442.7,392.6 Q440.4,395.1 439.9,397.7 Z" fill="#ff3a24" opacity="0.95" transform="rotate(24 442.7 396.8)"/>
<path d="M398.5,428.1 Q398.5,430.3 401.2,430.1 Q403.9,430.3 403.9,428.1 Q403.4,425.6 401.2,423.3 Q399.0,425.6 398.5,428.1 Z" fill="#ff3a24" opacity="0.95" transform="rotate(19 401.2 427.3)"/>
<path d="M456.5,391.5 Q456.5,393.7 459.2,393.5 Q461.9,393.7 461.9,391.5 Q461.4,389.0 459.2,386.7 Q457.0,389.0 456.5,391.5 Z" fill="#ff2a18" opacity="0.95" transform="rotate(-4 459.2 390.7)"/>
<path d="M425.3,411.1 Q425.3,412.8 427.5,412.7 Q429.6,412.8 429.6,411.1 Q429.2,409.2 427.5,407.3 Q425.7,409.2 425.3,411.1 Z" fill="#ff2a18" opacity="0.95" transform="rotate(-26 427.5 410.5)"/>
<path d="M438.0,439.3 Q438.0,441.2 440.3,441.1 Q442.7,441.2 442.7,439.3 Q442.2,437.2 440.3,435.2 Q438.4,437.2 438.0,439.3 Z" fill="#f02818" opacity="0.95" transform="rotate(21 440.3 438.6)"/>
<path d="M438.3,504.9 Q438.3,506.7 440.5,506.6 Q442.7,506.7 442.7,504.9 Q442.2,503.0 440.5,501.1 Q438.7,503.0 438.3,504.9 Z" fill="#ff3a24" opacity="0.95" transform="rotate(-3 440.5 504.3)"/>
<path d="M405.0,433.5 Q405.0,435.8 407.9,435.7 Q410.8,435.8 410.8,433.5 Q410.2,431.0 407.9,428.5 Q405.6,431.0 405.0,433.5 Z" fill="#ff2a18" opacity="0.95" transform="rotate(17 407.9 432.7)"/>
<path d="M426.0,445.0 Q426.0,446.7 428.1,446.6 Q430.2,446.7 430.2,445.0 Q429.8,443.1 428.1,441.3 Q426.4,443.1 426.0,445.0 Z" fill="#ff3a24" opacity="0.95" transform="rotate(8 428.1 444.4)"/>
<path d="M448.9,531.5 Q448.9,533.1 450.9,533.0 Q452.8,533.1 452.8,531.5 Q452.4,529.8 450.9,528.1 Q449.3,529.8 448.9,531.5 Z" fill="#ff2a18" opacity="0.95" transform="rotate(4 450.9 530.9)"/>
<path d="M389.8,424.5 Q389.8,426.2 391.9,426.1 Q394.0,426.2 394.0,424.5 Q393.6,422.6 391.9,420.8 Q390.2,422.6 389.8,424.5 Z" fill="#f02818" opacity="0.95" transform="rotate(-13 391.9 423.9)"/>
<path d="M400.2,404.1 Q400.2,405.7 402.1,405.6 Q404.1,405.7 404.1,404.1 Q403.7,402.4 402.1,400.7 Q400.6,402.4 400.2,404.1 Z" fill="#ff2a18" opacity="0.95" transform="rotate(18 402.1 403.5)"/>
<path d="M428.8,530.4 Q428.8,532.9 431.8,532.7 Q434.9,532.9 434.9,530.4 Q434.3,527.7 431.8,525.1 Q429.4,527.7 428.8,530.4 Z" fill="#ff3a24" opacity="0.95" transform="rotate(7 431.8 529.5)"/>
<path d="M421.6,435.6 Q421.6,437.7 424.2,437.6 Q426.9,437.7 426.9,435.6 Q426.4,433.2 424.2,430.9 Q422.1,433.2 421.6,435.6 Z" fill="#ff2a18" opacity="0.95" transform="rotate(18 424.2 434.8)"/>
<path d="M424.4,418.7 Q424.4,421.1 427.4,421.0 Q430.3,421.1 430.3,418.7 Q429.7,416.1 427.4,413.6 Q425.0,416.1 424.4,418.7 Z" fill="#ff3a24" opacity="0.95" transform="rotate(-17 427.4 417.9)"/>
<path d="M411.9,475.7 Q411.9,477.9 414.6,477.7 Q417.3,477.9 417.3,475.7 Q416.8,473.3 414.6,471.0 Q412.4,473.3 411.9,475.7 Z" fill="#f02818" opacity="0.95" transform="rotate(20 414.6 474.9)"/>
<path d="M448.1,476.4 Q448.1,478.1 450.2,478.0 Q452.3,478.1 452.3,476.4 Q451.9,474.5 450.2,472.7 Q448.5,474.5 448.1,476.4 Z" fill="#ff2a18" opacity="0.95" transform="rotate(-6 450.2 475.8)"/>
<path d="M415.8,477.6 Q415.8,479.2 417.8,479.1 Q419.7,479.2 419.7,477.6 Q419.3,475.9 417.8,474.2 Q416.2,475.9 415.8,477.6 Z" fill="#f02818" opacity="0.95" transform="rotate(-28 417.8 477.1)"/>
<path d="M409.3,515.6 Q409.3,517.7 412.0,517.6 Q414.7,517.7 414.7,515.6 Q414.2,513.1 412.0,510.8 Q409.8,513.1 409.3,515.6 Z" fill="#ff3a24" opacity="0.95" transform="rotate(-7 412.0 514.8)"/>
<path d="M412.9,500.3 Q412.9,502.2 415.2,502.1 Q417.6,502.2 417.6,500.3 Q417.1,498.2 415.2,496.3 Q413.4,498.2 412.9,500.3 Z" fill="#ff2a18" opacity="0.95" transform="rotate(-5 415.2 499.6)"/>
<path d="M428.8,432.6 Q428.8,434.7 431.4,434.6 Q434.0,434.7 434.0,432.6 Q433.5,430.2 431.4,428.0 Q429.3,430.2 428.8,432.6 Z" fill="#ff3a24" opacity="0.95" transform="rotate(-16 431.4 431.8)"/>
<path d="M420.0,477.6 Q420.0,479.4 422.3,479.3 Q424.6,479.4 424.6,477.6 Q424.2,475.5 422.3,473.5 Q420.5,475.5 420.0,477.6 Z" fill="#ff3a24" opacity="0.95" transform="rotate(11 422.3 476.9)"/>
<path d="M420.4,436.3 Q420.4,438.3 422.9,438.1 Q425.3,438.3 425.3,436.3 Q424.8,434.1 422.9,432.1 Q420.9,434.1 420.4,436.3 Z" fill="#ff3a24" opacity="0.95" transform="rotate(-29 422.9 435.6)"/>
<path d="M449.9,482.8 Q449.9,484.8 452.4,484.7 Q454.8,484.8 454.8,482.8 Q454.3,480.6 452.4,478.5 Q450.4,480.6 449.9,482.8 Z" fill="#f02818" opacity="0.95" transform="rotate(-26 452.4 482.1)"/>
<path d="M388.6,503.7 Q388.6,506.1 391.5,505.9 Q394.5,506.1 394.5,503.7 Q393.9,501.1 391.5,498.6 Q389.2,501.1 388.6,503.7 Z" fill="#f02818" opacity="0.95" transform="rotate(-9 391.5 502.8)"/>
<path d="M412.9,533.3 Q412.9,535.3 415.4,535.1 Q417.8,535.3 417.8,533.3 Q417.3,531.1 415.4,529.0 Q413.4,531.1 412.9,533.3 Z" fill="#ff2a18" opacity="0.95" transform="rotate(-6 415.4 532.5)"/>
<path d="M429.2,386.9 Q429.2,389.3 432.2,389.1 Q435.1,389.3 435.1,386.9 Q434.5,384.3 432.2,381.8 Q429.8,384.3 429.2,386.9 Z" fill="#ff2a18" opacity="0.95" transform="rotate(7 432.2 386.0)"/>
<path d="M425.0,519.8 Q425.0,522.0 427.7,521.8 Q430.3,522.0 430.3,519.8 Q429.8,517.5 427.7,515.2 Q425.6,517.5 425.0,519.8 Z" fill="#ff3a24" opacity="0.95" transform="rotate(20 427.7 519.1)"/>
<path d="M415.2,499.8 Q415.2,501.2 417.0,501.2 Q418.8,501.2 418.8,499.8 Q418.5,498.2 417.0,496.6 Q415.6,498.2 415.2,499.8 Z" fill="#ff3a24" opacity="0.95" transform="rotate(-5 417.0 499.3)"/>
<path d="M399.8,522.8 Q399.8,524.6 402.1,524.5 Q404.4,524.6 404.4,522.8 Q403.9,520.7 402.1,518.8 Q400.3,520.7 399.8,522.8 Z" fill="#ff2a18" opacity="0.95" transform="rotate(3 402.1 522.1)"/>
<path d="M401.2,510.8 Q401.2,513.2 404.2,513.0 Q407.1,513.2 407.1,510.8 Q406.5,508.2 404.2,505.7 Q401.8,508.2 401.2,510.8 Z" fill="#ff3a24" opacity="0.95" transform="rotate(9 404.2 510.0)"/>
<path d="M426.4,462.4 Q426.4,464.9 429.5,464.8 Q432.6,464.9 432.6,462.4 Q432.0,459.6 429.5,457.0 Q427.0,459.6 426.4,462.4 Z" fill="#ff3a24" opacity="0.95" transform="rotate(-18 429.5 461.5)"/>
<path d="M414.1,405.7 Q414.1,407.3 416.2,407.2 Q418.3,407.3 418.3,405.7 Q417.9,403.8 416.2,402.0 Q414.5,403.8 414.1,405.7 Z" fill="#ff2a18" opacity="0.95" transform="rotate(22 416.2 405.0)"/>
<path d="M406.3,418.5 Q406.3,420.5 408.8,420.3 Q411.2,420.5 411.2,418.5 Q410.7,416.3 408.8,414.2 Q406.8,416.3 406.3,418.5 Z" fill="#ff2a18" opacity="0.95" transform="rotate(-8 408.8 417.8)"/>
<path d="M441.0,487.8 Q441.0,489.6 443.2,489.5 Q445.4,489.6 445.4,487.8 Q445.0,485.9 443.2,484.0 Q441.4,485.9 441.0,487.8 Z" fill="#ff2a18" opacity="0.95" transform="rotate(15 443.2 487.2)"/>
<path d="M451.5,390.9 Q451.5,392.6 453.6,392.5 Q455.7,392.6 455.7,390.9 Q455.3,389.1 453.6,387.3 Q452.0,389.1 451.5,390.9 Z" fill="#ff3a24" opacity="0.95" transform="rotate(29 453.6 390.3)"/>
<path d="M424.4,534.6 Q424.4,536.8 427.1,536.7 Q429.9,536.8 429.9,534.6 Q429.3,532.2 427.1,529.8 Q424.9,532.2 424.4,534.6 Z" fill="#f02818" opacity="0.95" transform="rotate(28 427.1 533.8)"/>
<path d="M452.2,538.8 Q452.2,541.0 454.9,540.8 Q457.6,541.0 457.6,538.8 Q457.1,536.4 454.9,534.1 Q452.7,536.4 452.2,538.8 Z" fill="#f02818" opacity="0.95" transform="rotate(-25 454.9 538.0)"/>
<path d="M435.4,492.8 Q435.4,494.4 437.5,494.3 Q439.6,494.4 439.6,492.8 Q439.2,490.9 437.5,489.1 Q435.8,490.9 435.4,492.8 Z" fill="#ff2a18" opacity="0.95" transform="rotate(1 437.5 492.1)"/>
</g>
<g filter="url(#bl1)">
<ellipse cx="430.0" cy="543.0" rx="2.31" ry="1.96" fill="#e02014" fill-opacity="0.42" stroke="#e02014" stroke-width="1.1" stroke-opacity="0.85"/>
<ellipse cx="420.9" cy="508.7" rx="2.22" ry="1.88" fill="#e02014" fill-opacity="0.42" stroke="#e02014" stroke-width="1.1" stroke-opacity="0.85"/>
<ellipse cx="405.3" cy="416.7" rx="2.05" ry="1.75" fill="#e02014" fill-opacity="0.42" stroke="#e02014" stroke-width="1.1" stroke-opacity="0.85"/>
<ellipse cx="432.2" cy="385.9" rx="1.68" ry="1.43" fill="#e02014" fill-opacity="0.42" stroke="#e02014" stroke-width="1.1" stroke-opacity="0.85"/>
<ellipse cx="436.8" cy="502.4" rx="2.05" ry="1.74" fill="#e02014" fill-opacity="0.42" stroke="#e02014" stroke-width="1.1" stroke-opacity="0.85"/>
<ellipse cx="396.0" cy="525.3" rx="2.08" ry="1.76" fill="#e02014" fill-opacity="0.42" stroke="#e02014" stroke-width="1.1" stroke-opacity="0.85"/>
<ellipse cx="456.5" cy="492.8" rx="1.76" ry="1.50" fill="#e02014" fill-opacity="0.42" stroke="#e02014" stroke-width="1.1" stroke-opacity="0.85"/>
<ellipse cx="419.5" cy="497.0" rx="2.13" ry="1.81" fill="#e02014" fill-opacity="0.42" stroke="#e02014" stroke-width="1.1" stroke-opacity="0.85"/>
<ellipse cx="404.9" cy="430.6" rx="2.19" ry="1.86" fill="#e02014" fill-opacity="0.42" stroke="#e02014" stroke-width="1.1" stroke-opacity="0.85"/>
<ellipse cx="443.2" cy="489.6" rx="1.85" ry="1.57" fill="#e02014" fill-opacity="0.42" stroke="#e02014" stroke-width="1.1" stroke-opacity="0.85"/>
<ellipse cx="418.5" cy="440.7" rx="1.93" ry="1.64" fill="#e02014" fill-opacity="0.42" stroke="#e02014" stroke-width="1.1" stroke-opacity="0.85"/>
<ellipse cx="445.1" cy="481.7" rx="2.12" ry="1.80" fill="#e02014" fill-opacity="0.42" stroke="#e02014" stroke-width="1.1" stroke-opacity="0.85"/>
<ellipse cx="436.1" cy="482.5" rx="2.00" ry="1.70" fill="#e02014" fill-opacity="0.42" stroke="#e02014" stroke-width="1.1" stroke-opacity="0.85"/>
<ellipse cx="400.3" cy="418.3" rx="1.80" ry="1.53" fill="#e02014" fill-opacity="0.42" stroke="#e02014" stroke-width="1.1" stroke-opacity="0.85"/>
<ellipse cx="458.3" cy="471.8" rx="1.65" ry="1.40" fill="#e02014" fill-opacity="0.42" stroke="#e02014" stroke-width="1.1" stroke-opacity="0.85"/>
</g>
</g>
<text x="424.9" y="394.3" font-size="10.6" text-anchor="middle" fill="#fff" filter="url(#tsh)">mCherry</text>
<text x="1.5" y="574.6" font-size="14" text-anchor="start" fill="#1a1a1a">F</text>
<rect x="14.2" y="573.3" width="217.9" height="14.6" fill="#fff" stroke="#222" stroke-width="1.3"/>
<rect x="242.6" y="573.3" width="217.9" height="14.6" fill="#fff" stroke="#222" stroke-width="1.3"/>
<text x="123.2" y="584.4" font-size="10.4" text-anchor="middle" fill="#1a1a1a">GPR173</text>
<text x="351.6" y="584.4" font-size="10.4" text-anchor="middle" fill="#1a1a1a">Sham</text>
<defs><linearGradient id="bg7" x1="0" x2="1" y1="0" y2="0"><stop offset="0" stop-color="#1a1606"/><stop offset="0.5" stop-color="#1c2008"/><stop offset="1" stop-color="#142008"/></linearGradient>
<clipPath id="cp7"><rect x="14.2" y="593.2" width="70.2" height="148.6"/></clipPath></defs>
<g clip-path="url(#cp7)">
<rect x="14.2" y="593.2" width="70.2" height="148.6" fill="url(#bg7)"/>
<rect x="14.2" y="593.2" width="70.2" height="148.6" filter="url(#nzg)" opacity="0.3"/>
<rect x="14.2" y="593.2" width="70.2" height="148.6" filter="url(#nzr)" opacity="0.15"/>
<g filter="url(#bl2)">
<ellipse cx="36.9" cy="615.6" rx="5.60" ry="3.92" fill="#2a4a10" opacity="0.6"/>
<ellipse cx="71.9" cy="607.2" rx="5.33" ry="3.73" fill="#4a1a08" opacity="0.6"/>
<ellipse cx="16.8" cy="657.6" rx="3.28" ry="2.30" fill="#2a4a10" opacity="0.6"/>
<ellipse cx="52.9" cy="602.0" rx="5.26" ry="3.68" fill="#4a1a08" opacity="0.6"/>
<ellipse cx="58.5" cy="679.8" rx="3.25" ry="2.27" fill="#305010" opacity="0.6"/>
<ellipse cx="17.7" cy="626.1" rx="5.23" ry="3.66" fill="#4a1a08" opacity="0.6"/>
<ellipse cx="34.5" cy="614.6" rx="3.47" ry="2.43" fill="#000000" opacity="0.6"/>
<ellipse cx="53.5" cy="694.5" rx="3.41" ry="2.39" fill="#4a1a08" opacity="0.6"/>
<ellipse cx="40.3" cy="674.6" rx="3.25" ry="2.28" fill="#2a4a10" opacity="0.6"/>
<ellipse cx="57.7" cy="667.0" rx="5.13" ry="3.59" fill="#000000" opacity="0.6"/>
<ellipse cx="46.9" cy="730.4" rx="4.45" ry="3.11" fill="#4a1a08" opacity="0.6"/>
<ellipse cx="70.0" cy="697.1" rx="3.98" ry="2.78" fill="#000000" opacity="0.6"/>
<ellipse cx="51.1" cy="723.2" rx="5.92" ry="4.14" fill="#000000" opacity="0.6"/>
<ellipse cx="56.9" cy="604.1" rx="5.05" ry="3.53" fill="#4a1a08" opacity="0.6"/>
<ellipse cx="67.4" cy="615.8" rx="4.96" ry="3.47" fill="#2a4a10" opacity="0.6"/>
<ellipse cx="81.7" cy="604.7" rx="5.23" ry="3.66" fill="#000000" opacity="0.6"/>
<ellipse cx="38.1" cy="645.2" rx="4.99" ry="3.49" fill="#305010" opacity="0.6"/>
<ellipse cx="19.0" cy="607.1" rx="4.08" ry="2.86" fill="#2a4a10" opacity="0.6"/>
<ellipse cx="18.5" cy="697.4" rx="5.59" ry="3.91" fill="#305010" opacity="0.6"/>
<ellipse cx="34.2" cy="650.5" rx="5.67" ry="3.97" fill="#2a4a10" opacity="0.6"/>
<ellipse cx="80.2" cy="646.0" rx="5.44" ry="3.81" fill="#305010" opacity="0.6"/>
<ellipse cx="18.3" cy="707.4" rx="3.52" ry="2.46" fill="#4a1a08" opacity="0.6"/>
<ellipse cx="42.1" cy="729.4" rx="4.99" ry="3.49" fill="#4a1a08" opacity="0.6"/>
<ellipse cx="45.7" cy="674.8" rx="6.53" ry="4.57" fill="#305010" opacity="0.6"/>
<ellipse cx="74.9" cy="634.6" rx="4.66" ry="3.26" fill="#000000" opacity="0.6"/>
<ellipse cx="62.1" cy="649.7" rx="3.92" ry="2.75" fill="#2a4a10" opacity="0.6"/>
<ellipse cx="26.6" cy="627.7" rx="3.93" ry="2.75" fill="#305010" opacity="0.6"/>
<ellipse cx="72.5" cy="620.3" rx="4.13" ry="2.89" fill="#4a1a08" opacity="0.6"/>
<ellipse cx="43.6" cy="648.1" rx="5.27" ry="3.69" fill="#4a1a08" opacity="0.6"/>
<ellipse cx="62.7" cy="669.8" rx="5.47" ry="3.83" fill="#2a4a10" opacity="0.6"/>
<ellipse cx="46.3" cy="722.6" rx="6.81" ry="4.77" fill="#305010" opacity="0.6"/>
<ellipse cx="42.1" cy="651.8" rx="4.93" ry="3.45" fill="#305010" opacity="0.6"/>
<ellipse cx="18.6" cy="603.2" rx="3.84" ry="2.68" fill="#4a1a08" opacity="0.6"/>
<ellipse cx="21.9" cy="682.5" rx="3.41" ry="2.39" fill="#4a1a08" opacity="0.6"/>
<ellipse cx="51.9" cy="734.2" rx="5.45" ry="3.82" fill="#2a4a10" opacity="0.6"/>
</g>
<g filter="url(#bl1)">
<ellipse cx="75.6" cy="684.5" rx="2.95" ry="2.36" fill="#40b838" opacity="0.9" transform="rotate(172 75.6 684.5)"/>
<circle cx="75.6" cy="684.5" r="1.47" fill="#4a70e0" opacity="0.81"/>
<ellipse cx="56.5" cy="663.7" rx="2.92" ry="2.33" fill="#60c848" opacity="0.9" transform="rotate(179 56.5 663.7)"/>
<circle cx="56.5" cy="663.7" r="1.46" fill="#5080d8" opacity="0.81"/>
<ellipse cx="46.9" cy="665.1" rx="2.89" ry="2.31" fill="#48c040" opacity="0.9" transform="rotate(135 46.9 665.1)"/>
<circle cx="46.9" cy="665.1" r="1.44" fill="#3850e0" opacity="0.81"/>
<ellipse cx="66.2" cy="664.3" rx="3.49" ry="2.79" fill="#48c040" opacity="0.9" transform="rotate(37 66.2 664.3)"/>
<circle cx="66.2" cy="664.3" r="1.75" fill="#3850e0" opacity="0.81"/>
<ellipse cx="81.0" cy="647.0" rx="3.49" ry="2.79" fill="#48c040" opacity="0.9" transform="rotate(136 81.0 647.0)"/>
<circle cx="81.0" cy="647.0" r="1.75" fill="#3850e0" opacity="0.81"/>
<ellipse cx="35.1" cy="688.7" rx="2.89" ry="2.31" fill="#40b838" opacity="0.9" transform="rotate(93 35.1 688.7)"/>
<circle cx="35.1" cy="688.7" r="1.45" fill="#4a70e0" opacity="0.81"/>
<ellipse cx="78.0" cy="646.1" rx="3.02" ry="2.42" fill="#40b838" opacity="0.9" transform="rotate(115 78.0 646.1)"/>
<circle cx="78.0" cy="646.1" r="1.51" fill="#4a70e0" opacity="0.81"/>
<ellipse cx="57.2" cy="710.4" rx="3.56" ry="2.85" fill="#50c848" opacity="0.9" transform="rotate(145 57.2 710.4)"/>
<circle cx="57.2" cy="710.4" r="1.78" fill="#4060e8" opacity="0.81"/>
<ellipse cx="71.6" cy="703.1" rx="3.03" ry="2.42" fill="#60c848" opacity="0.9" transform="rotate(64 71.6 703.1)"/>
<circle cx="71.6" cy="703.1" r="1.51" fill="#5080d8" opacity="0.81"/>
<ellipse cx="16.2" cy="597.4" rx="3.08" ry="2.46" fill="#40b838" opacity="0.9" transform="rotate(35 16.2 597.4)"/>
<circle cx="16.2" cy="597.4" r="1.54" fill="#4a70e0" opacity="0.81"/>
<ellipse cx="56.7" cy="644.4" rx="3.61" ry="2.89" fill="#40b838" opacity="0.9" transform="rotate(172 56.7 644.4)"/>
<circle cx="56.7" cy="644.4" r="1.80" fill="#4a70e0" opacity="0.81"/>
<ellipse cx="39.8" cy="626.0" rx="3.03" ry="2.42" fill="#50c848" opacity="0.9" transform="rotate(61 39.8 626.0)"/>
<circle cx="39.8" cy="626.0" r="1.51" fill="#4060e8" opacity="0.81"/>
<ellipse cx="48.1" cy="739.6" rx="3.41" ry="2.73" fill="#48c040" opacity="0.9" transform="rotate(86 48.1 739.6)"/>
<circle cx="48.1" cy="739.6" r="1.71" fill="#3850e0" opacity="0.81"/>
<ellipse cx="60.0" cy="712.0" rx="2.88" ry="2.31" fill="#48c040" opacity="0.9" transform="rotate(164 60.0 712.0)"/>
<circle cx="60.0" cy="712.0" r="1.44" fill="#3850e0" opacity="0.81"/>
<ellipse cx="69.1" cy="704.7" rx="3.28" ry="2.62" fill="#50c848" opacity="0.9" transform="rotate(78 69.1 704.7)"/>
<circle cx="69.1" cy="704.7" r="1.64" fill="#4060e8" opacity="0.81"/>
<ellipse cx="58.8" cy="606.1" rx="3.75" ry="3.00" fill="#60c848" opacity="0.9" transform="rotate(83 58.8 606.1)"/>
<circle cx="58.8" cy="606.1" r="1.87" fill="#5080d8" opacity="0.81"/>
<ellipse cx="66.4" cy="605.8" rx="2.96" ry="2.37" fill="#50c848" opacity="0.9" transform="rotate(5 66.4 605.8)"/>
<circle cx="66.4" cy="605.8" r="1.48" fill="#4060e8" opacity="0.81"/>
<ellipse cx="55.7" cy="662.4" rx="3.46" ry="2.76" fill="#60c848" opacity="0.9" transform="rotate(118 55.7 662.4)"/>
<circle cx="55.7" cy="662.4" r="1.73" fill="#5080d8" opacity="0.81"/>
<ellipse cx="38.8" cy="674.7" rx="2.93" ry="2.34" fill="#48c040" opacity="0.9" transform="rotate(144 38.8 674.7)"/>
<circle cx="38.8" cy="674.7" r="1.47" fill="#3850e0" opacity="0.81"/>
<ellipse cx="65.2" cy="608.5" rx="3.55" ry="2.84" fill="#50c848" opacity="0.9" transform="rotate(78 65.2 608.5)"/>
<circle cx="65.2" cy="608.5" r="1.77" fill="#4060e8" opacity="0.81"/>
<ellipse cx="75.4" cy="716.0" rx="3.01" ry="2.41" fill="#40b838" opacity="0.9" transform="rotate(38 75.4 716.0)"/>
<circle cx="75.4" cy="716.0" r="1.51" fill="#4a70e0" opacity="0.81"/>
<ellipse cx="49.4" cy="706.7" rx="3.13" ry="2.50" fill="#60c848" opacity="0.9" transform="rotate(150 49.4 706.7)"/>
<circle cx="49.4" cy="706.7" r="1.56" fill="#5080d8" opacity="0.81"/>
<ellipse cx="18.5" cy="703.2" rx="3.70" ry="2.96" fill="#60c848" opacity="0.9" transform="rotate(149 18.5 703.2)"/>
<circle cx="18.5" cy="703.2" r="1.85" fill="#5080d8" opacity="0.81"/>
<ellipse cx="75.8" cy="612.6" rx="2.95" ry="2.36" fill="#48c040" opacity="0.9" transform="rotate(157 75.8 612.6)"/>
<circle cx="75.8" cy="612.6" r="1.48" fill="#3850e0" opacity="0.81"/>
<ellipse cx="68.7" cy="683.6" rx="3.58" ry="2.86" fill="#50c848" opacity="0.9" transform="rotate(31 68.7 683.6)"/>
<circle cx="68.7" cy="683.6" r="1.79" fill="#4060e8" opacity="0.81"/>
<ellipse cx="47.4" cy="701.0" rx="3.36" ry="2.69" fill="#40b838" opacity="0.9" transform="rotate(123 47.4 701.0)"/>
<circle cx="47.4" cy="701.0" r="1.68" fill="#4a70e0" opacity="0.81"/>
<ellipse cx="51.5" cy="664.9" rx="3.58" ry="2.86" fill="#48c040" opacity="0.9" transform="rotate(45 51.5 664.9)"/>
<circle cx="51.5" cy="664.9" r="1.79" fill="#3850e0" opacity="0.81"/>
<ellipse cx="33.6" cy="708.0" rx="3.31" ry="2.65" fill="#48c040" opacity="0.9" transform="rotate(137 33.6 708.0)"/>
<circle cx="33.6" cy="708.0" r="1.65" fill="#3850e0" opacity="0.81"/>
<ellipse cx="78.3" cy="659.1" rx="3.41" ry="2.73" fill="#50c848" opacity="0.9" transform="rotate(125 78.3 659.1)"/>
<circle cx="78.3" cy="659.1" r="1.71" fill="#4060e8" opacity="0.81"/>
<ellipse cx="46.0" cy="672.4" rx="3.28" ry="2.62" fill="#50c848" opacity="0.9" transform="rotate(126 46.0 672.4)"/>
<circle cx="46.0" cy="672.4" r="1.64" fill="#4060e8" opacity="0.81"/>
<ellipse cx="75.7" cy="733.2" rx="3.06" ry="2.45" fill="#50c848" opacity="0.9" transform="rotate(151 75.7 733.2)"/>
<circle cx="75.7" cy="733.2" r="1.53" fill="#4060e8" opacity="0.81"/>
<ellipse cx="23.8" cy="611.3" rx="3.24" ry="2.59" fill="#48c040" opacity="0.9" transform="rotate(121 23.8 611.3)"/>
<circle cx="23.8" cy="611.3" r="1.62" fill="#3850e0" opacity="0.81"/>
<ellipse cx="44.3" cy="624.8" rx="3.10" ry="2.48" fill="#48c040" opacity="0.9" transform="rotate(161 44.3 624.8)"/>
<circle cx="44.3" cy="624.8" r="1.55" fill="#3850e0" opacity="0.81"/>
<ellipse cx="25.0" cy="699.6" rx="3.46" ry="2.77" fill="#50c848" opacity="0.9" transform="rotate(46 25.0 699.6)"/>
<circle cx="25.0" cy="699.6" r="1.73" fill="#4060e8" opacity="0.81"/>
<ellipse cx="23.8" cy="662.7" rx="3.55" ry="2.84" fill="#48c040" opacity="0.9" transform="rotate(72 23.8 662.7)"/>
<circle cx="23.8" cy="662.7" r="1.77" fill="#3850e0" opacity="0.81"/>
<ellipse cx="48.4" cy="740.3" rx="3.63" ry="2.91" fill="#50c848" opacity="0.9" transform="rotate(127 48.4 740.3)"/>
<circle cx="48.4" cy="740.3" r="1.82" fill="#4060e8" opacity="0.81"/>
<ellipse cx="84.0" cy="653.2" rx="3.22" ry="2.58" fill="#40b838" opacity="0.9" transform="rotate(57 84.0 653.2)"/>
<circle cx="84.0" cy="653.2" r="1.61" fill="#4a70e0" opacity="0.81"/>
<ellipse cx="64.9" cy="596.1" rx="3.35" ry="2.68" fill="#60c848" opacity="0.9" transform="rotate(127 64.9 596.1)"/>
<circle cx="64.9" cy="596.1" r="1.68" fill="#5080d8" opacity="0.81"/>
<ellipse cx="41.2" cy="670.1" rx="3.10" ry="2.48" fill="#48c040" opacity="0.9" transform="rotate(20 41.2 670.1)"/>
<circle cx="41.2" cy="670.1" r="1.55" fill="#3850e0" opacity="0.81"/>
<ellipse cx="78.7" cy="627.2" rx="3.68" ry="2.94" fill="#48c040" opacity="0.9" transform="rotate(48 78.7 627.2)"/>
<circle cx="78.7" cy="627.2" r="1.84" fill="#3850e0" opacity="0.81"/>
<ellipse cx="17.0" cy="709.0" rx="3.07" ry="2.46" fill="#50c848" opacity="0.9" transform="rotate(148 17.0 709.0)"/>
<circle cx="17.0" cy="709.0" r="1.54" fill="#4060e8" opacity="0.81"/>
<ellipse cx="73.8" cy="693.6" rx="3.75" ry="3.00" fill="#60c848" opacity="0.9" transform="rotate(27 73.8 693.6)"/>
<circle cx="73.8" cy="693.6" r="1.87" fill="#5080d8" opacity="0.81"/>
<ellipse cx="78.7" cy="678.0" rx="3.50" ry="2.80" fill="#48c040" opacity="0.9" transform="rotate(50 78.7 678.0)"/>
<circle cx="78.7" cy="678.0" r="1.75" fill="#3850e0" opacity="0.81"/>
<ellipse cx="70.3" cy="620.4" rx="3.70" ry="2.96" fill="#40b838" opacity="0.9" transform="rotate(169 70.3 620.4)"/>
<circle cx="70.3" cy="620.4" r="1.85" fill="#4a70e0" opacity="0.81"/>
<ellipse cx="58.7" cy="712.3" rx="2.88" ry="2.31" fill="#50c848" opacity="0.9" transform="rotate(12 58.7 712.3)"/>
<circle cx="58.7" cy="712.3" r="1.44" fill="#4060e8" opacity="0.81"/>
<ellipse cx="74.8" cy="660.6" rx="3.14" ry="2.51" fill="#60c848" opacity="0.9" transform="rotate(167 74.8 660.6)"/>
<circle cx="74.8" cy="660.6" r="1.57" fill="#5080d8" opacity="0.81"/>
</g>
<g filter="url(#bl1)">
<ellipse cx="33.0" cy="612.4" rx="3.02" ry="2.42" fill="#c8a040" opacity="0.9" transform="rotate(169 33.0 612.4)"/>
<circle cx="33.0" cy="612.4" r="1.51" fill="#5060e0" opacity="0.81"/>
<ellipse cx="82.2" cy="632.1" rx="2.74" ry="2.20" fill="#e08040" opacity="0.9" transform="rotate(113 82.2 632.1)"/>
<circle cx="82.2" cy="632.1" r="1.37" fill="#6060c0" opacity="0.81"/>
<ellipse cx="51.5" cy="623.8" rx="2.96" ry="2.37" fill="#c8a040" opacity="0.9" transform="rotate(49 51.5 623.8)"/>
<circle cx="51.5" cy="623.8" r="1.48" fill="#5060e0" opacity="0.81"/>
<ellipse cx="70.6" cy="741.0" rx="2.63" ry="2.10" fill="#c8a040" opacity="0.9" transform="rotate(132 70.6 741.0)"/>
<circle cx="70.6" cy="741.0" r="1.31" fill="#5060e0" opacity="0.81"/>
<ellipse cx="52.9" cy="621.4" rx="2.98" ry="2.38" fill="#e08040" opacity="0.9" transform="rotate(19 52.9 621.4)"/>
<circle cx="52.9" cy="621.4" r="1.49" fill="#6060c0" opacity="0.81"/>
<ellipse cx="71.7" cy="657.4" rx="3.00" ry="2.40" fill="#e08040" opacity="0.9" transform="rotate(175 71.7 657.4)"/>
<circle cx="71.7" cy="657.4" r="1.50" fill="#6060c0" opacity="0.81"/>
<ellipse cx="35.8" cy="625.2" rx="2.78" ry="2.23" fill="#c8a040" opacity="0.9" transform="rotate(150 35.8 625.2)"/>
<circle cx="35.8" cy="625.2" r="1.39" fill="#5060e0" opacity="0.81"/>
<ellipse cx="63.8" cy="687.7" rx="2.92" ry="2.34" fill="#e08040" opacity="0.9" transform="rotate(177 63.8 687.7)"/>
<circle cx="63.8" cy="687.7" r="1.46" fill="#6060c0" opacity="0.81"/>
</g>
<g filter="url(#bl0)">
<circle cx="73.0" cy="595.3" r="1.58" fill="#2830d8" opacity="0.95"/>
<circle cx="44.4" cy="601.4" r="1.60" fill="#4050ff" opacity="0.95"/>
<circle cx="75.3" cy="692.8" r="1.37" fill="#3a48ff" opacity="0.95"/>
<circle cx="62.8" cy="599.9" r="1.31" fill="#2830d8" opacity="0.95"/>
<circle cx="45.5" cy="632.3" r="1.78" fill="#2830d8" opacity="0.95"/>
<circle cx="31.4" cy="736.7" r="1.39" fill="#2830d8" opacity="0.95"/>
<circle cx="27.0" cy="643.0" r="1.25" fill="#2830d8" opacity="0.95"/>
<circle cx="49.5" cy="623.1" r="1.50" fill="#2f3cf0" opacity="0.95"/>
<circle cx="20.6" cy="714.6" r="1.29" fill="#2f3cf0" opacity="0.95"/>
<circle cx="41.9" cy="637.7" r="1.58" fill="#2f3cf0" opacity="0.95"/>
<circle cx="55.3" cy="671.8" r="1.65" fill="#4050ff" opacity="0.95"/>
<circle cx="67.9" cy="700.3" r="1.50" fill="#2830d8" opacity="0.95"/>
<circle cx="65.0" cy="688.8" r="1.23" fill="#4050ff" opacity="0.95"/>
<circle cx="65.7" cy="713.9" r="1.28" fill="#2f3cf0" opacity="0.95"/>
<circle cx="72.2" cy="680.0" r="1.74" fill="#3a48ff" opacity="0.95"/>
<circle cx="20.2" cy="599.4" r="1.58" fill="#2f3cf0" opacity="0.95"/>
<circle cx="40.6" cy="660.3" r="1.23" fill="#2f3cf0" opacity="0.95"/>
<circle cx="58.2" cy="694.3" r="1.49" fill="#2f3cf0" opacity="0.95"/>
<circle cx="46.3" cy="603.6" r="1.76" fill="#2f3cf0" opacity="0.95"/>
<circle cx="60.5" cy="603.0" r="1.64" fill="#2830d8" opacity="0.95"/>
<circle cx="71.0" cy="718.9" r="1.34" fill="#3a48ff" opacity="0.95"/>
<circle cx="30.4" cy="689.8" r="1.48" fill="#4050ff" opacity="0.95"/>
<circle cx="19.6" cy="728.5" r="1.37" fill="#2f3cf0" opacity="0.95"/>
<circle cx="57.5" cy="688.7" r="1.25" fill="#3a48ff" opacity="0.95"/>
<circle cx="37.5" cy="690.0" r="1.62" fill="#3a48ff" opacity="0.95"/>
</g>
<g filter="url(#bl1)">
<ellipse cx="15.1" cy="602.2" rx="1.62" ry="1.37" fill="#ff3080" opacity="0.95"/>
<ellipse cx="62.8" cy="693.6" rx="1.63" ry="1.39" fill="#f04040" opacity="0.95"/>
<ellipse cx="46.8" cy="662.5" rx="1.49" ry="1.27" fill="#ff3080" opacity="0.95"/>
<ellipse cx="36.1" cy="606.0" rx="1.78" ry="1.51" fill="#f04040" opacity="0.95"/>
<ellipse cx="46.4" cy="715.0" rx="2.17" ry="1.85" fill="#f04040" opacity="0.95"/>
<ellipse cx="84.0" cy="650.7" rx="2.13" ry="1.81" fill="#ff3080" opacity="0.95"/>
<ellipse cx="19.4" cy="606.6" rx="2.00" ry="1.70" fill="#f04040" opacity="0.95"/>
<ellipse cx="81.1" cy="612.9" rx="2.06" ry="1.75" fill="#f04040" opacity="0.95"/>
<ellipse cx="76.5" cy="697.7" rx="1.59" ry="1.35" fill="#f04040" opacity="0.95"/>
<ellipse cx="41.9" cy="616.8" rx="2.16" ry="1.84" fill="#f04040" opacity="0.95"/>
</g>
</g>
<text x="41.6" y="603.2" font-size="10.6" text-anchor="middle" fill="#fff" filter="url(#tsh)">Merged</text>
<text x="57" y="725.8" font-size="11.2" text-anchor="middle" fill="#fff" filter="url(#tsh)">MCx</text>
<line x1="24.1" y1="731.3" x2="40.900000000000006" y2="731.3" stroke="#ddd" stroke-width="1.3"/>
<defs><linearGradient id="bg8" x1="0" x2="1" y1="0" y2="0"><stop offset="0" stop-color="#081604"/><stop offset="0.5" stop-color="#0c1c06"/><stop offset="1" stop-color="#0a1a06"/></linearGradient>
<clipPath id="cp8"><rect x="88.0" y="593.2" width="70.0" height="148.6"/></clipPath></defs>
<g clip-path="url(#cp8)">
<rect x="88.0" y="593.2" width="70.0" height="148.6" fill="url(#bg8)"/>
<rect x="88.0" y="593.2" width="70.0" height="148.6" filter="url(#nzg)" opacity="0.35"/>
<rect x="88.0" y="593.2" width="70.0" height="148.6" filter="url(#nzgb)" opacity="0.2"/>
<g filter="url(#bl2)">
<ellipse cx="103.9" cy="736.2" rx="3.51" ry="2.45" fill="#1a4010" opacity="0.6"/>
<ellipse cx="94.0" cy="630.0" rx="7.00" ry="4.90" fill="#1a4010" opacity="0.6"/>
<ellipse cx="116.0" cy="597.7" rx="4.95" ry="3.46" fill="#000000" opacity="0.6"/>
<ellipse cx="122.6" cy="621.8" rx="6.32" ry="4.43" fill="#1a4010" opacity="0.6"/>
<ellipse cx="122.0" cy="706.0" rx="5.80" ry="4.06" fill="#000000" opacity="0.6"/>
<ellipse cx="121.2" cy="728.6" rx="5.90" ry="4.13" fill="#000000" opacity="0.6"/>
<ellipse cx="94.8" cy="714.2" rx="4.55" ry="3.18" fill="#000000" opacity="0.6"/>
<ellipse cx="95.5" cy="601.8" rx="3.94" ry="2.76" fill="#1a4010" opacity="0.6"/>
<ellipse cx="122.8" cy="689.7" rx="6.61" ry="4.62" fill="#1a4010" opacity="0.6"/>
<ellipse cx="130.5" cy="673.4" rx="3.15" ry="2.20" fill="#1a4010" opacity="0.6"/>
<ellipse cx="98.4" cy="721.0" rx="4.83" ry="3.38" fill="#000000" opacity="0.6"/>
<ellipse cx="108.0" cy="646.2" rx="6.51" ry="4.56" fill="#1a4010" opacity="0.6"/>
<ellipse cx="99.1" cy="682.6" rx="5.13" ry="3.59" fill="#000000" opacity="0.6"/>
<ellipse cx="137.2" cy="734.4" rx="6.37" ry="4.46" fill="#1a4010" opacity="0.6"/>
<ellipse cx="109.6" cy="646.1" rx="4.14" ry="2.90" fill="#1a4010" opacity="0.6"/>
<ellipse cx="144.6" cy="720.5" rx="6.65" ry="4.66" fill="#1a4010" opacity="0.6"/>
<ellipse cx="112.1" cy="728.1" rx="4.18" ry="2.93" fill="#1a4010" opacity="0.6"/>
<ellipse cx="106.7" cy="656.1" rx="4.51" ry="3.16" fill="#000000" opacity="0.6"/>
<ellipse cx="100.3" cy="652.1" rx="3.66" ry="2.57" fill="#1a4010" opacity="0.6"/>
<ellipse cx="102.1" cy="707.1" rx="4.20" ry="2.94" fill="#1a4010" opacity="0.6"/>
<ellipse cx="143.7" cy="649.7" rx="6.35" ry="4.44" fill="#000000" opacity="0.6"/>
<ellipse cx="151.4" cy="613.9" rx="5.26" ry="3.68" fill="#000000" opacity="0.6"/>
<ellipse cx="117.3" cy="680.7" rx="4.15" ry="2.91" fill="#1a4010" opacity="0.6"/>
<ellipse cx="90.4" cy="691.8" rx="6.06" ry="4.24" fill="#000000" opacity="0.6"/>
<ellipse cx="98.8" cy="732.4" rx="4.95" ry="3.47" fill="#1a4010" opacity="0.6"/>
<ellipse cx="156.6" cy="602.6" rx="3.07" ry="2.15" fill="#1a4010" opacity="0.6"/>
<ellipse cx="111.9" cy="691.0" rx="3.48" ry="2.44" fill="#000000" opacity="0.6"/>
<ellipse cx="112.6" cy="736.6" rx="3.01" ry="2.11" fill="#000000" opacity="0.6"/>
<ellipse cx="102.7" cy="723.3" rx="3.13" ry="2.19" fill="#1a4010" opacity="0.6"/>
<ellipse cx="100.4" cy="737.3" rx="4.77" ry="3.34" fill="#1a4010" opacity="0.6"/>
<ellipse cx="102.0" cy="626.5" rx="6.25" ry="4.37" fill="#1a4010" opacity="0.6"/>
<ellipse cx="114.7" cy="609.3" rx="5.88" ry="4.12" fill="#1a4010" opacity="0.6"/>
<ellipse cx="138.4" cy="669.7" rx="3.36" ry="2.35" fill="#000000" opacity="0.6"/>
<ellipse cx="127.5" cy="714.5" rx="4.82" ry="3.37" fill="#1a4010" opacity="0.6"/>
<ellipse cx="101.8" cy="659.5" rx="3.43" ry="2.40" fill="#1a4010" opacity="0.6"/>
</g>
<g filter="url(#bl1)">
<ellipse cx="137.6" cy="684.1" rx="2.52" ry="2.02" fill="#4cc03c" fill-opacity="0.56" stroke="#4cc03c" stroke-width="1.0" stroke-opacity="0.8" transform="rotate(149 137.6 684.1)"/>
<ellipse cx="125.0" cy="738.6" rx="3.25" ry="2.60" fill="#38a02a" fill-opacity="0.56" stroke="#38a02a" stroke-width="1.0" stroke-opacity="0.8" transform="rotate(90 125.0 738.6)"/>
<ellipse cx="137.4" cy="623.0" rx="2.73" ry="2.18" fill="#38a02a" fill-opacity="0.56" stroke="#38a02a" stroke-width="1.0" stroke-opacity="0.8" transform="rotate(69 137.4 623.0)"/>
<ellipse cx="124.4" cy="622.4" rx="2.79" ry="2.23" fill="#4cc03c" fill-opacity="0.56" stroke="#4cc03c" stroke-width="1.0" stroke-opacity="0.8" transform="rotate(164 124.4 622.4)"/>
<ellipse cx="140.0" cy="731.0" rx="3.48" ry="2.79" fill="#40b030" fill-opacity="0.56" stroke="#40b030" stroke-width="1.0" stroke-opacity="0.8" transform="rotate(114 140.0 731.0)"/>
<ellipse cx="93.6" cy="655.5" rx="3.24" ry="2.60" fill="#38a02a" fill-opacity="0.56" stroke="#38a02a" stroke-width="1.0" stroke-opacity="0.8" transform="rotate(153 93.6 655.5)"/>
<ellipse cx="124.1" cy="686.1" rx="3.46" ry="2.77" fill="#4cc03c" fill-opacity="0.56" stroke="#4cc03c" stroke-width="1.0" stroke-opacity="0.8" transform="rotate(117 124.1 686.1)"/>
<ellipse cx="95.7" cy="665.3" rx="2.88" ry="2.30" fill="#38a02a" fill-opacity="0.56" stroke="#38a02a" stroke-width="1.0" stroke-opacity="0.8" transform="rotate(152 95.7 665.3)"/>
<ellipse cx="109.8" cy="636.4" rx="3.11" ry="2.49" fill="#38a02a" fill-opacity="0.56" stroke="#38a02a" stroke-width="1.0" stroke-opacity="0.8" transform="rotate(94 109.8 636.4)"/>
<ellipse cx="136.3" cy="646.1" rx="3.18" ry="2.54" fill="#38a02a" fill-opacity="0.56" stroke="#38a02a" stroke-width="1.0" stroke-opacity="0.8" transform="rotate(65 136.3 646.1)"/>
<ellipse cx="117.9" cy="666.0" rx="3.03" ry="2.42" fill="#40b030" fill-opacity="0.56" stroke="#40b030" stroke-width="1.0" stroke-opacity="0.8" transform="rotate(48 117.9 666.0)"/>
<ellipse cx="92.8" cy="702.1" rx="2.77" ry="2.22" fill="#4cc03c" fill-opacity="0.56" stroke="#4cc03c" stroke-width="1.0" stroke-opacity="0.8" transform="rotate(140 92.8 702.1)"/>
<ellipse cx="131.7" cy="715.8" rx="3.49" ry="2.79" fill="#4cc03c" fill-opacity="0.56" stroke="#4cc03c" stroke-width="1.0" stroke-opacity="0.8" transform="rotate(145 131.7 715.8)"/>
<ellipse cx="123.3" cy="634.4" rx="3.39" ry="2.71" fill="#4cc03c" fill-opacity="0.56" stroke="#4cc03c" stroke-width="1.0" stroke-opacity="0.8" transform="rotate(44 123.3 634.4)"/>
<ellipse cx="105.2" cy="630.1" rx="3.00" ry="2.40" fill="#4cc03c" fill-opacity="0.56" stroke="#4cc03c" stroke-width="1.0" stroke-opacity="0.8" transform="rotate(45 105.2 630.1)"/>
<ellipse cx="144.9" cy="681.9" rx="3.33" ry="2.66" fill="#4cc03c" fill-opacity="0.56" stroke="#4cc03c" stroke-width="1.0" stroke-opacity="0.8" transform="rotate(89 144.9 681.9)"/>
<ellipse cx="95.4" cy="609.8" rx="2.58" ry="2.07" fill="#40b030" fill-opacity="0.56" stroke="#40b030" stroke-width="1.0" stroke-opacity="0.8" transform="rotate(140 95.4 609.8)"/>
<ellipse cx="157.5" cy="730.0" rx="3.29" ry="2.63" fill="#40b030" fill-opacity="0.56" stroke="#40b030" stroke-width="1.0" stroke-opacity="0.8" transform="rotate(4 157.5 730.0)"/>
<ellipse cx="101.4" cy="632.5" rx="2.60" ry="2.08" fill="#4cc03c" fill-opacity="0.56" stroke="#4cc03c" stroke-width="1.0" stroke-opacity="0.8" transform="rotate(156 101.4 632.5)"/>
<ellipse cx="151.4" cy="730.7" rx="2.59" ry="2.07" fill="#38a02a" fill-opacity="0.56" stroke="#38a02a" stroke-width="1.0" stroke-opacity="0.8" transform="rotate(64 151.4 730.7)"/>
<ellipse cx="156.7" cy="603.0" rx="3.29" ry="2.63" fill="#40b030" fill-opacity="0.56" stroke="#40b030" stroke-width="1.0" stroke-opacity="0.8" transform="rotate(155 156.7 603.0)"/>
<ellipse cx="133.8" cy="647.6" rx="3.33" ry="2.66" fill="#40b030" fill-opacity="0.56" stroke="#40b030" stroke-width="1.0" stroke-opacity="0.8" transform="rotate(130 133.8 647.6)"/>
<ellipse cx="130.0" cy="640.6" rx="2.80" ry="2.24" fill="#4cc03c" fill-opacity="0.56" stroke="#4cc03c" stroke-width="1.0" stroke-opacity="0.8" transform="rotate(174 130.0 640.6)"/>
<ellipse cx="92.6" cy="727.0" rx="3.42" ry="2.73" fill="#38a02a" fill-opacity="0.56" stroke="#38a02a" stroke-width="1.0" stroke-opacity="0.8" transform="rotate(63 92.6 727.0)"/>
<ellipse cx="99.2" cy="631.1" rx="2.89" ry="2.31" fill="#4cc03c" fill-opacity="0.56" stroke="#4cc03c" stroke-width="1.0" stroke-opacity="0.8" transform="rotate(131 99.2 631.1)"/>
<ellipse cx="92.6" cy="672.6" rx="2.58" ry="2.07" fill="#40b030" fill-opacity="0.56" stroke="#40b030" stroke-width="1.0" stroke-opacity="0.8" transform="rotate(61 92.6 672.6)"/>
<ellipse cx="101.9" cy="733.7" rx="2.56" ry="2.05" fill="#38a02a" fill-opacity="0.56" stroke="#38a02a" stroke-width="1.0" stroke-opacity="0.8" transform="rotate(32 101.9 733.7)"/>
<ellipse cx="100.0" cy="688.2" rx="2.80" ry="2.24" fill="#40b030" fill-opacity="0.56" stroke="#40b030" stroke-width="1.0" stroke-opacity="0.8" transform="rotate(133 100.0 688.2)"/>
<ellipse cx="121.5" cy="676.8" rx="3.44" ry="2.75" fill="#40b030" fill-opacity="0.56" stroke="#40b030" stroke-width="1.0" stroke-opacity="0.8" transform="rotate(168 121.5 676.8)"/>
<ellipse cx="97.3" cy="641.8" rx="2.91" ry="2.33" fill="#40b030" fill-opacity="0.56" stroke="#40b030" stroke-width="1.0" stroke-opacity="0.8" transform="rotate(24 97.3 641.8)"/>
<ellipse cx="118.8" cy="696.5" rx="2.95" ry="2.36" fill="#38a02a" fill-opacity="0.56" stroke="#38a02a" stroke-width="1.0" stroke-opacity="0.8" transform="rotate(110 118.8 696.5)"/>
<ellipse cx="117.0" cy="732.4" rx="3.08" ry="2.46" fill="#38a02a" fill-opacity="0.56" stroke="#38a02a" stroke-width="1.0" stroke-opacity="0.8" transform="rotate(166 117.0 732.4)"/>
<ellipse cx="136.4" cy="739.3" rx="2.99" ry="2.39" fill="#4cc03c" fill-opacity="0.56" stroke="#4cc03c" stroke-width="1.0" stroke-opacity="0.8" transform="rotate(132 136.4 739.3)"/>
<ellipse cx="142.6" cy="621.1" rx="2.77" ry="2.21" fill="#4cc03c" fill-opacity="0.56" stroke="#4cc03c" stroke-width="1.0" stroke-opacity="0.8" transform="rotate(150 142.6 621.1)"/>
<ellipse cx="146.7" cy="634.3" rx="3.14" ry="2.51" fill="#38a02a" fill-opacity="0.56" stroke="#38a02a" stroke-width="1.0" stroke-opacity="0.8" transform="rotate(96 146.7 634.3)"/>
<ellipse cx="153.6" cy="636.2" rx="2.72" ry="2.17" fill="#38a02a" fill-opacity="0.56" stroke="#38a02a" stroke-width="1.0" stroke-opacity="0.8" transform="rotate(70 153.6 636.2)"/>
<ellipse cx="97.4" cy="665.8" rx="2.98" ry="2.38" fill="#4cc03c" fill-opacity="0.56" stroke="#4cc03c" stroke-width="1.0" stroke-opacity="0.8" transform="rotate(71 97.4 665.8)"/>
<ellipse cx="90.4" cy="648.4" rx="3.44" ry="2.76" fill="#4cc03c" fill-opacity="0.56" stroke="#4cc03c" stroke-width="1.0" stroke-opacity="0.8" transform="rotate(68 90.4 648.4)"/>
<ellipse cx="89.9" cy="740.7" rx="3.33" ry="2.66" fill="#40b030" fill-opacity="0.56" stroke="#40b030" stroke-width="1.0" stroke-opacity="0.8" transform="rotate(14 89.9 740.7)"/>
<ellipse cx="100.9" cy="679.4" rx="2.63" ry="2.10" fill="#4cc03c" fill-opacity="0.56" stroke="#4cc03c" stroke-width="1.0" stroke-opacity="0.8" transform="rotate(102 100.9 679.4)"/>
<ellipse cx="128.5" cy="723.5" rx="2.87" ry="2.30" fill="#38a02a" fill-opacity="0.56" stroke="#38a02a" stroke-width="1.0" stroke-opacity="0.8" transform="rotate(7 128.5 723.5)"/>
<ellipse cx="130.1" cy="690.7" rx="3.49" ry="2.79" fill="#4cc03c" fill-opacity="0.56" stroke="#4cc03c" stroke-width="1.0" stroke-opacity="0.8" transform="rotate(19 130.1 690.7)"/>
<ellipse cx="110.4" cy="608.4" rx="3.34" ry="2.67" fill="#38a02a" fill-opacity="0.56" stroke="#38a02a" stroke-width="1.0" stroke-opacity="0.8" transform="rotate(42 110.4 608.4)"/>
<ellipse cx="113.6" cy="644.7" rx="2.87" ry="2.30" fill="#4cc03c" fill-opacity="0.56" stroke="#4cc03c" stroke-width="1.0" stroke-opacity="0.8" transform="rotate(67 113.6 644.7)"/>
<ellipse cx="132.0" cy="598.9" rx="2.64" ry="2.11" fill="#38a02a" fill-opacity="0.56" stroke="#38a02a" stroke-width="1.0" stroke-opacity="0.8" transform="rotate(119 132.0 598.9)"/>
<ellipse cx="133.5" cy="602.3" rx="3.46" ry="2.77" fill="#38a02a" fill-opacity="0.56" stroke="#38a02a" stroke-width="1.0" stroke-opacity="0.8" transform="rotate(65 133.5 602.3)"/>
<ellipse cx="113.6" cy="676.6" rx="2.80" ry="2.24" fill="#38a02a" fill-opacity="0.56" stroke="#38a02a" stroke-width="1.0" stroke-opacity="0.8" transform="rotate(48 113.6 676.6)"/>
<ellipse cx="89.6" cy="658.7" rx="2.79" ry="2.23" fill="#38a02a" fill-opacity="0.56" stroke="#38a02a" stroke-width="1.0" stroke-opacity="0.8" transform="rotate(47 89.6 658.7)"/>
</g>
</g>
<text x="115.5" y="603.2" font-size="10.6" text-anchor="middle" fill="#fff" filter="url(#tsh)">CaMKIIα</text>
<defs><linearGradient id="bg9" x1="0" x2="1" y1="0" y2="0"><stop offset="0" stop-color="#0c0202"/><stop offset="1" stop-color="#0a0202"/></linearGradient>
<clipPath id="cp9"><rect x="161.9" y="593.2" width="69.8" height="148.6"/></clipPath></defs>
<g clip-path="url(#cp9)">
<rect x="161.9" y="593.2" width="69.8" height="148.6" fill="url(#bg9)"/>
<rect x="161.9" y="593.2" width="69.8" height="148.6" filter="url(#nzr)" opacity="0.28"/>
<rect x="161.9" y="593.2" width="69.8" height="148.6" filter="url(#nzrb)" opacity="0.15"/>
<g filter="url(#bl2)">
<ellipse cx="194.2" cy="648.7" rx="3.55" ry="2.49" fill="#2a0604" opacity="0.6"/>
<ellipse cx="185.5" cy="662.1" rx="5.42" ry="3.79" fill="#000000" opacity="0.6"/>
<ellipse cx="200.6" cy="684.8" rx="3.16" ry="2.21" fill="#000000" opacity="0.6"/>
<ellipse cx="173.7" cy="733.8" rx="6.81" ry="4.76" fill="#000000" opacity="0.6"/>
<ellipse cx="172.9" cy="628.6" rx="3.44" ry="2.41" fill="#2a0604" opacity="0.6"/>
<ellipse cx="215.9" cy="650.2" rx="5.98" ry="4.19" fill="#2a0604" opacity="0.6"/>
<ellipse cx="226.0" cy="623.7" rx="3.90" ry="2.73" fill="#000000" opacity="0.6"/>
<ellipse cx="224.0" cy="708.0" rx="6.65" ry="4.65" fill="#000000" opacity="0.6"/>
<ellipse cx="181.5" cy="713.5" rx="3.80" ry="2.66" fill="#2a0604" opacity="0.6"/>
<ellipse cx="223.3" cy="601.3" rx="4.52" ry="3.16" fill="#000000" opacity="0.6"/>
<ellipse cx="171.6" cy="628.4" rx="5.94" ry="4.16" fill="#2a0604" opacity="0.6"/>
<ellipse cx="229.2" cy="593.8" rx="6.06" ry="4.24" fill="#2a0604" opacity="0.6"/>
<ellipse cx="224.4" cy="623.4" rx="3.03" ry="2.12" fill="#2a0604" opacity="0.6"/>
<ellipse cx="171.2" cy="729.6" rx="5.00" ry="3.50" fill="#000000" opacity="0.6"/>
<ellipse cx="199.4" cy="622.6" rx="3.28" ry="2.29" fill="#2a0604" opacity="0.6"/>
<ellipse cx="206.5" cy="607.1" rx="5.32" ry="3.72" fill="#2a0604" opacity="0.6"/>
<ellipse cx="227.5" cy="700.1" rx="3.16" ry="2.22" fill="#000000" opacity="0.6"/>
<ellipse cx="200.6" cy="683.3" rx="3.60" ry="2.52" fill="#000000" opacity="0.6"/>
<ellipse cx="213.3" cy="678.7" rx="3.14" ry="2.20" fill="#000000" opacity="0.6"/>
<ellipse cx="228.3" cy="628.4" rx="5.44" ry="3.81" fill="#2a0604" opacity="0.6"/>
<ellipse cx="213.3" cy="718.9" rx="5.09" ry="3.56" fill="#2a0604" opacity="0.6"/>
<ellipse cx="222.4" cy="609.5" rx="6.53" ry="4.57" fill="#000000" opacity="0.6"/>
<ellipse cx="193.4" cy="653.0" rx="6.94" ry="4.86" fill="#2a0604" opacity="0.6"/>
<ellipse cx="188.4" cy="683.5" rx="3.00" ry="2.10" fill="#2a0604" opacity="0.6"/>
<ellipse cx="176.8" cy="659.2" rx="4.30" ry="3.01" fill="#2a0604" opacity="0.6"/>
<ellipse cx="183.3" cy="635.5" rx="5.07" ry="3.55" fill="#2a0604" opacity="0.6"/>
<ellipse cx="163.7" cy="709.2" rx="6.23" ry="4.36" fill="#000000" opacity="0.6"/>
<ellipse cx="186.1" cy="708.8" rx="5.26" ry="3.68" fill="#2a0604" opacity="0.6"/>
<ellipse cx="191.6" cy="627.5" rx="6.86" ry="4.80" fill="#000000" opacity="0.6"/>
<ellipse cx="197.5" cy="735.2" rx="5.24" ry="3.67" fill="#2a0604" opacity="0.6"/>
</g>
<g filter="url(#bl1)">
<ellipse cx="208.5" cy="618.6" rx="2.81" ry="2.39" fill="#d02818" fill-opacity="0.30" stroke="#d02818" stroke-width="1.1" stroke-opacity="0.6"/>
<ellipse cx="164.0" cy="732.8" rx="2.77" ry="2.36" fill="#d02818" fill-opacity="0.30" stroke="#d02818" stroke-width="1.1" stroke-opacity="0.6"/>
<ellipse cx="228.0" cy="739.7" rx="2.53" ry="2.15" fill="#b82014" fill-opacity="0.30" stroke="#b82014" stroke-width="1.1" stroke-opacity="0.6"/>
<ellipse cx="165.3" cy="660.1" rx="2.74" ry="2.33" fill="#d02818" fill-opacity="0.30" stroke="#d02818" stroke-width="1.1" stroke-opacity="0.6"/>
<ellipse cx="204.6" cy="736.8" rx="2.23" ry="1.89" fill="#b82014" fill-opacity="0.30" stroke="#b82014" stroke-width="1.1" stroke-opacity="0.6"/>
<ellipse cx="195.5" cy="634.5" rx="2.95" ry="2.51" fill="#a01810" fill-opacity="0.30" stroke="#a01810" stroke-width="1.1" stroke-opacity="0.6"/>
<ellipse cx="200.7" cy="696.6" rx="1.88" ry="1.60" fill="#d02818" fill-opacity="0.30" stroke="#d02818" stroke-width="1.1" stroke-opacity="0.6"/>
<ellipse cx="171.8" cy="676.7" rx="2.75" ry="2.34" fill="#a01810" fill-opacity="0.30" stroke="#a01810" stroke-width="1.1" stroke-opacity="0.6"/>
<ellipse cx="223.8" cy="618.3" rx="2.66" ry="2.26" fill="#a01810" fill-opacity="0.30" stroke="#a01810" stroke-width="1.1" stroke-opacity="0.6"/>
<ellipse cx="223.3" cy="666.7" rx="1.92" ry="1.63" fill="#b82014" fill-opacity="0.30" stroke="#b82014" stroke-width="1.1" stroke-opacity="0.6"/>
<ellipse cx="181.2" cy="612.3" rx="2.76" ry="2.34" fill="#b82014" fill-opacity="0.30" stroke="#b82014" stroke-width="1.1" stroke-opacity="0.6"/>
<ellipse cx="173.2" cy="710.5" rx="2.83" ry="2.41" fill="#b82014" fill-opacity="0.30" stroke="#b82014" stroke-width="1.1" stroke-opacity="0.6"/>
<ellipse cx="174.2" cy="661.1" rx="2.47" ry="2.10" fill="#d02818" fill-opacity="0.30" stroke="#d02818" stroke-width="1.1" stroke-opacity="0.6"/>
<ellipse cx="167.7" cy="674.7" rx="2.51" ry="2.13" fill="#d02818" fill-opacity="0.30" stroke="#d02818" stroke-width="1.1" stroke-opacity="0.6"/>
<ellipse cx="199.3" cy="733.1" rx="1.83" ry="1.56" fill="#a01810" fill-opacity="0.30" stroke="#a01810" stroke-width="1.1" stroke-opacity="0.6"/>
<ellipse cx="224.0" cy="674.1" rx="2.43" ry="2.06" fill="#a01810" fill-opacity="0.30" stroke="#a01810" stroke-width="1.1" stroke-opacity="0.6"/>
<ellipse cx="206.7" cy="711.5" rx="2.85" ry="2.42" fill="#a01810" fill-opacity="0.30" stroke="#a01810" stroke-width="1.1" stroke-opacity="0.6"/>
<ellipse cx="199.7" cy="637.8" rx="2.67" ry="2.27" fill="#a01810" fill-opacity="0.30" stroke="#a01810" stroke-width="1.1" stroke-opacity="0.6"/>
<ellipse cx="171.5" cy="608.0" rx="2.39" ry="2.03" fill="#b82014" fill-opacity="0.30" stroke="#b82014" stroke-width="1.1" stroke-opacity="0.6"/>
<ellipse cx="196.1" cy="687.8" rx="1.86" ry="1.58" fill="#a01810" fill-opacity="0.30" stroke="#a01810" stroke-width="1.1" stroke-opacity="0.6"/>
<ellipse cx="163.9" cy="629.4" rx="2.35" ry="2.00" fill="#d02818" fill-opacity="0.30" stroke="#d02818" stroke-width="1.1" stroke-opacity="0.6"/>
<ellipse cx="219.4" cy="701.6" rx="2.55" ry="2.17" fill="#b82014" fill-opacity="0.30" stroke="#b82014" stroke-width="1.1" stroke-opacity="0.6"/>
<ellipse cx="164.4" cy="681.9" rx="2.54" ry="2.16" fill="#a01810" fill-opacity="0.30" stroke="#a01810" stroke-width="1.1" stroke-opacity="0.6"/>
<ellipse cx="190.5" cy="680.7" rx="1.90" ry="1.61" fill="#b82014" fill-opacity="0.30" stroke="#b82014" stroke-width="1.1" stroke-opacity="0.6"/>
<ellipse cx="204.3" cy="620.1" rx="1.88" ry="1.60" fill="#d02818" fill-opacity="0.30" stroke="#d02818" stroke-width="1.1" stroke-opacity="0.6"/>
<ellipse cx="205.5" cy="674.5" rx="2.37" ry="2.01" fill="#a01810" fill-opacity="0.30" stroke="#a01810" stroke-width="1.1" stroke-opacity="0.6"/>
<ellipse cx="216.0" cy="642.8" rx="2.74" ry="2.33" fill="#b82014" fill-opacity="0.30" stroke="#b82014" stroke-width="1.1" stroke-opacity="0.6"/>
<ellipse cx="194.3" cy="659.9" rx="1.98" ry="1.68" fill="#d02818" fill-opacity="0.30" stroke="#d02818" stroke-width="1.1" stroke-opacity="0.6"/>
<ellipse cx="230.7" cy="717.0" rx="1.93" ry="1.64" fill="#d02818" fill-opacity="0.30" stroke="#d02818" stroke-width="1.1" stroke-opacity="0.6"/>
<ellipse cx="208.8" cy="660.3" rx="1.96" ry="1.66" fill="#b82014" fill-opacity="0.30" stroke="#b82014" stroke-width="1.1" stroke-opacity="0.6"/>
<ellipse cx="169.5" cy="601.0" rx="1.89" ry="1.61" fill="#a01810" fill-opacity="0.30" stroke="#a01810" stroke-width="1.1" stroke-opacity="0.6"/>
<ellipse cx="230.0" cy="648.5" rx="2.69" ry="2.29" fill="#d02818" fill-opacity="0.30" stroke="#d02818" stroke-width="1.1" stroke-opacity="0.6"/>
<ellipse cx="205.6" cy="623.0" rx="2.85" ry="2.42" fill="#b82014" fill-opacity="0.30" stroke="#b82014" stroke-width="1.1" stroke-opacity="0.6"/>
<ellipse cx="178.4" cy="631.3" rx="2.42" ry="2.06" fill="#b82014" fill-opacity="0.30" stroke="#b82014" stroke-width="1.1" stroke-opacity="0.6"/>
<ellipse cx="163.0" cy="630.8" rx="2.53" ry="2.15" fill="#b82014" fill-opacity="0.30" stroke="#b82014" stroke-width="1.1" stroke-opacity="0.6"/>
<ellipse cx="198.2" cy="655.2" rx="2.88" ry="2.45" fill="#d02818" fill-opacity="0.30" stroke="#d02818" stroke-width="1.1" stroke-opacity="0.6"/>
<ellipse cx="221.3" cy="683.1" rx="2.06" ry="1.76" fill="#b82014" fill-opacity="0.30" stroke="#b82014" stroke-width="1.1" stroke-opacity="0.6"/>
<ellipse cx="209.4" cy="612.8" rx="1.85" ry="1.57" fill="#b82014" fill-opacity="0.30" stroke="#b82014" stroke-width="1.1" stroke-opacity="0.6"/>
<ellipse cx="230.0" cy="710.0" rx="2.88" ry="2.45" fill="#b82014" fill-opacity="0.30" stroke="#b82014" stroke-width="1.1" stroke-opacity="0.6"/>
<ellipse cx="223.1" cy="729.9" rx="2.96" ry="2.52" fill="#b82014" fill-opacity="0.30" stroke="#b82014" stroke-width="1.1" stroke-opacity="0.6"/>
</g>
<g filter="url(#bl1)">
<ellipse cx="164.0" cy="619.3" rx="1.73" ry="1.47" fill="#e83020" opacity="0.8"/>
<ellipse cx="196.2" cy="613.8" rx="2.07" ry="1.76" fill="#e83020" opacity="0.8"/>
<ellipse cx="191.9" cy="597.9" rx="1.64" ry="1.39" fill="#e83020" opacity="0.8"/>
<ellipse cx="204.5" cy="627.0" rx="1.75" ry="1.49" fill="#e83020" opacity="0.8"/>
<ellipse cx="184.9" cy="596.7" rx="1.47" ry="1.25" fill="#e83020" opacity="0.8"/>
<ellipse cx="199.9" cy="604.4" rx="1.97" ry="1.67" fill="#e83020" opacity="0.8"/>
<ellipse cx="227.8" cy="598.3" rx="2.18" ry="1.85" fill="#e83020" opacity="0.8"/>
<ellipse cx="176.6" cy="625.4" rx="1.67" ry="1.42" fill="#e83020" opacity="0.8"/>
<ellipse cx="208.7" cy="618.3" rx="1.58" ry="1.34" fill="#e83020" opacity="0.8"/>
<ellipse cx="215.2" cy="640.7" rx="1.80" ry="1.53" fill="#e83020" opacity="0.8"/>
</g>
</g>
<text x="197.0" y="603.2" font-size="10.6" text-anchor="middle" fill="#fff" filter="url(#tsh)">mCherry</text>
<defs><linearGradient id="bg10" x1="0" x2="1" y1="0" y2="0"><stop offset="0" stop-color="#1c2408"/><stop offset="1" stop-color="#1a2208"/></linearGradient>
<clipPath id="cp10"><rect x="242.8" y="593.2" width="70.3" height="148.6"/></clipPath></defs>
<g clip-path="url(#cp10)">
<rect x="242.8" y="593.2" width="70.3" height="148.6" fill="url(#bg10)"/>
<rect x="242.8" y="593.2" width="70.3" height="148.6" filter="url(#nzg)" opacity="0.6"/>
<rect x="242.8" y="593.2" width="70.3" height="148.6" filter="url(#nzr)" opacity="0.25"/>
<g filter="url(#bl2)">
<ellipse cx="283.0" cy="656.9" rx="5.31" ry="3.72" fill="#4a1a08" opacity="0.6"/>
<ellipse cx="275.3" cy="666.2" rx="4.11" ry="2.88" fill="#4a1a08" opacity="0.6"/>
<ellipse cx="245.2" cy="666.0" rx="3.30" ry="2.31" fill="#000000" opacity="0.6"/>
<ellipse cx="245.9" cy="721.0" rx="5.41" ry="3.79" fill="#40700e" opacity="0.6"/>
<ellipse cx="272.4" cy="716.1" rx="4.05" ry="2.83" fill="#4a1a08" opacity="0.6"/>
<ellipse cx="291.0" cy="691.6" rx="3.53" ry="2.47" fill="#4a1a08" opacity="0.6"/>
<ellipse cx="310.9" cy="684.3" rx="3.18" ry="2.22" fill="#3a5a10" opacity="0.6"/>
<ellipse cx="259.4" cy="622.2" rx="6.64" ry="4.65" fill="#000000" opacity="0.6"/>
<ellipse cx="297.1" cy="628.9" rx="5.67" ry="3.97" fill="#40700e" opacity="0.6"/>
<ellipse cx="273.5" cy="602.9" rx="5.34" ry="3.74" fill="#4a1a08" opacity="0.6"/>
<ellipse cx="302.0" cy="737.3" rx="3.95" ry="2.77" fill="#3a5a10" opacity="0.6"/>
<ellipse cx="277.7" cy="714.8" rx="5.63" ry="3.94" fill="#3a5a10" opacity="0.6"/>
<ellipse cx="253.3" cy="677.5" rx="4.50" ry="3.15" fill="#4a1a08" opacity="0.6"/>
<ellipse cx="250.7" cy="708.4" rx="3.39" ry="2.37" fill="#4a1a08" opacity="0.6"/>
<ellipse cx="311.8" cy="621.6" rx="4.39" ry="3.08" fill="#40700e" opacity="0.6"/>
<ellipse cx="274.1" cy="694.4" rx="3.57" ry="2.50" fill="#4a1a08" opacity="0.6"/>
<ellipse cx="303.6" cy="632.9" rx="4.21" ry="2.95" fill="#4a1a08" opacity="0.6"/>
<ellipse cx="297.5" cy="664.5" rx="4.39" ry="3.07" fill="#40700e" opacity="0.6"/>
<ellipse cx="258.5" cy="674.2" rx="3.17" ry="2.22" fill="#000000" opacity="0.6"/>
<ellipse cx="259.9" cy="632.1" rx="4.62" ry="3.23" fill="#4a1a08" opacity="0.6"/>
<ellipse cx="270.3" cy="722.4" rx="5.69" ry="3.99" fill="#4a1a08" opacity="0.6"/>
<ellipse cx="294.6" cy="740.7" rx="4.09" ry="2.86" fill="#40700e" opacity="0.6"/>
<ellipse cx="285.1" cy="602.5" rx="4.96" ry="3.47" fill="#40700e" opacity="0.6"/>
<ellipse cx="305.9" cy="613.4" rx="5.17" ry="3.62" fill="#000000" opacity="0.6"/>
<ellipse cx="280.7" cy="666.0" rx="3.66" ry="2.56" fill="#40700e" opacity="0.6"/>
<ellipse cx="249.7" cy="737.9" rx="6.32" ry="4.42" fill="#3a5a10" opacity="0.6"/>
<ellipse cx="273.6" cy="602.9" rx="4.40" ry="3.08" fill="#4a1a08" opacity="0.6"/>
<ellipse cx="250.4" cy="660.7" rx="6.97" ry="4.88" fill="#40700e" opacity="0.6"/>
<ellipse cx="252.6" cy="721.3" rx="6.10" ry="4.27" fill="#40700e" opacity="0.6"/>
<ellipse cx="266.9" cy="631.7" rx="6.15" ry="4.31" fill="#40700e" opacity="0.6"/>
<ellipse cx="272.6" cy="689.7" rx="6.64" ry="4.65" fill="#4a1a08" opacity="0.6"/>
<ellipse cx="294.8" cy="641.2" rx="3.13" ry="2.19" fill="#4a1a08" opacity="0.6"/>
<ellipse cx="288.0" cy="680.7" rx="6.32" ry="4.42" fill="#40700e" opacity="0.6"/>
<ellipse cx="244.6" cy="610.5" rx="4.19" ry="2.93" fill="#4a1a08" opacity="0.6"/>
<ellipse cx="293.3" cy="725.3" rx="3.18" ry="2.23" fill="#3a5a10" opacity="0.6"/>
</g>
<g filter="url(#bl1)">
<ellipse cx="311.8" cy="635.6" rx="3.27" ry="2.62" fill="#50c848" opacity="0.9" transform="rotate(65 311.8 635.6)"/>
<circle cx="311.8" cy="635.6" r="1.64" fill="#4060e8" opacity="0.81"/>
<ellipse cx="271.0" cy="710.1" rx="3.59" ry="2.87" fill="#50c848" opacity="0.9" transform="rotate(14 271.0 710.1)"/>
<circle cx="271.0" cy="710.1" r="1.79" fill="#4060e8" opacity="0.81"/>
<ellipse cx="256.5" cy="624.1" rx="2.70" ry="2.16" fill="#40b838" opacity="0.9" transform="rotate(160 256.5 624.1)"/>
<circle cx="256.5" cy="624.1" r="1.35" fill="#4a70e0" opacity="0.81"/>
<ellipse cx="275.4" cy="703.7" rx="3.30" ry="2.64" fill="#60c848" opacity="0.9" transform="rotate(81 275.4 703.7)"/>
<circle cx="275.4" cy="703.7" r="1.65" fill="#5080d8" opacity="0.81"/>
<ellipse cx="295.1" cy="624.2" rx="3.20" ry="2.56" fill="#48c040" opacity="0.9" transform="rotate(113 295.1 624.2)"/>
<circle cx="295.1" cy="624.2" r="1.60" fill="#3850e0" opacity="0.81"/>
<ellipse cx="286.9" cy="624.3" rx="3.21" ry="2.57" fill="#60c848" opacity="0.9" transform="rotate(157 286.9 624.3)"/>
<circle cx="286.9" cy="624.3" r="1.60" fill="#5080d8" opacity="0.81"/>
<ellipse cx="288.7" cy="603.6" rx="3.02" ry="2.42" fill="#48c040" opacity="0.9" transform="rotate(148 288.7 603.6)"/>
<circle cx="288.7" cy="603.6" r="1.51" fill="#3850e0" opacity="0.81"/>
<ellipse cx="267.3" cy="646.7" rx="3.02" ry="2.42" fill="#50c848" opacity="0.9" transform="rotate(113 267.3 646.7)"/>
<circle cx="267.3" cy="646.7" r="1.51" fill="#4060e8" opacity="0.81"/>
<ellipse cx="262.7" cy="696.5" rx="3.11" ry="2.49" fill="#40b838" opacity="0.9" transform="rotate(73 262.7 696.5)"/>
<circle cx="262.7" cy="696.5" r="1.55" fill="#4a70e0" opacity="0.81"/>
<ellipse cx="287.8" cy="645.1" rx="2.88" ry="2.30" fill="#60c848" opacity="0.9" transform="rotate(154 287.8 645.1)"/>
<circle cx="287.8" cy="645.1" r="1.44" fill="#5080d8" opacity="0.81"/>
<ellipse cx="284.1" cy="605.7" rx="3.14" ry="2.51" fill="#40b838" opacity="0.9" transform="rotate(144 284.1 605.7)"/>
<circle cx="284.1" cy="605.7" r="1.57" fill="#4a70e0" opacity="0.81"/>
<ellipse cx="271.3" cy="711.1" rx="3.56" ry="2.85" fill="#60c848" opacity="0.9" transform="rotate(130 271.3 711.1)"/>
<circle cx="271.3" cy="711.1" r="1.78" fill="#5080d8" opacity="0.81"/>
<ellipse cx="247.4" cy="719.1" rx="3.44" ry="2.75" fill="#48c040" opacity="0.9" transform="rotate(107 247.4 719.1)"/>
<circle cx="247.4" cy="719.1" r="1.72" fill="#3850e0" opacity="0.81"/>
<ellipse cx="288.6" cy="604.2" rx="3.00" ry="2.40" fill="#40b838" opacity="0.9" transform="rotate(51 288.6 604.2)"/>
<circle cx="288.6" cy="604.2" r="1.50" fill="#4a70e0" opacity="0.81"/>
<ellipse cx="255.9" cy="618.2" rx="2.70" ry="2.16" fill="#48c040" opacity="0.9" transform="rotate(40 255.9 618.2)"/>
<circle cx="255.9" cy="618.2" r="1.35" fill="#3850e0" opacity="0.81"/>
<ellipse cx="295.2" cy="734.5" rx="2.79" ry="2.23" fill="#60c848" opacity="0.9" transform="rotate(165 295.2 734.5)"/>
<circle cx="295.2" cy="734.5" r="1.40" fill="#5080d8" opacity="0.81"/>
<ellipse cx="299.4" cy="681.4" rx="2.99" ry="2.39" fill="#40b838" opacity="0.9" transform="rotate(153 299.4 681.4)"/>
<circle cx="299.4" cy="681.4" r="1.50" fill="#4a70e0" opacity="0.81"/>
<ellipse cx="283.2" cy="670.9" rx="3.41" ry="2.73" fill="#40b838" opacity="0.9" transform="rotate(157 283.2 670.9)"/>
<circle cx="283.2" cy="670.9" r="1.70" fill="#4a70e0" opacity="0.81"/>
<ellipse cx="289.0" cy="679.1" rx="2.64" ry="2.11" fill="#40b838" opacity="0.9" transform="rotate(155 289.0 679.1)"/>
<circle cx="289.0" cy="679.1" r="1.32" fill="#4a70e0" opacity="0.81"/>
<ellipse cx="270.7" cy="682.5" rx="2.77" ry="2.22" fill="#50c848" opacity="0.9" transform="rotate(21 270.7 682.5)"/>
<circle cx="270.7" cy="682.5" r="1.39" fill="#4060e8" opacity="0.81"/>
<ellipse cx="298.3" cy="644.5" rx="2.76" ry="2.21" fill="#40b838" opacity="0.9" transform="rotate(16 298.3 644.5)"/>
<circle cx="298.3" cy="644.5" r="1.38" fill="#4a70e0" opacity="0.81"/>
<ellipse cx="273.7" cy="724.1" rx="2.66" ry="2.13" fill="#60c848" opacity="0.9" transform="rotate(127 273.7 724.1)"/>
<circle cx="273.7" cy="724.1" r="1.33" fill="#5080d8" opacity="0.81"/>
<ellipse cx="285.7" cy="700.6" rx="3.59" ry="2.87" fill="#50c848" opacity="0.9" transform="rotate(64 285.7 700.6)"/>
<circle cx="285.7" cy="700.6" r="1.79" fill="#4060e8" opacity="0.81"/>
<ellipse cx="272.6" cy="715.8" rx="3.56" ry="2.84" fill="#60c848" opacity="0.9" transform="rotate(70 272.6 715.8)"/>
<circle cx="272.6" cy="715.8" r="1.78" fill="#5080d8" opacity="0.81"/>
<ellipse cx="249.6" cy="688.5" rx="2.64" ry="2.11" fill="#50c848" opacity="0.9" transform="rotate(115 249.6 688.5)"/>
<circle cx="249.6" cy="688.5" r="1.32" fill="#4060e8" opacity="0.81"/>
<ellipse cx="256.2" cy="656.9" rx="3.51" ry="2.81" fill="#40b838" opacity="0.9" transform="rotate(101 256.2 656.9)"/>
<circle cx="256.2" cy="656.9" r="1.75" fill="#4a70e0" opacity="0.81"/>
<ellipse cx="310.3" cy="683.2" rx="2.77" ry="2.21" fill="#50c848" opacity="0.9" transform="rotate(9 310.3 683.2)"/>
<circle cx="310.3" cy="683.2" r="1.38" fill="#4060e8" opacity="0.81"/>
<ellipse cx="255.2" cy="687.7" rx="2.96" ry="2.37" fill="#50c848" opacity="0.9" transform="rotate(54 255.2 687.7)"/>
<circle cx="255.2" cy="687.7" r="1.48" fill="#4060e8" opacity="0.81"/>
<ellipse cx="302.6" cy="652.0" rx="3.36" ry="2.69" fill="#48c040" opacity="0.9" transform="rotate(62 302.6 652.0)"/>
<circle cx="302.6" cy="652.0" r="1.68" fill="#3850e0" opacity="0.81"/>
<ellipse cx="256.5" cy="617.4" rx="3.01" ry="2.40" fill="#60c848" opacity="0.9" transform="rotate(169 256.5 617.4)"/>
<circle cx="256.5" cy="617.4" r="1.50" fill="#5080d8" opacity="0.81"/>
<ellipse cx="265.9" cy="598.7" rx="3.43" ry="2.75" fill="#50c848" opacity="0.9" transform="rotate(105 265.9 598.7)"/>
<circle cx="265.9" cy="598.7" r="1.72" fill="#4060e8" opacity="0.81"/>
<ellipse cx="272.4" cy="669.5" rx="3.49" ry="2.79" fill="#60c848" opacity="0.9" transform="rotate(174 272.4 669.5)"/>
<circle cx="272.4" cy="669.5" r="1.74" fill="#5080d8" opacity="0.81"/>
<ellipse cx="270.7" cy="714.0" rx="2.84" ry="2.27" fill="#60c848" opacity="0.9" transform="rotate(130 270.7 714.0)"/>
<circle cx="270.7" cy="714.0" r="1.42" fill="#5080d8" opacity="0.81"/>
<ellipse cx="264.7" cy="636.3" rx="3.25" ry="2.60" fill="#48c040" opacity="0.9" transform="rotate(62 264.7 636.3)"/>
<circle cx="264.7" cy="636.3" r="1.62" fill="#3850e0" opacity="0.81"/>
<ellipse cx="306.6" cy="685.3" rx="3.21" ry="2.57" fill="#40b838" opacity="0.9" transform="rotate(2 306.6 685.3)"/>
<circle cx="306.6" cy="685.3" r="1.60" fill="#4a70e0" opacity="0.81"/>
<ellipse cx="253.9" cy="693.8" rx="3.29" ry="2.63" fill="#48c040" opacity="0.9" transform="rotate(92 253.9 693.8)"/>
<circle cx="253.9" cy="693.8" r="1.65" fill="#3850e0" opacity="0.81"/>
<ellipse cx="296.4" cy="608.0" rx="3.51" ry="2.80" fill="#50c848" opacity="0.9" transform="rotate(52 296.4 608.0)"/>
<circle cx="296.4" cy="608.0" r="1.75" fill="#4060e8" opacity="0.81"/>
<ellipse cx="247.7" cy="724.4" rx="3.22" ry="2.58" fill="#48c040" opacity="0.9" transform="rotate(13 247.7 724.4)"/>
<circle cx="247.7" cy="724.4" r="1.61" fill="#3850e0" opacity="0.81"/>
<ellipse cx="299.8" cy="595.8" rx="3.44" ry="2.75" fill="#40b838" opacity="0.9" transform="rotate(150 299.8 595.8)"/>
<circle cx="299.8" cy="595.8" r="1.72" fill="#4a70e0" opacity="0.81"/>
<ellipse cx="255.3" cy="600.2" rx="2.92" ry="2.34" fill="#60c848" opacity="0.9" transform="rotate(178 255.3 600.2)"/>
<circle cx="255.3" cy="600.2" r="1.46" fill="#5080d8" opacity="0.81"/>
<ellipse cx="254.8" cy="623.7" rx="2.89" ry="2.31" fill="#50c848" opacity="0.9" transform="rotate(44 254.8 623.7)"/>
<circle cx="254.8" cy="623.7" r="1.44" fill="#4060e8" opacity="0.81"/>
<ellipse cx="260.1" cy="684.5" rx="3.18" ry="2.55" fill="#60c848" opacity="0.9" transform="rotate(157 260.1 684.5)"/>
<circle cx="260.1" cy="684.5" r="1.59" fill="#5080d8" opacity="0.81"/>
<ellipse cx="296.3" cy="611.8" rx="2.72" ry="2.18" fill="#48c040" opacity="0.9" transform="rotate(123 296.3 611.8)"/>
<circle cx="296.3" cy="611.8" r="1.36" fill="#3850e0" opacity="0.81"/>
<ellipse cx="296.8" cy="619.6" rx="3.29" ry="2.63" fill="#48c040" opacity="0.9" transform="rotate(3 296.8 619.6)"/>
<circle cx="296.8" cy="619.6" r="1.65" fill="#3850e0" opacity="0.81"/>
<ellipse cx="273.3" cy="691.5" rx="3.22" ry="2.58" fill="#48c040" opacity="0.9" transform="rotate(99 273.3 691.5)"/>
<circle cx="273.3" cy="691.5" r="1.61" fill="#3850e0" opacity="0.81"/>
<ellipse cx="246.5" cy="649.1" rx="3.06" ry="2.45" fill="#40b838" opacity="0.9" transform="rotate(33 246.5 649.1)"/>
<circle cx="246.5" cy="649.1" r="1.53" fill="#4a70e0" opacity="0.81"/>
<ellipse cx="270.8" cy="661.5" rx="3.55" ry="2.84" fill="#40b838" opacity="0.9" transform="rotate(120 270.8 661.5)"/>
<circle cx="270.8" cy="661.5" r="1.78" fill="#4a70e0" opacity="0.81"/>
<ellipse cx="252.6" cy="630.8" rx="2.69" ry="2.15" fill="#48c040" opacity="0.9" transform="rotate(28 252.6 630.8)"/>
<circle cx="252.6" cy="630.8" r="1.35" fill="#3850e0" opacity="0.81"/>
<ellipse cx="248.3" cy="671.2" rx="2.74" ry="2.19" fill="#48c040" opacity="0.9" transform="rotate(97 248.3 671.2)"/>
<circle cx="248.3" cy="671.2" r="1.37" fill="#3850e0" opacity="0.81"/>
<ellipse cx="263.0" cy="685.1" rx="2.93" ry="2.35" fill="#48c040" opacity="0.9" transform="rotate(104 263.0 685.1)"/>
<circle cx="263.0" cy="685.1" r="1.47" fill="#3850e0" opacity="0.81"/>
<ellipse cx="287.5" cy="705.2" rx="3.03" ry="2.42" fill="#50c848" opacity="0.9" transform="rotate(128 287.5 705.2)"/>
<circle cx="287.5" cy="705.2" r="1.51" fill="#4060e8" opacity="0.81"/>
<ellipse cx="287.4" cy="683.7" rx="3.25" ry="2.60" fill="#48c040" opacity="0.9" transform="rotate(39 287.4 683.7)"/>
<circle cx="287.4" cy="683.7" r="1.62" fill="#3850e0" opacity="0.81"/>
<ellipse cx="264.3" cy="695.9" rx="3.02" ry="2.42" fill="#48c040" opacity="0.9" transform="rotate(67 264.3 695.9)"/>
<circle cx="264.3" cy="695.9" r="1.51" fill="#3850e0" opacity="0.81"/>
<ellipse cx="289.9" cy="610.4" rx="2.90" ry="2.32" fill="#60c848" opacity="0.9" transform="rotate(32 289.9 610.4)"/>
<circle cx="289.9" cy="610.4" r="1.45" fill="#5080d8" opacity="0.81"/>
<ellipse cx="286.8" cy="597.3" rx="3.21" ry="2.57" fill="#60c848" opacity="0.9" transform="rotate(118 286.8 597.3)"/>
<circle cx="286.8" cy="597.3" r="1.60" fill="#5080d8" opacity="0.81"/>
<ellipse cx="292.0" cy="714.7" rx="2.78" ry="2.22" fill="#60c848" opacity="0.9" transform="rotate(28 292.0 714.7)"/>
<circle cx="292.0" cy="714.7" r="1.39" fill="#5080d8" opacity="0.81"/>
<ellipse cx="277.2" cy="651.1" rx="3.07" ry="2.46" fill="#40b838" opacity="0.9" transform="rotate(177 277.2 651.1)"/>
<circle cx="277.2" cy="651.1" r="1.53" fill="#4a70e0" opacity="0.81"/>
<ellipse cx="277.6" cy="645.7" rx="3.56" ry="2.85" fill="#60c848" opacity="0.9" transform="rotate(27 277.6 645.7)"/>
<circle cx="277.6" cy="645.7" r="1.78" fill="#5080d8" opacity="0.81"/>
<ellipse cx="287.9" cy="640.2" rx="3.54" ry="2.83" fill="#50c848" opacity="0.9" transform="rotate(10 287.9 640.2)"/>
<circle cx="287.9" cy="640.2" r="1.77" fill="#4060e8" opacity="0.81"/>
<ellipse cx="246.5" cy="642.9" rx="3.13" ry="2.50" fill="#48c040" opacity="0.9" transform="rotate(68 246.5 642.9)"/>
<circle cx="246.5" cy="642.9" r="1.56" fill="#3850e0" opacity="0.81"/>
<ellipse cx="297.4" cy="710.1" rx="3.51" ry="2.81" fill="#48c040" opacity="0.9" transform="rotate(23 297.4 710.1)"/>
<circle cx="297.4" cy="710.1" r="1.76" fill="#3850e0" opacity="0.81"/>
<ellipse cx="312.5" cy="731.5" rx="3.04" ry="2.43" fill="#60c848" opacity="0.9" transform="rotate(150 312.5 731.5)"/>
<circle cx="312.5" cy="731.5" r="1.52" fill="#5080d8" opacity="0.81"/>
<ellipse cx="307.3" cy="700.6" rx="2.69" ry="2.15" fill="#48c040" opacity="0.9" transform="rotate(173 307.3 700.6)"/>
<circle cx="307.3" cy="700.6" r="1.35" fill="#3850e0" opacity="0.81"/>
<ellipse cx="299.6" cy="656.8" rx="2.78" ry="2.22" fill="#50c848" opacity="0.9" transform="rotate(137 299.6 656.8)"/>
<circle cx="299.6" cy="656.8" r="1.39" fill="#4060e8" opacity="0.81"/>
<ellipse cx="270.9" cy="696.9" rx="2.79" ry="2.23" fill="#50c848" opacity="0.9" transform="rotate(129 270.9 696.9)"/>
<circle cx="270.9" cy="696.9" r="1.40" fill="#4060e8" opacity="0.81"/>
<ellipse cx="301.7" cy="625.6" rx="3.12" ry="2.49" fill="#60c848" opacity="0.9" transform="rotate(123 301.7 625.6)"/>
<circle cx="301.7" cy="625.6" r="1.56" fill="#5080d8" opacity="0.81"/>
<ellipse cx="300.3" cy="650.5" rx="3.56" ry="2.85" fill="#48c040" opacity="0.9" transform="rotate(96 300.3 650.5)"/>
<circle cx="300.3" cy="650.5" r="1.78" fill="#3850e0" opacity="0.81"/>
<ellipse cx="295.5" cy="720.1" rx="3.19" ry="2.55" fill="#50c848" opacity="0.9" transform="rotate(13 295.5 720.1)"/>
<circle cx="295.5" cy="720.1" r="1.60" fill="#4060e8" opacity="0.81"/>
<ellipse cx="270.6" cy="606.4" rx="3.55" ry="2.84" fill="#48c040" opacity="0.9" transform="rotate(82 270.6 606.4)"/>
<circle cx="270.6" cy="606.4" r="1.77" fill="#3850e0" opacity="0.81"/>
<ellipse cx="289.5" cy="647.7" rx="3.23" ry="2.59" fill="#50c848" opacity="0.9" transform="rotate(60 289.5 647.7)"/>
<circle cx="289.5" cy="647.7" r="1.62" fill="#4060e8" opacity="0.81"/>
</g>
<g filter="url(#bl1)">
<ellipse cx="284.2" cy="616.2" rx="2.99" ry="2.39" fill="#e08040" opacity="0.9" transform="rotate(62 284.2 616.2)"/>
<circle cx="284.2" cy="616.2" r="1.49" fill="#6060c0" opacity="0.81"/>
<ellipse cx="265.7" cy="636.8" rx="3.32" ry="2.65" fill="#c8a040" opacity="0.9" transform="rotate(73 265.7 636.8)"/>
<circle cx="265.7" cy="636.8" r="1.66" fill="#5060e0" opacity="0.81"/>
<ellipse cx="262.8" cy="618.5" rx="3.26" ry="2.61" fill="#e08040" opacity="0.9" transform="rotate(77 262.8 618.5)"/>
<circle cx="262.8" cy="618.5" r="1.63" fill="#6060c0" opacity="0.81"/>
<ellipse cx="249.3" cy="661.9" rx="3.30" ry="2.64" fill="#c8a040" opacity="0.9" transform="rotate(148 249.3 661.9)"/>
<circle cx="249.3" cy="661.9" r="1.65" fill="#5060e0" opacity="0.81"/>
<ellipse cx="280.1" cy="735.0" rx="3.02" ry="2.41" fill="#e08040" opacity="0.9" transform="rotate(103 280.1 735.0)"/>
<circle cx="280.1" cy="735.0" r="1.51" fill="#6060c0" opacity="0.81"/>
<ellipse cx="306.0" cy="605.8" rx="3.36" ry="2.68" fill="#e08040" opacity="0.9" transform="rotate(153 306.0 605.8)"/>
<circle cx="306.0" cy="605.8" r="1.68" fill="#6060c0" opacity="0.81"/>
<ellipse cx="300.1" cy="651.7" rx="2.62" ry="2.09" fill="#e08040" opacity="0.9" transform="rotate(114 300.1 651.7)"/>
<circle cx="300.1" cy="651.7" r="1.31" fill="#6060c0" opacity="0.81"/>
<ellipse cx="292.8" cy="696.6" rx="2.84" ry="2.27" fill="#c8a040" opacity="0.9" transform="rotate(81 292.8 696.6)"/>
<circle cx="292.8" cy="696.6" r="1.42" fill="#5060e0" opacity="0.81"/>
<ellipse cx="258.7" cy="667.4" rx="2.97" ry="2.38" fill="#e08040" opacity="0.9" transform="rotate(175 258.7 667.4)"/>
<circle cx="258.7" cy="667.4" r="1.49" fill="#6060c0" opacity="0.81"/>
<ellipse cx="281.5" cy="659.8" rx="3.21" ry="2.57" fill="#e08040" opacity="0.9" transform="rotate(114 281.5 659.8)"/>
<circle cx="281.5" cy="659.8" r="1.60" fill="#6060c0" opacity="0.81"/>
<ellipse cx="300.1" cy="638.3" rx="2.79" ry="2.23" fill="#e08040" opacity="0.9" transform="rotate(109 300.1 638.3)"/>
<circle cx="300.1" cy="638.3" r="1.39" fill="#6060c0" opacity="0.81"/>
<ellipse cx="280.1" cy="716.9" rx="3.03" ry="2.43" fill="#c8a040" opacity="0.9" transform="rotate(11 280.1 716.9)"/>
<circle cx="280.1" cy="716.9" r="1.52" fill="#5060e0" opacity="0.81"/>
</g>
<g filter="url(#bl0)">
<circle cx="272.3" cy="706.4" r="1.43" fill="#3a48ff" opacity="0.95"/>
<circle cx="244.8" cy="662.6" r="1.33" fill="#3a48ff" opacity="0.95"/>
<circle cx="245.3" cy="614.2" r="1.69" fill="#2830d8" opacity="0.95"/>
<circle cx="244.4" cy="687.0" r="1.59" fill="#2f3cf0" opacity="0.95"/>
<circle cx="253.7" cy="599.4" r="1.82" fill="#3a48ff" opacity="0.95"/>
<circle cx="250.8" cy="699.2" r="2.04" fill="#2830d8" opacity="0.95"/>
<circle cx="267.4" cy="675.2" r="1.92" fill="#2830d8" opacity="0.95"/>
<circle cx="284.8" cy="637.0" r="1.35" fill="#4050ff" opacity="0.95"/>
<circle cx="289.6" cy="699.6" r="1.69" fill="#4050ff" opacity="0.95"/>
<circle cx="275.9" cy="603.6" r="1.76" fill="#2830d8" opacity="0.95"/>
<circle cx="263.1" cy="593.9" r="1.88" fill="#4050ff" opacity="0.95"/>
<circle cx="293.7" cy="599.5" r="1.89" fill="#3a48ff" opacity="0.95"/>
<circle cx="298.8" cy="646.7" r="1.40" fill="#3a48ff" opacity="0.95"/>
<circle cx="298.4" cy="623.3" r="2.06" fill="#2f3cf0" opacity="0.95"/>
<circle cx="277.3" cy="723.4" r="1.74" fill="#2830d8" opacity="0.95"/>
<circle cx="277.1" cy="738.5" r="1.90" fill="#2f3cf0" opacity="0.95"/>
<circle cx="260.0" cy="689.4" r="1.44" fill="#4050ff" opacity="0.95"/>
<circle cx="305.6" cy="676.4" r="1.85" fill="#3a48ff" opacity="0.95"/>
<circle cx="273.4" cy="621.4" r="1.88" fill="#2830d8" opacity="0.95"/>
<circle cx="276.6" cy="699.0" r="1.90" fill="#3a48ff" opacity="0.95"/>
<circle cx="299.2" cy="690.9" r="1.89" fill="#3a48ff" opacity="0.95"/>
<circle cx="256.1" cy="700.2" r="1.81" fill="#2f3cf0" opacity="0.95"/>
<circle cx="285.3" cy="729.7" r="1.93" fill="#2830d8" opacity="0.95"/>
<circle cx="265.0" cy="666.1" r="2.04" fill="#3a48ff" opacity="0.95"/>
<circle cx="299.0" cy="663.0" r="1.60" fill="#4050ff" opacity="0.95"/>
<circle cx="278.5" cy="655.9" r="1.71" fill="#2f3cf0" opacity="0.95"/>
<circle cx="260.1" cy="609.4" r="1.35" fill="#3a48ff" opacity="0.95"/>
<circle cx="262.3" cy="697.3" r="1.91" fill="#2830d8" opacity="0.95"/>
<circle cx="300.3" cy="645.3" r="2.01" fill="#3a48ff" opacity="0.95"/>
<circle cx="292.1" cy="730.5" r="1.90" fill="#4050ff" opacity="0.95"/>
<circle cx="288.3" cy="729.2" r="2.07" fill="#2f3cf0" opacity="0.95"/>
<circle cx="254.3" cy="613.4" r="1.49" fill="#4050ff" opacity="0.95"/>
<circle cx="247.5" cy="604.8" r="1.82" fill="#2830d8" opacity="0.95"/>
<circle cx="296.8" cy="688.1" r="2.01" fill="#4050ff" opacity="0.95"/>
<circle cx="292.2" cy="715.5" r="2.02" fill="#2f3cf0" opacity="0.95"/>
<circle cx="245.1" cy="725.4" r="1.72" fill="#2830d8" opacity="0.95"/>
<circle cx="295.0" cy="678.9" r="1.59" fill="#3a48ff" opacity="0.95"/>
<circle cx="275.5" cy="642.6" r="1.36" fill="#2830d8" opacity="0.95"/>
<circle cx="292.4" cy="724.0" r="1.82" fill="#2f3cf0" opacity="0.95"/>
<circle cx="309.0" cy="686.3" r="1.55" fill="#4050ff" opacity="0.95"/>
<circle cx="271.3" cy="634.0" r="1.42" fill="#3a48ff" opacity="0.95"/>
<circle cx="302.3" cy="659.2" r="1.94" fill="#2830d8" opacity="0.95"/>
<circle cx="273.0" cy="632.9" r="1.55" fill="#3a48ff" opacity="0.95"/>
<circle cx="290.7" cy="692.8" r="1.34" fill="#3a48ff" opacity="0.95"/>
<circle cx="282.6" cy="732.1" r="1.42" fill="#2830d8" opacity="0.95"/>
<circle cx="267.6" cy="661.7" r="1.59" fill="#2830d8" opacity="0.95"/>
<circle cx="247.9" cy="690.2" r="1.94" fill="#2f3cf0" opacity="0.95"/>
<circle cx="288.3" cy="703.1" r="1.50" fill="#3a48ff" opacity="0.95"/>
<circle cx="283.2" cy="632.9" r="1.84" fill="#2f3cf0" opacity="0.95"/>
<circle cx="302.2" cy="657.1" r="1.88" fill="#4050ff" opacity="0.95"/>
<circle cx="285.0" cy="601.5" r="1.57" fill="#4050ff" opacity="0.95"/>
<circle cx="262.6" cy="738.2" r="1.69" fill="#2f3cf0" opacity="0.95"/>
<circle cx="269.0" cy="725.8" r="1.77" fill="#4050ff" opacity="0.95"/>
<circle cx="308.5" cy="714.7" r="1.96" fill="#3a48ff" opacity="0.95"/>
<circle cx="270.0" cy="640.9" r="1.52" fill="#2830d8" opacity="0.95"/>
<circle cx="250.8" cy="609.1" r="1.51" fill="#3a48ff" opacity="0.95"/>
<circle cx="255.3" cy="694.5" r="1.44" fill="#2f3cf0" opacity="0.95"/>
<circle cx="278.1" cy="635.9" r="1.43" fill="#3a48ff" opacity="0.95"/>
<circle cx="306.4" cy="738.4" r="1.88" fill="#2f3cf0" opacity="0.95"/>
<circle cx="254.5" cy="594.6" r="2.03" fill="#3a48ff" opacity="0.95"/>
</g>
<g filter="url(#bl1)">
<ellipse cx="274.3" cy="681.6" rx="1.98" ry="1.68" fill="#ff3080" opacity="0.95"/>
<ellipse cx="244.0" cy="676.1" rx="2.01" ry="1.71" fill="#ff2040" opacity="0.95"/>
<ellipse cx="284.3" cy="615.6" rx="2.13" ry="1.81" fill="#ff2040" opacity="0.95"/>
<ellipse cx="310.8" cy="639.4" rx="2.08" ry="1.77" fill="#ff3080" opacity="0.95"/>
<ellipse cx="270.3" cy="618.0" rx="1.88" ry="1.59" fill="#ff2040" opacity="0.95"/>
<ellipse cx="303.0" cy="664.5" rx="2.48" ry="2.11" fill="#f040a0" opacity="0.95"/>
<ellipse cx="285.5" cy="687.2" rx="2.14" ry="1.82" fill="#ff3080" opacity="0.95"/>
<ellipse cx="303.5" cy="718.9" rx="1.66" ry="1.42" fill="#ff2040" opacity="0.95"/>
<ellipse cx="297.1" cy="653.5" rx="2.09" ry="1.78" fill="#ff2040" opacity="0.95"/>
<ellipse cx="292.8" cy="649.8" rx="1.84" ry="1.57" fill="#ff3080" opacity="0.95"/>
<ellipse cx="268.1" cy="719.5" rx="1.54" ry="1.31" fill="#ff2040" opacity="0.95"/>
<ellipse cx="301.5" cy="594.4" rx="1.65" ry="1.40" fill="#ff3080" opacity="0.95"/>
<ellipse cx="257.2" cy="629.5" rx="1.58" ry="1.34" fill="#f040a0" opacity="0.95"/>
<ellipse cx="294.1" cy="718.2" rx="1.87" ry="1.59" fill="#ff3080" opacity="0.95"/>
<ellipse cx="286.8" cy="619.5" rx="2.48" ry="2.11" fill="#ff3080" opacity="0.95"/>
<ellipse cx="291.4" cy="645.0" rx="1.80" ry="1.53" fill="#ff2040" opacity="0.95"/>
<ellipse cx="298.0" cy="736.8" rx="1.99" ry="1.69" fill="#ff3080" opacity="0.95"/>
<ellipse cx="299.9" cy="663.4" rx="1.80" ry="1.53" fill="#ff3080" opacity="0.95"/>
<ellipse cx="277.7" cy="698.3" rx="1.79" ry="1.52" fill="#ff3080" opacity="0.95"/>
<ellipse cx="276.3" cy="600.2" rx="1.57" ry="1.33" fill="#f040a0" opacity="0.95"/>
</g>
</g>
<text x="270.5" y="603.2" font-size="10.6" text-anchor="middle" fill="#fff" filter="url(#tsh)">Merged</text>
<text x="285.7" y="726.3" font-size="11.2" text-anchor="middle" fill="#fff" filter="url(#tsh)">MCx</text>
<line x1="246.6" y1="730.6" x2="263.0" y2="730.6" stroke="#ddd" stroke-width="1.3"/>
<defs><linearGradient id="bg11" x1="0" x2="1" y1="0" y2="0"><stop offset="0" stop-color="#184a0e"/><stop offset="1" stop-color="#16420c"/></linearGradient>
<clipPath id="cp11"><rect x="316.1" y="593.2" width="70.6" height="148.6"/></clipPath></defs>
<g clip-path="url(#cp11)">
<rect x="316.1" y="593.2" width="70.6" height="148.6" fill="url(#bg11)"/>
<rect x="316.1" y="593.2" width="70.6" height="148.6" filter="url(#nzg)" opacity="0.7"/>
<rect x="316.1" y="593.2" width="70.6" height="148.6" filter="url(#nzgb)" opacity="0.4"/>
<g filter="url(#bl2)">
<ellipse cx="348.0" cy="676.4" rx="6.70" ry="4.69" fill="#061806" opacity="0.6"/>
<ellipse cx="348.0" cy="720.3" rx="3.76" ry="2.63" fill="#061806" opacity="0.6"/>
<ellipse cx="360.6" cy="711.0" rx="3.38" ry="2.36" fill="#061806" opacity="0.6"/>
<ellipse cx="326.1" cy="673.2" rx="6.56" ry="4.59" fill="#2c7a1a" opacity="0.6"/>
<ellipse cx="358.1" cy="652.1" rx="4.81" ry="3.37" fill="#2c7a1a" opacity="0.6"/>
<ellipse cx="360.1" cy="716.8" rx="3.25" ry="2.28" fill="#2c7a1a" opacity="0.6"/>
<ellipse cx="329.5" cy="629.2" rx="3.12" ry="2.18" fill="#061806" opacity="0.6"/>
<ellipse cx="339.1" cy="681.0" rx="3.78" ry="2.65" fill="#2c7a1a" opacity="0.6"/>
<ellipse cx="361.3" cy="667.5" rx="5.65" ry="3.95" fill="#061806" opacity="0.6"/>
<ellipse cx="362.3" cy="653.6" rx="5.21" ry="3.64" fill="#2c7a1a" opacity="0.6"/>
<ellipse cx="366.1" cy="640.1" rx="3.92" ry="2.74" fill="#061806" opacity="0.6"/>
<ellipse cx="318.2" cy="676.9" rx="3.43" ry="2.40" fill="#2c7a1a" opacity="0.6"/>
<ellipse cx="375.9" cy="650.6" rx="6.83" ry="4.78" fill="#2c7a1a" opacity="0.6"/>
<ellipse cx="331.2" cy="731.0" rx="3.21" ry="2.25" fill="#061806" opacity="0.6"/>
<ellipse cx="385.3" cy="652.3" rx="3.29" ry="2.30" fill="#2c7a1a" opacity="0.6"/>
<ellipse cx="371.1" cy="633.3" rx="3.35" ry="2.34" fill="#061806" opacity="0.6"/>
<ellipse cx="317.2" cy="654.1" rx="6.69" ry="4.68" fill="#2c7a1a" opacity="0.6"/>
<ellipse cx="333.5" cy="608.2" rx="3.24" ry="2.27" fill="#061806" opacity="0.6"/>
<ellipse cx="328.6" cy="676.3" rx="4.79" ry="3.35" fill="#2c7a1a" opacity="0.6"/>
<ellipse cx="385.7" cy="707.6" rx="4.68" ry="3.27" fill="#061806" opacity="0.6"/>
<ellipse cx="324.3" cy="655.7" rx="3.85" ry="2.70" fill="#061806" opacity="0.6"/>
<ellipse cx="377.1" cy="738.1" rx="5.37" ry="3.76" fill="#2c7a1a" opacity="0.6"/>
<ellipse cx="331.0" cy="651.8" rx="6.42" ry="4.49" fill="#2c7a1a" opacity="0.6"/>
<ellipse cx="319.1" cy="614.9" rx="4.77" ry="3.34" fill="#2c7a1a" opacity="0.6"/>
<ellipse cx="370.7" cy="642.1" rx="4.19" ry="2.93" fill="#2c7a1a" opacity="0.6"/>
<ellipse cx="321.3" cy="624.2" rx="5.55" ry="3.88" fill="#2c7a1a" opacity="0.6"/>
<ellipse cx="358.6" cy="648.4" rx="4.81" ry="3.37" fill="#061806" opacity="0.6"/>
<ellipse cx="374.9" cy="613.4" rx="4.54" ry="3.18" fill="#2c7a1a" opacity="0.6"/>
<ellipse cx="338.0" cy="627.1" rx="5.44" ry="3.81" fill="#2c7a1a" opacity="0.6"/>
<ellipse cx="327.3" cy="686.7" rx="5.22" ry="3.65" fill="#061806" opacity="0.6"/>
<ellipse cx="378.4" cy="682.9" rx="4.69" ry="3.28" fill="#2c7a1a" opacity="0.6"/>
<ellipse cx="323.8" cy="669.3" rx="4.02" ry="2.81" fill="#061806" opacity="0.6"/>
<ellipse cx="334.2" cy="715.6" rx="5.39" ry="3.77" fill="#061806" opacity="0.6"/>
<ellipse cx="352.8" cy="731.3" rx="6.91" ry="4.84" fill="#2c7a1a" opacity="0.6"/>
<ellipse cx="332.2" cy="676.3" rx="6.41" ry="4.49" fill="#2c7a1a" opacity="0.6"/>
<ellipse cx="335.9" cy="729.5" rx="3.82" ry="2.67" fill="#2c7a1a" opacity="0.6"/>
<ellipse cx="321.0" cy="654.3" rx="4.00" ry="2.80" fill="#2c7a1a" opacity="0.6"/>
<ellipse cx="328.5" cy="648.0" rx="5.29" ry="3.70" fill="#2c7a1a" opacity="0.6"/>
<ellipse cx="322.6" cy="613.8" rx="4.80" ry="3.36" fill="#061806" opacity="0.6"/>
<ellipse cx="362.5" cy="695.9" rx="5.34" ry="3.74" fill="#2c7a1a" opacity="0.6"/>
</g>
<g filter="url(#bl1)">
<ellipse cx="357.7" cy="730.4" rx="3.27" ry="2.62" fill="#60e050" fill-opacity="0.63" stroke="#60e050" stroke-width="1.0" stroke-opacity="0.9" transform="rotate(126 357.7 730.4)"/>
<ellipse cx="384.1" cy="596.4" rx="3.44" ry="2.75" fill="#60e050" fill-opacity="0.63" stroke="#60e050" stroke-width="1.0" stroke-opacity="0.9" transform="rotate(12 384.1 596.4)"/>
<ellipse cx="338.1" cy="613.5" rx="2.87" ry="2.30" fill="#60e050" fill-opacity="0.63" stroke="#60e050" stroke-width="1.0" stroke-opacity="0.9" transform="rotate(98 338.1 613.5)"/>
<ellipse cx="368.1" cy="727.0" rx="3.54" ry="2.83" fill="#40b830" fill-opacity="0.63" stroke="#40b830" stroke-width="1.0" stroke-opacity="0.9" transform="rotate(23 368.1 727.0)"/>
<ellipse cx="384.1" cy="644.0" rx="2.88" ry="2.31" fill="#60e050" fill-opacity="0.63" stroke="#60e050" stroke-width="1.0" stroke-opacity="0.9" transform="rotate(162 384.1 644.0)"/>
<ellipse cx="377.6" cy="655.2" rx="3.59" ry="2.87" fill="#60e050" fill-opacity="0.63" stroke="#60e050" stroke-width="1.0" stroke-opacity="0.9" transform="rotate(103 377.6 655.2)"/>
<ellipse cx="360.2" cy="650.0" rx="3.38" ry="2.71" fill="#40b830" fill-opacity="0.63" stroke="#40b830" stroke-width="1.0" stroke-opacity="0.9" transform="rotate(13 360.2 650.0)"/>
<ellipse cx="322.5" cy="610.4" rx="3.06" ry="2.45" fill="#60e050" fill-opacity="0.63" stroke="#60e050" stroke-width="1.0" stroke-opacity="0.9" transform="rotate(131 322.5 610.4)"/>
<ellipse cx="343.5" cy="702.4" rx="3.38" ry="2.70" fill="#60e050" fill-opacity="0.63" stroke="#60e050" stroke-width="1.0" stroke-opacity="0.9" transform="rotate(83 343.5 702.4)"/>
<ellipse cx="354.3" cy="670.3" rx="3.31" ry="2.65" fill="#60e050" fill-opacity="0.63" stroke="#60e050" stroke-width="1.0" stroke-opacity="0.9" transform="rotate(108 354.3 670.3)"/>
<ellipse cx="350.1" cy="627.4" rx="3.50" ry="2.80" fill="#60e050" fill-opacity="0.63" stroke="#60e050" stroke-width="1.0" stroke-opacity="0.9" transform="rotate(140 350.1 627.4)"/>
<ellipse cx="362.7" cy="665.5" rx="3.70" ry="2.96" fill="#60e050" fill-opacity="0.63" stroke="#60e050" stroke-width="1.0" stroke-opacity="0.9" transform="rotate(54 362.7 665.5)"/>
<ellipse cx="364.0" cy="623.3" rx="2.97" ry="2.38" fill="#60e050" fill-opacity="0.63" stroke="#60e050" stroke-width="1.0" stroke-opacity="0.9" transform="rotate(119 364.0 623.3)"/>
<ellipse cx="347.3" cy="725.7" rx="3.13" ry="2.50" fill="#40b830" fill-opacity="0.63" stroke="#40b830" stroke-width="1.0" stroke-opacity="0.9" transform="rotate(45 347.3 725.7)"/>
<ellipse cx="360.9" cy="712.6" rx="3.55" ry="2.84" fill="#50d040" fill-opacity="0.63" stroke="#50d040" stroke-width="1.0" stroke-opacity="0.9" transform="rotate(158 360.9 712.6)"/>
<ellipse cx="343.2" cy="679.8" rx="3.12" ry="2.49" fill="#50d040" fill-opacity="0.63" stroke="#50d040" stroke-width="1.0" stroke-opacity="0.9" transform="rotate(24 343.2 679.8)"/>
<ellipse cx="340.9" cy="726.3" rx="2.84" ry="2.27" fill="#50d040" fill-opacity="0.63" stroke="#50d040" stroke-width="1.0" stroke-opacity="0.9" transform="rotate(171 340.9 726.3)"/>
<ellipse cx="335.6" cy="618.3" rx="3.25" ry="2.60" fill="#60e050" fill-opacity="0.63" stroke="#60e050" stroke-width="1.0" stroke-opacity="0.9" transform="rotate(167 335.6 618.3)"/>
<ellipse cx="374.8" cy="650.0" rx="3.32" ry="2.66" fill="#40b830" fill-opacity="0.63" stroke="#40b830" stroke-width="1.0" stroke-opacity="0.9" transform="rotate(57 374.8 650.0)"/>
<ellipse cx="375.3" cy="739.1" rx="3.25" ry="2.60" fill="#50d040" fill-opacity="0.63" stroke="#50d040" stroke-width="1.0" stroke-opacity="0.9" transform="rotate(149 375.3 739.1)"/>
<ellipse cx="335.7" cy="683.5" rx="3.48" ry="2.78" fill="#60e050" fill-opacity="0.63" stroke="#60e050" stroke-width="1.0" stroke-opacity="0.9" transform="rotate(103 335.7 683.5)"/>
<ellipse cx="337.9" cy="710.8" rx="2.82" ry="2.26" fill="#50d040" fill-opacity="0.63" stroke="#50d040" stroke-width="1.0" stroke-opacity="0.9" transform="rotate(73 337.9 710.8)"/>
<ellipse cx="329.5" cy="707.5" rx="3.07" ry="2.45" fill="#50d040" fill-opacity="0.63" stroke="#50d040" stroke-width="1.0" stroke-opacity="0.9" transform="rotate(143 329.5 707.5)"/>
<ellipse cx="385.6" cy="610.3" rx="2.91" ry="2.33" fill="#40b830" fill-opacity="0.63" stroke="#40b830" stroke-width="1.0" stroke-opacity="0.9" transform="rotate(118 385.6 610.3)"/>
<ellipse cx="373.1" cy="735.6" rx="3.48" ry="2.79" fill="#50d040" fill-opacity="0.63" stroke="#50d040" stroke-width="1.0" stroke-opacity="0.9" transform="rotate(148 373.1 735.6)"/>
<ellipse cx="334.2" cy="699.3" rx="3.56" ry="2.84" fill="#40b830" fill-opacity="0.63" stroke="#40b830" stroke-width="1.0" stroke-opacity="0.9" transform="rotate(129 334.2 699.3)"/>
<ellipse cx="328.7" cy="633.7" rx="3.15" ry="2.52" fill="#40b830" fill-opacity="0.63" stroke="#40b830" stroke-width="1.0" stroke-opacity="0.9" transform="rotate(170 328.7 633.7)"/>
<ellipse cx="351.4" cy="741.3" rx="2.96" ry="2.37" fill="#40b830" fill-opacity="0.63" stroke="#40b830" stroke-width="1.0" stroke-opacity="0.9" transform="rotate(163 351.4 741.3)"/>
<ellipse cx="322.3" cy="731.8" rx="3.52" ry="2.82" fill="#50d040" fill-opacity="0.63" stroke="#50d040" stroke-width="1.0" stroke-opacity="0.9" transform="rotate(81 322.3 731.8)"/>
<ellipse cx="330.0" cy="725.1" rx="2.81" ry="2.25" fill="#40b830" fill-opacity="0.63" stroke="#40b830" stroke-width="1.0" stroke-opacity="0.9" transform="rotate(102 330.0 725.1)"/>
<ellipse cx="378.2" cy="711.6" rx="3.74" ry="3.00" fill="#60e050" fill-opacity="0.63" stroke="#60e050" stroke-width="1.0" stroke-opacity="0.9" transform="rotate(59 378.2 711.6)"/>
<ellipse cx="385.5" cy="607.9" rx="3.67" ry="2.93" fill="#40b830" fill-opacity="0.63" stroke="#40b830" stroke-width="1.0" stroke-opacity="0.9" transform="rotate(166 385.5 607.9)"/>
<ellipse cx="324.8" cy="629.2" rx="3.19" ry="2.55" fill="#50d040" fill-opacity="0.63" stroke="#50d040" stroke-width="1.0" stroke-opacity="0.9" transform="rotate(176 324.8 629.2)"/>
<ellipse cx="354.0" cy="710.7" rx="3.12" ry="2.50" fill="#40b830" fill-opacity="0.63" stroke="#40b830" stroke-width="1.0" stroke-opacity="0.9" transform="rotate(154 354.0 710.7)"/>
<ellipse cx="340.7" cy="605.5" rx="3.24" ry="2.59" fill="#40b830" fill-opacity="0.63" stroke="#40b830" stroke-width="1.0" stroke-opacity="0.9" transform="rotate(76 340.7 605.5)"/>
<ellipse cx="335.5" cy="729.9" rx="3.02" ry="2.41" fill="#50d040" fill-opacity="0.63" stroke="#50d040" stroke-width="1.0" stroke-opacity="0.9" transform="rotate(77 335.5 729.9)"/>
<ellipse cx="318.6" cy="672.4" rx="3.49" ry="2.79" fill="#50d040" fill-opacity="0.63" stroke="#50d040" stroke-width="1.0" stroke-opacity="0.9" transform="rotate(85 318.6 672.4)"/>
<ellipse cx="386.7" cy="727.0" rx="3.32" ry="2.65" fill="#40b830" fill-opacity="0.63" stroke="#40b830" stroke-width="1.0" stroke-opacity="0.9" transform="rotate(124 386.7 727.0)"/>
<ellipse cx="382.9" cy="666.4" rx="3.75" ry="3.00" fill="#50d040" fill-opacity="0.63" stroke="#50d040" stroke-width="1.0" stroke-opacity="0.9" transform="rotate(136 382.9 666.4)"/>
<ellipse cx="347.1" cy="676.2" rx="3.63" ry="2.90" fill="#40b830" fill-opacity="0.63" stroke="#40b830" stroke-width="1.0" stroke-opacity="0.9" transform="rotate(115 347.1 676.2)"/>
<ellipse cx="353.0" cy="718.6" rx="3.36" ry="2.69" fill="#60e050" fill-opacity="0.63" stroke="#60e050" stroke-width="1.0" stroke-opacity="0.9" transform="rotate(121 353.0 718.6)"/>
<ellipse cx="383.5" cy="722.5" rx="3.41" ry="2.73" fill="#60e050" fill-opacity="0.63" stroke="#60e050" stroke-width="1.0" stroke-opacity="0.9" transform="rotate(153 383.5 722.5)"/>
<ellipse cx="384.5" cy="671.1" rx="3.37" ry="2.70" fill="#50d040" fill-opacity="0.63" stroke="#50d040" stroke-width="1.0" stroke-opacity="0.9" transform="rotate(74 384.5 671.1)"/>
<ellipse cx="324.2" cy="593.9" rx="3.18" ry="2.54" fill="#40b830" fill-opacity="0.63" stroke="#40b830" stroke-width="1.0" stroke-opacity="0.9" transform="rotate(174 324.2 593.9)"/>
<ellipse cx="352.5" cy="652.7" rx="3.60" ry="2.88" fill="#40b830" fill-opacity="0.63" stroke="#40b830" stroke-width="1.0" stroke-opacity="0.9" transform="rotate(22 352.5 652.7)"/>
<ellipse cx="322.7" cy="618.0" rx="3.73" ry="2.98" fill="#60e050" fill-opacity="0.63" stroke="#60e050" stroke-width="1.0" stroke-opacity="0.9" transform="rotate(74 322.7 618.0)"/>
<ellipse cx="383.7" cy="730.4" rx="3.07" ry="2.46" fill="#60e050" fill-opacity="0.63" stroke="#60e050" stroke-width="1.0" stroke-opacity="0.9" transform="rotate(89 383.7 730.4)"/>
<ellipse cx="340.1" cy="727.1" rx="3.74" ry="2.99" fill="#60e050" fill-opacity="0.63" stroke="#60e050" stroke-width="1.0" stroke-opacity="0.9" transform="rotate(94 340.1 727.1)"/>
<ellipse cx="323.8" cy="655.5" rx="2.83" ry="2.26" fill="#60e050" fill-opacity="0.63" stroke="#60e050" stroke-width="1.0" stroke-opacity="0.9" transform="rotate(23 323.8 655.5)"/>
<ellipse cx="371.1" cy="596.6" rx="2.99" ry="2.40" fill="#50d040" fill-opacity="0.63" stroke="#50d040" stroke-width="1.0" stroke-opacity="0.9" transform="rotate(2 371.1 596.6)"/>
<ellipse cx="336.2" cy="700.7" rx="3.04" ry="2.44" fill="#60e050" fill-opacity="0.63" stroke="#60e050" stroke-width="1.0" stroke-opacity="0.9" transform="rotate(19 336.2 700.7)"/>
<ellipse cx="367.7" cy="611.4" rx="3.31" ry="2.65" fill="#60e050" fill-opacity="0.63" stroke="#60e050" stroke-width="1.0" stroke-opacity="0.9" transform="rotate(129 367.7 611.4)"/>
<ellipse cx="365.6" cy="723.8" rx="2.82" ry="2.26" fill="#40b830" fill-opacity="0.63" stroke="#40b830" stroke-width="1.0" stroke-opacity="0.9" transform="rotate(74 365.6 723.8)"/>
<ellipse cx="353.5" cy="616.9" rx="3.00" ry="2.40" fill="#40b830" fill-opacity="0.63" stroke="#40b830" stroke-width="1.0" stroke-opacity="0.9" transform="rotate(96 353.5 616.9)"/>
<ellipse cx="331.5" cy="625.3" rx="3.34" ry="2.67" fill="#40b830" fill-opacity="0.63" stroke="#40b830" stroke-width="1.0" stroke-opacity="0.9" transform="rotate(154 331.5 625.3)"/>
</g>
</g>
<text x="347.3" y="603.2" font-size="10.6" text-anchor="middle" fill="#fff" filter="url(#tsh)">CaMKIIα</text>
<defs><linearGradient id="bg12" x1="0" x2="1" y1="0" y2="0"><stop offset="0" stop-color="#200404"/><stop offset="1" stop-color="#1c0404"/></linearGradient>
<clipPath id="cp12"><rect x="389.9" y="593.2" width="70.0" height="148.6"/></clipPath></defs>
<g clip-path="url(#cp12)">
<rect x="389.9" y="593.2" width="70.0" height="148.6" fill="url(#bg12)"/>
<rect x="389.9" y="593.2" width="70.0" height="148.6" filter="url(#nzr)" opacity="0.4"/>
<rect x="389.9" y="593.2" width="70.0" height="148.6" filter="url(#nzrb)" opacity="0.25"/>
<g filter="url(#bl2)">
<ellipse cx="423.1" cy="690.9" rx="5.67" ry="3.97" fill="#501008" opacity="0.6"/>
<ellipse cx="416.6" cy="741.3" rx="4.93" ry="3.45" fill="#000000" opacity="0.6"/>
<ellipse cx="438.2" cy="682.6" rx="5.23" ry="3.66" fill="#501008" opacity="0.6"/>
<ellipse cx="458.4" cy="647.8" rx="4.36" ry="3.05" fill="#501008" opacity="0.6"/>
<ellipse cx="394.0" cy="714.9" rx="3.30" ry="2.31" fill="#000000" opacity="0.6"/>
<ellipse cx="437.6" cy="711.8" rx="3.35" ry="2.34" fill="#501008" opacity="0.6"/>
<ellipse cx="447.3" cy="691.6" rx="3.89" ry="2.73" fill="#000000" opacity="0.6"/>
<ellipse cx="456.2" cy="609.9" rx="4.69" ry="3.28" fill="#501008" opacity="0.6"/>
<ellipse cx="427.7" cy="724.3" rx="5.23" ry="3.66" fill="#501008" opacity="0.6"/>
<ellipse cx="428.8" cy="668.6" rx="3.33" ry="2.33" fill="#000000" opacity="0.6"/>
<ellipse cx="436.7" cy="663.0" rx="5.44" ry="3.81" fill="#501008" opacity="0.6"/>
<ellipse cx="434.8" cy="605.5" rx="3.77" ry="2.64" fill="#000000" opacity="0.6"/>
<ellipse cx="414.8" cy="647.2" rx="5.76" ry="4.03" fill="#000000" opacity="0.6"/>
<ellipse cx="397.9" cy="628.1" rx="4.45" ry="3.12" fill="#501008" opacity="0.6"/>
<ellipse cx="391.9" cy="715.4" rx="4.72" ry="3.30" fill="#501008" opacity="0.6"/>
<ellipse cx="405.5" cy="656.7" rx="4.55" ry="3.19" fill="#501008" opacity="0.6"/>
<ellipse cx="442.6" cy="626.0" rx="3.31" ry="2.32" fill="#000000" opacity="0.6"/>
<ellipse cx="392.5" cy="634.3" rx="4.38" ry="3.06" fill="#501008" opacity="0.6"/>
<ellipse cx="425.9" cy="647.9" rx="4.36" ry="3.05" fill="#000000" opacity="0.6"/>
<ellipse cx="423.2" cy="735.7" rx="4.92" ry="3.45" fill="#501008" opacity="0.6"/>
<ellipse cx="422.4" cy="674.8" rx="3.73" ry="2.61" fill="#501008" opacity="0.6"/>
<ellipse cx="453.7" cy="594.2" rx="4.07" ry="2.85" fill="#000000" opacity="0.6"/>
<ellipse cx="402.5" cy="711.3" rx="5.01" ry="3.50" fill="#501008" opacity="0.6"/>
<ellipse cx="433.2" cy="739.4" rx="6.99" ry="4.90" fill="#501008" opacity="0.6"/>
<ellipse cx="391.6" cy="641.1" rx="6.15" ry="4.30" fill="#000000" opacity="0.6"/>
<ellipse cx="434.7" cy="627.3" rx="5.11" ry="3.58" fill="#000000" opacity="0.6"/>
<ellipse cx="424.2" cy="645.8" rx="5.74" ry="4.02" fill="#000000" opacity="0.6"/>
<ellipse cx="452.5" cy="617.3" rx="4.17" ry="2.92" fill="#501008" opacity="0.6"/>
<ellipse cx="409.4" cy="733.5" rx="5.06" ry="3.54" fill="#000000" opacity="0.6"/>
<ellipse cx="439.2" cy="625.0" rx="4.14" ry="2.90" fill="#000000" opacity="0.6"/>
</g>
<g filter="url(#bl1)">
<ellipse cx="391.9" cy="593.7" rx="1.84" ry="1.47" fill="#c01810" fill-opacity="0.59" stroke="#c01810" stroke-width="1.0" stroke-opacity="0.85" transform="rotate(160 391.9 593.7)"/>
<ellipse cx="419.3" cy="629.0" rx="2.41" ry="1.93" fill="#e82a18" fill-opacity="0.59" stroke="#e82a18" stroke-width="1.0" stroke-opacity="0.85" transform="rotate(101 419.3 629.0)"/>
<ellipse cx="433.6" cy="729.9" rx="3.15" ry="2.52" fill="#e82a18" fill-opacity="0.59" stroke="#e82a18" stroke-width="1.0" stroke-opacity="0.85" transform="rotate(75 433.6 729.9)"/>
<ellipse cx="431.1" cy="727.1" rx="2.90" ry="2.32" fill="#c01810" fill-opacity="0.59" stroke="#c01810" stroke-width="1.0" stroke-opacity="0.85" transform="rotate(100 431.1 727.1)"/>
<ellipse cx="458.5" cy="688.0" rx="2.34" ry="1.87" fill="#e82a18" fill-opacity="0.59" stroke="#e82a18" stroke-width="1.0" stroke-opacity="0.85" transform="rotate(3 458.5 688.0)"/>
<ellipse cx="439.6" cy="727.5" rx="2.92" ry="2.33" fill="#e82a18" fill-opacity="0.59" stroke="#e82a18" stroke-width="1.0" stroke-opacity="0.85" transform="rotate(164 439.6 727.5)"/>
<ellipse cx="427.3" cy="710.5" rx="2.33" ry="1.87" fill="#e82a18" fill-opacity="0.59" stroke="#e82a18" stroke-width="1.0" stroke-opacity="0.85" transform="rotate(128 427.3 710.5)"/>
<ellipse cx="403.1" cy="633.4" rx="2.91" ry="2.33" fill="#c01810" fill-opacity="0.59" stroke="#c01810" stroke-width="1.0" stroke-opacity="0.85" transform="rotate(97 403.1 633.4)"/>
<ellipse cx="433.4" cy="611.7" rx="2.55" ry="2.04" fill="#c01810" fill-opacity="0.59" stroke="#c01810" stroke-width="1.0" stroke-opacity="0.85" transform="rotate(122 433.4 611.7)"/>
<ellipse cx="430.5" cy="603.9" rx="2.30" ry="1.84" fill="#e82a18" fill-opacity="0.59" stroke="#e82a18" stroke-width="1.0" stroke-opacity="0.85" transform="rotate(123 430.5 603.9)"/>
<ellipse cx="399.8" cy="606.7" rx="2.24" ry="1.79" fill="#c01810" fill-opacity="0.59" stroke="#c01810" stroke-width="1.0" stroke-opacity="0.85" transform="rotate(32 399.8 606.7)"/>
<ellipse cx="437.4" cy="687.9" rx="2.41" ry="1.93" fill="#e82a18" fill-opacity="0.59" stroke="#e82a18" stroke-width="1.0" stroke-opacity="0.85" transform="rotate(5 437.4 687.9)"/>
<ellipse cx="424.0" cy="659.1" rx="2.05" ry="1.64" fill="#c01810" fill-opacity="0.59" stroke="#c01810" stroke-width="1.0" stroke-opacity="0.85" transform="rotate(107 424.0 659.1)"/>
<ellipse cx="421.9" cy="724.6" rx="1.94" ry="1.55" fill="#e82a18" fill-opacity="0.59" stroke="#e82a18" stroke-width="1.0" stroke-opacity="0.85" transform="rotate(1 421.9 724.6)"/>
<ellipse cx="415.1" cy="634.8" rx="2.08" ry="1.67" fill="#f03a20" fill-opacity="0.59" stroke="#f03a20" stroke-width="1.0" stroke-opacity="0.85" transform="rotate(53 415.1 634.8)"/>
<ellipse cx="426.0" cy="615.0" rx="3.06" ry="2.45" fill="#f03a20" fill-opacity="0.59" stroke="#f03a20" stroke-width="1.0" stroke-opacity="0.85" transform="rotate(29 426.0 615.0)"/>
<ellipse cx="422.4" cy="683.3" rx="2.98" ry="2.38" fill="#e82a18" fill-opacity="0.59" stroke="#e82a18" stroke-width="1.0" stroke-opacity="0.85" transform="rotate(83 422.4 683.3)"/>
<ellipse cx="444.9" cy="600.5" rx="2.88" ry="2.30" fill="#f03a20" fill-opacity="0.59" stroke="#f03a20" stroke-width="1.0" stroke-opacity="0.85" transform="rotate(97 444.9 600.5)"/>
<ellipse cx="443.2" cy="651.9" rx="2.74" ry="2.19" fill="#c01810" fill-opacity="0.59" stroke="#c01810" stroke-width="1.0" stroke-opacity="0.85" transform="rotate(9 443.2 651.9)"/>
<ellipse cx="397.3" cy="678.0" rx="2.24" ry="1.79" fill="#c01810" fill-opacity="0.59" stroke="#c01810" stroke-width="1.0" stroke-opacity="0.85" transform="rotate(3 397.3 678.0)"/>
<ellipse cx="444.2" cy="726.3" rx="2.69" ry="2.15" fill="#e82a18" fill-opacity="0.59" stroke="#e82a18" stroke-width="1.0" stroke-opacity="0.85" transform="rotate(24 444.2 726.3)"/>
<ellipse cx="405.7" cy="674.1" rx="2.15" ry="1.72" fill="#e82a18" fill-opacity="0.59" stroke="#e82a18" stroke-width="1.0" stroke-opacity="0.85" transform="rotate(77 405.7 674.1)"/>
<ellipse cx="415.4" cy="653.9" rx="2.68" ry="2.14" fill="#f03a20" fill-opacity="0.59" stroke="#f03a20" stroke-width="1.0" stroke-opacity="0.85" transform="rotate(70 415.4 653.9)"/>
<ellipse cx="451.0" cy="726.5" rx="2.25" ry="1.80" fill="#e82a18" fill-opacity="0.59" stroke="#e82a18" stroke-width="1.0" stroke-opacity="0.85" transform="rotate(47 451.0 726.5)"/>
<ellipse cx="392.2" cy="691.0" rx="2.91" ry="2.33" fill="#f03a20" fill-opacity="0.59" stroke="#f03a20" stroke-width="1.0" stroke-opacity="0.85" transform="rotate(74 392.2 691.0)"/>
<ellipse cx="433.1" cy="632.3" rx="2.37" ry="1.90" fill="#f03a20" fill-opacity="0.59" stroke="#f03a20" stroke-width="1.0" stroke-opacity="0.85" transform="rotate(89 433.1 632.3)"/>
<ellipse cx="455.7" cy="714.3" rx="2.06" ry="1.64" fill="#e82a18" fill-opacity="0.59" stroke="#e82a18" stroke-width="1.0" stroke-opacity="0.85" transform="rotate(150 455.7 714.3)"/>
<ellipse cx="397.6" cy="633.0" rx="3.04" ry="2.43" fill="#c01810" fill-opacity="0.59" stroke="#c01810" stroke-width="1.0" stroke-opacity="0.85" transform="rotate(157 397.6 633.0)"/>
<ellipse cx="447.4" cy="646.5" rx="2.83" ry="2.26" fill="#f03a20" fill-opacity="0.59" stroke="#f03a20" stroke-width="1.0" stroke-opacity="0.85" transform="rotate(139 447.4 646.5)"/>
<ellipse cx="450.0" cy="639.4" rx="3.02" ry="2.42" fill="#c01810" fill-opacity="0.59" stroke="#c01810" stroke-width="1.0" stroke-opacity="0.85" transform="rotate(158 450.0 639.4)"/>
<ellipse cx="391.6" cy="639.0" rx="1.82" ry="1.45" fill="#e82a18" fill-opacity="0.59" stroke="#e82a18" stroke-width="1.0" stroke-opacity="0.85" transform="rotate(35 391.6 639.0)"/>
<ellipse cx="403.7" cy="713.4" rx="3.10" ry="2.48" fill="#e82a18" fill-opacity="0.59" stroke="#e82a18" stroke-width="1.0" stroke-opacity="0.85" transform="rotate(139 403.7 713.4)"/>
<ellipse cx="428.1" cy="596.4" rx="3.08" ry="2.46" fill="#f03a20" fill-opacity="0.59" stroke="#f03a20" stroke-width="1.0" stroke-opacity="0.85" transform="rotate(123 428.1 596.4)"/>
<ellipse cx="427.4" cy="659.8" rx="2.54" ry="2.03" fill="#c01810" fill-opacity="0.59" stroke="#c01810" stroke-width="1.0" stroke-opacity="0.85" transform="rotate(23 427.4 659.8)"/>
<ellipse cx="417.4" cy="665.5" rx="2.21" ry="1.77" fill="#f03a20" fill-opacity="0.59" stroke="#f03a20" stroke-width="1.0" stroke-opacity="0.85" transform="rotate(114 417.4 665.5)"/>
<ellipse cx="417.1" cy="654.8" rx="2.52" ry="2.02" fill="#c01810" fill-opacity="0.59" stroke="#c01810" stroke-width="1.0" stroke-opacity="0.85" transform="rotate(152 417.1 654.8)"/>
<ellipse cx="391.3" cy="616.2" rx="2.86" ry="2.29" fill="#f03a20" fill-opacity="0.59" stroke="#f03a20" stroke-width="1.0" stroke-opacity="0.85" transform="rotate(124 391.3 616.2)"/>
<ellipse cx="456.8" cy="694.6" rx="2.40" ry="1.92" fill="#f03a20" fill-opacity="0.59" stroke="#f03a20" stroke-width="1.0" stroke-opacity="0.85" transform="rotate(173 456.8 694.6)"/>
<ellipse cx="416.1" cy="603.9" rx="3.08" ry="2.47" fill="#f03a20" fill-opacity="0.59" stroke="#f03a20" stroke-width="1.0" stroke-opacity="0.85" transform="rotate(11 416.1 603.9)"/>
<ellipse cx="397.5" cy="605.7" rx="1.88" ry="1.50" fill="#e82a18" fill-opacity="0.59" stroke="#e82a18" stroke-width="1.0" stroke-opacity="0.85" transform="rotate(168 397.5 605.7)"/>
<ellipse cx="392.1" cy="695.2" rx="2.59" ry="2.07" fill="#c01810" fill-opacity="0.59" stroke="#c01810" stroke-width="1.0" stroke-opacity="0.85" transform="rotate(173 392.1 695.2)"/>
<ellipse cx="442.2" cy="734.3" rx="1.84" ry="1.47" fill="#e82a18" fill-opacity="0.59" stroke="#e82a18" stroke-width="1.0" stroke-opacity="0.85" transform="rotate(106 442.2 734.3)"/>
<ellipse cx="446.1" cy="686.7" rx="2.45" ry="1.96" fill="#f03a20" fill-opacity="0.59" stroke="#f03a20" stroke-width="1.0" stroke-opacity="0.85" transform="rotate(76 446.1 686.7)"/>
<ellipse cx="427.9" cy="640.1" rx="2.14" ry="1.71" fill="#e82a18" fill-opacity="0.59" stroke="#e82a18" stroke-width="1.0" stroke-opacity="0.85" transform="rotate(118 427.9 640.1)"/>
<ellipse cx="413.5" cy="601.9" rx="2.92" ry="2.33" fill="#c01810" fill-opacity="0.59" stroke="#c01810" stroke-width="1.0" stroke-opacity="0.85" transform="rotate(168 413.5 601.9)"/>
<ellipse cx="415.3" cy="637.5" rx="3.09" ry="2.47" fill="#c01810" fill-opacity="0.59" stroke="#c01810" stroke-width="1.0" stroke-opacity="0.85" transform="rotate(25 415.3 637.5)"/>
<ellipse cx="409.3" cy="622.5" rx="1.97" ry="1.58" fill="#f03a20" fill-opacity="0.59" stroke="#f03a20" stroke-width="1.0" stroke-opacity="0.85" transform="rotate(132 409.3 622.5)"/>
<ellipse cx="447.7" cy="705.7" rx="2.28" ry="1.82" fill="#f03a20" fill-opacity="0.59" stroke="#f03a20" stroke-width="1.0" stroke-opacity="0.85" transform="rotate(138 447.7 705.7)"/>
<ellipse cx="451.6" cy="713.8" rx="2.28" ry="1.82" fill="#c01810" fill-opacity="0.59" stroke="#c01810" stroke-width="1.0" stroke-opacity="0.85" transform="rotate(114 451.6 713.8)"/>
<ellipse cx="433.3" cy="602.8" rx="2.28" ry="1.82" fill="#f03a20" fill-opacity="0.59" stroke="#f03a20" stroke-width="1.0" stroke-opacity="0.85" transform="rotate(110 433.3 602.8)"/>
<ellipse cx="398.8" cy="673.6" rx="3.13" ry="2.51" fill="#c01810" fill-opacity="0.59" stroke="#c01810" stroke-width="1.0" stroke-opacity="0.85" transform="rotate(50 398.8 673.6)"/>
<ellipse cx="413.9" cy="740.4" rx="1.97" ry="1.57" fill="#c01810" fill-opacity="0.59" stroke="#c01810" stroke-width="1.0" stroke-opacity="0.85" transform="rotate(114 413.9 740.4)"/>
<ellipse cx="402.0" cy="674.6" rx="2.63" ry="2.11" fill="#c01810" fill-opacity="0.59" stroke="#c01810" stroke-width="1.0" stroke-opacity="0.85" transform="rotate(50 402.0 674.6)"/>
<ellipse cx="413.4" cy="648.8" rx="3.07" ry="2.46" fill="#f03a20" fill-opacity="0.59" stroke="#f03a20" stroke-width="1.0" stroke-opacity="0.85" transform="rotate(170 413.4 648.8)"/>
<ellipse cx="431.8" cy="603.8" rx="2.67" ry="2.14" fill="#e82a18" fill-opacity="0.59" stroke="#e82a18" stroke-width="1.0" stroke-opacity="0.85" transform="rotate(169 431.8 603.8)"/>
</g>
</g>
<text x="428.9" y="603.2" font-size="10.6" text-anchor="middle" fill="#fff" filter="url(#tsh)">mCherry</text>
<text x="467.7" y="356.6" font-size="14" text-anchor="start" fill="#1a1a1a" >E</text>
<circle cx="515.7" cy="371.6" r="2.5" fill="#4a90c8"/>
<text x="528.6" y="377.7" font-size="10.5" text-anchor="start" fill="#4a90c8" >Sham</text>
<path d="M515.70,383.00 L519.10,388.78 L512.30,388.78 Z" fill="#e0505a"/>
<text x="528.6" y="391.8" font-size="10.5" text-anchor="start" fill="#e0505a" >GPR173</text>
<line x1="536.8" y1="412.6" x2="536.8" y2="532.6" stroke="#555" stroke-width="0.9"/>
<line x1="536.8" y1="532.6" x2="647.3" y2="532.6" stroke="#555" stroke-width="0.9"/>
<line x1="534.3" y1="532.6" x2="536.8" y2="532.6" stroke="#555" stroke-width="0.8"/>
<text x="522.3" y="535.9" font-size="9.2" text-anchor="end" fill="#1a1a1a" >0</text>
<line x1="534.3" y1="521.3" x2="536.8" y2="521.3" stroke="#555" stroke-width="0.8"/>
<line x1="534.3" y1="510.0" x2="536.8" y2="510.0" stroke="#555" stroke-width="0.8"/>
<text x="522.3" y="513.3" font-size="9.2" text-anchor="end" fill="#1a1a1a" >20</text>
<line x1="534.3" y1="498.7" x2="536.8" y2="498.7" stroke="#555" stroke-width="0.8"/>
<line x1="534.3" y1="487.4" x2="536.8" y2="487.4" stroke="#555" stroke-width="0.8"/>
<text x="522.3" y="490.7" font-size="9.2" text-anchor="end" fill="#1a1a1a" >40</text>
<line x1="534.3" y1="476.1" x2="536.8" y2="476.1" stroke="#555" stroke-width="0.8"/>
<line x1="534.3" y1="464.7" x2="536.8" y2="464.7" stroke="#555" stroke-width="0.8"/>
<text x="522.3" y="468.0" font-size="9.2" text-anchor="end" fill="#1a1a1a" >60</text>
<line x1="534.3" y1="453.4" x2="536.8" y2="453.4" stroke="#555" stroke-width="0.8"/>
<line x1="534.3" y1="442.1" x2="536.8" y2="442.1" stroke="#555" stroke-width="0.8"/>
<text x="522.3" y="445.4" font-size="9.2" text-anchor="end" fill="#1a1a1a" >80</text>
<line x1="534.3" y1="430.8" x2="536.8" y2="430.8" stroke="#555" stroke-width="0.8"/>
<line x1="534.3" y1="419.5" x2="536.8" y2="419.5" stroke="#555" stroke-width="0.8"/>
<text x="522.3" y="422.8" font-size="9.2" text-anchor="end" fill="#1a1a1a" >100</text>
<line x1="565" y1="532.6" x2="565" y2="535.1" stroke="#555" stroke-width="0.8"/>
<line x1="621.4" y1="532.6" x2="621.4" y2="535.1" stroke="#555" stroke-width="0.8"/>
<text x="0" y="0" font-size="10.8" text-anchor="middle" fill="#1a1a1a" transform="translate(483.4,475.3) rotate(-90)">Merged neurons+ / mCherry</text>
<text x="0" y="0" font-size="10.8" text-anchor="middle" fill="#1a1a1a" transform="translate(497.3,474.5) rotate(-90)">neurons+ (%)</text>
<path d="M562.1,413.6 L562.1,407.4 L626.3,407.4 L626.3,420.4" fill="none" stroke="#555" stroke-width="0.8"/>
<text x="594.7" y="407.8" font-size="14.4" text-anchor="middle" fill="#1a1a1a" >****</text>
<path d="M563.29,419.43 L567.89,419.43 L565.59,422.88 Z" fill="#e02a38" opacity="0.9"/>
<path d="M566.22,418.75 L570.82,418.75 L568.52,422.20 Z" fill="none" stroke="#e02a38" stroke-width="0.7"/>
<path d="M566.92,419.17 L570.12,419.17 L568.52,421.57 Z" fill="#f07078" opacity="0.9"/>
<path d="M565.28,418.82 L569.88,418.82 L567.58,422.27 Z" fill="none" stroke="#e02a38" stroke-width="0.7"/>
<path d="M565.98,419.24 L569.18,419.24 L567.58,421.64 Z" fill="#f07078" opacity="0.9"/>
<path d="M553.19,420.49 L557.79,420.49 L555.49,423.94 Z" fill="#e02a38" opacity="0.9"/>
<path d="M568.74,419.76 L573.34,419.76 L571.04,423.21 Z" fill="none" stroke="#e02a38" stroke-width="0.7"/>
<path d="M569.44,420.18 L572.64,420.18 L571.04,422.58 Z" fill="#f07078" opacity="0.9"/>
<path d="M568.02,422.37 L572.62,422.37 L570.32,425.82 Z" fill="none" stroke="#e02a38" stroke-width="0.7"/>
<path d="M568.72,422.79 L571.92,422.79 L570.32,425.19 Z" fill="#f07078" opacity="0.9"/>
<path d="M560.67,421.53 L565.27,421.53 L562.97,424.98 Z" fill="#e02a38" opacity="0.9"/>
<path d="M561.94,420.05 L566.54,420.05 L564.24,423.50 Z" fill="none" stroke="#e02a38" stroke-width="0.7"/>
<path d="M562.64,420.47 L565.84,420.47 L564.24,422.87 Z" fill="#f07078" opacity="0.9"/>
<path d="M552.92,421.70 L557.52,421.70 L555.22,425.15 Z" fill="none" stroke="#e02a38" stroke-width="0.7"/>
<path d="M553.62,422.12 L556.82,422.12 L555.22,424.52 Z" fill="#f07078" opacity="0.9"/>
<path d="M557.45,418.84 L562.05,418.84 L559.75,422.29 Z" fill="#e02a38" opacity="0.9"/>
<path d="M565.72,422.04 L570.32,422.04 L568.02,425.49 Z" fill="none" stroke="#e02a38" stroke-width="0.7"/>
<path d="M566.42,422.46 L569.62,422.46 L568.02,424.86 Z" fill="#f07078" opacity="0.9"/>
<path d="M566.25,422.18 L570.85,422.18 L568.55,425.63 Z" fill="none" stroke="#e02a38" stroke-width="0.7"/>
<path d="M566.95,422.60 L570.15,422.60 L568.55,425.00 Z" fill="#f07078" opacity="0.9"/>
<path d="M563.20,422.27 L567.80,422.27 L565.50,425.72 Z" fill="#e02a38" opacity="0.9"/>
<path d="M552.73,418.98 L557.33,418.98 L555.03,422.43 Z" fill="none" stroke="#e02a38" stroke-width="0.7"/>
<path d="M553.43,419.40 L556.63,419.40 L555.03,421.80 Z" fill="#f07078" opacity="0.9"/>
<path d="M556.26,421.70 L560.86,421.70 L558.56,425.15 Z" fill="none" stroke="#e02a38" stroke-width="0.7"/>
<path d="M556.96,422.12 L560.16,422.12 L558.56,424.52 Z" fill="#f07078" opacity="0.9"/>
<path d="M569.40,418.98 L574.00,418.98 L571.70,422.43 Z" fill="#e02a38" opacity="0.9"/>
<path d="M557.62,418.69 L562.22,418.69 L559.92,422.14 Z" fill="none" stroke="#e02a38" stroke-width="0.7"/>
<path d="M558.32,419.11 L561.52,419.11 L559.92,421.51 Z" fill="#f07078" opacity="0.9"/>
<path d="M561.87,419.66 L566.47,419.66 L564.17,423.11 Z" fill="none" stroke="#e02a38" stroke-width="0.7"/>
<path d="M562.57,420.08 L565.77,420.08 L564.17,422.48 Z" fill="#f07078" opacity="0.9"/>
<path d="M556.18,418.76 L560.78,418.76 L558.48,422.21 Z" fill="#e02a38" opacity="0.9"/>
<path d="M564.44,418.68 L569.04,418.68 L566.74,422.13 Z" fill="none" stroke="#e02a38" stroke-width="0.7"/>
<path d="M565.14,419.10 L568.34,419.10 L566.74,421.50 Z" fill="#f07078" opacity="0.9"/>
<path d="M567.89,421.25 L572.49,421.25 L570.19,424.70 Z" fill="none" stroke="#e02a38" stroke-width="0.7"/>
<path d="M568.59,421.67 L571.79,421.67 L570.19,424.07 Z" fill="#f07078" opacity="0.9"/>
<path d="M558.84,422.00 L563.44,422.00 L561.14,425.45 Z" fill="#e02a38" opacity="0.9"/>
<path d="M555.18,422.76 L559.78,422.76 L557.48,426.21 Z" fill="none" stroke="#e02a38" stroke-width="0.7"/>
<path d="M555.88,423.18 L559.08,423.18 L557.48,425.58 Z" fill="#f07078" opacity="0.9"/>
<path d="M557.82,419.93 L562.42,419.93 L560.12,423.38 Z" fill="none" stroke="#e02a38" stroke-width="0.7"/>
<path d="M558.52,420.35 L561.72,420.35 L560.12,422.75 Z" fill="#f07078" opacity="0.9"/>
<path d="M552.76,419.65 L557.36,419.65 L555.06,423.10 Z" fill="#e02a38" opacity="0.9"/>
<path d="M558.44,421.20 L563.04,421.20 L560.74,424.65 Z" fill="none" stroke="#e02a38" stroke-width="0.7"/>
<path d="M559.14,421.62 L562.34,421.62 L560.74,424.02 Z" fill="#f07078" opacity="0.9"/>
<path d="M566.61,420.42 L571.21,420.42 L568.91,423.87 Z" fill="none" stroke="#e02a38" stroke-width="0.7"/>
<path d="M567.31,420.84 L570.51,420.84 L568.91,423.24 Z" fill="#f07078" opacity="0.9"/>
<path d="M558.07,420.42 L562.67,420.42 L560.37,423.87 Z" fill="#e02a38" opacity="0.9"/>
<path d="M564.68,422.84 L569.28,422.84 L566.98,426.29 Z" fill="none" stroke="#e02a38" stroke-width="0.7"/>
<path d="M565.38,423.26 L568.58,423.26 L566.98,425.66 Z" fill="#f07078" opacity="0.9"/>
<path d="M569.28,423.24 L573.88,423.24 L571.58,426.69 Z" fill="none" stroke="#e02a38" stroke-width="0.7"/>
<path d="M569.98,423.66 L573.18,423.66 L571.58,426.06 Z" fill="#f07078" opacity="0.9"/>
<line x1="542" y1="422.4" x2="587.4" y2="422.4" stroke="#444" stroke-width="0.9"/>
<rect x="562" y="421" width="6" height="2.4" fill="#222"/>
<circle cx="625.0" cy="481.7" r="1.9" fill="#4a94cc" opacity="0.85"/>
<circle cx="626.5" cy="482.8" r="1.9" fill="#4a94cc" opacity="0.85"/>
<circle cx="613.3" cy="485.1" r="1.9" fill="#4a94cc" opacity="0.85"/>
<circle cx="625.6" cy="486.2" r="1.9" fill="#4a94cc" opacity="0.85"/>
<circle cx="618.9" cy="490.8" r="1.9" fill="#4a94cc" opacity="0.85"/>
<circle cx="622.3" cy="491.9" r="1.9" fill="#4a94cc" opacity="0.85"/>
<circle cx="613.1" cy="493.0" r="1.9" fill="#4a94cc" opacity="0.85"/>
<circle cx="613.7" cy="494.1" r="1.9" fill="#4a94cc" opacity="0.85"/>
<circle cx="615.9" cy="495.3" r="1.9" fill="#4a94cc" opacity="0.85"/>
<circle cx="628.3" cy="495.3" r="1.9" fill="#4a94cc" opacity="0.85"/>
<circle cx="616.1" cy="496.4" r="1.9" fill="#4a94cc" opacity="0.85"/>
<circle cx="625.1" cy="497.5" r="1.9" fill="#4a94cc" opacity="0.85"/>
<circle cx="627.9" cy="497.5" r="1.9" fill="#4a94cc" opacity="0.85"/>
<circle cx="628.1" cy="498.7" r="1.9" fill="#4a94cc" opacity="0.85"/>
<circle cx="618.5" cy="498.7" r="1.9" fill="#4a94cc" opacity="0.85"/>
<circle cx="618.7" cy="498.7" r="1.9" fill="#4a94cc" opacity="0.85"/>
<circle cx="621.4" cy="499.8" r="1.9" fill="#4a94cc" opacity="0.85"/>
<circle cx="625.4" cy="500.9" r="1.9" fill="#4a94cc" opacity="0.85"/>
<circle cx="614.7" cy="502.1" r="1.9" fill="#4a94cc" opacity="0.85"/>
<circle cx="625.0" cy="503.2" r="1.9" fill="#4a94cc" opacity="0.85"/>
<circle cx="625.8" cy="504.3" r="1.9" fill="#4a94cc" opacity="0.85"/>
<circle cx="626.8" cy="505.5" r="1.9" fill="#4a94cc" opacity="0.85"/>
<circle cx="613.6" cy="506.6" r="1.9" fill="#4a94cc" opacity="0.85"/>
<circle cx="628.1" cy="507.7" r="1.9" fill="#4a94cc" opacity="0.85"/>
<circle cx="614.5" cy="508.8" r="1.9" fill="#4a94cc" opacity="0.85"/>
<circle cx="618.5" cy="510.0" r="1.9" fill="#4a94cc" opacity="0.85"/>
<circle cx="622.8" cy="511.1" r="1.9" fill="#4a94cc" opacity="0.85"/>
<circle cx="627.7" cy="513.4" r="1.9" fill="#4a94cc" opacity="0.85"/>
<circle cx="618.4" cy="514.5" r="1.9" fill="#4a94cc" opacity="0.85"/>
<line x1="599" y1="498.2" x2="643.8" y2="498.2" stroke="#444" stroke-width="0.9"/>
<text x="467.5" y="574.4" font-size="14" text-anchor="start" fill="#1a1a1a" >G</text>
<circle cx="515.9" cy="577.4" r="2.5" fill="#4a90c8"/>
<text x="529" y="582.0" font-size="10.5" text-anchor="start" fill="#4a90c8" >Sham</text>
<path d="M515.90,588.40 L519.30,594.18 L512.50,594.18 Z" fill="#e0505a"/>
<text x="529" y="597.0" font-size="10.5" text-anchor="start" fill="#e0505a" >GPR173</text>
<line x1="510.9" y1="602.7" x2="510.9" y2="712.8" stroke="#555" stroke-width="0.9"/>
<line x1="510.9" y1="712.8" x2="569.3" y2="712.8" stroke="#555" stroke-width="0.9"/>
<line x1="576.1" y1="712.8" x2="631.9" y2="712.8" stroke="#555" stroke-width="0.9"/>
<line x1="508.4" y1="712.8" x2="510.9" y2="712.8" stroke="#555" stroke-width="0.8"/>
<text x="503.6" y="716.1" font-size="9.6" text-anchor="end" fill="#1a1a1a" >90</text>
<line x1="508.4" y1="689.4" x2="510.9" y2="689.4" stroke="#555" stroke-width="0.8"/>
<line x1="508.4" y1="666.0" x2="510.9" y2="666.0" stroke="#555" stroke-width="0.8"/>
<text x="503.6" y="669.2" font-size="9.6" text-anchor="end" fill="#1a1a1a" >100</text>
<line x1="508.4" y1="642.5" x2="510.9" y2="642.5" stroke="#555" stroke-width="0.8"/>
<line x1="508.4" y1="619.1" x2="510.9" y2="619.1" stroke="#555" stroke-width="0.8"/>
<text x="503.6" y="622.4" font-size="9.6" text-anchor="end" fill="#1a1a1a" >110</text>
<line x1="631.9" y1="616.5" x2="631.9" y2="713.3" stroke="#555" stroke-width="0.9"/>
<line x1="631.9" y1="713.3" x2="634.4" y2="713.3" stroke="#555" stroke-width="0.8"/>
<text x="640.3" y="716.7" font-size="9.6" text-anchor="start" fill="#1a1a1a" >20</text>
<line x1="631.9" y1="703.3" x2="634.4" y2="703.3" stroke="#555" stroke-width="0.8"/>
<line x1="631.9" y1="693.2" x2="634.4" y2="693.2" stroke="#555" stroke-width="0.8"/>
<text x="640.3" y="696.6" font-size="9.6" text-anchor="start" fill="#1a1a1a" >30</text>
<line x1="631.9" y1="683.2" x2="634.4" y2="683.2" stroke="#555" stroke-width="0.8"/>
<line x1="631.9" y1="673.2" x2="634.4" y2="673.2" stroke="#555" stroke-width="0.8"/>
<text x="640.3" y="676.6" font-size="9.6" text-anchor="start" fill="#1a1a1a" >40</text>
<line x1="631.9" y1="663.2" x2="634.4" y2="663.2" stroke="#555" stroke-width="0.8"/>
<line x1="631.9" y1="653.1" x2="634.4" y2="653.1" stroke="#555" stroke-width="0.8"/>
<text x="640.3" y="656.5" font-size="9.6" text-anchor="start" fill="#1a1a1a" >50</text>
<line x1="631.9" y1="643.1" x2="634.4" y2="643.1" stroke="#555" stroke-width="0.8"/>
<line x1="631.9" y1="633.1" x2="634.4" y2="633.1" stroke="#555" stroke-width="0.8"/>
<text x="640.3" y="636.5" font-size="9.6" text-anchor="start" fill="#1a1a1a" >60</text>
<line x1="631.9" y1="623.1" x2="634.4" y2="623.1" stroke="#555" stroke-width="0.8"/>
<line x1="522.6" y1="712.8" x2="522.6" y2="715.3" stroke="#555" stroke-width="0.8"/>
<line x1="548.2" y1="712.8" x2="548.2" y2="715.3" stroke="#555" stroke-width="0.8"/>
<line x1="594.2" y1="712.8" x2="594.2" y2="715.3" stroke="#555" stroke-width="0.8"/>
<line x1="619.2" y1="712.8" x2="619.2" y2="715.3" stroke="#555" stroke-width="0.8"/>
<text x="0" y="0" font-size="10.6" text-anchor="middle" fill="#1a1a1a" transform="translate(483.6,660) rotate(-90)">Transfection specificity (%)</text>
<text x="0" y="0" font-size="10.6" text-anchor="middle" fill="#1a1a1a" transform="translate(669.5,660.2) rotate(-90)">Transfection efficiency (%)</text>
<line x1="516.6" y1="665.6" x2="554.4" y2="665.6" stroke="#555" stroke-width="0.9"/>
<text x="535.8" y="661.4" font-size="9.6" text-anchor="middle" fill="#1a1a1a" >N.S.</text>
<line x1="584.5" y1="628.3" x2="622.6" y2="628.3" stroke="#555" stroke-width="0.9"/>
<text x="603.7" y="624.3" font-size="9.6" text-anchor="middle" fill="#1a1a1a" >N.S.</text>
<circle cx="522.3" cy="677.9" r="1.8" fill="#4a94cc" opacity="0.85"/>
<circle cx="519.3" cy="689.7" r="1.8" fill="#4a94cc" opacity="0.85"/>
<circle cx="518.2" cy="680.5" r="1.8" fill="#4a94cc" opacity="0.85"/>
<circle cx="526.2" cy="674.2" r="1.8" fill="#4a94cc" opacity="0.85"/>
<circle cx="523.1" cy="683.0" r="1.8" fill="#4a94cc" opacity="0.85"/>
<circle cx="518.5" cy="678.0" r="1.8" fill="#4a94cc" opacity="0.85"/>
<circle cx="524.4" cy="679.4" r="1.8" fill="#4a94cc" opacity="0.85"/>
<circle cx="524.6" cy="674.8" r="1.8" fill="#4a94cc" opacity="0.85"/>
<circle cx="520.2" cy="674.4" r="1.8" fill="#4a94cc" opacity="0.85"/>
<circle cx="522.7" cy="691.4" r="1.8" fill="#4a94cc" opacity="0.85"/>
<circle cx="523.4" cy="687.1" r="1.8" fill="#4a94cc" opacity="0.85"/>
<circle cx="521.6" cy="686.3" r="1.8" fill="#4a94cc" opacity="0.85"/>
<circle cx="519.0" cy="676.6" r="1.8" fill="#4a94cc" opacity="0.85"/>
<circle cx="524.2" cy="685.8" r="1.8" fill="#4a94cc" opacity="0.85"/>
<circle cx="521.9" cy="674.2" r="1.8" fill="#4a94cc" opacity="0.85"/>
<circle cx="520.5" cy="675.4" r="1.8" fill="#4a94cc" opacity="0.85"/>
<circle cx="520.6" cy="688.1" r="1.8" fill="#4a94cc" opacity="0.85"/>
<circle cx="519.9" cy="690.3" r="1.8" fill="#4a94cc" opacity="0.85"/>
<circle cx="526.0" cy="674.0" r="1.8" fill="#4a94cc" opacity="0.85"/>
<circle cx="521.5" cy="680.2" r="1.8" fill="#4a94cc" opacity="0.85"/>
<circle cx="518.3" cy="678.9" r="1.8" fill="#4a94cc" opacity="0.85"/>
<circle cx="526.3" cy="674.4" r="1.8" fill="#4a94cc" opacity="0.85"/>
<line x1="513.4" y1="680.5" x2="532.5" y2="680.5" stroke="#333" stroke-width="0.9"/>
<path d="M546.27,673.03 L550.67,673.03 L548.47,676.33 Z" fill="#e03a48" opacity="0.9"/>
<path d="M546.09,689.28 L550.49,689.28 L548.29,692.58 Z" fill="#e03a48" opacity="0.9"/>
<path d="M542.33,670.65 L546.73,670.65 L544.53,673.95 Z" fill="#e03a48" opacity="0.9"/>
<path d="M541.14,681.82 L545.54,681.82 L543.34,685.12 Z" fill="#e03a48" opacity="0.9"/>
<path d="M540.47,672.26 L544.87,672.26 L542.67,675.56 Z" fill="#e03a48" opacity="0.9"/>
<path d="M545.27,689.82 L549.67,689.82 L547.47,693.12 Z" fill="#e03a48" opacity="0.9"/>
<path d="M544.50,678.84 L548.90,678.84 L546.70,682.14 Z" fill="#e03a48" opacity="0.9"/>
<path d="M546.69,672.44 L551.09,672.44 L548.89,675.74 Z" fill="#e03a48" opacity="0.9"/>
<path d="M546.10,674.10 L550.50,674.10 L548.30,677.40 Z" fill="#e03a48" opacity="0.9"/>
<path d="M546.39,690.60 L550.79,690.60 L548.59,693.90 Z" fill="#e03a48" opacity="0.9"/>
<path d="M540.84,682.14 L545.24,682.14 L543.04,685.44 Z" fill="#e03a48" opacity="0.9"/>
<path d="M546.36,673.62 L550.76,673.62 L548.56,676.92 Z" fill="#e03a48" opacity="0.9"/>
<path d="M542.98,691.37 L547.38,691.37 L545.18,694.67 Z" fill="#e03a48" opacity="0.9"/>
<path d="M550.28,673.03 L554.68,673.03 L552.48,676.33 Z" fill="#e03a48" opacity="0.9"/>
<path d="M547.35,690.45 L551.75,690.45 L549.55,693.75 Z" fill="#e03a48" opacity="0.9"/>
<path d="M542.67,683.31 L547.07,683.31 L544.87,686.61 Z" fill="#e03a48" opacity="0.9"/>
<path d="M540.73,678.16 L545.13,678.16 L542.93,681.46 Z" fill="#e03a48" opacity="0.9"/>
<path d="M547.04,682.88 L551.44,682.88 L549.24,686.18 Z" fill="#e03a48" opacity="0.9"/>
<line x1="539" y1="682.5" x2="557.6" y2="682.5" stroke="#333" stroke-width="0.9"/>
<path d="M594.47,639.76 L598.87,639.76 L596.67,643.06 Z" fill="#e03a48" opacity="0.9"/>
<path d="M590.62,676.29 L595.02,676.29 L592.82,679.59 Z" fill="#e03a48" opacity="0.9"/>
<path d="M592.76,656.89 L597.16,656.89 L594.96,660.19 Z" fill="#e03a48" opacity="0.9"/>
<path d="M591.12,682.03 L595.52,682.03 L593.32,685.33 Z" fill="#e03a48" opacity="0.9"/>
<path d="M592.67,636.54 L597.07,636.54 L594.87,639.84 Z" fill="#e03a48" opacity="0.9"/>
<path d="M594.69,651.13 L599.09,651.13 L596.89,654.43 Z" fill="#e03a48" opacity="0.9"/>
<path d="M591.40,645.71 L595.80,645.71 L593.60,649.01 Z" fill="#e03a48" opacity="0.9"/>
<path d="M591.50,650.94 L595.90,650.94 L593.70,654.24 Z" fill="#e03a48" opacity="0.9"/>
<path d="M588.30,665.27 L592.70,665.27 L590.50,668.57 Z" fill="#e03a48" opacity="0.9"/>
<path d="M588.43,672.53 L592.83,672.53 L590.63,675.83 Z" fill="#e03a48" opacity="0.9"/>
<path d="M587.73,672.37 L592.13,672.37 L589.93,675.67 Z" fill="#e03a48" opacity="0.9"/>
<path d="M594.77,659.05 L599.17,659.05 L596.97,662.35 Z" fill="#e03a48" opacity="0.9"/>
<path d="M593.89,647.35 L598.29,647.35 L596.09,650.65 Z" fill="#e03a48" opacity="0.9"/>
<path d="M594.14,655.66 L598.54,655.66 L596.34,658.96 Z" fill="#e03a48" opacity="0.9"/>
<path d="M589.58,680.99 L593.98,680.99 L591.78,684.29 Z" fill="#e03a48" opacity="0.9"/>
<path d="M591.11,653.21 L595.51,653.21 L593.31,656.51 Z" fill="#e03a48" opacity="0.9"/>
<line x1="584.5" y1="663.5" x2="604.4" y2="663.5" stroke="#333" stroke-width="0.9"/>
<line x1="594.2" y1="659.5" x2="594.2" y2="667.5" stroke="#333" stroke-width="0.9"/>
<circle cx="621.2" cy="635.5" r="1.8" fill="#4a94cc" opacity="0.85"/>
<circle cx="623.2" cy="636.5" r="1.8" fill="#4a94cc" opacity="0.85"/>
<circle cx="618.2" cy="637.5" r="1.8" fill="#4a94cc" opacity="0.85"/>
<circle cx="622.2" cy="638" r="1.8" fill="#4a94cc" opacity="0.85"/>
<circle cx="616.2" cy="639" r="1.8" fill="#4a94cc" opacity="0.85"/>
<circle cx="624.2" cy="637" r="1.8" fill="#4a94cc" opacity="0.85"/>
<circle cx="619.2" cy="647" r="1.8" fill="#4a94cc" opacity="0.85"/>
<circle cx="617.2" cy="649" r="1.8" fill="#4a94cc" opacity="0.85"/>
<circle cx="622.2" cy="652" r="1.8" fill="#4a94cc" opacity="0.85"/>
<circle cx="620.2" cy="655" r="1.8" fill="#4a94cc" opacity="0.85"/>
<circle cx="618.2" cy="657" r="1.8" fill="#4a94cc" opacity="0.85"/>
<circle cx="623.2" cy="658" r="1.8" fill="#4a94cc" opacity="0.85"/>
<circle cx="619.2" cy="661" r="1.8" fill="#4a94cc" opacity="0.85"/>
<circle cx="616.2" cy="668" r="1.8" fill="#4a94cc" opacity="0.85"/>
<circle cx="621.2" cy="670" r="1.8" fill="#4a94cc" opacity="0.85"/>
<circle cx="623.2" cy="672" r="1.8" fill="#4a94cc" opacity="0.85"/>
<circle cx="619.2" cy="677" r="1.8" fill="#4a94cc" opacity="0.85"/>
<line x1="609.3" y1="652.4" x2="629.2" y2="652.4" stroke="#333" stroke-width="0.9"/>
<line x1="619.2" y1="649" x2="619.2" y2="656" stroke="#333" stroke-width="0.9"/>
</svg>
</body></html>
